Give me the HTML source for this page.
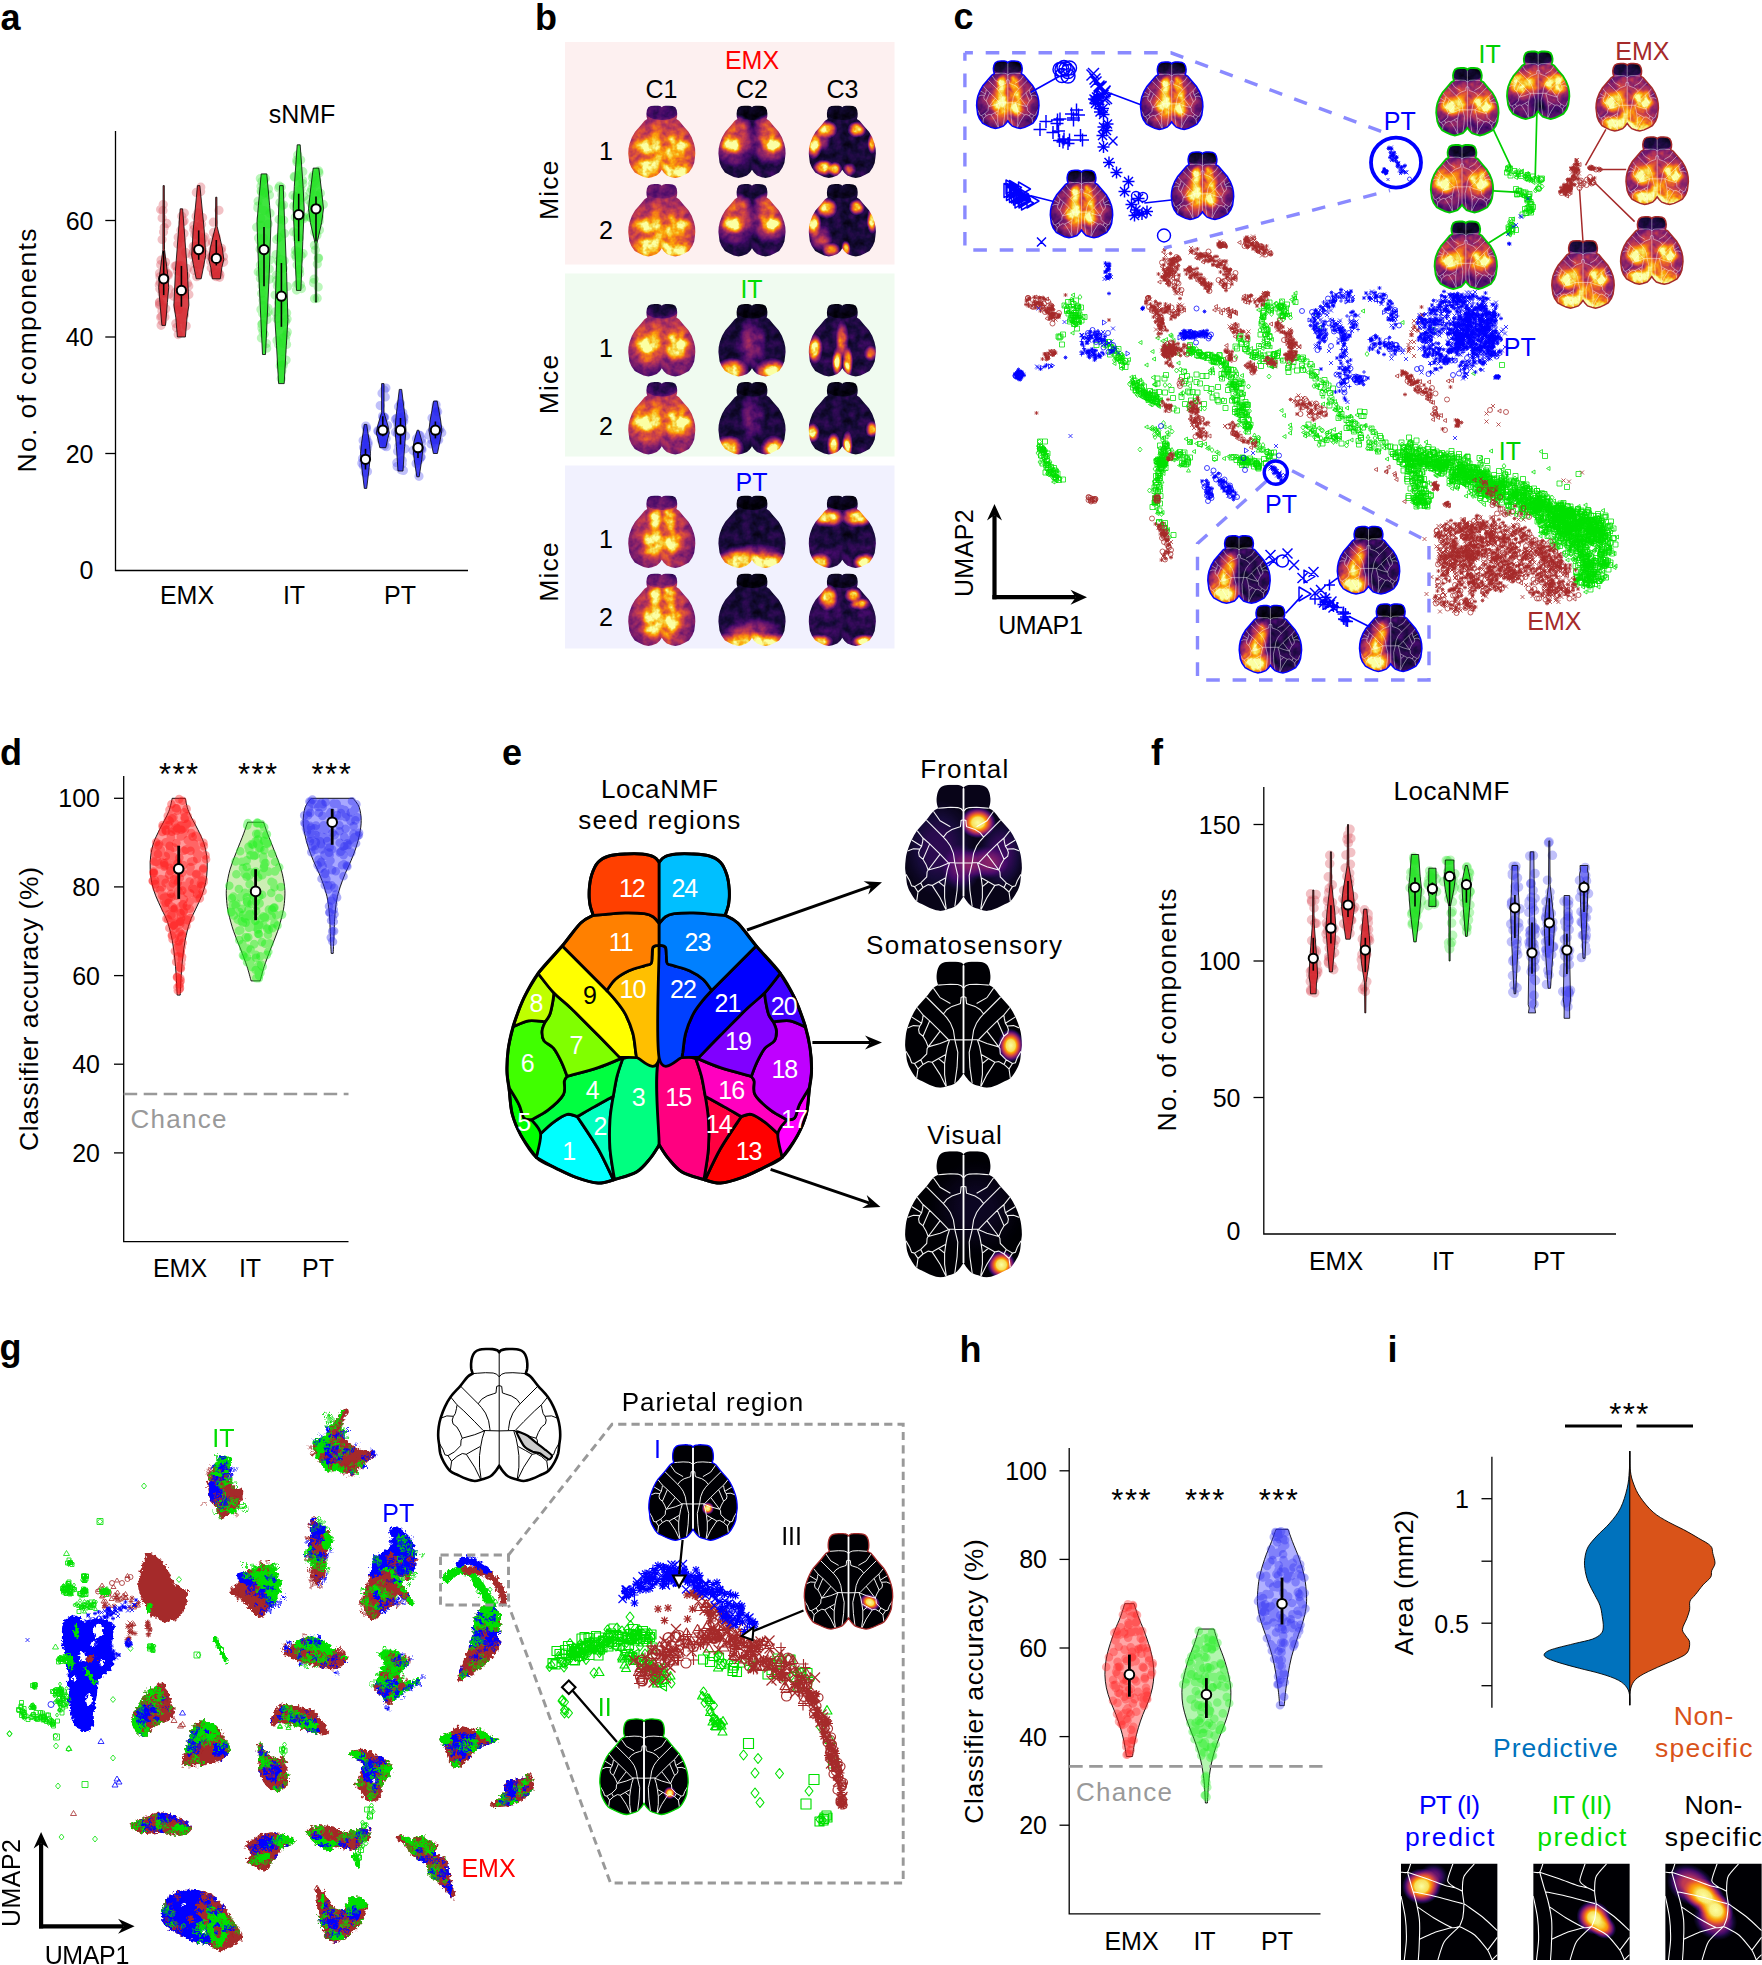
<!DOCTYPE html><html><head><meta charset="utf-8"><title>Figure</title><style>html,body{margin:0;padding:0;background:#fff}svg{display:block}</style></head><body><svg width="1762" height="1965" viewBox="0 0 1762 1965" font-family="'Liberation Sans',Arial,sans-serif" font-size="25"><defs><radialGradient id="hb"><stop offset="0" stop-color="#fff"/><stop offset=".35" stop-color="#fff" stop-opacity=".92"/><stop offset=".65" stop-color="#fff" stop-opacity=".5"/><stop offset=".85" stop-color="#fff" stop-opacity=".17"/><stop offset="1" stop-color="#fff" stop-opacity="0"/></radialGradient><radialGradient id="db"><stop offset="0" stop-color="#000" stop-opacity=".9"/><stop offset=".6" stop-color="#000" stop-opacity=".45"/><stop offset="1" stop-color="#000" stop-opacity="0"/></radialGradient><filter id="inf" color-interpolation-filters="sRGB" x="0" y="0" width="1" height="1"><feComponentTransfer><feFuncR type="table" tableValues="0 .086 .259 .416 .576 .737 .867 .953 .988 .965 .988"/><feFuncG type="table" tableValues="0 .043 .039 .09 .149 .216 .318 .471 .647 .843 1"/><feFuncB type="table" tableValues=".016 .224 .408 .431 .404 .329 .227 .098 .039 .275 .643"/></feComponentTransfer></filter><filter id="infn" color-interpolation-filters="sRGB" x="0" y="0" width="1" height="1"><feTurbulence type="fractalNoise" baseFrequency=".11" numOctaves="3" seed="4"/><feColorMatrix type="matrix" values="1 0 0 0 0 1 0 0 0 0 1 0 0 0 0 0 0 0 0 1" result="n"/><feComposite in="SourceGraphic" in2="n" operator="arithmetic" k1=".7" k2=".65" k3=".14" k4="-.07"/><feComponentTransfer><feFuncR type="table" tableValues="0 .086 .259 .416 .576 .737 .867 .953 .988 .965 .988"/><feFuncG type="table" tableValues="0 .043 .039 .09 .149 .216 .318 .471 .647 .843 1"/><feFuncB type="table" tableValues=".016 .224 .408 .431 .404 .329 .227 .098 .039 .275 .643"/></feComponentTransfer></filter><clipPath id="bc72_6"><path d="M0 1.8L-1.1 0.7L-3.7 0L-7.1 0L-10.9 0.4L-13.5 1.8L-14.9 4.6L-15.4 8L-15.3 11L-14.6 13.5L-17.3 15.2L-21.4 20.3L-26.7 26.3L-29.9 31.8L-32.2 38L-33.3 42.9L-33.6 48L-33.1 52.3L-32.4 57.4L-30.5 62L-27.1 66.9L-22.9 69.3L-18.2 71.4L-13.5 72.6L-9.7 71.7L-5 70.1L-2 67.2L0 64.2L2 67.2L5 70.1L9.7 71.7L13.5 72.6L18.2 71.4L22.9 69.3L27.1 66.9L30.5 62L32.4 57.4L33.1 52.3L33.6 48L33.3 42.9L32.2 38L29.9 31.8L26.7 26.3L21.4 20.3L17.3 15.2L14.6 13.5L15.3 11L15.4 8L14.9 4.6L13.5 1.8L10.9 0.4L7.1 0L3.7 0L1.1 0.7Z"/></clipPath><path id="bo72_6" d="M0 1.8L-1.1 0.7L-3.7 0L-7.1 0L-10.9 0.4L-13.5 1.8L-14.9 4.6L-15.4 8L-15.3 11L-14.6 13.5L-17.3 15.2L-21.4 20.3L-26.7 26.3L-29.9 31.8L-32.2 38L-33.3 42.9L-33.6 48L-33.1 52.3L-32.4 57.4L-30.5 62L-27.1 66.9L-22.9 69.3L-18.2 71.4L-13.5 72.6L-9.7 71.7L-5 70.1L-2 67.2L0 64.2L2 67.2L5 70.1L9.7 71.7L13.5 72.6L18.2 71.4L22.9 69.3L27.1 66.9L30.5 62L32.4 57.4L33.1 52.3L33.6 48L33.3 42.9L32.2 38L29.9 31.8L26.7 26.3L21.4 20.3L17.3 15.2L14.6 13.5L15.3 11L15.4 8L14.9 4.6L13.5 1.8L10.9 0.4L7.1 0L3.7 0L1.1 0.7Z" fill="none"/><path id="ba72_6x" d="M-14.6 13.5L-11.8 13.3L-7.5 13L-3.3 13.2L-1.4 13.9L0 15.3M14.6 13.5L11.8 13.3L7.5 13L3.3 13.2L1.4 13.9L0 15.3M-21.4 20.3L-11.6 30.1M21.4 20.3L11.6 30.1M-11.6 30.1L-9.7 27.7L-6.7 25.8L-3.3 24.7L-1.8 24.2L-1.6 22.5L-1.4 20.6L0 20.1M11.6 30.1L9.7 27.7L6.7 25.8L3.3 24.7L1.8 24.2L1.6 22.5L1.4 20.6L0 20.1M-11.6 30.1L-9.7 32.3L-7.5 35.2L-5.8 39.5L-5.2 43.7L-5 44.9M11.6 30.1L9.7 32.3L7.5 35.2L5.8 39.5L5.2 43.7L5 44.9M-26.7 26.4L-23.3 30.6L-19.4 34L-13.5 40L-8.8 44.8M26.7 26.4L23.3 30.6L19.4 34L13.5 40L8.8 44.8M-8.8 44.8L-5 44.9L0 45M8.8 44.8L5 44.9L0 45M-32.2 38.1L-28.8 36.8L-25.2 37M32.2 38.1L28.8 36.8L25.2 37M-23.3 31L-23.5 32.7L-24.1 35.4L-25.2 37.2L-25.8 39.1L-25.4 41.2L-23.3 42.9L-21.6 45.9L-20.3 49.1M23.3 31L23.5 32.7L24.1 35.4L25.2 37.2L25.8 39.1L25.4 41.2L23.3 42.9L21.6 45.9L20.3 49.1M-20.3 49.1L-13.5 47.2L-8.4 45.1M20.3 49.1L13.5 47.2L8.4 45.1M-20.3 49.1L-20.9 50.1L-21.2 53.1L-24.6 56.5L-28.2 58.6M20.3 49.1L20.9 50.1L21.2 53.1L24.6 56.5L28.2 58.6M-33.1 51.6L-30.9 55.2L-29.9 58.2L-28.2 58.6M33.1 51.6L30.9 55.2L29.9 58.2L28.2 58.6M-28.2 58.6L-26.2 61.7L-26.9 66.9M28.2 58.6L26.2 61.7L26.9 66.9M-26.2 61.7L-23.3 59.2L-20.3 57.5L-18.1 57.9M26.2 61.7L23.3 59.2L20.3 57.5L18.1 57.9M-18.1 57.9L-14.3 55.8L-10.4 53.6M18.1 57.9L14.3 55.8L10.4 53.6M-8 45.1L-9.3 49.1L-10.2 53.6L-10.9 58.6L-10.9 65L-9.9 71.7M8 45.1L9.3 49.1L10.2 53.6L10.9 58.6L10.9 65L9.9 71.7M-18.1 57.9L-13.5 65L-10.1 71.9M18.1 57.9L13.5 65L10.1 71.9M-17.3 15.2L-13.5 20.8L-7.5 24.2M17.3 15.2L13.5 20.8L7.5 24.2M-5 44.9L-3.3 52.3L-3.7 60.8L-5 70.1M5 44.9L3.3 52.3L3.7 60.8L5 70.1M-19.4 34L-23.3 42.9M19.4 34L23.3 42.9M-13.5 40L-20.3 49.1M13.5 40L20.3 49.1M-29.9 31.8L-24.1 35.4M29.9 31.8L24.1 35.4M-24.6 56.5L-23.3 59.2M24.6 56.5L23.3 59.2M-14.3 55.8L-10.9 58.6M14.3 55.8L10.9 58.6M0 1.8L0 64.2" fill="none"/><clipPath id="bc126_2"><path d="M0 3.2C-0.3 2.8 -0.9 1.7 -2 1.2C-3.1 0.7 -4.7 0.3 -6.4 0.1C-8.2 -0.1 -10.3 -0.1 -12.4 0C-14.4 0.1 -17.2 0.2 -19 0.7C-20.9 1.3 -22.3 2 -23.4 3.2C-24.6 4.4 -25.3 6.2 -25.9 8C-26.5 9.8 -26.7 12.1 -26.9 13.9C-27 15.8 -26.9 17.5 -26.6 19.1C-26.4 20.7 -25.5 22.8 -25.3 23.5C-26.1 24 -28.1 24.5 -30.1 26.5C-32.1 28.4 -34.4 32 -37.1 35.2C-39.8 38.4 -43.9 42.4 -46.4 45.7C-48.8 49.1 -50.3 51.9 -51.9 55.3C-53.5 58.7 -55 62.9 -56 66.1C-57 69.3 -57.5 71.7 -57.8 74.6C-58.2 77.5 -58.4 80.7 -58.4 83.4C-58.3 86.2 -57.8 88.1 -57.5 90.8C-57.1 93.6 -57.1 96.9 -56.4 99.7C-55.6 102.6 -54.6 105.1 -53 107.9C-51.5 110.6 -49.3 114.3 -47.1 116.4C-44.9 118.5 -42.3 119.1 -39.7 120.4C-37.1 121.7 -34.3 123.2 -31.6 124.1C-28.9 125.1 -25.9 126.1 -23.4 126.2C-21 126.3 -19.3 125.4 -16.8 124.7C-14.3 124 -10.9 123.2 -8.7 121.9C-6.4 120.6 -4.9 118.5 -3.5 116.7C-2 115 -0.6 112.4 0 111.6C0.6 112.4 2 115 3.5 116.7C4.9 118.5 6.4 120.6 8.7 121.9C10.9 123.2 14.3 124 16.8 124.7C19.3 125.4 21 126.3 23.4 126.2C25.9 126.1 28.9 125.1 31.6 124.1C34.3 123.2 37.1 121.7 39.7 120.4C42.3 119.1 44.9 118.5 47.1 116.4C49.3 114.3 51.5 110.6 53 107.9C54.6 105.1 55.6 102.6 56.4 99.7C57.1 96.9 57.1 93.6 57.5 90.8C57.8 88.1 58.3 86.2 58.4 83.4C58.4 80.7 58.2 77.5 57.8 74.6C57.5 71.7 57 69.3 56 66.1C55 62.9 53.5 58.7 51.9 55.3C50.3 51.9 48.8 49.1 46.4 45.7C43.9 42.4 39.8 38.4 37.1 35.2C34.4 32 32.1 28.4 30.1 26.5C28.1 24.5 26.1 24 25.3 23.5C25.5 22.8 26.4 20.7 26.6 19.1C26.9 17.5 27 15.8 26.9 13.9C26.7 12.1 26.5 9.8 25.9 8C25.3 6.2 24.6 4.4 23.4 3.2C22.3 2 20.9 1.3 19 0.7C17.2 0.2 14.4 0.1 12.4 0C10.3 -0.1 8.2 -0.1 6.4 0.1C4.7 0.3 3.1 0.7 2 1.2C0.9 1.7 0.3 2.8 0 3.2Z"/></clipPath><path id="bo126_2" d="M0 3.2C-0.3 2.8 -0.9 1.7 -2 1.2C-3.1 0.7 -4.7 0.3 -6.4 0.1C-8.2 -0.1 -10.3 -0.1 -12.4 0C-14.4 0.1 -17.2 0.2 -19 0.7C-20.9 1.3 -22.3 2 -23.4 3.2C-24.6 4.4 -25.3 6.2 -25.9 8C-26.5 9.8 -26.7 12.1 -26.9 13.9C-27 15.8 -26.9 17.5 -26.6 19.1C-26.4 20.7 -25.5 22.8 -25.3 23.5C-26.1 24 -28.1 24.5 -30.1 26.5C-32.1 28.4 -34.4 32 -37.1 35.2C-39.8 38.4 -43.9 42.4 -46.4 45.7C-48.8 49.1 -50.3 51.9 -51.9 55.3C-53.5 58.7 -55 62.9 -56 66.1C-57 69.3 -57.5 71.7 -57.8 74.6C-58.2 77.5 -58.4 80.7 -58.4 83.4C-58.3 86.2 -57.8 88.1 -57.5 90.8C-57.1 93.6 -57.1 96.9 -56.4 99.7C-55.6 102.6 -54.6 105.1 -53 107.9C-51.5 110.6 -49.3 114.3 -47.1 116.4C-44.9 118.5 -42.3 119.1 -39.7 120.4C-37.1 121.7 -34.3 123.2 -31.6 124.1C-28.9 125.1 -25.9 126.1 -23.4 126.2C-21 126.3 -19.3 125.4 -16.8 124.7C-14.3 124 -10.9 123.2 -8.7 121.9C-6.4 120.6 -4.9 118.5 -3.5 116.7C-2 115 -0.6 112.4 0 111.6C0.6 112.4 2 115 3.5 116.7C4.9 118.5 6.4 120.6 8.7 121.9C10.9 123.2 14.3 124 16.8 124.7C19.3 125.4 21 126.3 23.4 126.2C25.9 126.1 28.9 125.1 31.6 124.1C34.3 123.2 37.1 121.7 39.7 120.4C42.3 119.1 44.9 118.5 47.1 116.4C49.3 114.3 51.5 110.6 53 107.9C54.6 105.1 55.6 102.6 56.4 99.7C57.1 96.9 57.1 93.6 57.5 90.8C57.8 88.1 58.3 86.2 58.4 83.4C58.4 80.7 58.2 77.5 57.8 74.6C57.5 71.7 57 69.3 56 66.1C55 62.9 53.5 58.7 51.9 55.3C50.3 51.9 48.8 49.1 46.4 45.7C43.9 42.4 39.8 38.4 37.1 35.2C34.4 32 32.1 28.4 30.1 26.5C28.1 24.5 26.1 24 25.3 23.5C25.5 22.8 26.4 20.7 26.6 19.1C26.9 17.5 27 15.8 26.9 13.9C26.7 12.1 26.5 9.8 25.9 8C25.3 6.2 24.6 4.4 23.4 3.2C22.3 2 20.9 1.3 19 0.7C17.2 0.2 14.4 0.1 12.4 0C10.3 -0.1 8.2 -0.1 6.4 0.1C4.7 0.3 3.1 0.7 2 1.2C0.9 1.7 0.3 2.8 0 3.2Z" fill="none"/><path id="ba126_2x" d="M-25.3 23.5L-20.5 23.2L-13.1 22.6L-5.7 22.9L-2.4 24.1L0 26.6M25.3 23.5L20.5 23.2L13.1 22.6L5.7 22.9L2.4 24.1L0 26.6M-37.1 35.4L-20.1 52.4M37.1 35.4L20.1 52.4M-20.1 52.4L-16.8 48.1L-11.6 44.8L-5.7 42.9L-3.1 42L-2.7 39.1L-2.4 35.7L0 35M20.1 52.4L16.8 48.1L11.6 44.8L5.7 42.9L3.1 42L2.7 39.1L2.4 35.7L0 35M-20.1 52.4L-16.8 56.1L-13.1 61.3L-10.1 68.6L-9 76L-8.7 78.1M20.1 52.4L16.8 56.1L13.1 61.3L10.1 68.6L9 76L8.7 78.1M-46.4 45.9L-40.5 53.3L-33.8 59.2L-23.4 69.5L-15.3 77.9M46.4 45.9L40.5 53.3L33.8 59.2L23.4 69.5L15.3 77.9M-15.3 77.9L-8.7 78.1L0 78.3M15.3 77.9L8.7 78.1L0 78.3M-56 66.3L-50.1 64L-43.8 64.4M56 66.3L50.1 64L43.8 64.4M-40.5 53.9L-40.8 56.8L-41.9 61.6L-43.8 64.6L-44.9 67.9L-44.2 71.6L-40.5 74.6L-37.5 79.7L-35.3 85.3M40.5 53.9L40.8 56.8L41.9 61.6L43.8 64.6L44.9 67.9L44.2 71.6L40.5 74.6L37.5 79.7L35.3 85.3M-35.3 85.3L-23.4 82L-14.6 78.4M35.3 85.3L23.4 82L14.6 78.4M-35.3 85.3L-36.4 87.1L-36.8 92.3L-42.7 98.2L-49 101.9M35.3 85.3L36.4 87.1L36.8 92.3L42.7 98.2L49 101.9M-57.5 89.7L-53.8 96L-51.9 101.2L-49 101.9M57.5 89.7L53.8 96L51.9 101.2L49 101.9M-49 101.9L-45.5 107.3L-46.8 116.4M49 101.9L45.5 107.3L46.8 116.4M-45.5 107.3L-40.5 102.8L-35.3 99.9L-31.4 100.7M45.5 107.3L40.5 102.8L35.3 99.9L31.4 100.7M-31.4 100.7L-24.9 97L-18.1 93.2M31.4 100.7L24.9 97L18.1 93.2M-14 78.4L-16.2 85.3L-17.7 93.2L-18.9 101.9L-18.9 113L-17.2 124.7M14 78.4L16.2 85.3L17.7 93.2L18.9 101.9L18.9 113L17.2 124.7M-31.4 100.7L-23.4 113L-17.5 125M31.4 100.7L23.4 113L17.5 125M-30.1 26.5L-23.4 36.1L-13.1 42M30.1 26.5L23.4 36.1L13.1 42M-8.7 78.1L-5.7 90.8L-6.4 105.6L-8.7 121.9M8.7 78.1L5.7 90.8L6.4 105.6L8.7 121.9M-33.8 59.2L-40.5 74.6M33.8 59.2L40.5 74.6M-23.4 69.5L-35.3 85.3M23.4 69.5L35.3 85.3M-51.9 55.3L-41.9 61.6M51.9 55.3L41.9 61.6M-42.7 98.2L-40.5 102.8M42.7 98.2L40.5 102.8M-24.9 97L-18.9 101.9M24.9 97L18.9 101.9M0 3.2L0 111.6" fill="none"/><clipPath id="bc67_5"><path d="M0 1.7L-1.1 0.6L-3.4 0L-6.6 0L-10.2 0.4L-12.5 1.7L-13.8 4.3L-14.4 7.4L-14.2 10.2L-13.5 12.6L-16.1 14.2L-19.9 18.8L-24.8 24.5L-27.8 29.6L-30 35.3L-30.9 39.9L-31.2 44.6L-30.7 48.6L-30.1 53.3L-28.4 57.7L-25.2 62.2L-21.2 64.4L-16.9 66.4L-12.5 67.5L-9 66.7L-4.6 65.2L-1.9 62.4L0 59.7L1.9 62.4L4.6 65.2L9 66.7L12.5 67.5L16.9 66.4L21.2 64.4L25.2 62.2L28.4 57.7L30.1 53.3L30.7 48.6L31.2 44.6L30.9 39.9L30 35.3L27.8 29.6L24.8 24.5L19.9 18.8L16.1 14.2L13.5 12.6L14.2 10.2L14.4 7.4L13.8 4.3L12.5 1.7L10.2 0.4L6.6 0L3.4 0L1.1 0.6Z"/></clipPath><path id="bo67_5" d="M0 1.7L-1.1 0.6L-3.4 0L-6.6 0L-10.2 0.4L-12.5 1.7L-13.8 4.3L-14.4 7.4L-14.2 10.2L-13.5 12.6L-16.1 14.2L-19.9 18.8L-24.8 24.5L-27.8 29.6L-30 35.3L-30.9 39.9L-31.2 44.6L-30.7 48.6L-30.1 53.3L-28.4 57.7L-25.2 62.2L-21.2 64.4L-16.9 66.4L-12.5 67.5L-9 66.7L-4.6 65.2L-1.9 62.4L0 59.7L1.9 62.4L4.6 65.2L9 66.7L12.5 67.5L16.9 66.4L21.2 64.4L25.2 62.2L28.4 57.7L30.1 53.3L30.7 48.6L31.2 44.6L30.9 39.9L30 35.3L27.8 29.6L24.8 24.5L19.9 18.8L16.1 14.2L13.5 12.6L14.2 10.2L14.4 7.4L13.8 4.3L12.5 1.7L10.2 0.4L6.6 0L3.4 0L1.1 0.6Z" fill="none"/><path id="ba67_5x" d="M-13.5 12.6L-11 12.4L-7 12.1L-3 12.3L-1.3 12.9L0 14.2M13.5 12.6L11 12.4L7 12.1L3 12.3L1.3 12.9L0 14.2M-19.9 18.9L-10.8 28M19.9 18.9L10.8 28M-10.8 28L-9 25.7L-6.2 24L-3 22.9L-1.7 22.5L-1.5 20.9L-1.3 19.1L0 18.7M10.8 28L9 25.7L6.2 24L3 22.9L1.7 22.5L1.5 20.9L1.3 19.1L0 18.7M-10.8 28L-9 30L-7 32.8L-5.4 36.7L-4.8 40.7L-4.6 41.8M10.8 28L9 30L7 32.8L5.4 36.7L4.8 40.7L4.6 41.8M-24.8 24.5L-21.6 28.5L-18.1 31.7L-12.5 37.2L-8.2 41.7M24.8 24.5L21.6 28.5L18.1 31.7L12.5 37.2L8.2 41.7M-8.2 41.7L-4.6 41.8L0 41.9M8.2 41.7L4.6 41.8L0 41.9M-30 35.5L-26.8 34.2L-23.4 34.4M30 35.5L26.8 34.2L23.4 34.4M-21.6 28.8L-21.8 30.4L-22.4 33L-23.4 34.5L-24 36.3L-23.6 38.3L-21.6 39.9L-20.1 42.7L-18.9 45.6M21.6 28.8L21.8 30.4L22.4 33L23.4 34.5L24 36.3L23.6 38.3L21.6 39.9L20.1 42.7L18.9 45.6M-18.9 45.6L-12.5 43.8L-7.8 41.9M18.9 45.6L12.5 43.8L7.8 41.9M-18.9 45.6L-19.5 46.6L-19.7 49.4L-22.8 52.5L-26.2 54.5M18.9 45.6L19.5 46.6L19.7 49.4L22.8 52.5L26.2 54.5M-30.7 48L-28.8 51.4L-27.8 54.1L-26.2 54.5M30.7 48L28.8 51.4L27.8 54.1L26.2 54.5M-26.2 54.5L-24.3 57.4L-25 62.2M26.2 54.5L24.3 57.4L25 62.2M-24.3 57.4L-21.6 55L-18.9 53.4L-16.8 53.8M24.3 57.4L21.6 55L18.9 53.4L16.8 53.8M-16.8 53.8L-13.3 51.9L-9.7 49.9M16.8 53.8L13.3 51.9L9.7 49.9M-7.5 41.9L-8.7 45.6L-9.5 49.9L-10.1 54.5L-10.1 60.5L-9.2 66.7M7.5 41.9L8.7 45.6L9.5 49.9L10.1 54.5L10.1 60.5L9.2 66.7M-16.8 53.8L-12.5 60.5L-9.4 66.9M16.8 53.8L12.5 60.5L9.4 66.9M-16.1 14.2L-12.5 19.3L-7 22.5M16.1 14.2L12.5 19.3L7 22.5M-4.6 41.8L-3 48.6L-3.4 56.5L-4.6 65.2M4.6 41.8L3 48.6L3.4 56.5L4.6 65.2M-18.1 31.7L-21.6 39.9M18.1 31.7L21.6 39.9M-12.5 37.2L-18.9 45.6M12.5 37.2L18.9 45.6M-27.8 29.6L-22.4 33M27.8 29.6L22.4 33M-22.8 52.5L-21.6 55M22.8 52.5L21.6 55M-13.3 51.9L-10.1 54.5M13.3 51.9L10.1 54.5M0 1.7L0 59.7" fill="none"/><clipPath id="bc95_5"><path d="M0 2.4C-0.3 2.2 -0.7 1.3 -1.5 0.9C-2.3 0.5 -3.6 0.2 -4.9 0.1C-6.2 -0.1 -7.8 -0.1 -9.3 0C-10.9 0.1 -13 0.2 -14.4 0.6C-15.8 1 -16.9 1.5 -17.7 2.4C-18.6 3.3 -19.2 4.7 -19.6 6C-20 7.4 -20.2 9.1 -20.3 10.5C-20.4 11.9 -20.3 13.2 -20.2 14.4C-20 15.7 -19.3 17.2 -19.1 17.8C-19.8 18.2 -21.3 18.6 -22.8 20C-24.3 21.5 -26 24.2 -28.1 26.6C-30.2 29.1 -33.2 32.1 -35.1 34.6C-37 37.1 -38.1 39.3 -39.3 41.9C-40.5 44.4 -41.6 47.6 -42.4 50C-43.1 52.4 -43.5 54.2 -43.8 56.4C-44.1 58.6 -44.2 61.1 -44.2 63.1C-44.1 65.2 -43.7 66.7 -43.5 68.7C-43.2 70.8 -43.2 73.3 -42.7 75.5C-42.1 77.6 -41.3 79.5 -40.1 81.6C-39 83.7 -37.3 86.5 -35.7 88.1C-34 89.6 -32 90.2 -30.1 91.1C-28.1 92.1 -26 93.2 -23.9 93.9C-21.9 94.7 -19.6 95.4 -17.7 95.5C-15.9 95.6 -14.6 94.9 -12.7 94.4C-10.8 93.8 -8.2 93.3 -6.5 92.3C-4.9 91.2 -3.7 89.6 -2.6 88.3C-1.5 87 -0.4 85.1 0 84.4C0.4 85.1 1.5 87 2.6 88.3C3.7 89.6 4.9 91.2 6.5 92.3C8.2 93.3 10.8 93.8 12.7 94.4C14.6 94.9 15.9 95.6 17.7 95.5C19.6 95.4 21.9 94.7 23.9 93.9C26 93.2 28.1 92.1 30.1 91.1C32 90.2 34 89.6 35.7 88.1C37.3 86.5 39 83.7 40.1 81.6C41.3 79.5 42.1 77.6 42.7 75.5C43.2 73.3 43.2 70.8 43.5 68.7C43.7 66.7 44.1 65.2 44.2 63.1C44.2 61.1 44.1 58.6 43.8 56.4C43.5 54.2 43.1 52.4 42.4 50C41.6 47.6 40.5 44.4 39.3 41.9C38.1 39.3 37 37.1 35.1 34.6C33.2 32.1 30.2 29.1 28.1 26.6C26 24.2 24.3 21.5 22.8 20C21.3 18.6 19.8 18.2 19.1 17.8C19.3 17.2 20 15.7 20.2 14.4C20.3 13.2 20.4 11.9 20.3 10.5C20.2 9.1 20 7.4 19.6 6C19.2 4.7 18.6 3.3 17.7 2.4C16.9 1.5 15.8 1 14.4 0.6C13 0.2 10.9 0.1 9.3 0C7.8 -0.1 6.2 -0.1 4.9 0.1C3.6 0.2 2.3 0.5 1.5 0.9C0.7 1.3 0.3 2.2 0 2.4Z"/></clipPath><path id="bo95_5" d="M0 2.4C-0.3 2.2 -0.7 1.3 -1.5 0.9C-2.3 0.5 -3.6 0.2 -4.9 0.1C-6.2 -0.1 -7.8 -0.1 -9.3 0C-10.9 0.1 -13 0.2 -14.4 0.6C-15.8 1 -16.9 1.5 -17.7 2.4C-18.6 3.3 -19.2 4.7 -19.6 6C-20 7.4 -20.2 9.1 -20.3 10.5C-20.4 11.9 -20.3 13.2 -20.2 14.4C-20 15.7 -19.3 17.2 -19.1 17.8C-19.8 18.2 -21.3 18.6 -22.8 20C-24.3 21.5 -26 24.2 -28.1 26.6C-30.2 29.1 -33.2 32.1 -35.1 34.6C-37 37.1 -38.1 39.3 -39.3 41.9C-40.5 44.4 -41.6 47.6 -42.4 50C-43.1 52.4 -43.5 54.2 -43.8 56.4C-44.1 58.6 -44.2 61.1 -44.2 63.1C-44.1 65.2 -43.7 66.7 -43.5 68.7C-43.2 70.8 -43.2 73.3 -42.7 75.5C-42.1 77.6 -41.3 79.5 -40.1 81.6C-39 83.7 -37.3 86.5 -35.7 88.1C-34 89.6 -32 90.2 -30.1 91.1C-28.1 92.1 -26 93.2 -23.9 93.9C-21.9 94.7 -19.6 95.4 -17.7 95.5C-15.9 95.6 -14.6 94.9 -12.7 94.4C-10.8 93.8 -8.2 93.3 -6.5 92.3C-4.9 91.2 -3.7 89.6 -2.6 88.3C-1.5 87 -0.4 85.1 0 84.4C0.4 85.1 1.5 87 2.6 88.3C3.7 89.6 4.9 91.2 6.5 92.3C8.2 93.3 10.8 93.8 12.7 94.4C14.6 94.9 15.9 95.6 17.7 95.5C19.6 95.4 21.9 94.7 23.9 93.9C26 93.2 28.1 92.1 30.1 91.1C32 90.2 34 89.6 35.7 88.1C37.3 86.5 39 83.7 40.1 81.6C41.3 79.5 42.1 77.6 42.7 75.5C43.2 73.3 43.2 70.8 43.5 68.7C43.7 66.7 44.1 65.2 44.2 63.1C44.2 61.1 44.1 58.6 43.8 56.4C43.5 54.2 43.1 52.4 42.4 50C41.6 47.6 40.5 44.4 39.3 41.9C38.1 39.3 37 37.1 35.1 34.6C33.2 32.1 30.2 29.1 28.1 26.6C26 24.2 24.3 21.5 22.8 20C21.3 18.6 19.8 18.2 19.1 17.8C19.3 17.2 20 15.7 20.2 14.4C20.3 13.2 20.4 11.9 20.3 10.5C20.2 9.1 20 7.4 19.6 6C19.2 4.7 18.6 3.3 17.7 2.4C16.9 1.5 15.8 1 14.4 0.6C13 0.2 10.9 0.1 9.3 0C7.8 -0.1 6.2 -0.1 4.9 0.1C3.6 0.2 2.3 0.5 1.5 0.9C0.7 1.3 0.3 2.2 0 2.4Z" fill="none"/><path id="ba95_5x" d="M-19.1 17.8L-15.5 17.5L-9.9 17.1L-4.3 17.4L-1.8 18.2L0 20.2M19.1 17.8L15.5 17.5L9.9 17.1L4.3 17.4L1.8 18.2L0 20.2M-28.1 26.8L-15.2 39.6M28.1 26.8L15.2 39.6M-15.2 39.6L-12.7 36.4L-8.8 33.9L-4.3 32.5L-2.4 31.8L-2.1 29.6L-1.8 27L0 26.5M15.2 39.6L12.7 36.4L8.8 33.9L4.3 32.5L2.4 31.8L2.1 29.6L1.8 27L0 26.5M-15.2 39.6L-12.7 42.4L-9.9 46.4L-7.7 51.9L-6.8 57.5L-6.5 59.1M15.2 39.6L12.7 42.4L9.9 46.4L7.7 51.9L6.8 57.5L6.5 59.1M-35.1 34.7L-30.6 40.3L-25.6 44.8L-17.7 52.6L-11.6 58.9M35.1 34.7L30.6 40.3L25.6 44.8L17.7 52.6L11.6 58.9M-11.6 58.9L-6.5 59.1L0 59.2M11.6 58.9L6.5 59.1L0 59.2M-42.4 50.2L-37.9 48.4L-33.1 48.7M42.4 50.2L37.9 48.4L33.1 48.7M-30.6 40.8L-30.9 43L-31.7 46.6L-33.1 48.9L-34 51.4L-33.4 54.2L-30.6 56.4L-28.4 60.3L-26.7 64.5M30.6 40.8L30.9 43L31.7 46.6L33.1 48.9L34 51.4L33.4 54.2L30.6 56.4L28.4 60.3L26.7 64.5M-26.7 64.5L-17.7 62L-11 59.3M26.7 64.5L17.7 62L11 59.3M-26.7 64.5L-27.5 65.9L-27.8 69.9L-32.3 74.3L-37.1 77.1M26.7 64.5L27.5 65.9L27.8 69.9L32.3 74.3L37.1 77.1M-43.5 67.9L-40.7 72.7L-39.3 76.6L-37.1 77.1M43.5 67.9L40.7 72.7L39.3 76.6L37.1 77.1M-37.1 77.1L-34.4 81.2L-35.4 88.1M37.1 77.1L34.4 81.2L35.4 88.1M-34.4 81.2L-30.6 77.8L-26.7 75.6L-23.8 76.2M34.4 81.2L30.6 77.8L26.7 75.6L23.8 76.2M-23.8 76.2L-18.9 73.4L-13.7 70.5M23.8 76.2L18.9 73.4L13.7 70.5M-10.6 59.3L-12.3 64.5L-13.4 70.5L-14.3 77.1L-14.3 85.5L-13 94.4M10.6 59.3L12.3 64.5L13.4 70.5L14.3 77.1L14.3 85.5L13 94.4M-23.8 76.2L-17.7 85.5L-13.3 94.6M23.8 76.2L17.7 85.5L13.3 94.6M-22.8 20L-17.7 27.3L-9.9 31.8M22.8 20L17.7 27.3L9.9 31.8M-6.5 59.1L-4.3 68.7L-4.9 79.9L-6.5 92.3M6.5 59.1L4.3 68.7L4.9 79.9L6.5 92.3M-25.6 44.8L-30.6 56.4M25.6 44.8L30.6 56.4M-17.7 52.6L-26.7 64.5M17.7 52.6L26.7 64.5M-39.3 41.9L-31.7 46.6M39.3 41.9L31.7 46.6M-32.3 74.3L-30.6 77.8M32.3 74.3L30.6 77.8M-18.9 73.4L-14.3 77.1M18.9 73.4L14.3 77.1M0 2.4L0 84.4" fill="none"/></defs><text x="0.5" y="29.5" font-size="36" font-weight="bold">a</text><text x="535" y="29.5" font-size="36" font-weight="bold">b</text><text x="953.5" y="28.5" font-size="36" font-weight="bold">c</text><text x="0" y="765" font-size="36" font-weight="bold">d</text><text x="502" y="765" font-size="36" font-weight="bold">e</text><text x="1151" y="765" font-size="36" font-weight="bold">f</text><text x="-0.5" y="1360" font-size="36" font-weight="bold">g</text><text x="959.5" y="1362" font-size="36" font-weight="bold">h</text><text x="1387.5" y="1362" font-size="36" font-weight="bold">i</text><path d="M115.5 131V570.5H468" stroke="#000" stroke-width="1.3" fill="none"/><text x="93.5" y="579" font-size="25" text-anchor="end">0</text><text x="93.5" y="462.5" font-size="25" text-anchor="end">20</text><text x="93.5" y="346" font-size="25" text-anchor="end">40</text><text x="93.5" y="229.5" font-size="25" text-anchor="end">60</text><text x="302" y="123" font-size="25" text-anchor="middle">sNMF</text><text x="35.5" y="350.5" font-size="26.5" textLength="244" text-anchor="middle" transform="rotate(-90 35.5 350.5)">No. of components</text><path d="M105.3 453.5L115.5 453.5" stroke="#000" stroke-width="1.3" fill="none"/><path d="M105.3 337L115.5 337" stroke="#000" stroke-width="1.3" fill="none"/><path d="M105.3 220.5L115.5 220.5" stroke="#000" stroke-width="1.3" fill="none"/><text x="187" y="604" font-size="25" text-anchor="middle">EMX</text><text x="294" y="604" font-size="25" text-anchor="middle">IT</text><text x="400" y="604" font-size="25" text-anchor="middle">PT</text><g stroke="#d8434e" stroke-opacity="0.33" stroke-width="9.2" stroke-linecap="round" fill="none"><path d="M165.3 280.1h0M160.7 264.7h0M160.2 282.2h0M164.3 265.6h0M166.8 223.4h0M164.7 281.5h0M159.5 301.9h0M163.2 204.6h0M164.7 292.7h0M164.9 269.6h0M161.1 325.3h0M159.9 276.8h0M160.6 209.5h0M168.9 294.2h0M169 289.1h0"/><path d="M162.7 315.2h0M164.8 308h0M159.5 273.3h0M165.6 262h0M165.8 308.8h0M163 210.4h0M162.1 218h0M168.3 275.2h0M162.8 288.6h0M161.7 316.6h0M167.4 274.5h0M161 260.2h0M159.5 304.9h0M162.1 293.7h0M161 274.4h0"/><path d="M160.6 317.2h0M159.3 284.9h0M164.9 317h0M164.2 227.6h0M159.5 304.1h0M163.5 231.9h0M164.1 314.1h0M161.3 304.3h0M168.1 273.7h0M159.5 302.7h0M162.1 239.5h0M161.9 311.1h0M159.8 288.8h0M162.3 321.3h0"/></g><path d="M164.3 185.6L164.5 249.6L167.7 274.3L168.7 287.5L167.4 302.6L165.5 325.4L161.9 325.4L159.9 302.6L158.7 287.5L159.7 274.3L162.9 249.6L163.1 185.6Z" fill="#d42027" fill-opacity="0.85" stroke="#000" stroke-width="0.8" stroke-linejoin="round"/><path d="M163.7 295.1L163.7 250.8" stroke="#000" stroke-width="1.6" fill="none"/><circle cx="163.7" cy="278.8" r="4.6" fill="#fff" stroke="#000" stroke-width="2"/><g stroke="#d8434e" stroke-opacity="0.33" stroke-width="9.2" stroke-linecap="round" fill="none"><path d="M183.2 311.8h0M185.5 275.7h0M177.8 244.1h0M186.2 253.7h0M177.4 306.2h0M184.1 221.1h0M184.5 314.9h0M178.5 265.2h0M180.7 271.4h0M180.7 319.4h0M185.6 252.4h0M180.9 230.3h0M175.1 266h0M178.2 237.2h0"/><path d="M185.6 275.6h0M188.9 294.4h0M184 233.6h0M186.2 281.4h0M187.5 283.3h0M181.7 272.7h0M181.6 265.7h0M181.9 238h0M187.3 268.7h0M176.5 327.7h0M184.3 213h0M177.2 270.9h0M181.6 294.5h0M186.1 282.9h0"/><path d="M186.2 326.1h0M188.2 286.3h0M175.6 292.1h0M178.2 310h0M182.7 291.7h0M178.2 334.6h0M176.3 265.8h0M181.5 280.2h0M181.8 216.3h0M182.8 222h0M188.8 286h0M173.7 296.2h0M175.8 323.6h0"/></g><path d="M182.6 208.8L187.4 271.4L188.9 305L187 317.8L185.4 337L177.4 337L175.8 317.8L173.9 305L175.4 271.4L180.2 208.8Z" fill="#d42027" fill-opacity="0.85" stroke="#000" stroke-width="0.8" stroke-linejoin="round"/><path d="M181.4 306.7L181.4 265.9" stroke="#000" stroke-width="1.6" fill="none"/><circle cx="181.4" cy="290.4" r="4.6" fill="#fff" stroke="#000" stroke-width="2"/><g stroke="#d8434e" stroke-opacity="0.33" stroke-width="9.2" stroke-linecap="round" fill="none"><path d="M205.3 254.6h0M199.4 236.5h0M194.9 263.7h0M195 246.4h0M203.3 238.5h0M197.8 212.9h0M196.1 216.3h0M195.7 256h0M195.6 231.7h0M201.6 224.2h0M200.5 264.8h0"/><path d="M193.8 225.6h0M196.3 192.4h0M202.6 249.7h0M198.4 227.4h0M201.4 242.1h0M193.2 246.4h0M193.4 251.4h0M197 245.5h0M194.1 270.4h0M202.6 217.5h0"/><path d="M204.8 239.1h0M193.7 229.6h0M193.7 251.7h0M200.7 191.6h0M200.8 187.2h0M192.2 254.9h0M205 237.2h0M194.7 234.5h0M196.7 276.7h0M205.6 242.4h0"/></g><path d="M199.9 185.6L204.3 231L205.7 255.4L203.9 264.8L201.2 278.8L196.2 278.8L193.4 264.8L191.7 255.4L193.1 231L197.5 185.6Z" fill="#d42027" fill-opacity="0.85" stroke="#000" stroke-width="0.8" stroke-linejoin="round"/><path d="M198.7 259.8L198.7 230.4" stroke="#000" stroke-width="1.6" fill="none"/><circle cx="198.7" cy="249.6" r="4.6" fill="#fff" stroke="#000" stroke-width="2"/><g stroke="#d8434e" stroke-opacity="0.33" stroke-width="9.2" stroke-linecap="round" fill="none"><path d="M216.4 267.4h0M213.5 273.4h0M216.1 238.5h0M219.4 256.8h0M219.6 277.3h0M216.4 267.9h0M212.4 242h0M214.6 255.1h0M212.4 255.5h0M215.8 274.7h0"/><path d="M213.3 222.2h0M218.9 272.7h0M213.5 272.4h0M216 236.6h0M223.5 256.8h0M216.1 259.9h0M221.2 250.7h0M213.1 249.3h0M211.3 257.1h0"/><path d="M211.2 267.9h0M223.7 262h0M213.5 232.4h0M223 262.5h0M210.6 261.6h0M216.2 276.7h0M219 210.3h0M220 274.8h0M221.6 248.3h0"/></g><path d="M216.9 197.2L217.1 226.3L222.3 247.9L223.8 259.5L221.9 267.2L220.3 278.8L212.3 278.8L210.7 267.2L208.8 259.5L210.3 247.9L215.5 226.3L215.7 197.2Z" fill="#d42027" fill-opacity="0.85" stroke="#000" stroke-width="0.8" stroke-linejoin="round"/><path d="M216.3 265.5L216.3 240" stroke="#000" stroke-width="1.6" fill="none"/><circle cx="216.3" cy="258.4" r="4.6" fill="#fff" stroke="#000" stroke-width="2"/><g stroke="#30e830" stroke-opacity="0.33" stroke-width="9.2" stroke-linecap="round" fill="none"><path d="M260.8 218.6h0M263 300.2h0M260.2 273.2h0M263 194.3h0M264 179.7h0M258.1 201.2h0M269.9 260.1h0M270 213.2h0M264.2 334.2h0M263.6 238.1h0M263 264.5h0M260.4 278.5h0M260.4 265h0M260.3 178.6h0M261 186.3h0M266.7 317h0M267.2 319.6h0M261.6 192.2h0M268.5 189h0"/><path d="M262.9 331.5h0M261.8 324.3h0M261.4 338.1h0M262.5 279.7h0M259.9 240.8h0M264.9 192.7h0M268.2 224.1h0M258.5 237.9h0M260.1 249.2h0M268.1 312.1h0M267.9 308h0M264.1 210.5h0M269.3 279.2h0M266.5 343.6h0M262.1 286.1h0M258.1 206h0M257.8 207.9h0M261.9 181.5h0"/><path d="M265.3 178.2h0M261.1 190.9h0M264.6 311.3h0M261.6 293.4h0M263.1 305.5h0M260.9 309.6h0M258.2 271.9h0M265.8 309h0M261.2 245.9h0M256.6 227.2h0M262.6 313.5h0M266.3 312.8h0M261.9 328h0M269.5 194.9h0M262.3 323.9h0M269.3 269h0M266.7 348.2h0M260.5 225.1h0"/></g><path d="M266.8 173.9L269.6 205.3L271 222.2L269.2 275.1L265.5 354.5L262.5 354.5L258.8 275.1L257 222.2L258.4 205.3L261.2 173.9Z" fill="#1fe01f" fill-opacity="0.85" stroke="#000" stroke-width="0.8" stroke-linejoin="round"/><path d="M264 286.3L264 226.9" stroke="#000" stroke-width="1.6" fill="none"/><circle cx="264" cy="249.6" r="4.6" fill="#fff" stroke="#000" stroke-width="2"/><g stroke="#30e830" stroke-opacity="0.33" stroke-width="9.2" stroke-linecap="round" fill="none"><path d="M281.2 378.8h0M279.3 263.3h0M281.9 370.8h0M283.4 364.5h0M279.6 325.4h0M280.2 269.1h0M280 202.5h0M287.3 332.1h0M282.6 343.2h0M285.7 321.8h0M283.2 365.5h0M286.7 312.9h0M283.6 205h0M280.2 366h0M287.5 286.5h0M283.7 220.3h0M279.8 304.4h0M284.5 233.6h0M283.3 268.2h0M281 292.8h0"/><path d="M280.4 307.1h0M275.3 311.9h0M287.1 319.1h0M280.3 295.1h0M279 237.4h0M283.3 337.8h0M286.1 360h0M282.6 362.7h0M276.1 254.5h0M276.5 275.1h0M278.7 302.4h0M279.5 186.2h0M280.9 303.1h0M278.6 283.7h0M286.6 344.5h0M285.6 339.6h0M283.7 359.2h0M281.9 360.3h0M275 295.1h0M280.7 362.4h0"/><path d="M277.3 285.9h0M278.5 344.5h0M278.7 188h0M284.2 260.7h0M286.3 335h0M281.2 187.3h0M280.7 309.9h0M277 340.5h0M276.8 318.8h0M283.4 305.3h0M281.8 194.8h0M276.7 239.4h0M282 351.4h0M276.5 280.4h0M283.1 306.8h0M279.1 219.4h0M281.8 205.9h0M280.5 259.4h0M278.4 261h0M281.5 365.4h0"/></g><path d="M283.2 185.6L286.6 272.6L287.9 319.5L286.3 345.2L284.2 383.6L278.6 383.6L276.5 345.2L274.9 319.5L276.2 272.6L279.6 185.6Z" fill="#1fe01f" fill-opacity="0.85" stroke="#000" stroke-width="0.8" stroke-linejoin="round"/><path d="M281.4 326.8L281.4 263" stroke="#000" stroke-width="1.6" fill="none"/><circle cx="281.4" cy="296.2" r="4.6" fill="#fff" stroke="#000" stroke-width="2"/><g stroke="#30e830" stroke-opacity="0.33" stroke-width="9.2" stroke-linecap="round" fill="none"><path d="M294.6 177.2h0M303.7 218.8h0M295.4 250.4h0M296.5 285h0M299.3 238h0M298.1 237.9h0M296.5 290.1h0M293 195.3h0M298.5 260.7h0M293.4 231.9h0M302.8 183.6h0M301.5 288.6h0M297.1 265h0M296.3 257.5h0M298.1 251.7h0M297 162.2h0"/><path d="M304.2 217h0M297.7 154.9h0M295.2 217.3h0M300.7 160h0M293.8 205.9h0M303.1 253.5h0M298.9 200.7h0M297.2 238.7h0M295.1 254.9h0M297 196.5h0M298.1 284h0M299.5 269.7h0M294.2 176.4h0M300.4 284.7h0M296.6 175.6h0"/><path d="M302.8 171.7h0M302.6 180.3h0M297 252.1h0M299.7 273.6h0M296.2 233h0M296.4 205.1h0M296.8 160h0M299.5 257.7h0M302 197.5h0M303.8 196.4h0M301.2 255.8h0M302.5 216.6h0M298.1 222.6h0M301 189.2h0M295.4 196.9h0"/></g><path d="M300.2 144.8L303.1 186.4L304.2 208.8L302.8 241.5L300.9 290.4L296.5 290.4L294.6 241.5L293.2 208.8L294.3 186.4L297.2 144.8Z" fill="#1fe01f" fill-opacity="0.85" stroke="#000" stroke-width="0.8" stroke-linejoin="round"/><path d="M298.7 241.2L298.7 193.7" stroke="#000" stroke-width="1.6" fill="none"/><circle cx="298.7" cy="214.7" r="4.6" fill="#fff" stroke="#000" stroke-width="2"/><g stroke="#30e830" stroke-opacity="0.33" stroke-width="9.2" stroke-linecap="round" fill="none"><path d="M318.6 258h0M314.9 208.6h0M312.5 177.6h0M310.3 192.2h0M320.4 193.3h0M319 172.9h0M314.1 279.2h0M317.3 264h0M314.5 298.7h0M313.7 201.2h0M315.5 224.5h0M314.5 232.1h0M311.7 216.6h0M310.8 217.3h0"/><path d="M318.4 217.6h0M312.9 205h0M317.2 298.2h0M313.3 175.5h0M310.2 217.4h0M314.8 219.2h0M308.6 199.9h0M317 235.3h0M314.7 181.3h0M318.2 258.3h0M312.6 183.5h0M323.3 204.4h0M315.4 250h0M319.3 221.2h0"/><path d="M318.7 170.9h0M313.5 282.7h0M319.5 217.1h0M318.2 287h0M314.4 245.3h0M319.5 230h0M315.9 195.3h0M318.1 208.6h0M315.6 183.6h0M310.8 213.3h0M311.7 189h0M311.2 203.8h0M316 196.1h0M316.8 180.4h0"/></g><path d="M318.8 168.1L322 194.6L323.5 208.8L321.6 222.8L316.8 243.8L316.6 302.1L315.4 302.1L315.2 243.8L310.4 222.8L308.5 208.8L310 194.6L313.2 168.1Z" fill="#1fe01f" fill-opacity="0.85" stroke="#000" stroke-width="0.8" stroke-linejoin="round"/><path d="M316 241.5L316 196.6" stroke="#000" stroke-width="1.6" fill="none"/><circle cx="316" cy="208.8" r="4.6" fill="#fff" stroke="#000" stroke-width="2"/><g stroke="#4040f0" stroke-opacity="0.33" stroke-width="9.2" stroke-linecap="round" fill="none"><path d="M363.1 440.5h0M363.5 447.3h0M365.1 472.4h0M365.4 438.6h0M365.7 447.5h0M363.3 465.7h0M367.5 471.5h0M362.5 458.4h0"/><path d="M368.1 442.2h0M364.6 448.2h0M367.4 448.6h0M365.8 426h0M362.5 462.2h0M364.7 462.8h0M361.8 463.3h0M366.4 426.7h0"/><path d="M367.3 443.6h0M366.6 438.3h0M366.5 428.8h0M365.6 453.8h0M368.1 444.6h0M364 461.5h0M366.6 438.7h0"/></g><path d="M366.7 424.4L369.5 443.3L370.5 453.5L369.2 467.5L366.7 488.4L364.3 488.4L361.8 467.5L360.5 453.5L361.5 443.3L364.3 424.4Z" fill="#2222ee" fill-opacity="0.85" stroke="#000" stroke-width="0.8" stroke-linejoin="round"/><path d="M365.5 469.5L365.5 448.8" stroke="#000" stroke-width="1.6" fill="none"/><circle cx="365.5" cy="459.3" r="4.6" fill="#fff" stroke="#000" stroke-width="2"/><g stroke="#4040f0" stroke-opacity="0.33" stroke-width="9.2" stroke-linecap="round" fill="none"><path d="M383.1 417.7h0M378.3 431.4h0M384.4 438.7h0M386.1 438.5h0M383.2 435h0M382.8 438.4h0M384.4 445.8h0M384.7 417.3h0"/><path d="M381.2 439.7h0M380.1 429.7h0M386.5 446.7h0M387.6 425.5h0M377.8 430.7h0M384 417.7h0M385.9 388h0M381.7 434.2h0"/><path d="M382 393.2h0M383.7 416.9h0M380.2 405.6h0M385.3 396.9h0M382.6 416.1h0M384.1 442.8h0M384.2 390.2h0"/></g><path d="M384 383.6L384 412.7L388 425.9L389.3 433.1L387.7 438.9L385.8 447.7L379.8 447.7L377.9 438.9L376.3 433.1L377.6 425.9L381.6 412.7L381.6 383.6Z" fill="#2222ee" fill-opacity="0.85" stroke="#000" stroke-width="0.8" stroke-linejoin="round"/><path d="M382.8 436.3L382.8 416.2" stroke="#000" stroke-width="1.6" fill="none"/><circle cx="382.8" cy="430.2" r="4.6" fill="#fff" stroke="#000" stroke-width="2"/><g stroke="#4040f0" stroke-opacity="0.33" stroke-width="9.2" stroke-linecap="round" fill="none"><path d="M398 425.8h0M398.7 417.6h0M398.1 426.5h0M402.7 420.7h0M396.8 462.7h0M398.7 446.3h0M399.9 424.1h0M396.7 418.4h0M397.6 451.2h0M397.5 433.4h0"/><path d="M400.5 403.5h0M401.4 445.1h0M403.4 470.5h0M397.2 422.3h0M404 417.5h0M405.6 435.9h0M401.1 469.8h0M401.8 469.7h0M402.8 412.8h0"/><path d="M405.1 448.8h0M395.4 419.2h0M403.8 421.3h0M403.3 416.6h0M398.5 406.8h0M397.1 466.5h0M395.5 432.2h0M402.3 460.5h0M402.1 464.1h0"/></g><path d="M401.7 389.4L404.9 415.9L406 430.2L404.6 446.5L403 471L398 471L396.4 446.5L395 430.2L396.1 415.9L399.3 389.4Z" fill="#2222ee" fill-opacity="0.85" stroke="#000" stroke-width="0.8" stroke-linejoin="round"/><path d="M400.5 444.5L400.5 418" stroke="#000" stroke-width="1.6" fill="none"/><circle cx="400.5" cy="430.2" r="4.6" fill="#fff" stroke="#000" stroke-width="2"/><g stroke="#4040f0" stroke-opacity="0.33" stroke-width="9.2" stroke-linecap="round" fill="none"><path d="M419 476.3h0M416.6 454.1h0M420.8 457.3h0M417.2 448.8h0M416.1 463.6h0M422 450.1h0"/><path d="M416.5 438.7h0M420 450h0M413.1 450.4h0M419.2 435.4h0M421.1 457.1h0M421.5 439.2h0"/><path d="M421.7 442.8h0M419.2 459.9h0M418.8 438.2h0M421.6 448.8h0M420.1 435.4h0M418.5 460.6h0"/></g><path d="M418.8 430.2L422 441.6L423 447.7L421.8 459.3L419.2 476.8L416.8 476.8L414.2 459.3L413 447.7L414 441.6L417.2 430.2Z" fill="#2222ee" fill-opacity="0.85" stroke="#000" stroke-width="0.8" stroke-linejoin="round"/><path d="M418 457.9L418 442.4" stroke="#000" stroke-width="1.6" fill="none"/><circle cx="418" cy="447.7" r="4.6" fill="#fff" stroke="#000" stroke-width="2"/><g stroke="#4040f0" stroke-opacity="0.33" stroke-width="9.2" stroke-linecap="round" fill="none"><path d="M437.7 411.7h0M438.7 440.1h0M436.6 426.1h0M430.5 432.4h0M429.2 435.4h0M432 440.2h0M441.8 432.7h0"/><path d="M436.1 404.7h0M439.9 429.4h0M432.2 443.6h0M437.2 433.9h0M435.9 408.1h0M431 444h0M437 440h0"/><path d="M432 418h0M436.2 413h0M436.1 416.7h0M436.3 412.2h0M434.6 439.8h0M434.8 424.3h0"/></g><path d="M437.2 401.1L440.6 420L441.9 430.2L440.3 439.5L437.4 453.5L433.4 453.5L430.5 439.5L428.9 430.2L430.2 420L433.6 401.1Z" fill="#2222ee" fill-opacity="0.85" stroke="#000" stroke-width="0.8" stroke-linejoin="round"/><path d="M435.4 438.4L435.4 421.5" stroke="#000" stroke-width="1.6" fill="none"/><circle cx="435.4" cy="430.2" r="4.6" fill="#fff" stroke="#000" stroke-width="2"/><rect x="565" y="42" width="329.5" height="222.5" fill="#fdf0f0"/><rect x="565" y="273.5" width="329.5" height="183" fill="#f0fbf0"/><rect x="565" y="465.5" width="329.5" height="183" fill="#f1f1fe"/><text x="752" y="68.5" font-size="25" text-anchor="middle" fill="#ff0000">EMX</text><text x="751.5" y="298" font-size="25" text-anchor="middle" fill="#00dd00">IT</text><text x="751.5" y="490.5" font-size="25" text-anchor="middle" fill="#0000ff">PT</text><text x="661.5" y="98" font-size="25" text-anchor="middle">C1</text><text x="752" y="98" font-size="25" text-anchor="middle">C2</text><text x="842.5" y="98" font-size="25" text-anchor="middle">C3</text><text x="558" y="190.2" font-size="26.5" textLength="59.5" text-anchor="middle" transform="rotate(-90 558 190.2)">Mice</text><text x="558" y="384.6" font-size="26.5" textLength="59.5" text-anchor="middle" transform="rotate(-90 558 384.6)">Mice</text><text x="558" y="572" font-size="26.5" textLength="59.5" text-anchor="middle" transform="rotate(-90 558 572)">Mice</text><text x="606" y="160" font-size="25" text-anchor="middle">1</text><text x="606" y="238.5" font-size="25" text-anchor="middle">2</text><text x="606" y="356.5" font-size="25" text-anchor="middle">1</text><text x="606" y="434.5" font-size="25" text-anchor="middle">2</text><text x="606" y="548" font-size="25" text-anchor="middle">1</text><text x="606" y="625.5" font-size="25" text-anchor="middle">2</text><g transform="translate(661.8 105.5)"><g clip-path="url(#bc72_6)"><g filter="url(#infn)"><rect x="-34.5" y="0" width="69" height="72.6" fill="rgb(107,107,107)"/><ellipse cx="0" cy="5.1" rx="17.4" ry="9.4" fill="#000" fill-opacity="0.55"/><ellipse cx="0" cy="47.9" rx="46.9" ry="41.4" fill="url(#hb)" opacity=".5"/><ellipse cx="14.5" cy="40.7" rx="15.2" ry="12.4" fill="url(#hb)" opacity=".75"/><ellipse cx="-14.5" cy="40.7" rx="15.2" ry="12.4" fill="url(#hb)" opacity=".75"/><ellipse cx="16" cy="65.3" rx="16.6" ry="12.4" fill="url(#hb)" opacity=".95"/><ellipse cx="-16" cy="65.3" rx="16.6" ry="12.4" fill="url(#hb)" opacity=".95"/><ellipse cx="5.1" cy="52.3" rx="6.9" ry="16.6" fill="url(#hb)" opacity=".5"/><ellipse cx="-5.1" cy="52.3" rx="6.9" ry="16.6" fill="url(#hb)" opacity=".5"/></g></g></g><g transform="translate(752 105.5)"><g clip-path="url(#bc72_6)"><g filter="url(#infn)"><rect x="-34.5" y="0" width="69" height="72.6" fill="rgb(31,31,31)"/><ellipse cx="0" cy="5.1" rx="17.4" ry="9.4" fill="#000" fill-opacity="0.7"/><ellipse cx="18.9" cy="34.8" rx="23.4" ry="27.6" fill="url(#hb)" opacity=".5"/><ellipse cx="-18.9" cy="34.8" rx="23.4" ry="27.6" fill="url(#hb)" opacity=".5"/><ellipse cx="20.3" cy="38.5" rx="12.4" ry="11" fill="url(#hb)"/><ellipse cx="-20.3" cy="38.5" rx="12.4" ry="11" fill="url(#hb)"/><ellipse cx="14.5" cy="19.6" rx="13.8" ry="11" fill="url(#hb)" opacity=".35"/><ellipse cx="-14.5" cy="19.6" rx="13.8" ry="11" fill="url(#hb)" opacity=".35"/></g></g></g><g transform="translate(842.3 105.5)"><g clip-path="url(#bc72_6)"><g filter="url(#infn)"><rect x="-34.5" y="0" width="69" height="72.6" fill="rgb(26,26,26)"/><ellipse cx="0" cy="5.1" rx="17.4" ry="9.4" fill="#000" fill-opacity="0.5"/><ellipse cx="-16" cy="24" rx="11" ry="9.7" fill="url(#hb)"/><ellipse cx="14.5" cy="24" rx="9.7" ry="8.3" fill="url(#hb)" opacity=".95"/><ellipse cx="-28.3" cy="39.9" rx="8.3" ry="13.8" fill="url(#hb)"/><ellipse cx="29.8" cy="37.8" rx="4.8" ry="11" fill="url(#hb)" opacity=".8"/><ellipse cx="-18.9" cy="62.4" rx="11" ry="8.3" fill="url(#hb)" opacity=".95"/><ellipse cx="-7.3" cy="63.9" rx="7.6" ry="7.6" fill="url(#hb)" opacity=".9"/><ellipse cx="7.3" cy="63.9" rx="6.9" ry="6.9" fill="url(#hb)" opacity=".5"/><ellipse cx="-21.8" cy="32.7" rx="11" ry="13.8" fill="url(#hb)" opacity=".4"/></g></g></g><g transform="translate(661.8 184)"><g clip-path="url(#bc72_6)"><g filter="url(#infn)"><rect x="-34.5" y="0" width="69" height="72.6" fill="rgb(92,92,92)"/><ellipse cx="0" cy="5.1" rx="17.4" ry="9.4" fill="#000" fill-opacity="0.25"/><ellipse cx="0" cy="49.4" rx="46.9" ry="41.4" fill="url(#hb)" opacity=".5"/><ellipse cx="14.5" cy="42.1" rx="16.6" ry="11" fill="url(#hb)" opacity=".75"/><ellipse cx="-14.5" cy="42.1" rx="16.6" ry="11" fill="url(#hb)" opacity=".75"/><ellipse cx="14.5" cy="65.3" rx="17.9" ry="12.4" fill="url(#hb)" opacity=".9"/><ellipse cx="-14.5" cy="65.3" rx="17.9" ry="12.4" fill="url(#hb)" opacity=".9"/><ellipse cx="4.4" cy="53.7" rx="6.9" ry="16.6" fill="url(#hb)" opacity=".55"/><ellipse cx="-4.4" cy="53.7" rx="6.9" ry="16.6" fill="url(#hb)" opacity=".55"/></g></g></g><g transform="translate(752 184)"><g clip-path="url(#bc72_6)"><g filter="url(#infn)"><rect x="-34.5" y="0" width="69" height="72.6" fill="rgb(33,33,33)"/><ellipse cx="0" cy="5.1" rx="17.4" ry="9.4" fill="#000" fill-opacity="0.2"/><ellipse cx="18.1" cy="34.8" rx="23.4" ry="27.6" fill="url(#hb)" opacity=".5"/><ellipse cx="-18.1" cy="34.8" rx="23.4" ry="27.6" fill="url(#hb)" opacity=".5"/><ellipse cx="18.9" cy="39.9" rx="12.4" ry="11" fill="url(#hb)"/><ellipse cx="-18.9" cy="39.9" rx="12.4" ry="11" fill="url(#hb)"/><ellipse cx="14.5" cy="19.6" rx="13.8" ry="11" fill="url(#hb)" opacity=".4"/><ellipse cx="-14.5" cy="19.6" rx="13.8" ry="11" fill="url(#hb)" opacity=".4"/></g></g></g><g transform="translate(842.3 184)"><g clip-path="url(#bc72_6)"><g filter="url(#infn)"><rect x="-34.5" y="0" width="69" height="72.6" fill="rgb(26,26,26)"/><ellipse cx="0" cy="5.1" rx="17.4" ry="9.4" fill="#000" fill-opacity="0.4"/><ellipse cx="-16" cy="24" rx="11" ry="11" fill="url(#hb)"/><ellipse cx="14.5" cy="23.2" rx="8.3" ry="8.3" fill="url(#hb)" opacity=".9"/><ellipse cx="-29" cy="39.9" rx="8.3" ry="13.8" fill="url(#hb)"/><ellipse cx="29.8" cy="36.3" rx="5.5" ry="13.8" fill="url(#hb)"/><ellipse cx="-10.9" cy="66.1" rx="9.7" ry="7.6" fill="url(#hb)" opacity=".8"/><ellipse cx="3.6" cy="64.6" rx="4.8" ry="8.3" fill="url(#hb)" opacity=".8"/><ellipse cx="-21.8" cy="54.4" rx="12.4" ry="13.8" fill="url(#hb)" opacity=".45"/></g></g></g><g transform="translate(661.8 304)"><g clip-path="url(#bc72_6)"><g filter="url(#infn)"><rect x="-34.5" y="0" width="69" height="72.6" fill="rgb(69,69,69)"/><ellipse cx="0" cy="5.1" rx="17.4" ry="9.4" fill="#000" fill-opacity="0.7"/><ellipse cx="14.5" cy="36.3" rx="26.2" ry="34.5" fill="url(#hb)" opacity=".45"/><ellipse cx="-14.5" cy="36.3" rx="26.2" ry="34.5" fill="url(#hb)" opacity=".45"/><ellipse cx="14.5" cy="42.1" rx="13.8" ry="16.6" fill="url(#hb)"/><ellipse cx="-14.5" cy="42.1" rx="13.8" ry="16.6" fill="url(#hb)"/></g></g></g><g transform="translate(752 304)"><g clip-path="url(#bc72_6)"><g filter="url(#infn)"><rect x="-34.5" y="0" width="69" height="72.6" fill="rgb(26,26,26)"/><ellipse cx="0" cy="5.1" rx="17.4" ry="9.4" fill="#000" fill-opacity="0.7"/><ellipse cx="20.3" cy="67.5" rx="17.9" ry="13.8" fill="url(#hb)"/><ellipse cx="-20.3" cy="67.5" rx="17.9" ry="13.8" fill="url(#hb)"/><ellipse cx="0" cy="39.9" rx="16.6" ry="27.6" fill="url(#hb)" opacity=".3"/></g></g></g><g transform="translate(842.3 304)"><g clip-path="url(#bc72_6)"><g filter="url(#infn)"><rect x="-34.5" y="0" width="69" height="72.6" fill="rgb(31,31,31)"/><ellipse cx="0" cy="5.1" rx="17.4" ry="9.4" fill="#000" fill-opacity="0.7"/><ellipse cx="-27.6" cy="45" rx="8.3" ry="15.2" fill="url(#hb)"/><ellipse cx="-5.1" cy="58.1" rx="5.5" ry="15.2" fill="url(#hb)"/><ellipse cx="5.4" cy="58.1" rx="5.5" ry="15.2" fill="url(#hb)"/><ellipse cx="0" cy="36.3" rx="6.9" ry="20.7" fill="url(#hb)" opacity=".65"/><ellipse cx="28.3" cy="49.4" rx="6.9" ry="8.3" fill="url(#hb)" opacity=".65"/></g></g></g><g transform="translate(661.8 382)"><g clip-path="url(#bc72_6)"><g filter="url(#infn)"><rect x="-34.5" y="0" width="69" height="72.6" fill="rgb(84,84,84)"/><ellipse cx="0" cy="5.1" rx="17.4" ry="9.4" fill="#000" fill-opacity="0.6"/><ellipse cx="15.2" cy="36.3" rx="27.6" ry="33.1" fill="url(#hb)" opacity=".5"/><ellipse cx="-15.2" cy="36.3" rx="27.6" ry="33.1" fill="url(#hb)" opacity=".5"/><ellipse cx="16" cy="40.7" rx="16.6" ry="13.8" fill="url(#hb)"/><ellipse cx="-16" cy="40.7" rx="16.6" ry="13.8" fill="url(#hb)"/></g></g></g><g transform="translate(752 382)"><g clip-path="url(#bc72_6)"><g filter="url(#infn)"><rect x="-34.5" y="0" width="69" height="72.6" fill="rgb(26,26,26)"/><ellipse cx="0" cy="5.1" rx="17.4" ry="9.4" fill="#000" fill-opacity="0.6"/><ellipse cx="-24" cy="66.8" rx="16.6" ry="13.8" fill="url(#hb)"/><ellipse cx="21.8" cy="66.8" rx="13.8" ry="13.8" fill="url(#hb)"/><ellipse cx="0" cy="36.3" rx="13.8" ry="27.6" fill="url(#hb)" opacity=".2"/></g></g></g><g transform="translate(842.3 382)"><g clip-path="url(#bc72_6)"><g filter="url(#infn)"><rect x="-34.5" y="0" width="69" height="72.6" fill="rgb(28,28,28)"/><ellipse cx="0" cy="5.1" rx="17.4" ry="9.4" fill="#000" fill-opacity="0.7"/><ellipse cx="-29.8" cy="50.8" rx="7.6" ry="9.7" fill="url(#hb)"/><ellipse cx="29.8" cy="47.2" rx="6.9" ry="8.3" fill="url(#hb)" opacity=".85"/><ellipse cx="-8.7" cy="63.9" rx="6.9" ry="13.8" fill="url(#hb)"/><ellipse cx="5.1" cy="62.4" rx="5.5" ry="13.8" fill="url(#hb)"/></g></g></g><g transform="translate(661.8 495.5)"><g clip-path="url(#bc72_6)"><g filter="url(#infn)"><rect x="-34.5" y="0" width="69" height="72.6" fill="rgb(76,76,76)"/><ellipse cx="0" cy="5.1" rx="17.4" ry="9.4" fill="#000" fill-opacity="0.8"/><ellipse cx="0" cy="37.8" rx="35.9" ry="49.7" fill="url(#hb)" opacity=".45"/><ellipse cx="7.3" cy="23.2" rx="8.3" ry="12.4" fill="url(#hb)" opacity=".9"/><ellipse cx="-7.3" cy="23.2" rx="8.3" ry="12.4" fill="url(#hb)" opacity=".9"/><ellipse cx="8.7" cy="47.2" rx="12.4" ry="15.2" fill="url(#hb)"/><ellipse cx="-8.7" cy="47.2" rx="12.4" ry="15.2" fill="url(#hb)"/></g></g></g><g transform="translate(752 495.5)"><g clip-path="url(#bc72_6)"><g filter="url(#infn)"><rect x="-34.5" y="0" width="69" height="72.6" fill="rgb(26,26,26)"/><ellipse cx="0" cy="5.1" rx="17.4" ry="9.4" fill="#000" fill-opacity="0.8"/><ellipse cx="14.5" cy="67.5" rx="26.2" ry="12.4" fill="url(#hb)"/><ellipse cx="-14.5" cy="67.5" rx="26.2" ry="12.4" fill="url(#hb)"/><ellipse cx="0" cy="61.7" rx="38.6" ry="13.8" fill="url(#hb)" opacity=".5"/></g></g></g><g transform="translate(842.3 495.5)"><g clip-path="url(#bc72_6)"><g filter="url(#infn)"><rect x="-34.5" y="0" width="69" height="72.6" fill="rgb(38,38,38)"/><ellipse cx="0" cy="5.1" rx="17.4" ry="9.4" fill="#000" fill-opacity="0.7"/><ellipse cx="14.5" cy="21.8" rx="16.6" ry="10.3" fill="url(#hb)"/><ellipse cx="-14.5" cy="21.8" rx="16.6" ry="10.3" fill="url(#hb)"/><ellipse cx="22.5" cy="66.8" rx="12.4" ry="9.7" fill="url(#hb)"/><ellipse cx="-22.5" cy="66.8" rx="12.4" ry="9.7" fill="url(#hb)"/><ellipse cx="14.5" cy="39.9" rx="27.6" ry="13.8" fill="url(#db)" opacity=".5"/><ellipse cx="-14.5" cy="39.9" rx="27.6" ry="13.8" fill="url(#db)" opacity=".5"/></g></g></g><g transform="translate(661.8 573.5)"><g clip-path="url(#bc72_6)"><g filter="url(#infn)"><rect x="-34.5" y="0" width="69" height="72.6" fill="rgb(76,76,76)"/><ellipse cx="0" cy="5.1" rx="17.4" ry="9.4" fill="#000" fill-opacity="0.7"/><ellipse cx="0" cy="37.8" rx="35.9" ry="49.7" fill="url(#hb)" opacity=".5"/><ellipse cx="7.3" cy="21.8" rx="8.3" ry="11" fill="url(#hb)" opacity=".9"/><ellipse cx="-7.3" cy="21.8" rx="8.3" ry="11" fill="url(#hb)" opacity=".9"/><ellipse cx="8.7" cy="47.9" rx="12.4" ry="19.3" fill="url(#hb)"/><ellipse cx="-8.7" cy="47.9" rx="12.4" ry="19.3" fill="url(#hb)"/></g></g></g><g transform="translate(752 573.5)"><g clip-path="url(#bc72_6)"><g filter="url(#infn)"><rect x="-34.5" y="0" width="69" height="72.6" fill="rgb(26,26,26)"/><ellipse cx="0" cy="5.1" rx="17.4" ry="9.4" fill="#000" fill-opacity="0.8"/><ellipse cx="0" cy="70.4" rx="57.9" ry="12.4" fill="url(#hb)"/><ellipse cx="0" cy="59.5" rx="33.1" ry="16.6" fill="url(#hb)" opacity=".4"/></g></g></g><g transform="translate(842.3 573.5)"><g clip-path="url(#bc72_6)"><g filter="url(#infn)"><rect x="-34.5" y="0" width="69" height="72.6" fill="rgb(36,36,36)"/><ellipse cx="0" cy="5.1" rx="17.4" ry="9.4" fill="#000" fill-opacity="0.6"/><ellipse cx="-14.5" cy="24" rx="10.3" ry="13.8" fill="url(#hb)"/><ellipse cx="10.9" cy="21.8" rx="9" ry="7.6" fill="url(#hb)" opacity=".95"/><ellipse cx="18.1" cy="30.5" rx="11" ry="6.2" fill="url(#hb)" opacity=".8"/><ellipse cx="22.5" cy="68.2" rx="13.8" ry="7.6" fill="url(#hb)"/><ellipse cx="-22.5" cy="68.2" rx="13.8" ry="7.6" fill="url(#hb)"/></g></g></g><path d="M123.7 776V1241.7H348.5" stroke="#000" stroke-width="1.3" fill="none"/><path d="M114 1152.9L123.7 1152.9" stroke="#000" stroke-width="1.3" fill="none"/><text x="100" y="1161.9" font-size="25" text-anchor="end">20</text><path d="M114 1064.2L123.7 1064.2" stroke="#000" stroke-width="1.3" fill="none"/><text x="100" y="1073.2" font-size="25" text-anchor="end">40</text><path d="M114 975.6L123.7 975.6" stroke="#000" stroke-width="1.3" fill="none"/><text x="100" y="984.6" font-size="25" text-anchor="end">60</text><path d="M114 886.9L123.7 886.9" stroke="#000" stroke-width="1.3" fill="none"/><text x="100" y="895.9" font-size="25" text-anchor="end">80</text><path d="M114 798.3L123.7 798.3" stroke="#000" stroke-width="1.3" fill="none"/><text x="100" y="807.3" font-size="25" text-anchor="end">100</text><text x="38" y="1009" font-size="26.5" textLength="284" text-anchor="middle" transform="rotate(-90 38 1009)">Classifier accuracy (%)</text><text x="180" y="1277" font-size="25" text-anchor="middle">EMX</text><text x="250" y="1277" font-size="25" text-anchor="middle">IT</text><text x="318" y="1277" font-size="25" text-anchor="middle">PT</text><text x="179.3" y="785" font-size="31" text-anchor="middle" letter-spacing="1.5">***</text><text x="258.3" y="785" font-size="31" text-anchor="middle" letter-spacing="1.5">***</text><text x="331.9" y="785" font-size="31" text-anchor="middle" letter-spacing="1.5">***</text><path d="M123.7 1094H348.5" stroke="#999" stroke-width="2.6" stroke-dasharray="13.5 6.5" fill="none"/><text x="130.5" y="1128" font-size="26" textLength="96" fill="#999">Chance</text><path d="M185.2 798.3C185.8 800.5 186.6 806.4 188.7 811.6C190.8 816.8 195.2 824.2 197.7 829.3C200.2 834.5 202.2 838.2 203.7 842.6C205.2 847.1 206.1 851.5 206.7 855.9C207.3 860.3 207.4 864.8 207.2 869.2C207 873.6 206.6 878.1 205.7 882.5C204.8 886.9 203.4 891.4 201.7 895.8C200 900.2 197.7 904.7 195.7 909.1C193.7 913.5 191.4 917.2 189.7 922.4C187.9 927.6 186.4 934.2 185.2 940.1C184 946 183.4 951.9 182.7 957.9C182 963.8 181.6 969.4 181.2 975.6C180.8 981.8 180.4 991.8 180.2 995.1L177.2 995.1C177 991.8 176.6 981.8 176.2 975.6C175.8 969.4 175.4 963.8 174.7 957.9C174 951.9 173.4 946 172.2 940.1C171 934.2 169.4 927.6 167.7 922.4C165.9 917.2 163.7 913.5 161.7 909.1C159.7 904.7 157.4 900.2 155.7 895.8C154 891.4 152.6 886.9 151.7 882.5C150.8 878.1 150.4 873.6 150.2 869.2C150 864.8 150.1 860.3 150.7 855.9C151.3 851.5 152.2 847.1 153.7 842.6C155.2 838.2 157.2 834.5 159.7 829.3C162.2 824.2 166.6 816.8 168.7 811.6C170.8 806.4 171.6 800.5 172.2 798.3Z" fill="#ff9a9a" fill-opacity="1" stroke="#000" stroke-width="0.9" stroke-linejoin="round"/><g stroke="#ff1010" stroke-opacity="0.38" stroke-width="8.6" stroke-linecap="round" fill="none"><path d="M169.9 917.7h0M179.7 984.1h0M176.2 961.9h0M176.9 829.3h0M197.8 886.2h0M177.4 863.6h0M169.3 928h0M155.4 855h0M155.2 880.4h0M187.7 816h0M179.8 878h0M180.4 894.1h0M179.5 956.7h0M169.1 898h0M177.2 810.6h0M192.7 836.8h0M162.2 895.8h0M160.2 890h0M190.6 867.1h0M180.6 825.5h0M174.9 908.5h0M196.6 873.8h0M158 855.7h0M193.9 882.5h0M179.5 937.4h0M201.4 880.6h0M203.5 842.9h0M156.2 862h0M184 899.3h0M197.1 894.2h0M164.2 895.7h0M185 829.4h0M168.7 914.2h0M179.8 982.9h0M188.3 919.2h0M183 834.5h0M187.8 822.8h0M172.6 926h0M165.9 856.2h0M176.5 895.7h0M192.3 888.3h0M174.5 923.9h0M164.5 865.4h0M154.2 850.6h0M165.6 882.9h0M162.7 827h0M162.3 832h0M153.7 871.5h0M180.8 836.5h0M182 934h0M186.4 925.9h0M159.2 844.3h0M165.6 902.9h0M180.1 909.6h0M180.4 967.8h0M171.8 831.7h0M190.3 871.5h0M186.3 908.6h0M189.8 908.8h0M177.3 956.6h0M177.7 882.7h0M155.4 861.5h0M170.2 917.1h0M178.2 890.6h0M185.9 825.2h0M190.5 918h0M180.8 921.8h0M157.5 861.2h0M152.8 880.7h0M175.9 808.4h0M169.2 874.9h0M166.4 918.8h0M178.7 941.4h0M171 870.5h0M174.1 915.2h0M181.2 905.9h0M170.5 886.6h0M172.3 818.2h0M168.6 825h0M191.8 822.8h0M182.4 913.6h0M169.2 874.3h0M181.5 911.8h0M176.4 843h0M177 977.4h0M160.8 849.9h0M184.6 817.3h0"/><path d="M176.4 951.5h0M169.7 845.9h0M190.9 861.7h0M164.1 901.1h0M166 829.9h0M174.7 938.8h0M166.3 831.3h0M165.7 897.6h0M190.5 850.9h0M182.7 942.7h0M165.3 907.4h0M174.9 951.1h0M189.6 881.6h0M181.2 825.6h0M174.7 829.8h0M179.3 828.3h0M195.5 835.8h0M171.4 915.1h0M183 904.4h0M199.8 898.4h0M165.3 908.5h0M190.2 893.2h0M187.2 823.7h0M174.9 823.3h0M185.7 919.4h0M167.8 815.9h0M187.4 893.3h0M180.1 921.4h0M179.1 799.1h0M206.1 859.3h0M170.4 871.1h0M186.3 886.2h0M158.3 845.6h0M174 925.5h0M175.4 880.4h0M176.7 808.2h0M177.2 947.2h0M172.6 939.3h0M176.5 830.8h0M164.9 879.5h0M172.8 883.4h0M180.8 950.5h0M183.4 828.5h0M177.5 987.2h0M173.7 909.5h0M181.8 947h0M186.6 808.9h0M179.4 857.7h0M156.5 888h0M164.2 863.2h0M161.9 887.2h0M174.7 938.1h0M180.7 980.9h0M203.3 868.3h0M166.7 829.9h0M179.6 932.1h0M163.7 897.8h0M183.8 911.4h0M173.5 817.2h0M154.1 873.1h0M169.8 867.7h0M183.3 865.1h0M167.8 819.9h0M182.4 886.1h0M203.9 846.1h0M159.6 884.3h0M180.6 953.1h0M197.7 837.1h0M187.6 920.1h0M180 988.1h0M160.7 879.1h0M152.8 881.1h0M202.6 891.2h0M193.5 861h0M168 900.3h0M172.2 935.6h0M179 979.3h0M177.8 990.5h0M184.1 850.7h0M173.8 847.6h0M176.7 877.4h0M177.1 976.7h0M183.9 885.9h0M169.5 809.9h0M201.4 885.8h0M171.7 896.9h0M176.4 951h0"/><path d="M205.6 855.4h0M178.5 944.5h0M182.1 956.7h0M180.7 951.5h0M196.2 898.5h0M184.8 818.7h0M180.3 967.9h0M196 874.6h0M162.6 825h0M175.9 922.8h0M198.8 854.5h0M179.5 989.2h0M158 854h0M195.7 848.2h0M175.6 928.5h0M180.4 870.6h0M180.7 938.5h0M181.4 829.8h0M168.5 902.8h0M181.2 963.9h0M170.1 849.7h0M193.2 845.6h0M203.8 879.8h0M186.8 906.1h0M176.7 827.9h0M200.9 883.9h0M181.1 918.4h0M203.7 882.1h0M171 834.5h0M168.9 820.3h0M187.7 840.1h0M182.3 890.5h0M191.3 833.1h0M176 880.5h0M153.2 873h0M168.3 853.7h0M168 919.2h0M159.3 864.4h0M165.5 830.5h0M199.3 875.4h0M180.3 978.2h0M173.8 864.5h0M181.8 959.3h0M171.8 935.4h0M156.1 842.3h0M188.8 847.6h0M197.2 859h0M184.1 812.4h0M172.6 924.7h0M199.2 893.7h0M176.5 863.9h0M172.4 906.9h0M190 847.4h0M164.3 866.7h0M202.9 869.5h0M179.4 948h0M171.4 804.2h0M171.1 893.8h0M173.4 907.9h0M167.3 862h0M169.6 820.9h0M180.6 913.1h0M165 825.4h0M173.7 879.3h0M196.7 853.1h0M165.7 842.3h0M182.2 872.8h0M161.5 862.2h0M194 889.1h0M177.3 861.4h0M180.3 924h0M179.4 986.2h0M192.4 843.4h0M185.8 849.6h0M180.9 968.4h0M182.1 935.8h0M182.5 800.8h0M173.1 856.5h0M167.4 822.8h0M153.9 861.5h0M155.3 884.1h0M194.5 844.1h0M169 844.9h0M189.8 901.5h0M171.8 923.1h0M170.8 837.6h0"/></g><path d="M178.7 898.9L178.7 845.7" stroke="#000" stroke-width="2.8" fill="none"/><circle cx="178.7" cy="868.8" r="4.8" fill="#fff" stroke="#000" stroke-width="2"/><path d="M263.6 822.2C264.3 824.2 265.8 828.9 267.6 833.8C269.4 838.6 272.4 845.6 274.6 851.5C276.9 857.4 279.4 863.3 281.1 869.2C282.8 875.1 284 881.8 284.6 886.9C285.2 892.1 284.9 895.8 284.6 900.2C284.3 904.7 283.8 908.4 282.6 913.5C281.4 918.7 279.6 925.4 277.6 931.3C275.6 937.2 272.9 943.1 270.6 949C268.4 954.9 265.9 961.4 264.1 966.7C262.4 972 260.8 978.5 260.1 980.9L251.1 980.9C250.4 978.5 248.8 972 247.1 966.7C245.3 961.4 242.8 954.9 240.6 949C238.3 943.1 235.6 937.2 233.6 931.3C231.6 925.4 229.8 918.7 228.6 913.5C227.4 908.4 226.9 904.7 226.6 900.2C226.3 895.8 226 892.1 226.6 886.9C227.2 881.8 228.4 875.1 230.1 869.2C231.8 863.3 234.3 857.4 236.6 851.5C238.8 845.6 241.8 838.6 243.6 833.8C245.4 828.9 246.9 824.2 247.6 822.2Z" fill="#cdeeb4" fill-opacity="1" stroke="#000" stroke-width="0.9" stroke-linejoin="round"/><g stroke="#19f019" stroke-opacity="0.42" stroke-width="8.6" stroke-linecap="round" fill="none"><path d="M239.5 912.1h0M263.4 843h0M253.2 872.6h0M267.1 843.9h0M262.6 966.6h0M255.8 871.5h0M251.5 903.6h0M246.5 937.6h0M258.2 877.3h0M249.6 914.4h0M258.2 833.9h0M258.6 845.5h0M261.3 918.5h0M256.8 905.8h0M240.5 897.2h0M261.1 964.6h0M272 909.6h0M249.8 922.1h0M245.6 937.3h0M250.4 855.2h0M259.3 925h0M267.2 928.6h0M276.2 915.1h0M264.9 917.2h0M240.2 851.2h0M282.1 914.6h0M251 892.7h0M253.5 895.7h0M244.9 892.7h0M268 934.6h0M231.2 912.1h0M244.8 874h0M260.4 956.3h0M264.4 836.2h0M253.5 894.3h0M275.1 861.8h0M264.2 827.4h0M258.1 933.6h0M266.8 954.9h0M255.5 841.4h0M250.9 922.7h0M259.6 903.4h0M245 918.5h0M242.9 868.1h0M253.8 926.6h0M261.9 942.1h0M255.5 855.3h0M277.5 925.5h0M233.4 896.5h0M250 872.2h0M258.9 848.2h0M248.9 927.7h0M272.3 910.8h0M249.6 884.1h0M243 955.2h0M251.7 844.1h0M249 876h0"/><path d="M246.7 860.4h0M249.4 850.3h0M238.9 889h0M247.9 823.1h0M279.2 867.2h0M242.4 944.1h0M247.2 901.4h0M255.7 970h0M274.9 871.4h0M237.7 919.7h0M240.7 921.1h0M257.7 823.1h0M262.4 873.4h0M235.5 905.3h0M273.7 907.9h0M231.8 898.2h0M263.6 860.5h0M256.3 978.1h0M260.4 848.5h0M245.7 922.6h0M266.9 834.2h0M255.4 920.7h0M256.2 911.1h0M271.2 893h0M235.6 861.4h0M256 957.8h0M260.5 972.8h0M248 903.3h0M259.3 896.3h0M280.7 887h0M258.7 844h0M243.3 948.1h0M259 934.3h0M247.2 825.4h0M264.2 865.4h0M256.9 843.8h0M246.6 876.7h0M254 855.9h0M272.5 928.3h0M253.7 895.9h0M247.8 948.6h0M268.5 871.6h0M257.8 839.6h0M229.3 885.8h0M266.4 834.8h0M247 956.9h0M242 861.7h0M236.4 874.2h0M254.2 944.1h0M263.2 856.5h0M258.8 978.3h0M248.5 846.9h0M268.3 951.7h0M256 901.6h0M241.9 908.8h0M262.2 875.2h0M279.1 898h0"/><path d="M256.7 823.1h0M236.4 903.9h0M263.8 840.7h0M258.8 965.4h0M259 975.7h0M238.9 930.7h0M247 902.2h0M248.4 916.1h0M246.7 867h0M257.3 822.5h0M257.8 929.4h0M265.4 863h0M262.1 894.7h0M256.2 833.8h0M250.5 961.4h0M265.6 918.1h0M242.9 922.7h0M258.6 971.7h0M253.1 844.6h0M271.8 916.2h0M263.8 867.9h0M274.5 907.5h0M264.4 850.1h0M247.1 962.2h0M254.7 872.8h0M248.3 937.3h0M239.2 940.1h0M272.1 853.7h0M268.8 929.6h0M231.4 910.3h0M255.5 891.9h0M242.8 915.1h0M240.3 930.3h0M241.8 920.6h0M246.8 897.4h0M251.8 966.9h0M268.9 909.6h0M263.3 924.9h0M232.7 904.7h0M255.8 954.9h0M267.6 842.6h0M244.3 956.5h0M265.2 943.8h0M273.2 882.8h0M233.9 915.5h0M250.6 949.5h0M271.5 881.7h0M274.4 887.2h0M269.5 943.4h0M263.5 916.4h0M253.3 914.5h0M258.9 966.9h0M274.4 923.4h0M261.2 824h0M258.1 925h0M248.1 910.4h0"/></g><path d="M255.6 920.2L255.6 869.2" stroke="#000" stroke-width="2.8" fill="none"/><circle cx="255.6" cy="891.4" r="4.8" fill="#fff" stroke="#000" stroke-width="2"/><path d="M353.2 798.3C354.2 799.8 357.9 803.5 359.2 807.2C360.5 810.9 361.1 816 361.2 820.5C361.3 824.9 360.5 829.3 359.7 833.8C358.9 838.2 357.6 842.6 356.2 847.1C354.8 851.5 353 855.9 351.2 860.3C349.4 864.8 347 869.2 345.2 873.6C343.4 878.1 341.6 882.5 340.2 886.9C338.8 891.4 337.6 895.1 336.7 900.2C335.8 905.4 335.1 912.8 334.7 918C334.3 923.1 334.4 925.4 334.2 931.3C333.9 937.2 333.4 949.7 333.2 953.4L331.2 953.4C331 949.7 330.4 937.2 330.2 931.3C329.9 925.4 330.1 923.1 329.7 918C329.3 912.8 328.6 905.4 327.7 900.2C326.8 895.1 325.6 891.4 324.2 886.9C322.8 882.5 321 878.1 319.2 873.6C317.4 869.2 315 864.8 313.2 860.3C311.4 855.9 309.6 851.5 308.2 847.1C306.8 842.6 305.5 838.2 304.7 833.8C303.9 829.3 303.1 824.9 303.2 820.5C303.3 816 303.9 810.9 305.2 807.2C306.5 803.5 310.2 799.8 311.2 798.3Z" fill="#a8a8ff" fill-opacity="1" stroke="#000" stroke-width="0.9" stroke-linejoin="round"/><g stroke="#2a2af0" stroke-opacity="0.38" stroke-width="8.6" stroke-linecap="round" fill="none"><path d="M343.5 876.2h0M322.9 837.1h0M320.6 837.5h0M321.1 843.3h0M322.7 804.2h0M317.6 803.9h0M321.9 849.4h0M329.6 912.2h0M326.6 838.3h0M315.4 849.6h0M343.9 864.4h0M345.8 814.1h0M316 825.6h0M348.7 844.9h0M342 865.2h0M334.2 887.7h0M349.6 818.8h0M331.4 900.4h0M320.7 844.3h0M310 841.3h0M333.5 898.3h0M330.8 937.6h0M310.1 825.9h0M356.1 843.3h0M307 831.5h0M310.3 812.9h0M339.7 842.7h0M339.6 831.2h0M341.5 809.1h0M357.5 836h0M350.7 821.3h0M329.1 852.6h0M309.4 801.6h0M353.5 839.8h0M357.3 817.2h0M318.9 836.7h0M353.5 833.9h0M333.7 803.6h0M318.9 812.8h0M336.7 803.8h0M332.2 931.4h0M343.2 846.5h0M320.7 862.4h0M325.4 872.3h0M305.4 823.7h0M326.4 879h0M312.9 804.1h0M344.8 810.1h0M321.5 878.7h0M318.6 859.6h0"/><path d="M329.7 847.4h0M337.1 815.1h0M334.6 835.1h0M323.6 825.3h0M322.6 807h0M350.8 812.5h0M335.8 871.3h0M346.6 848.2h0M314.6 828.4h0M331.5 900.9h0M312.9 831.1h0M353.6 826.1h0M333 918.7h0M333.2 903h0M305.9 828h0M327.1 841h0M356.4 804.3h0M333.8 909.6h0M347.4 866.5h0M333.8 921.5h0M312.4 799.6h0M359.1 832.8h0M322.7 866h0M304.4 822.9h0M308.1 815.5h0M321.3 861.7h0M314.9 846.1h0M311 838.4h0M355 809.1h0M347.5 843.3h0M332.4 941.4h0M320 868.7h0M333 941.8h0M305.4 823.6h0M352 801.3h0M328.3 889.4h0M310.3 830.2h0M351.3 852.6h0M316 842.4h0M340.8 851.6h0M321.3 803h0M319.8 828.9h0M334.1 931.1h0M325.6 829.9h0M331.5 885.4h0M324.8 885.1h0M318.3 807h0M333.5 904.1h0M311.3 852.1h0M345.6 828.8h0"/><path d="M344.3 836.9h0M328.5 864h0M339.9 852.8h0M345.7 817.3h0M328.2 885.4h0M324.4 854.6h0M346.7 865.5h0M343.6 855.1h0M333.4 818.2h0M327.8 849.8h0M332.2 849.2h0M321.1 844.3h0M325.6 802.2h0M325.2 855.8h0M332.5 832.7h0M325.2 874h0M330.1 847.5h0M324.3 873.3h0M354.4 837.4h0M320.2 841.4h0M329.7 814h0M330.9 812h0M334.5 914.3h0M336 894.6h0M340.1 816.1h0M329.7 854.7h0M308 812.4h0M310.6 802h0M329.4 912.6h0M304.2 815.4h0M311 827.5h0M350.1 840.2h0M330.5 860.5h0M328.9 847.8h0M358.9 835.2h0M322.5 815.9h0M339.4 825.4h0M312.5 846.4h0M344.4 846.3h0M329 906.3h0M310.4 834.1h0M341 813.1h0M317.6 865.1h0M315.6 834.8h0M313.2 843h0M309.1 808.1h0M331.1 920.5h0M337.1 897.4h0M332.2 870.1h0M355.4 820.4h0"/></g><path d="M332.2 844.8L332.2 808.9" stroke="#000" stroke-width="2.8" fill="none"/><circle cx="332.2" cy="822.2" r="4.8" fill="#fff" stroke="#000" stroke-width="2"/><g stroke="#000" stroke-width="2.8" stroke-linejoin="round"><path d="M540.6 1133.7C542.7 1131.8 549.2 1125.3 553.7 1122.1C558.1 1118.9 563.3 1115.3 567.2 1114.4C571.1 1113.5 575.6 1116.2 577.2 1116.5L577.2 1116.5C580.7 1121.9 592 1138.2 598.1 1148.8C604.1 1159.3 610.9 1174.8 613.5 1180L613.5 1180C610.9 1180.5 604.2 1183.5 598.1 1183.1C592 1182.7 583.9 1180.2 576.8 1177.7C569.8 1175.2 562.4 1171.4 555.6 1168.1C548.9 1164.7 539.5 1159.2 536.3 1157.4L536.3 1157.4L540.6 1133.7Z" fill="#00ffff"/><path d="M777.9 1133.7C775.7 1131.8 769.2 1125.3 764.8 1122.1C760.4 1118.9 755.2 1115.3 751.3 1114.4C747.4 1113.5 742.9 1116.2 741.3 1116.5L741.3 1116.5C737.8 1121.9 726.5 1138.2 720.4 1148.8C714.4 1159.3 707.5 1174.8 705 1180L705 1180C707.5 1180.5 714.3 1183.5 720.4 1183.1C726.5 1182.7 734.6 1180.2 741.6 1177.7C748.7 1175.2 756.1 1171.4 762.9 1168.1C769.6 1164.7 778.9 1159.2 782.2 1157.4L782.2 1157.4L777.9 1133.7Z" fill="#ff0000"/><path d="M612 1097C609 1098.7 600 1103.6 594.2 1106.9C588.4 1110.1 580.1 1114.9 577.2 1116.5L577.2 1116.5C580.7 1121.9 592 1138.2 598.1 1148.8C604.1 1159.3 610.9 1174.8 613.5 1180L613.5 1180L614.5 1179.3L614.5 1179.3C613.7 1174.2 610.8 1158.7 610 1148.8C609.3 1138.9 609.5 1128.4 610 1119.8C610.5 1111.2 612.8 1100.8 613.1 1097C613.4 1093.2 612.2 1097 612 1097Z" fill="#00ffbf"/><path d="M706.5 1097C709.5 1098.7 718.5 1103.6 724.3 1106.9C730.1 1110.1 738.4 1114.9 741.3 1116.5L741.3 1116.5C737.8 1121.9 726.5 1138.2 720.4 1148.8C714.4 1159.3 707.5 1174.8 705 1180L705 1180L704 1179.3L704 1179.3C704.7 1174.2 707.7 1158.7 708.4 1148.8C709.2 1138.9 709 1128.4 708.4 1119.8C707.9 1111.2 705.7 1100.8 705.4 1097C705 1093.2 706.3 1097 706.5 1097Z" fill="#ff0040"/><path d="M622.8 1058.4C628.8 1058.4 653.2 1043.7 659.2 1058.1C665.3 1072.5 659.2 1130.4 659.2 1144.9L659.2 1144.9C657.7 1147.2 653.9 1153.9 650.2 1158.4C646.4 1162.9 642.5 1168.4 636.7 1171.9C630.9 1175.4 619 1178 615.4 1179.3L614.5 1179.3C613.7 1174.2 610.8 1158.7 610 1148.8C609.3 1138.9 609.5 1128.4 610 1119.8C610.5 1111.2 612 1104.3 613.1 1097C614.3 1089.8 615.4 1082.8 617 1076.4C618.6 1070 621.8 1061.4 622.8 1058.4Z" fill="#00ff80"/><path d="M695.7 1058.4C689.6 1058.4 665.3 1043.7 659.2 1058.1C653.2 1072.5 659.2 1130.4 659.2 1144.9L659.2 1144.9C660.8 1147.2 664.5 1153.9 668.3 1158.4C672.1 1162.9 676 1168.4 681.8 1171.9C687.6 1175.4 699.5 1178 703 1179.3L704 1179.3C704.7 1174.2 707.7 1158.7 708.4 1148.8C709.2 1138.9 709 1128.4 708.4 1119.8C707.9 1111.2 706.5 1104.3 705.4 1097C704.2 1089.8 703.1 1082.8 701.5 1076.4C699.9 1070 696.7 1061.4 695.7 1058.4Z" fill="#ff0080"/><path d="M567.2 1076.4C572.3 1074.9 589.1 1070.7 598.1 1067.7C607.1 1064.7 617.4 1060 621.2 1058.4L621.2 1058.4L622.8 1058.4L622.8 1058.4C621.8 1061.4 618.6 1070 617 1076.4C615.4 1082.8 613.8 1093.6 613.1 1097L612 1097C609 1098.7 600 1103.6 594.2 1106.9C588.4 1110.1 580.1 1114.9 577.2 1116.5L577.2 1116.5C575.6 1116.2 571.1 1113.5 567.2 1114.4C563.3 1115.3 558.1 1118.9 553.7 1122.1C549.2 1125.3 542.7 1131.8 540.6 1133.7L540.6 1133.7L531.5 1119.8L531.5 1119.8C534.2 1118.2 542.6 1114.3 547.9 1110.2C553.2 1106 560.6 1099.6 563.3 1094.7C566.1 1089.9 563.7 1084.3 564.3 1081.2C564.9 1078.2 566.7 1077.2 567.2 1076.4Z" fill="#00ff40"/><path d="M751.3 1076.4C746.1 1074.9 729.4 1070.7 720.4 1067.7C711.4 1064.7 701.1 1060 697.3 1058.4L697.3 1058.4L695.7 1058.4L695.7 1058.4C696.7 1061.4 699.9 1070 701.5 1076.4C703.1 1082.8 704.7 1093.6 705.4 1097L706.5 1097C709.5 1098.7 718.5 1103.6 724.3 1106.9C730.1 1110.1 738.4 1114.9 741.3 1116.5L741.3 1116.5C742.9 1116.2 747.4 1113.5 751.3 1114.4C755.2 1115.3 760.4 1118.9 764.8 1122.1C769.2 1125.3 775.7 1131.8 777.9 1133.7L777.9 1133.7L787 1119.8L787 1119.8C784.3 1118.2 775.9 1114.3 770.6 1110.2C765.3 1106 757.9 1099.6 755.1 1094.7C752.4 1089.9 754.8 1084.3 754.2 1081.2C753.5 1078.2 751.8 1077.2 751.3 1076.4Z" fill="#ff00bf"/><path d="M509.3 1088C509.3 1088.5 508.8 1086.5 509.3 1090.9C509.8 1095.2 510.3 1106.6 512.2 1114C514.1 1121.4 516.9 1128 520.9 1135.3C524.9 1142.5 533.7 1153.7 536.3 1157.4L536.3 1157.4C537 1153.5 541.4 1140 540.6 1133.7C539.8 1127.4 533 1122.1 531.5 1119.8L531.5 1119.8C530.2 1119.5 525.9 1120.5 523.8 1117.9C521.7 1115.3 521.4 1109.4 518.9 1104.4C516.5 1099.4 510.9 1090.7 509.3 1088Z" fill="#00ff00"/><path d="M809.2 1088C809.2 1088.5 809.7 1086.5 809.2 1090.9C808.7 1095.2 808.2 1106.6 806.3 1114C804.4 1121.4 801.6 1128 797.6 1135.3C793.6 1142.5 784.7 1153.7 782.2 1157.4L782.2 1157.4C781.5 1153.5 777.1 1140 777.9 1133.7C778.7 1127.4 785.5 1122.1 787 1119.8L787 1119.8C788.3 1119.5 792.6 1120.5 794.7 1117.9C796.8 1115.3 797.1 1109.4 799.5 1104.4C801.9 1099.4 807.6 1090.7 809.2 1088Z" fill="#ff00ff"/><path d="M513.2 1026.8C512.4 1030.4 509.4 1041 508.3 1048.4C507.3 1055.9 506.8 1065 507 1071.6C507.1 1078.2 508.9 1085.2 509.3 1088L509.3 1088C510.9 1090.7 516.5 1099.4 518.9 1104.4C521.4 1109.4 521.7 1115.3 523.8 1117.9C525.9 1120.5 530.2 1119.5 531.5 1119.8L531.5 1119.8C534.2 1118.2 542.6 1114.3 547.9 1110.2C553.2 1106 560.6 1099.6 563.3 1094.7C566.1 1089.9 563.7 1084.3 564.3 1081.2C564.9 1078.2 566.7 1077.2 567.2 1076.4L567.2 1076.4C566.2 1074 563.7 1066.6 561.4 1061.9C559.1 1057.3 556.6 1052 553.7 1048.4C550.8 1044.9 546 1043.6 544 1040.7C542.1 1037.8 541.9 1034.1 542.1 1031C542.3 1028 544.5 1023.8 545 1022.4L545 1021.8C542.3 1021.6 533.9 1020 528.6 1020.8C523.3 1021.7 515.7 1025.8 513.2 1026.8Z" fill="#40ff00"/><path d="M805.3 1026.8C806.1 1030.4 809.1 1041 810.1 1048.4C811.2 1055.9 811.7 1065 811.5 1071.6C811.3 1078.2 809.6 1085.2 809.2 1088L809.2 1088C807.6 1090.7 801.9 1099.4 799.5 1104.4C797.1 1109.4 796.8 1115.3 794.7 1117.9C792.6 1120.5 788.3 1119.5 787 1119.8L787 1119.8C784.3 1118.2 775.9 1114.3 770.6 1110.2C765.3 1106 757.9 1099.6 755.1 1094.7C752.4 1089.9 754.8 1084.3 754.2 1081.2C753.5 1078.2 751.8 1077.2 751.3 1076.4L751.3 1076.4C752.3 1074 754.8 1066.6 757.1 1061.9C759.3 1057.3 761.9 1052 764.8 1048.4C767.7 1044.9 772.5 1043.6 774.4 1040.7C776.4 1037.8 776.5 1034.1 776.4 1031C776.2 1028 774 1023.8 773.5 1022.4L773.5 1021.8C776.2 1021.6 784.6 1020 789.9 1020.8C795.2 1021.7 802.7 1025.8 805.3 1026.8Z" fill="#bf00ff"/><path d="M553.7 994.4C553.5 995.7 553.4 998.7 552.7 1002.1C552.1 1005.5 551.1 1011.3 549.8 1014.6C548.5 1018 546.3 1019.6 545 1022.4C543.7 1025.1 542.3 1028 542.1 1031C541.9 1034.1 542.1 1037.8 544 1040.7C546 1043.6 550.8 1044.9 553.7 1048.4C556.6 1052 559.1 1057.3 561.4 1061.9C563.7 1066.6 566.2 1074 567.2 1076.4L567.2 1076.4C572.3 1074.9 589.1 1070.7 598.1 1067.7C607.1 1064.7 617.4 1060 621.2 1058.4L621.2 1058.4L619.3 1057.1L619.3 1057.1C615.8 1053.5 606.1 1043.4 598.1 1035.3C590 1027.2 578.4 1015.4 571 1008.3C563.7 1001.2 556.6 995.3 553.7 992.8C550.8 990.4 553.7 993.3 553.7 993.4Z" fill="#80ff00"/><path d="M764.8 994.4C765 995.7 765.1 998.7 765.8 1002.1C766.4 1005.5 767.4 1011.3 768.7 1014.6C769.9 1018 772.2 1019.6 773.5 1022.4C774.8 1025.1 776.2 1028 776.4 1031C776.5 1034.1 776.4 1037.8 774.4 1040.7C772.5 1043.6 767.7 1044.9 764.8 1048.4C761.9 1052 759.3 1057.3 757.1 1061.9C754.8 1066.6 752.3 1074 751.3 1076.4L751.3 1076.4C746.1 1074.9 729.4 1070.7 720.4 1067.7C711.4 1064.7 701.1 1060 697.3 1058.4L697.3 1058.4L699.2 1057.1L699.2 1057.1C702.7 1053.5 712.4 1043.4 720.4 1035.3C728.5 1027.2 740 1015.4 747.4 1008.3C754.8 1001.2 761.9 995.3 764.8 992.8C767.7 990.4 764.8 993.3 764.8 993.4Z" fill="#8000ff"/><path d="M538.2 973.5C535.8 977.7 528 989.5 523.8 998.2C519.6 1007 514.9 1021.6 513.2 1026.2L513.2 1026.8C515.7 1025.8 523.3 1021.7 528.6 1020.8C533.9 1020 542.3 1021.6 545 1021.8L545 1021.8C545.8 1020.6 548.5 1017.9 549.8 1014.6C551.1 1011.4 552.1 1005.5 552.7 1002.1C553.4 998.7 553.5 995.7 553.7 994.4L553.7 992.8L538.2 973.5Z" fill="#bfff00"/><path d="M780.2 973.5C782.6 977.7 790.5 989.5 794.7 998.2C798.9 1007 803.6 1021.6 805.3 1026.2L805.3 1026.8C802.7 1025.8 795.2 1021.7 789.9 1020.8C784.6 1020 776.2 1021.6 773.5 1021.8L773.5 1021.8C772.7 1020.6 769.9 1017.9 768.7 1014.6C767.4 1011.4 766.4 1005.5 765.8 1002.1C765.1 998.7 765 995.7 764.8 994.4L764.8 992.8L780.2 973.5Z" fill="#4000ff"/><path d="M562.4 945.8L538.2 973.2L538.2 973.5C540.8 976.8 548.2 987 553.7 992.8C559.1 998.6 563.7 1001.2 571 1008.3C578.4 1015.4 590 1027.2 598.1 1035.3C606.1 1043.4 615.8 1053.5 619.3 1057.1L619.3 1057.1L636.7 1057.7L636.7 1057.7C636.5 1056.8 636.3 1056.4 635.7 1052.3C635.1 1048.2 634.6 1039.4 632.8 1033C631 1026.5 628 1019.1 625.1 1013.7C622.2 1008.2 618.5 1004 615.4 1000.2C612.4 996.3 608.2 992.1 606.8 990.5L606.8 990.5L562.4 946.1Z" fill="#ffff00"/><path d="M756.1 945.8L780.2 973.2L780.2 973.5C777.7 976.8 770.3 987 764.8 992.8C759.3 998.6 754.8 1001.2 747.4 1008.3C740 1015.4 728.5 1027.2 720.4 1035.3C712.4 1043.4 702.7 1053.5 699.2 1057.1L699.2 1057.1L681.8 1057.7L681.8 1057.7C682 1056.8 682.1 1056.4 682.8 1052.3C683.4 1048.2 683.9 1039.4 685.7 1033C687.4 1026.5 690.5 1019.1 693.4 1013.7C696.3 1008.2 700 1004 703 1000.2C706.1 996.3 710.3 992.1 711.7 990.5L711.7 990.5L756.1 946.1Z" fill="#0000ff"/><path d="M606.8 990.5C608.2 988.7 611.7 982.6 615.4 979.3C619.1 976 624.1 973.1 628.9 970.8C633.8 968.6 640.7 967 644.4 965.8C648.1 964.6 649.8 965.2 651.1 963.5C652.4 961.8 651.8 958.5 652.1 955.8C652.4 953.1 651.9 948.9 653.1 947.1C654.3 945.3 658.2 945.5 659.2 945.2L659.2 945.2C659.2 964 663 1039.3 659.2 1058.1C655.5 1076.8 640.4 1057.7 636.7 1057.7L636.7 1057.7C636.5 1056.8 636.3 1056.4 635.7 1052.3C635.1 1048.2 634.6 1039.4 632.8 1033C631 1026.5 628 1019.1 625.1 1013.7C622.2 1008.2 618.5 1004 615.4 1000.2C612.4 996.3 608.2 992.1 606.8 990.5Z" fill="#ffbf00"/><path d="M711.7 990.5C710.3 988.7 706.7 982.6 703 979.3C699.3 976 694.4 973.1 689.5 970.8C684.7 968.6 677.8 967 674.1 965.8C670.4 964.6 668.6 965.2 667.3 963.5C666.1 961.8 666.7 958.5 666.4 955.8C666.1 953.1 666.6 948.9 665.4 947.1C664.2 945.3 660.3 945.5 659.2 945.2L659.2 945.2C659.2 964 655.5 1039.3 659.2 1058.1C663 1076.8 678.1 1057.7 681.8 1057.7L681.8 1057.7C682 1056.8 682.1 1056.4 682.8 1052.3C683.4 1048.2 683.9 1039.4 685.7 1033C687.4 1026.5 690.5 1019.1 693.4 1013.7C696.3 1008.2 700 1004 703 1000.2C706.1 996.3 710.3 992.1 711.7 990.5Z" fill="#0040ff"/><path d="M659.2 923.4C658.2 922.3 655.5 918.4 653.1 916.8C650.6 915.2 649 914.4 644.4 913.7C639.7 913.1 631.5 912.8 625.1 912.9C618.7 913 611.1 913.9 605.8 914.3C600.5 914.7 595.3 915.1 593.2 915.3L593.2 915.3C591.2 916.5 585.8 917.9 580.7 923C575.6 928.1 565.4 942 562.4 945.8L562.4 946.1L606.8 990.5L606.8 990.5C608.2 988.7 611.7 982.6 615.4 979.3C619.1 976 624.1 973.1 628.9 970.8C633.8 968.6 640.7 967 644.4 965.8C648.1 964.6 649.8 965.2 651.1 963.5C652.4 961.8 651.8 958.5 652.1 955.8C652.4 953.1 651.9 948.9 653.1 947.1C654.3 945.3 658.2 945.5 659.2 945.2L659.2 945.2L659.2 923.4Z" fill="#ff8000"/><path d="M659.2 923.4C660.3 922.3 662.9 918.4 665.4 916.8C667.9 915.2 669.4 914.4 674.1 913.7C678.8 913.1 687 912.8 693.4 912.9C699.8 913 707.4 913.9 712.7 914.3C718 914.7 723.1 915.1 725.2 915.3L725.2 915.3C727.3 916.5 732.6 917.9 737.8 923C742.9 928.1 753.1 942 756.1 945.8L756.1 946.1L711.7 990.5L711.7 990.5C710.3 988.7 706.7 982.6 703 979.3C699.3 976 694.4 973.1 689.5 970.8C684.7 968.6 677.8 967 674.1 965.8C670.4 964.6 668.6 965.2 667.3 963.5C666.1 961.8 666.7 958.5 666.4 955.8C666.1 953.1 666.6 948.9 665.4 947.1C664.2 945.3 660.3 945.5 659.2 945.2L659.2 945.2L659.2 923.4Z" fill="#0080ff"/><path d="M659.2 862.2C658.4 861.3 656.8 858.3 654 857C651.2 855.6 647 854.6 642.5 854.1C637.9 853.6 632.5 853.6 627 853.9C621.5 854.2 614.5 854.4 609.6 855.8C604.8 857.2 601.1 859 598.1 862.2C595.1 865.3 593.2 870.1 591.7 874.7C590.2 879.4 589.5 885.3 589.2 890.2C588.9 895 589.1 899.5 589.8 903.7C590.4 907.9 592.7 913.3 593.2 915.3L593.2 915.3C595.3 915.1 600.5 914.7 605.8 914.3C611.1 913.9 618.7 913 625.1 912.9C631.5 912.8 639.7 913.1 644.4 913.7C649 914.4 650.6 915.2 653.1 916.8C655.5 918.4 658.2 922.3 659.2 923.4L659.2 923.4L659.2 862.2Z" fill="#ff4000"/><path d="M659.2 862.2C660.1 861.3 661.7 858.3 664.5 857C667.2 855.6 671.5 854.6 676 854.1C680.5 853.6 686 853.6 691.5 853.9C696.9 854.2 704 854.4 708.8 855.8C713.7 857.2 717.4 859 720.4 862.2C723.4 865.3 725.3 870.1 726.8 874.7C728.3 879.4 729 885.3 729.3 890.2C729.6 895 729.4 899.5 728.7 903.7C728 907.9 725.8 913.3 725.2 915.3L725.2 915.3C723.1 915.1 718 914.7 712.7 914.3C707.4 913.9 699.8 913 693.4 912.9C687 912.8 678.8 913.1 674.1 913.7C669.4 914.4 667.9 915.2 665.4 916.8C662.9 918.4 660.3 922.3 659.2 923.4L659.2 923.4L659.2 862.2Z" fill="#00bfff"/></g><path d="M659.2 862.2C658.4 861.3 656.8 858.3 654 857C651.2 855.6 647 854.6 642.5 854.1C637.9 853.6 632.5 853.6 627 853.9C621.5 854.2 614.5 854.4 609.6 855.8C604.8 857.2 601.1 859 598.1 862.2C595.1 865.3 593.2 870.1 591.7 874.7C590.2 879.4 589.5 885.3 589.2 890.2C588.9 895 589.1 899.5 589.8 903.7C590.4 907.9 592.7 913.3 593.2 915.3C591.2 916.5 585.8 917.9 580.7 923C575.6 928.1 569.4 937.4 562.4 945.8C555.3 954.1 544.7 964.4 538.2 973.2C531.8 981.9 528 989.4 523.8 998.2C519.6 1007.1 515.7 1017.9 513.2 1026.2C510.6 1034.6 509.4 1040.9 508.3 1048.4C507.3 1056 506.8 1064.5 507 1071.6C507.1 1078.6 508.4 1083.8 509.3 1090.9C510.2 1097.9 510.3 1106.6 512.2 1114C514.1 1121.4 516.9 1128 520.9 1135.3C524.9 1142.5 530.5 1152 536.3 1157.4C542.1 1162.9 548.9 1164.7 555.6 1168.1C562.4 1171.4 569.8 1175.2 576.8 1177.7C583.9 1180.2 591.6 1182.9 598.1 1183.1C604.5 1183.4 609 1181.1 615.4 1179.3C621.9 1177.4 630.9 1175.4 636.7 1171.9C642.5 1168.4 646.4 1162.9 650.2 1158.4C653.9 1153.9 657.7 1147.2 659.2 1144.9C660.8 1147.2 664.5 1153.9 668.3 1158.4C672.1 1162.9 676 1168.4 681.8 1171.9C687.6 1175.4 696.6 1177.4 703 1179.3C709.5 1181.1 714 1183.4 720.4 1183.1C726.8 1182.9 734.6 1180.2 741.6 1177.7C748.7 1175.2 756.1 1171.4 762.9 1168.1C769.6 1164.7 776.4 1162.9 782.2 1157.4C788 1152 793.6 1142.5 797.6 1135.3C801.6 1128 804.4 1121.4 806.3 1114C808.2 1106.6 808.3 1097.9 809.2 1090.9C810.1 1083.8 811.3 1078.6 811.5 1071.6C811.7 1064.5 811.2 1056 810.1 1048.4C809.1 1040.9 807.9 1034.6 805.3 1026.2C802.7 1017.9 798.9 1007.1 794.7 998.2C790.5 989.4 786.7 981.9 780.2 973.2C773.8 964.4 763.2 954.1 756.1 945.8C749 937.4 742.9 928.1 737.8 923C732.6 917.9 727.3 916.5 725.2 915.3C725.8 913.3 728 907.9 728.7 903.7C729.4 899.5 729.6 895 729.3 890.2C729 885.3 728.3 879.4 726.8 874.7C725.3 870.1 723.4 865.3 720.4 862.2C717.4 859 713.7 857.2 708.8 855.8C704 854.4 696.9 854.2 691.5 853.9C686 853.6 680.5 853.6 676 854.1C671.5 854.6 667.2 855.6 664.5 857C661.7 858.3 660.1 861.3 659.2 862.2Z" fill="none" stroke="#000" stroke-width="3" stroke-linejoin="round"/><g font-size="25" fill="#fff" text-anchor="middle" letter-spacing="-1"><text x="631.8" y="896.9">12</text><text x="684.3" y="896.9">24</text><text x="620.8" y="951">11</text><text x="697.4" y="951">23</text><text x="632.4" y="998.2">10</text><text x="683" y="998.2">22</text><text x="589.4" y="1004" fill="#000">9</text><text x="727.4" y="1011.7">21</text><text x="783.7" y="1014.6">20</text><text x="535.9" y="1011.7">8</text><text x="575.9" y="1054.2">7</text><text x="738" y="1050.3">19</text><text x="527.2" y="1071.6">6</text><text x="784.3" y="1078.3">18</text><text x="592.3" y="1098.6">4</text><text x="731.2" y="1098.6">16</text><text x="638.2" y="1106.3">3</text><text x="678.2" y="1106.3">15</text><text x="523.8" y="1131.4">5</text><text x="793.9" y="1127.5">17</text><text x="600" y="1135.3">2</text><text x="718.7" y="1133.3">14</text><text x="568.7" y="1160.3">1</text><text x="748.6" y="1160.3">13</text></g><text x="659.4" y="798" font-size="26" textLength="117" text-anchor="middle">LocaNMF</text><text x="659.3" y="829" font-size="26" textLength="162" text-anchor="middle">seed regions</text><text x="964.2" y="778" font-size="26" textLength="88" text-anchor="middle">Frontal</text><text x="964" y="954.3" font-size="26" textLength="195.8" text-anchor="middle">Somatosensory</text><text x="964.5" y="1144.3" font-size="26" textLength="74.5" text-anchor="middle">Visual</text><path d="M747 930L871.1 886.1" stroke="#000" stroke-width="3" fill="none"/><path d="M882 882.2L868.3 894.5L871.1 886.1L863.6 881.3Z" fill="#000"/><path d="M812.4 1042.6L870.4 1042.6" stroke="#000" stroke-width="3" fill="none"/><path d="M882 1042.6L865 1049.6L870.4 1042.6L865 1035.6Z" fill="#000"/><path d="M770.6 1169.3L869.6 1203.2" stroke="#000" stroke-width="3" fill="none"/><path d="M880.5 1207L862.1 1208.1L869.6 1203.2L866.7 1194.9Z" fill="#000"/><g transform="translate(963.5 784.7)"><g clip-path="url(#bc126_2)"><g filter="url(#inf)"><rect x="-59.9" y="0" width="119.9" height="126.2" fill="rgb(10,10,10)"/><ellipse cx="14.5" cy="37.9" rx="18" ry="15.6" fill="url(#hb)"/><ellipse cx="18.9" cy="78.2" rx="26.4" ry="16.8" fill="url(#hb)" opacity=".3"/><ellipse cx="-2.5" cy="83.3" rx="19.2" ry="24" fill="url(#hb)" opacity=".22"/><ellipse cx="-25.2" cy="63.1" rx="36" ry="48" fill="url(#hb)" opacity=".12"/><ellipse cx="37.9" cy="69.4" rx="24" ry="36" fill="url(#hb)" opacity=".15"/></g><use href="#ba126_2x" stroke="#fff" stroke-opacity="0.95" stroke-width="1.1"/><path d="M0 3.8V111.7" stroke="#fff" stroke-width="1.8"/></g></g><g transform="translate(963.5 961.6)"><g clip-path="url(#bc126_2)"><g filter="url(#inf)"><rect x="-59.9" y="0" width="119.9" height="126.2" fill="rgb(0,0,0)"/><ellipse cx="47.3" cy="83.9" rx="13.2" ry="16.8" fill="url(#hb)"/></g><use href="#ba126_2x" stroke="#fff" stroke-opacity="0.95" stroke-width="1.1"/><path d="M0 3.8V111.7" stroke="#fff" stroke-width="1.8"/></g></g><g transform="translate(963.5 1151.2)"><g clip-path="url(#bc126_2)"><g filter="url(#inf)"><rect x="-59.9" y="0" width="119.9" height="126.2" fill="rgb(0,0,0)"/><ellipse cx="37.9" cy="113.6" rx="14.4" ry="14.4" fill="url(#hb)"/><ellipse cx="12.6" cy="56.8" rx="48" ry="48" fill="url(#hb)" opacity=".06"/></g><use href="#ba126_2x" stroke="#fff" stroke-opacity="0.95" stroke-width="1.1"/><path d="M0 3.8V111.7" stroke="#fff" stroke-width="1.8"/></g></g><path d="M1263.8 787V1234H1616" stroke="#000" stroke-width="1.3" fill="none"/><text x="1240.5" y="1240" font-size="25" text-anchor="end">0</text><path d="M1253.5 1097.5L1263.8 1097.5" stroke="#000" stroke-width="1.3" fill="none"/><text x="1240.5" y="1106.5" font-size="25" text-anchor="end">50</text><path d="M1253.5 961L1263.8 961" stroke="#000" stroke-width="1.3" fill="none"/><text x="1240.5" y="970" font-size="25" text-anchor="end">100</text><path d="M1253.5 824.5L1263.8 824.5" stroke="#000" stroke-width="1.3" fill="none"/><text x="1240.5" y="833.5" font-size="25" text-anchor="end">150</text><text x="1451.4" y="800" font-size="26" textLength="116" text-anchor="middle">LocaNMF</text><text x="1176" y="1010" font-size="26.5" textLength="243" text-anchor="middle" transform="rotate(-90 1176 1010)">No. of components</text><text x="1336" y="1270" font-size="25" text-anchor="middle">EMX</text><text x="1443" y="1270" font-size="25" text-anchor="middle">IT</text><text x="1549" y="1270" font-size="25" text-anchor="middle">PT</text><g stroke="#d8434e" stroke-opacity="0.33" stroke-width="9.6" stroke-linecap="round" fill="none"><path d="M1314.3 974.9h0M1314.1 973.9h0M1310.4 971.3h0M1310.8 991.4h0M1311.6 919.9h0M1311.6 901.8h0M1316.4 951.5h0M1315.9 950.2h0M1310.8 974.9h0M1314.6 992.8h0M1317.8 972.3h0"/><path d="M1311.5 900.2h0M1316.2 923.3h0M1311.6 970.3h0M1314 907.9h0M1310.3 981.3h0M1312.8 976.4h0M1311.6 983h0M1311.7 940.6h0M1313.5 969.2h0M1316.2 975.1h0M1314.8 900.4h0"/><path d="M1310.6 990h0M1313.4 969.6h0M1314.6 951.5h0M1313.9 967h0M1314 979.5h0M1316.1 894.5h0M1316.7 963.8h0M1310.6 893.9h0M1314.8 923.5h0M1317.7 969.6h0"/></g><path d="M1313.8 890L1314.1 922.8L1316.7 957.4L1317.6 976L1316.5 983.1L1316.1 993.8L1310.5 993.8L1310.1 983.1L1309 976L1309.9 957.4L1312.5 922.8L1312.8 890Z" fill="#d42027" fill-opacity="0.85" stroke="#000" stroke-width="0.8" stroke-linejoin="round"/><path d="M1313.3 970.7L1313.3 937.8" stroke="#000" stroke-width="1.6" fill="none"/><circle cx="1313.3" cy="958.3" r="4.6" fill="#fff" stroke="#000" stroke-width="2"/><g stroke="#d8434e" stroke-opacity="0.33" stroke-width="9.6" stroke-linecap="round" fill="none"><path d="M1334 928.7h0M1326.3 923.1h0M1334.6 952.6h0M1327.5 901.2h0M1329.2 888.3h0M1329.8 855.4h0M1328.3 961.8h0M1332.1 965.8h0M1328.3 876.9h0M1331.2 940.9h0M1329.7 863.6h0M1326.1 934h0"/><path d="M1328.8 956.6h0M1332.4 902.6h0M1329.2 948.3h0M1329 907.7h0M1335.7 940.1h0M1330.2 909.2h0M1333.2 940.3h0M1327.9 925.6h0M1331.5 955.3h0M1332.3 884.9h0M1328.7 892.3h0M1328 898.7h0"/><path d="M1327.3 940h0M1330.7 919.4h0M1331.9 941.2h0M1328.8 963.5h0M1333.7 969.6h0M1326.5 914.4h0M1327.4 930.9h0M1328.9 960.6h0M1329.1 959h0M1332.2 945.4h0M1333.9 944.7h0M1334.8 910.2h0"/></g><path d="M1331.4 851.8L1331.7 884.6L1334.9 913L1335.9 928.2L1334.7 945.7L1332.4 971.9L1329.4 971.9L1327.2 945.7L1325.9 928.2L1326.9 913L1330.1 884.6L1330.4 851.8Z" fill="#d42027" fill-opacity="0.85" stroke="#000" stroke-width="0.8" stroke-linejoin="round"/><path d="M1330.9 943.5L1330.9 905.3" stroke="#000" stroke-width="1.6" fill="none"/><circle cx="1330.9" cy="928.2" r="4.6" fill="#fff" stroke="#000" stroke-width="2"/><g stroke="#d8434e" stroke-opacity="0.33" stroke-width="9.6" stroke-linecap="round" fill="none"><path d="M1348.1 916.5h0M1349.6 883.7h0M1349.3 927.1h0M1345.2 868.1h0M1343.6 923.7h0M1343.7 890.3h0M1351.1 906.1h0M1344.7 900.3h0M1349.7 873.2h0M1346.8 913.1h0M1345.9 900.6h0M1346.9 876.4h0"/><path d="M1349.7 879.4h0M1347.7 913.7h0M1354.9 907.2h0M1346.8 889h0M1351.7 920.4h0M1342.9 911.3h0M1346 855h0M1351.4 902.3h0M1346.2 908.7h0M1350.7 852.5h0M1350.8 838.4h0M1347 839.4h0"/><path d="M1346.9 927h0M1353.5 896.5h0M1347.8 834.9h0M1350 933.3h0M1351 919.8h0M1353.4 909.4h0M1350 829.3h0M1346.9 900h0M1342.9 898.7h0M1348.3 842.9h0M1350.4 864.3h0"/></g><path d="M1348.5 824.5L1348.8 865.5L1353.2 892.1L1354.5 906.4L1352.9 919.5L1350.2 939.2L1345.8 939.2L1343.1 919.5L1341.5 906.4L1342.8 892.1L1347.2 865.5L1347.5 824.5Z" fill="#d42027" fill-opacity="0.85" stroke="#000" stroke-width="0.8" stroke-linejoin="round"/><path d="M1348 917L1348 880.9" stroke="#000" stroke-width="1.6" fill="none"/><circle cx="1348" cy="905" r="4.6" fill="#fff" stroke="#000" stroke-width="2"/><g stroke="#d8434e" stroke-opacity="0.33" stroke-width="9.6" stroke-linecap="round" fill="none"><path d="M1364.2 987h0M1366.1 913.9h0M1366.3 953.4h0M1369.6 940.7h0M1368.5 929.7h0M1366.8 981.6h0M1367 918.4h0M1368.1 913.8h0M1364.8 986h0M1365.9 919.1h0M1368.1 916.9h0"/><path d="M1362.5 989.3h0M1368 920.1h0M1365.2 926.8h0M1364.8 968h0M1364.5 909.9h0M1361.9 961h0M1368.3 922.8h0M1366.7 954.8h0M1361.3 959.6h0M1367.4 938.1h0M1361.9 967h0"/><path d="M1364.9 936h0M1368.9 936.8h0M1363.8 943.8h0M1364.1 927.8h0M1362.3 939.2h0M1361.9 954.7h0M1365.3 991.4h0M1366.2 929.5h0M1362.7 938.5h0M1368.7 939.2h0"/></g><path d="M1366.8 909.1L1369.3 935.7L1370.3 950.1L1369 963.2L1366.1 982.8L1365.8 1012.9L1364.8 1012.9L1364.5 982.8L1361.5 963.2L1360.3 950.1L1361.3 935.7L1363.8 909.1Z" fill="#d42027" fill-opacity="0.85" stroke="#000" stroke-width="0.8" stroke-linejoin="round"/><path d="M1365.3 972.1L1365.3 937.8" stroke="#000" stroke-width="1.6" fill="none"/><circle cx="1365.3" cy="950.1" r="4.6" fill="#fff" stroke="#000" stroke-width="2"/><g stroke="#30e830" stroke-opacity="0.33" stroke-width="9.6" stroke-linecap="round" fill="none"><path d="M1410.9 872.3h0M1414.3 924.5h0M1411.7 914.3h0M1412.2 924.6h0M1417.3 904.7h0M1416.6 878.3h0M1410.7 877.7h0M1414.1 859.3h0M1413.2 900h0M1416.2 912.8h0"/><path d="M1421.3 901.7h0M1410.1 887.9h0M1421.1 900h0M1416.5 927.1h0M1419.3 907.7h0M1414.3 861.5h0M1418.3 909.9h0M1418 926h0M1415.3 863.7h0"/><path d="M1412.3 912.5h0M1412.4 922.8h0M1414.6 899.4h0M1413.7 857.4h0M1419.9 891.9h0M1416.6 915.8h0M1412.7 890.3h0M1413 872h0M1414.8 860.7h0"/></g><path d="M1418.6 854.5L1420.2 876.7L1421.5 888.7L1419.9 909.9L1416.2 941.9L1413.8 941.9L1410.1 909.9L1408.5 888.7L1409.8 876.7L1411.4 854.5Z" fill="#1fe01f" fill-opacity="0.85" stroke="#000" stroke-width="0.8" stroke-linejoin="round"/><path d="M1415 906.4L1415 877.5" stroke="#000" stroke-width="1.6" fill="none"/><circle cx="1415" cy="887.3" r="4.6" fill="#fff" stroke="#000" stroke-width="2"/><g stroke="#30e830" stroke-opacity="0.33" stroke-width="9.6" stroke-linecap="round" fill="none"><path d="M1431.2 876.4h0M1434.1 875h0M1434.4 904.2h0M1429.7 871h0M1428.1 883.6h0"/><path d="M1436.6 891.6h0M1428.5 905.6h0M1436.4 878.9h0M1431.4 877.8h0M1428.2 904.3h0"/><path d="M1430.8 885.8h0M1430 875.6h0M1428.4 885.3h0M1434.6 902.8h0M1428.9 879.3h0"/></g><path d="M1436 868.2L1436.1 882.4L1437 890L1435.9 896.6L1436 906.4L1428.8 906.4L1429 896.6L1427.8 890L1428.7 882.4L1428.8 868.2Z" fill="#1fe01f" fill-opacity="0.85" stroke="#000" stroke-width="0.8" stroke-linejoin="round"/><path d="M1432.4 894.9L1432.4 882.5" stroke="#000" stroke-width="1.6" fill="none"/><circle cx="1432.4" cy="888.7" r="4.6" fill="#fff" stroke="#000" stroke-width="2"/><g stroke="#30e830" stroke-opacity="0.33" stroke-width="9.6" stroke-linecap="round" fill="none"><path d="M1450.3 944.6h0M1448.6 942.8h0M1449 881.1h0M1448.9 946.6h0M1451.7 880.4h0M1447.7 860.9h0M1452.6 884.5h0M1451.2 888.1h0M1454.9 873.8h0M1449.2 870.8h0M1449.6 948.9h0"/><path d="M1452.6 935.4h0M1449.9 886.5h0M1447.8 872h0M1452.5 891.2h0M1448.8 898.9h0M1450.9 884.5h0M1452.4 901.8h0M1450.3 860.2h0M1451.2 913.2h0M1454.3 887.3h0"/><path d="M1446.3 860.5h0M1449.1 892.2h0M1450.3 874.2h0M1443.6 881.6h0M1453.6 881h0M1452.3 911.6h0M1449.6 895.5h0M1449 879.3h0M1451.6 923h0M1451.6 942.3h0"/></g><path d="M1453.9 860L1454.2 871.5L1455.4 877.7L1453.9 889.2L1450.4 906.4L1450.1 961L1449.1 961L1448.8 906.4L1445.2 889.2L1443.8 877.7L1445 871.5L1445.3 860Z" fill="#1fe01f" fill-opacity="0.85" stroke="#000" stroke-width="0.8" stroke-linejoin="round"/><path d="M1449.6 906L1449.6 871.5" stroke="#000" stroke-width="1.6" fill="none"/><circle cx="1449.6" cy="876.4" r="4.6" fill="#fff" stroke="#000" stroke-width="2"/><g stroke="#30e830" stroke-opacity="0.33" stroke-width="9.6" stroke-linecap="round" fill="none"><path d="M1469.5 912.6h0M1469 892.9h0M1468.6 879.2h0M1466.4 926.7h0M1469.6 873.5h0M1464.4 914.2h0M1470 891.4h0M1464 921.8h0"/><path d="M1464.2 902.8h0M1469.9 891.7h0M1468.5 920h0M1466.7 917.4h0M1466.9 866.8h0M1467.2 927.6h0M1467.5 888.9h0M1468 877h0"/><path d="M1469 871.7h0M1469.9 904.9h0M1463.3 897.1h0M1463 882.4h0M1466.7 867.8h0M1468.1 896.5h0M1466.7 931.9h0M1461.3 888.3h0"/></g><path d="M1467.4 865.5L1470 877.9L1470.9 884.6L1469.8 905.3L1467.2 936.4L1465.6 936.4L1463 905.3L1461.9 884.6L1462.8 877.9L1465.4 865.5Z" fill="#1fe01f" fill-opacity="0.85" stroke="#000" stroke-width="0.8" stroke-linejoin="round"/><path d="M1466.4 902.7L1466.4 878.8" stroke="#000" stroke-width="1.6" fill="none"/><circle cx="1466.4" cy="884.6" r="4.6" fill="#fff" stroke="#000" stroke-width="2"/><g stroke="#4040f0" stroke-opacity="0.33" stroke-width="9.6" stroke-linecap="round" fill="none"><path d="M1515.4 869.4h0M1518.5 887h0M1514 959.1h0M1518.6 923h0M1514.1 920.1h0M1514.8 962.8h0M1512.4 875.2h0M1512.3 873.6h0M1517.1 987.9h0M1511.6 901.8h0M1516.1 968.3h0M1511.4 905.4h0M1514.7 873.9h0"/><path d="M1517.5 878h0M1519.1 927.6h0M1520 908.8h0M1512.7 961h0M1510.8 924h0M1517 944h0M1513.8 984.8h0M1517.7 954.6h0M1516.2 910.6h0M1516.6 907.8h0M1513.2 866.2h0M1516.4 931.1h0M1512.5 975.6h0"/><path d="M1512.8 992.1h0M1511.4 941.8h0M1516 866.3h0M1514.9 891h0M1517 939.5h0M1514.9 886.7h0M1515 939.4h0M1511.6 903.1h0M1516.7 950.7h0M1514.2 993.3h0M1513.9 907.7h0M1513 930.2h0"/></g><path d="M1517.7 865.5L1518.4 892.1L1519.3 906.4L1518.2 941.3L1515.7 993.8L1514.1 993.8L1511.6 941.3L1510.5 906.4L1511.4 892.1L1512.1 865.5Z" fill="#2222ee" fill-opacity="0.45" stroke="#000" stroke-width="0.8" stroke-linejoin="round"/><path d="M1514.9 937.9L1514.9 895.1" stroke="#000" stroke-width="1.6" fill="none"/><circle cx="1514.9" cy="907.8" r="4.6" fill="#fff" stroke="#000" stroke-width="2"/><g stroke="#4040f0" stroke-opacity="0.33" stroke-width="9.6" stroke-linecap="round" fill="none"><path d="M1532.5 902.4h0M1534 1004.2h0M1529 942.3h0M1529 904.7h0M1535 873.5h0M1530 930.6h0M1533.9 927.2h0M1534.4 948.1h0M1533.8 955h0M1529.2 901.2h0M1531 883.3h0M1534.9 934.4h0M1534.9 967.6h0M1535.1 952.5h0M1531 951.8h0M1530.7 904.3h0"/><path d="M1533.4 855.6h0M1531 956.8h0M1534.5 910.3h0M1535.9 955.9h0M1532.1 921.7h0M1532 968.2h0M1535 929.5h0M1529.9 935.1h0M1534.4 979.5h0M1535.6 954.8h0M1534.1 995.4h0M1530.6 942.1h0M1535.1 959.5h0M1532.7 942.1h0M1533.1 890.3h0M1535.5 980.6h0"/><path d="M1530.9 883.9h0M1535.1 898.2h0M1531.2 897.4h0M1534.3 961.6h0M1531.1 935.1h0M1529.6 945.4h0M1530.5 930.6h0M1530.6 940.1h0M1532.9 907.4h0M1535.3 928.3h0M1530.3 934.3h0M1529.8 856h0M1534 944.1h0M1531.1 971.8h0M1528.8 912.3h0"/></g><path d="M1533.8 851.8L1535 951.2L1535.8 1004.7L1534.8 1008L1535.6 1012.9L1528.4 1012.9L1529.2 1008L1528.2 1004.7L1529 951.2L1530.2 851.8Z" fill="#2222ee" fill-opacity="0.45" stroke="#000" stroke-width="0.8" stroke-linejoin="round"/><path d="M1532 973.8L1532 922.5" stroke="#000" stroke-width="1.6" fill="none"/><circle cx="1532" cy="952.8" r="4.6" fill="#fff" stroke="#000" stroke-width="2"/><g stroke="#4040f0" stroke-opacity="0.33" stroke-width="9.6" stroke-linecap="round" fill="none"><path d="M1550 953.9h0M1547.9 942.4h0M1546 901.7h0M1551.7 954.7h0M1549.1 841.9h0M1551.3 913.4h0M1550 938.8h0M1547.8 909.9h0M1552.7 928.5h0M1545.9 918.7h0M1545.6 942h0M1548.9 904.1h0M1546.2 948.9h0M1546.5 984.5h0M1546.9 923.4h0"/><path d="M1547.5 940.8h0M1552.4 855.3h0M1549.1 948.6h0M1544.8 931.2h0M1545.9 957h0M1549.3 963.4h0M1553.7 946.4h0M1547.7 926.8h0M1548 920.9h0M1545.9 950.2h0M1545.6 917h0M1552.8 922.2h0M1551.4 923.4h0M1547.9 970.5h0"/><path d="M1546.5 913.1h0M1547 952.9h0M1548.5 842.8h0M1548.7 950h0M1548.9 974.9h0M1546.1 933.5h0M1551 933.8h0M1551.2 929h0M1547.5 880.2h0M1549.4 897.9h0M1549.8 942.8h0M1550 892.1h0M1546.7 909.8h0M1553.2 947.2h0"/></g><path d="M1549.8 840.9L1550.1 884.6L1553.3 913L1554.3 928.2L1553 952.3L1550.5 988.3L1548.1 988.3L1545.5 952.3L1544.3 928.2L1545.3 913L1548.5 884.6L1548.8 840.9Z" fill="#2222ee" fill-opacity="0.45" stroke="#000" stroke-width="0.8" stroke-linejoin="round"/><path d="M1549.3 945.7L1549.3 898.2" stroke="#000" stroke-width="1.6" fill="none"/><circle cx="1549.3" cy="922.8" r="4.6" fill="#fff" stroke="#000" stroke-width="2"/><g stroke="#4040f0" stroke-opacity="0.33" stroke-width="9.6" stroke-linecap="round" fill="none"><path d="M1568.6 904.5h0M1566.6 1000.7h0M1568.3 916.2h0M1568.8 956.7h0M1567.1 937.5h0M1569.2 929.6h0M1562.7 991.6h0M1565.3 1002.9h0M1564 901.3h0M1567.6 1000h0M1569.2 993.9h0M1568.2 990.3h0M1564 950.7h0"/><path d="M1570.5 990.4h0M1564.7 921.8h0M1564.7 969.7h0M1565.9 926.8h0M1566.7 999.4h0M1567.9 1006.7h0M1569.3 920.2h0M1568.2 912.3h0M1564.3 967.7h0M1567.2 995h0M1564.8 948.3h0M1563.5 972.7h0"/><path d="M1569.6 950.5h0M1568.7 900.8h0M1567 901.1h0M1568.9 992.6h0M1564.7 956.1h0M1567.5 959.1h0M1567.8 950.5h0M1568.2 918.2h0M1566 991.2h0M1569.4 964.3h0M1568.5 922.4h0M1564.4 939.3h0"/></g><path d="M1569.7 895.5L1569.8 962.9L1570.5 999.2L1569.6 1006.9L1569.7 1018.3L1564.1 1018.3L1564.2 1006.9L1563.3 999.2L1564 962.9L1564.1 895.5Z" fill="#2222ee" fill-opacity="0.45" stroke="#000" stroke-width="0.8" stroke-linejoin="round"/><path d="M1566.9 974L1566.9 933.7" stroke="#000" stroke-width="1.6" fill="none"/><circle cx="1566.9" cy="950.1" r="4.6" fill="#fff" stroke="#000" stroke-width="2"/><g stroke="#4040f0" stroke-opacity="0.33" stroke-width="9.6" stroke-linecap="round" fill="none"><path d="M1579.5 880.4h0M1581.4 891.2h0M1585.6 938.9h0M1586.4 917.7h0M1584.6 906.3h0M1585.2 867.5h0M1585.3 890.7h0M1585.1 927h0M1581 911.7h0M1585.3 868.3h0"/><path d="M1582.4 935.2h0M1581.5 957.5h0M1581.1 921.8h0M1583.3 914.1h0M1586.3 935.5h0M1583.7 899.6h0M1579.8 897.3h0M1586 929.9h0M1587.7 909.7h0M1586.5 881h0"/><path d="M1583.8 935h0M1588.5 893.6h0M1583.5 870.3h0M1585.7 875.5h0M1586.4 950.9h0M1585.4 946.1h0M1584.7 917.3h0M1583.3 924h0M1582.1 922.7h0"/></g><path d="M1588 865.5L1587.5 870.8L1588.4 873.6L1587.3 907.5L1585 958.3L1583 958.3L1580.7 907.5L1579.6 873.6L1580.5 870.8L1580 865.5Z" fill="#2222ee" fill-opacity="0.45" stroke="#000" stroke-width="0.8" stroke-linejoin="round"/><path d="M1584 912.1L1584 880.7" stroke="#000" stroke-width="1.6" fill="none"/><circle cx="1584" cy="887.3" r="4.6" fill="#fff" stroke="#000" stroke-width="2"/><path d="M1069.2 1448V1913.9H1320.5" stroke="#000" stroke-width="1.3" fill="none"/><path d="M1059.5 1825.2L1069.2 1825.2" stroke="#000" stroke-width="1.3" fill="none"/><text x="1047" y="1834.2" font-size="25" text-anchor="end">20</text><path d="M1059.5 1736.6L1069.2 1736.6" stroke="#000" stroke-width="1.3" fill="none"/><text x="1047" y="1745.6" font-size="25" text-anchor="end">40</text><path d="M1059.5 1648L1069.2 1648" stroke="#000" stroke-width="1.3" fill="none"/><text x="1047" y="1657" font-size="25" text-anchor="end">60</text><path d="M1059.5 1559.4L1069.2 1559.4" stroke="#000" stroke-width="1.3" fill="none"/><text x="1047" y="1568.4" font-size="25" text-anchor="end">80</text><path d="M1059.5 1470.8L1069.2 1470.8" stroke="#000" stroke-width="1.3" fill="none"/><text x="1047" y="1479.8" font-size="25" text-anchor="end">100</text><text x="983" y="1681.5" font-size="26.5" textLength="284.5" text-anchor="middle" transform="rotate(-90 983 1681.5)">Classifier accuracy (%)</text><text x="1131.5" y="1949.5" font-size="25" text-anchor="middle">EMX</text><text x="1204.5" y="1949.5" font-size="25" text-anchor="middle">IT</text><text x="1277" y="1949.5" font-size="25" text-anchor="middle">PT</text><text x="1131.7" y="1510.5" font-size="31" text-anchor="middle" letter-spacing="1.5">***</text><text x="1205.4" y="1510.5" font-size="31" text-anchor="middle" letter-spacing="1.5">***</text><text x="1279" y="1510.5" font-size="31" text-anchor="middle" letter-spacing="1.5">***</text><path d="M1134.1 1603.7C1134.8 1605.9 1136.8 1612.6 1138.4 1617C1140 1621.4 1142 1625.1 1143.9 1630.3C1145.8 1635.4 1148.4 1642.8 1149.9 1648C1151.4 1653.2 1152.2 1656.9 1152.9 1661.3C1153.6 1665.7 1154 1670.1 1153.9 1674.6C1153.8 1679 1153.3 1683.4 1152.4 1687.9C1151.5 1692.3 1150 1696.7 1148.4 1701.2C1146.8 1705.6 1144.6 1710 1142.9 1714.5C1141.2 1718.9 1139.7 1723.3 1138.4 1727.7C1137.1 1732.2 1135.9 1736.2 1134.9 1741C1133.9 1745.8 1132.8 1754 1132.4 1756.5L1126.4 1756.5C1126 1754 1124.9 1745.8 1123.9 1741C1122.9 1736.2 1121.7 1732.2 1120.4 1727.7C1119.1 1723.3 1117.6 1718.9 1115.9 1714.5C1114.2 1710 1112 1705.6 1110.4 1701.2C1108.8 1696.7 1107.3 1692.3 1106.4 1687.9C1105.5 1683.4 1105 1679 1104.9 1674.6C1104.8 1670.1 1105.2 1665.7 1105.9 1661.3C1106.6 1656.9 1107.4 1653.2 1108.9 1648C1110.4 1642.8 1113 1635.4 1114.9 1630.3C1116.8 1625.1 1118.8 1621.4 1120.4 1617C1122 1612.6 1124 1605.9 1124.7 1603.7Z" fill="#ffa6a6" fill-opacity="1" stroke="#000" stroke-width="0.9" stroke-linejoin="round"/><g stroke="#ff2020" stroke-opacity="0.36" stroke-width="8.6" stroke-linecap="round" fill="none"><path d="M1117 1713.9h0M1146.7 1691.5h0M1146.7 1648h0M1126.4 1744.1h0M1135.9 1628.2h0M1118.8 1666.7h0M1118.4 1714.5h0M1119.8 1693.5h0M1131.3 1729.7h0M1124.3 1696.8h0M1136 1628.3h0M1123.3 1683.9h0M1126.2 1710.3h0M1119 1721.6h0M1130.9 1632.8h0M1140.8 1648.3h0M1122.9 1614.7h0M1128.1 1637.6h0M1113.6 1652h0M1128.5 1687.4h0M1136.3 1681.4h0M1126.6 1754.7h0M1134.2 1697.9h0M1152.4 1665h0M1126.5 1718.7h0M1152.1 1672.1h0M1135.9 1622.6h0M1142.7 1666.9h0M1129.4 1753.7h0M1126.3 1746.7h0M1144.7 1679h0M1140.8 1638.4h0M1132.2 1651.9h0M1141.4 1653.6h0M1133.6 1740.3h0M1128.3 1623h0M1136.3 1711.8h0M1146.7 1698.5h0M1113.1 1679.8h0M1134.7 1699.1h0M1137 1615h0M1139.1 1631.3h0M1128 1607.1h0M1126.9 1677.2h0M1127.7 1708.3h0M1130.9 1689h0M1116.7 1631.2h0M1122.3 1720.9h0M1132.2 1656.6h0M1127.9 1627.7h0"/><path d="M1115.8 1687.9h0M1127.5 1720.2h0M1131.8 1739.8h0M1144.8 1677.4h0M1144.6 1694.1h0M1126.4 1680.6h0M1120.9 1634.1h0M1152.8 1663h0M1133.3 1726.9h0M1135.7 1650.1h0M1142.8 1647.3h0M1120.7 1627.4h0M1143.6 1698.5h0M1117.3 1667.6h0M1130.6 1632.3h0M1149 1660.5h0M1144.1 1705.6h0M1115.5 1640.4h0M1118.9 1635.3h0M1125.7 1693.6h0M1134.5 1679.3h0M1138 1691.9h0M1125.7 1699.1h0M1142.9 1640.6h0M1131.4 1662.3h0M1135.7 1661.3h0M1125.7 1634.2h0M1129.6 1611.1h0M1134.6 1613.4h0M1132.1 1736.1h0M1142.3 1631.1h0M1132.9 1606h0M1130.5 1714.4h0M1115.4 1639.4h0M1133.3 1731.8h0M1130.7 1647.4h0M1125 1723.8h0M1146 1687.8h0M1128.6 1690.4h0M1130.1 1655.7h0M1125.5 1658.7h0M1115.3 1684.9h0M1146 1693.2h0M1117.5 1702.9h0M1122.7 1724.9h0M1130.7 1750h0M1116.1 1672h0M1135.8 1631.9h0M1135.4 1653.8h0M1118.7 1646.7h0"/><path d="M1119.4 1689.2h0M1130.9 1616.6h0M1127.6 1754.1h0M1118.3 1692.8h0M1131.5 1741.2h0M1123.9 1713.5h0M1123.4 1679.5h0M1132 1657.5h0M1108.9 1657.3h0M1130 1695h0M1135.7 1622.1h0M1121.4 1724.1h0M1147.3 1699.2h0M1136.7 1621h0M1121.5 1715.9h0M1124.2 1632.4h0M1149.1 1657.9h0M1117.6 1661.8h0M1124.4 1608h0M1120.1 1666.9h0M1127.8 1604.2h0M1106.2 1667h0M1117.4 1634.2h0M1147.8 1654.9h0M1129 1604.9h0M1151.1 1675h0M1120.9 1675.7h0M1141.5 1697.6h0M1146.9 1695.8h0M1143.8 1667.8h0M1114.3 1632.7h0M1132.5 1615.8h0M1133.5 1620.6h0M1113.6 1685.2h0M1131 1743.8h0M1124.6 1649.6h0M1128.9 1624.5h0M1119.6 1717.3h0M1144.9 1698.1h0M1128.5 1712.6h0M1132.9 1605.1h0M1116.5 1634.3h0M1113 1700.7h0M1117.3 1673.6h0M1143.3 1703.7h0M1147.1 1651.2h0M1126.9 1660.9h0M1132.8 1703.4h0M1126.5 1741.2h0M1138.6 1648.9h0"/></g><path d="M1129.4 1696.7L1129.4 1654.6" stroke="#000" stroke-width="2.8" fill="none"/><circle cx="1129.4" cy="1674.6" r="4.8" fill="#fff" stroke="#000" stroke-width="2"/><path d="M1213.9 1629C1214.7 1631.4 1216.6 1638.2 1218.4 1643.6C1220.2 1649 1223.1 1655.4 1224.9 1661.3C1226.7 1667.2 1228.4 1673.8 1229.4 1679C1230.4 1684.2 1230.8 1687.9 1230.9 1692.3C1231 1696.7 1230.7 1701.2 1229.9 1705.6C1229.2 1710 1227.8 1714.4 1226.4 1718.9C1225 1723.3 1223.1 1727.7 1221.4 1732.2C1219.7 1736.6 1217.9 1741 1216.4 1745.5C1214.9 1749.9 1213.5 1754.3 1212.4 1758.8C1211.3 1763.2 1210.6 1767.6 1209.9 1772C1209.2 1776.5 1208.8 1780.2 1208.4 1785.3C1208 1790.5 1207.6 1800.1 1207.4 1803L1205.4 1803C1205.2 1800.1 1204.8 1790.5 1204.4 1785.3C1204 1780.2 1203.6 1776.5 1202.9 1772C1202.2 1767.6 1201.5 1763.2 1200.4 1758.8C1199.3 1754.3 1197.9 1749.9 1196.4 1745.5C1194.9 1741 1193.1 1736.6 1191.4 1732.2C1189.7 1727.7 1187.8 1723.3 1186.4 1718.9C1185 1714.4 1183.7 1710 1182.9 1705.6C1182.2 1701.2 1181.8 1696.7 1181.9 1692.3C1182 1687.9 1182.4 1684.2 1183.4 1679C1184.4 1673.8 1186.1 1667.2 1187.9 1661.3C1189.7 1655.4 1192.6 1649 1194.4 1643.6C1196.2 1638.2 1198.2 1631.4 1198.9 1629Z" fill="#b4f5b0" fill-opacity="1" stroke="#000" stroke-width="0.9" stroke-linejoin="round"/><g stroke="#22ee22" stroke-opacity="0.36" stroke-width="8.6" stroke-linecap="round" fill="none"><path d="M1229.2 1703.3h0M1212.9 1687.2h0M1199.3 1749h0M1222.8 1713.4h0M1205.1 1747.2h0M1201.2 1755.6h0M1200.1 1668.3h0M1211.9 1648.6h0M1206.5 1782.6h0M1215.8 1744.2h0M1210.5 1668.3h0M1213 1640.5h0M1228.7 1685.1h0M1189.2 1661.2h0M1208.6 1646.8h0M1206 1682h0M1209 1723h0M1199.1 1745.9h0M1197.6 1676h0M1204.7 1782.5h0M1206.1 1688.8h0M1201.3 1705.4h0M1209 1734.2h0M1198.1 1657.4h0M1190.3 1723.1h0M1219.9 1729.8h0M1195.6 1726.5h0M1198.8 1694.5h0M1206 1775.9h0M1203.4 1732.7h0M1201.2 1711.6h0M1183.1 1684.4h0M1194.9 1707.3h0M1195.7 1649h0M1222.1 1728.2h0M1201.5 1751.3h0M1205 1742.1h0M1205.4 1783.8h0M1198.3 1666.9h0M1200.2 1747.5h0M1199.9 1663.7h0M1221 1664.5h0M1200.5 1722.9h0M1200.7 1670.7h0M1194.1 1731.6h0M1185.6 1682.5h0M1200.1 1733.8h0M1205 1649.6h0M1222.3 1678.7h0M1195.2 1703.8h0"/><path d="M1211.5 1748.2h0M1212.2 1725.9h0M1217.3 1702.5h0M1211.7 1639.7h0M1215.1 1646.7h0M1198.6 1739.1h0M1198.4 1705.2h0M1206.3 1657.8h0M1197.7 1653.2h0M1207.6 1647.9h0M1214.7 1677.1h0M1198.8 1720.9h0M1184.9 1676.4h0M1195.9 1642.3h0M1204.7 1638.3h0M1220.6 1663.4h0M1206.7 1648.1h0M1219.5 1730.2h0M1208.8 1676.1h0M1213 1677.1h0M1190.9 1671.3h0M1221.6 1728.7h0M1194.6 1739.2h0M1205 1681.5h0M1220 1675.6h0M1194.4 1675.9h0M1226.4 1677.7h0M1206.6 1797.1h0M1198.8 1644.9h0M1203.4 1668.3h0M1211.6 1755.8h0M1186.7 1679.3h0M1204 1752.4h0M1205.4 1795.3h0M1187.3 1671.9h0M1195.8 1691.1h0M1199 1641h0M1208.7 1713.6h0M1193.9 1654.9h0M1203.1 1733h0M1209.6 1709.8h0M1211.2 1747.8h0M1211 1747.1h0M1190.7 1663.6h0M1198 1642.9h0M1207.6 1667.4h0M1217.3 1684.6h0M1207.8 1705.1h0M1200.6 1678.8h0M1220.7 1725.1h0"/><path d="M1205.9 1707.2h0M1192 1699h0M1205 1777.3h0M1195 1681.9h0M1213.4 1749.3h0M1207.3 1725.4h0M1226.8 1697.1h0M1212.4 1687.2h0M1224.1 1669.9h0M1213.7 1639.2h0M1192.6 1731.6h0M1205.9 1708.1h0M1208.6 1642.2h0M1191.1 1674.3h0M1191.2 1656.6h0M1198.2 1729.9h0M1198.7 1630.9h0M1214.3 1718.7h0M1190.6 1699.4h0M1208.9 1667.3h0M1204.2 1728.9h0M1207.3 1787.3h0M1213.8 1746.7h0M1214.5 1735.6h0M1225 1687.2h0M1202.7 1743.4h0M1208.5 1637.3h0M1207.1 1695.4h0M1205.6 1780.1h0M1217.5 1642.7h0M1195.6 1722.8h0M1210.4 1757.8h0M1214.1 1665.4h0M1210.2 1711.1h0M1212.2 1632.1h0M1213 1755.6h0M1206.9 1693.5h0M1205 1676.5h0M1202.1 1683.5h0M1202 1707h0M1207.1 1747h0M1199.1 1682.4h0M1211.8 1649.4h0M1208.1 1711h0M1220.9 1686h0M1207.5 1668.9h0M1201 1718.3h0M1213.9 1635.9h0M1204.7 1795.2h0M1204.5 1657.1h0"/></g><path d="M1206.4 1718L1206.4 1678.1" stroke="#000" stroke-width="2.8" fill="none"/><circle cx="1206.4" cy="1694.5" r="4.8" fill="#fff" stroke="#000" stroke-width="2"/><path d="M1069.2 1766.4H1322.5" stroke="#999" stroke-width="2.6" stroke-dasharray="13.5 6.5" fill="none"/><text x="1076" y="1801" font-size="26" textLength="96" fill="#999">Chance</text><path d="M1288 1529.3C1288.8 1531.3 1290.6 1536.7 1292.5 1541.7C1294.4 1546.7 1297.5 1553.5 1299.5 1559.4C1301.5 1565.3 1303.3 1571.2 1304.5 1577.1C1305.7 1583 1306.2 1589.7 1306.5 1594.8C1306.8 1600 1306.6 1603.7 1306 1608.1C1305.4 1612.6 1304.5 1616.3 1303 1621.4C1301.5 1626.6 1298.9 1633.2 1297 1639.1C1295.1 1645 1293 1651 1291.5 1656.9C1290 1662.8 1289 1668.7 1288 1674.6C1287 1680.5 1286.1 1687.1 1285.5 1692.3C1284.9 1697.5 1284.5 1703.4 1284.3 1705.6L1279.7 1705.6C1279.5 1703.4 1279.1 1697.5 1278.5 1692.3C1277.9 1687.1 1277 1680.5 1276 1674.6C1275 1668.7 1274 1662.8 1272.5 1656.9C1271 1651 1268.9 1645 1267 1639.1C1265.1 1633.2 1262.5 1626.6 1261 1621.4C1259.5 1616.3 1258.6 1612.6 1258 1608.1C1257.4 1603.7 1257.2 1600 1257.5 1594.8C1257.8 1589.7 1258.3 1583 1259.5 1577.1C1260.7 1571.2 1262.5 1565.3 1264.5 1559.4C1266.5 1553.5 1269.6 1546.7 1271.5 1541.7C1273.4 1536.7 1275.2 1531.3 1276 1529.3Z" fill="#b0b0ff" fill-opacity="1" stroke="#000" stroke-width="0.9" stroke-linejoin="round"/><g stroke="#3030f0" stroke-opacity="0.36" stroke-width="8.6" stroke-linecap="round" fill="none"><path d="M1278.6 1651.2h0M1272.4 1606.7h0M1299.5 1596.9h0M1284.6 1643.3h0M1301.3 1576.3h0M1294.1 1642h0M1302.1 1590.5h0M1277.2 1542.3h0M1267.6 1607h0M1278.7 1628.1h0M1285 1674.8h0M1276 1532.7h0M1295.6 1582.1h0M1276.4 1574h0M1305.5 1608.6h0M1277 1583.9h0M1279.3 1532.1h0M1282.9 1629.5h0M1273.2 1617.3h0M1299.2 1631.3h0M1274.7 1611.8h0M1278.4 1684.3h0M1285.8 1532.3h0M1279.6 1665.7h0M1278.5 1570.3h0M1262.7 1605.6h0M1272.5 1560h0M1274.1 1659h0M1275.6 1602.4h0M1266.9 1638.2h0M1260.3 1575.4h0M1273.4 1606.6h0M1278.6 1675.3h0M1279.3 1673.1h0M1270.1 1611.3h0M1263.4 1612.2h0M1302.5 1612.2h0M1304.7 1593.1h0M1290.8 1619.3h0M1279.7 1618.2h0M1268.1 1620.3h0M1279.7 1534.5h0M1297.1 1635.2h0M1293.5 1646.6h0M1293.4 1640.6h0M1278.7 1565.3h0M1281.9 1660.1h0M1265.6 1620.9h0M1278 1676.6h0M1297.5 1610.8h0"/><path d="M1263 1577.5h0M1291.4 1576h0M1270.3 1561.7h0M1274.1 1647.5h0M1273.8 1536.9h0M1279.5 1539.1h0M1270.8 1644.2h0M1292.4 1614.2h0M1283.1 1554.2h0M1258 1601.3h0M1258.7 1600h0M1269.2 1583.1h0M1283.6 1673.1h0M1280.9 1571.9h0M1268.8 1607.4h0M1285 1540.1h0M1287.4 1621.6h0M1299.3 1594.1h0M1263.1 1598.1h0M1266.2 1575.9h0M1294.7 1644.1h0M1298 1614.6h0M1300.2 1564.3h0M1281.1 1531.3h0M1298.7 1574.3h0M1271.8 1650.7h0M1270.9 1606h0M1281.6 1652.3h0M1267.1 1565.9h0M1278.9 1659.8h0M1294.6 1625h0M1288.2 1596.6h0M1296.9 1558.8h0M1283.2 1592.7h0M1280.5 1679.7h0M1261.9 1605.8h0M1283.3 1635.8h0M1284.8 1571.6h0M1304.4 1577.8h0M1281.2 1642.6h0M1282 1627.3h0M1260.7 1618.6h0M1299.2 1628.1h0M1262 1611.4h0M1281.8 1666.3h0M1293.5 1567.5h0M1284.2 1696.8h0M1286.9 1578h0M1280.2 1615.3h0M1280.5 1531.9h0"/><path d="M1277.3 1536.6h0M1273.2 1622.5h0M1275.3 1532h0M1283.5 1560h0M1283.1 1538.8h0M1292 1603h0M1300.5 1624.7h0M1277.7 1587.5h0M1302.3 1604.2h0M1284.9 1682.3h0M1285.2 1629.5h0M1281.4 1648.4h0M1266.7 1625.7h0M1278.4 1584.7h0M1269.7 1594.4h0M1277.4 1552.8h0M1280 1705.3h0M1283.2 1642.5h0M1283 1568.2h0M1273.2 1586.9h0M1292.7 1562.9h0M1277.5 1684.4h0M1300.6 1569h0M1282.9 1618.1h0M1278 1575.6h0M1287.2 1579.2h0M1266.1 1594.1h0M1285.2 1545.2h0M1281.9 1682.5h0M1276 1632.5h0M1282 1548.4h0M1261 1596.2h0M1276.5 1586.9h0M1272.9 1555.1h0M1271 1549.3h0M1285.6 1569.3h0M1290.8 1569.9h0M1292.5 1628.1h0M1288.4 1564.5h0M1263.8 1611.7h0M1265.2 1612.1h0M1280.7 1682.2h0M1297.8 1592.4h0M1288.2 1574.2h0M1277.9 1532.7h0M1281.1 1622.4h0M1265.2 1604.4h0M1299.9 1600.8h0M1290.9 1622.7h0M1291.4 1626.3h0"/></g><path d="M1282 1624.5L1282 1577.6" stroke="#000" stroke-width="2.8" fill="none"/><circle cx="1282" cy="1603.7" r="4.8" fill="#fff" stroke="#000" stroke-width="2"/><path d="M1629.8 1451.1C1629.7 1454.4 1629.8 1464.8 1629.3 1471.1C1628.9 1477.3 1628.6 1482.3 1627.1 1488.4C1625.7 1494.5 1623.5 1502.1 1620.6 1507.9C1617.8 1513.7 1613.8 1518.4 1609.8 1523.1C1605.8 1527.8 1600.4 1532.1 1596.8 1536.1C1593.2 1540.1 1590.1 1543.3 1588.1 1546.9C1586.1 1550.5 1585.4 1554.2 1584.9 1557.8C1584.3 1561.4 1584.3 1564.6 1584.9 1568.6C1585.4 1572.6 1586.5 1577.3 1588.1 1581.6C1589.8 1586 1592.6 1590.7 1594.6 1594.6C1596.6 1598.6 1598.8 1601.9 1600 1605.5C1601.3 1609.1 1601.7 1612.7 1602.2 1616.3C1602.8 1619.9 1603.5 1624.3 1603.3 1627.1C1603.1 1630 1602.9 1631.7 1601.1 1633.7C1599.3 1635.6 1596.8 1637.4 1592.5 1639.1C1588.1 1640.7 1580.9 1642 1575.1 1643.4C1569.3 1644.9 1562.3 1646.5 1557.8 1647.7C1553.3 1649 1550.3 1649.8 1548 1651C1545.7 1652.2 1544.1 1653.6 1544.1 1654.9C1544.1 1656.2 1545.4 1657.2 1548 1658.6C1550.7 1659.9 1554.7 1661.3 1559.9 1662.9C1565.2 1664.5 1572.6 1666.5 1579.5 1668.3C1586.3 1670.1 1594.6 1671.8 1601.1 1673.8C1607.6 1675.7 1614.1 1677.9 1618.5 1680.3C1622.8 1682.6 1625.3 1685.1 1627.1 1687.9C1629 1690.6 1629.3 1693.6 1629.8 1696.5C1630.2 1699.4 1629.8 1703.8 1629.8 1705.2Z" fill="#0072bd" stroke="#000" stroke-width=".9"/><path d="M1629.8 1451.1C1629.9 1454.4 1629.8 1465.6 1630.4 1471.1C1631.1 1476.5 1632 1479.7 1633.7 1484.1C1635.3 1488.4 1636.9 1492.4 1640.2 1497.1C1643.4 1501.8 1648.5 1508.1 1653.2 1512.2C1657.9 1516.4 1663.3 1519.1 1668.3 1522C1673.4 1524.9 1678.5 1526.9 1683.5 1529.6C1688.6 1532.3 1694.2 1535.6 1698.7 1538.3C1703.2 1541 1708.3 1543.3 1710.6 1545.9C1713 1548.4 1712.1 1550.5 1712.8 1553.4C1713.5 1556.3 1715.1 1560.3 1715 1563.2C1714.8 1566.1 1712.4 1568.4 1711.7 1570.8C1711 1573.1 1712.1 1574.9 1710.6 1577.3C1709.2 1579.6 1705.6 1582 1703 1584.9C1700.5 1587.8 1697.6 1591.9 1695.4 1594.6C1693.3 1597.3 1691 1598.6 1690 1601.1C1689 1603.7 1690.1 1606.9 1689.6 1609.8C1689 1612.7 1688 1615.2 1686.8 1618.5C1685.6 1621.7 1682.6 1626.4 1682.4 1629.3C1682.3 1632.2 1684.5 1633.7 1685.7 1635.8C1686.9 1638 1689.4 1639.4 1689.6 1642.3C1689.8 1645.2 1689.6 1650.1 1686.8 1653.2C1684 1656.2 1677.6 1658.4 1672.7 1660.8C1667.8 1663.1 1662.9 1664.7 1657.5 1667.3C1652.1 1669.8 1644.3 1673.2 1640.2 1675.9C1636 1678.6 1634.3 1680.4 1632.6 1683.5C1630.8 1686.6 1630.2 1690.7 1629.8 1694.4C1629.3 1698 1629.8 1703.4 1629.8 1705.2Z" fill="#d95319" stroke="#000" stroke-width=".9"/><path d="M1491.9 1456.7V1707.7" stroke="#000" stroke-width="1.3" fill="none"/><path d="M1481.5 1498.7L1491.9 1498.7" stroke="#000" stroke-width="1.3" fill="none"/><path d="M1481.5 1561.2L1491.9 1561.2" stroke="#000" stroke-width="1.3" fill="none"/><path d="M1481.5 1623.2L1491.9 1623.2" stroke="#000" stroke-width="1.3" fill="none"/><path d="M1481.5 1685.7L1491.9 1685.7" stroke="#000" stroke-width="1.3" fill="none"/><text x="1469" y="1507.5" font-size="25" text-anchor="end">1</text><text x="1469" y="1632.5" font-size="25" text-anchor="end">0.5</text><text x="1413" y="1582.7" font-size="26.5" textLength="145" text-anchor="middle" transform="rotate(-90 1413 1582.7)">Area (mm2)</text><path d="M1565 1426H1622M1636.5 1426H1693" stroke="#000" stroke-width="3.2" fill="none"/><text x="1629.5" y="1425" font-size="31" text-anchor="middle" letter-spacing="1.5">***</text><text x="1555.4" y="1757" font-size="26.5" textLength="124.7" text-anchor="middle" fill="#0072bd">Predictive</text><text x="1703.5" y="1725" font-size="26.5" textLength="59.6" text-anchor="middle" fill="#d95319">Non-</text><text x="1703.7" y="1757" font-size="26.5" textLength="97.6" text-anchor="middle" fill="#d95319">specific</text><text x="1449.6" y="1814" font-size="26.5" textLength="61" text-anchor="middle" fill="#0000ff">PT (I)</text><text x="1449.6" y="1845.5" font-size="26.5" textLength="89.3" text-anchor="middle" fill="#0000ff">predict</text><text x="1581.8" y="1814" font-size="26.5" textLength="60" text-anchor="middle" fill="#00dd00">IT (II)</text><text x="1581.8" y="1845.5" font-size="26.5" textLength="89.3" text-anchor="middle" fill="#00dd00">predict</text><text x="1713.4" y="1814" font-size="26.5" textLength="57.9" text-anchor="middle">Non-</text><text x="1713.2" y="1845.5" font-size="26.5" textLength="97" text-anchor="middle">specific</text><defs><path id="g0" d="M-8-13l4 5l-4 5l-4-5zm18 4l4 5l-4 5l-4-5zm-3 5l4 5l-4 5l-4-5zm-21-13h10v10h-10zm5 18l7-4v8z"/><path id="g1" d="M-6-5h10v10h-10zm-1 20l7-4v8zm9-10h10v10h-10zm-10-12h10v10h-10zm6-1h10v10h-10z"/><path id="g2" d="M9-7h10v10h-10zm-5 5l7-4v8zm-3 18l7-4v8zm8-24h10v10h-10zm-17 6h10v10h-10z"/><path id="g3" d="M1 2l7-4v8zm4-7h10v10h-10zm-14 17l7-4v8zm2-5l7-4v8zm19-6h10v10h-10z"/><path id="g4" d="M-5-18h10v10h-10zm3 12l7-4v8zm-1 1h10v10h-10zm3 4l7-4v8zm10-11h10v10h-10z"/><path id="g5" d="M-9 7l7-4v8zm18-5l4 5l-4 5l-4-5zm-8-8l4 5l-4 5l-4-5zm0 9l7-4v8zm4-11l4 5l-4 5l-4-5z"/><path id="g6" d="M-11-7h10v10h-10zm7 4h10v10h-10zm-10-23h10v10h-10zm29 32l7-4v8zm-23-3l7-4v8z"/><path id="g7" d="M-2-12h10v10h-10zm11 12h10v10h-10zm-27-4h10v10h-10zm12-13l7-4v8zm2 9h10v10h-10z"/><path id="b0" d="M3 11a5 5 0 1 0 10 0a5 5 0 1 0-10 0m-32-7l8 8m0-8l-8 8m32-13h8m-4-4v8m-3-7l6 6m0-6l-6 6m-10-10a5 5 0 1 0 10 0a5 5 0 1 0-10 0m-1 10h8m-4-4v8m-3-7l6 6m0-6l-6 6"/><path id="b1" d="M13-1h8m-4-4v8m-3-7l6 6m0-6l-6 6m-25-2a5 5 0 1 0 10 0a5 5 0 1 0-10 0m5 8l8 8m0-8l-8 8m-6-11l8 8m0-8l-8 8m5-26l8 8m0-8l-8 8"/><path id="b2" d="M-12 8a5 5 0 1 0 10 0a5 5 0 1 0-10 0m-4-11l8 8m0-8l-8 8m8 11h8m-4-4v8m-3-7l6 6m0-6l-6 6m2-20h8m-4-4v8m-3-7l6 6m0-6l-6 6m0 8h8m-4-4v8m-3-7l6 6m0-6l-6 6"/><path id="b3" d="M0-13l8 8m0-8l-8 8m-10 9l8 8m0-8l-8 8m9-22l8 8m0-8l-8 8m4-6l7-4v8zm1 6h8m-4-4v8m-3-7l6 6m0-6l-6 6"/><path id="b4" d="M3 11l7-4v8zm-17-14l8 8m0-8l-8 8m9-13l8 8m0-8l-8 8m-8-5h8m-4-4v8m-3-7l6 6m0-6l-6 6m0-6h8m-4-4v8m-3-7l6 6m0-6l-6 6"/><path id="b5" d="M-5-2a5 5 0 1 0 10 0a5 5 0 1 0-10 0m-9 6a5 5 0 1 0 10 0a5 5 0 1 0-10 0m5-13a5 5 0 1 0 10 0a5 5 0 1 0-10 0m-1 10a5 5 0 1 0 10 0a5 5 0 1 0-10 0m9 3a5 5 0 1 0 10 0a5 5 0 1 0-10 0"/><path id="b6" d="M-3 2h8m-4-4v8m-3-7l6 6m0-6l-6 6m-9 1h8m-4-4v8m-3-7l6 6m0-6l-6 6m6 6a5 5 0 1 0 10 0a5 5 0 1 0-10 0m-5-12h8m-4-4v8m-3-7l6 6m0-6l-6 6m14 2h8m-4-4v8m-3-7l6 6m0-6l-6 6"/><path id="b7" d="M4 2a5 5 0 1 0 10 0a5 5 0 1 0-10 0m-14-4h8m-4-4v8m-3-7l6 6m0-6l-6 6m17-4h8m-4-4v8m-3-7l6 6m0-6l-6 6m-9-9h8m-4-4v8m-3-7l6 6m0-6l-6 6m1 13h8m-4-4v8m-3-7l6 6m0-6l-6 6"/><path id="p0" d="M13-9l8 8m0-8l-8 8m-26 13h8m-4-4v8m-3-7l6 6m0-6l-6 6m15-13l8 8m0-8l-8 8m-2-3a5 5 0 1 0 10 0a5 5 0 1 0-10 0m-10-2h8m-4-4v8m-3-7l6 6m0-6l-6 6"/><path id="p1" d="M-9 18h8m-4-4v8m-3-7l6 6m0-6l-6 6m19-29l8 8m0-8l-8 8m-16 15l8 8m0-8l-8 8m-4-20h8m-4-4v8m-5-11l8 8m0-8l-8 8"/><path id="p2" d="M3 3l8 8m0-8l-8 8m-11 0a5 5 0 1 0 10 0a5 5 0 1 0-10 0m12-10h8m-4-4v8m-3-7l6 6m0-6l-6 6m2-9h8m-4-4v8m-3-7l6 6m0-6l-6 6m-12 6h8m-4-4v8"/><path id="p3" d="M-6 5l8 8m0-8l-8 8m-4-24l8 8m0-8l-8 8m14 11h8m-4-4v8m-3-7l6 6m0-6l-6 6m-15-12h8m-4-4v8m-3-7l6 6m0-6l-6 6m-2-3h8m-4-4v8m-3-7l6 6m0-6l-6 6"/><path id="p4" d="M-4-9h8m-4-4v8m-3-7l6 6m0-6l-6 6m-1 13h8m-4-4v8m3-17h8m-4-4v8m-3-7l6 6m0-6l-6 6m-7-8l8 8m0-8l-8 8m-3-10l8 8m0-8l-8 8"/><path id="p5" d="M2-4h8m-4-4v8m-3-7l6 6m0-6l-6 6m-4-3h8m-4-4v8m-3-7l6 6m0-6l-6 6m-4-1a5 5 0 1 0 10 0a5 5 0 1 0-10 0m-2-5h8m-4-4v8m-3-7l6 6m0-6l-6 6m4-11h8m-4-4v8m-3-7l6 6m0-6l-6 6"/><path id="p6" d="M-13-3l8 8m0-8l-8 8m7-6l8 8m0-8l-8 8m3-9h8m-4-4v8m-3-7l6 6m0-6l-6 6m3-16l8 8m0-8l-8 8m6 9h8m-4-4v8"/><path id="p7" d="M7 0h8m-4-4v8m-3-7l6 6m0-6l-6 6m-9-11l8 8m0-8l-8 8m7-3h8m-4-4v8m-3-7l6 6m0-6l-6 6m-15 15h8m-4-4v8m-3-7l6 6m0-6l-6 6m-2-23h8m-4-4v8m-3-7l6 6m0-6l-6 6"/></defs><g transform="scale(.5)" fill="none" stroke-width="1.5" stroke-linejoin="round"><g stroke="#00e000"><path d="M2154 633l7-4v8zm-9-8h10v10h-10zm-4 41l7-4v8zm8-55l4 5l-4 5l-4-5zm-8 14h10v10h-10zm4 21l7-4v8zm-1-32l7-4v8zm-13-15h10v10h-10zm11 4h10v10h-10zm12 21h10v10h-10zm-12 3h10v10h-10zm-2 8h10v10h-10zm14 9l7-4v8zm-2-11l7-4v8zm0 11l4 5l-4 5l-4-5zm-23-37l4 7h-8zm12 33l7-4v8zm-5-6h10v10h-10zm7-1l7-4v8zm-11-10l7-4v8zm17 8l4 5l-4 5l-4-5zm15-2h10v10h-10zm-20 22l7-4v8zm-6-25h10v10h-10zm18 8l4 5l-4 5l-4-5zm-26-21l7-4v8zm17 8h10v10h-10zm8 9l4 7h-8zm-11-9h10v10h-10zm-6-9l4 5l-4 5l-4-5zm5-18l4 5l-4 5l-4-5zm-1 51l7-4v8zm-10-21l7-4v8zm27 14l4 5l-4 5l-4-5zm-11 11l7-4v8zm4-14h10v10h-10zm-23-18h10v10h-10zm7-6l7-4v8zm-7 3h10v10h-10zm20-6h10v10h-10zm0 44h10v10h-10zm2-44h10v10h-10zm-11-8l7-4v8zm18 42l4 7h-8zm-8-31h10v10h-10zm-3 18h10v10h-10zm16 5l7-4v8zm-7 11l7-4v8zm-9-49h10v10h-10zm-9 3h10v10h-10zm3 45l7-4v8zm14-10l7-4v8zm-17-3h10v10h-10zm15-17l7-4v8zm-8 7l4 5l-4 5l-4-5zm-10 17h10v10h-10zm-11-32h10v10h-10zm20 31l4 7h-8zm15-28l4 5l-4 5l-4-5zm-27 13h10v10h-10zm10-32l7-4v8zm4 50l7-4v8zm-4-25h10v10h-10zm16 21h10v10h-10zm-25-11l7-4v8zm10 18h10v10h-10zm6-9l7-4v8zm11-45l4 5l-4 5l-4-5zm-2 34l4 5l-4 5l-4-5zm-6-6h10v10h-10zm5-7h10v10h-10zm76 107l7-4v8zm-8 10l7-4v8zm25-7l4 5l-4 5l-4-5zm-47-28l7-4v8zm43 37h10v10h-10zm-31-25h10v10h-10zm-7-21l7-4v8zm22 27h10v10h-10zm-13-3l7-4v8zm-5-20l4 5l-4 5l-4-5zm29 25l7-4v8zm-3 25l7-4v8zm-50-52h10v10h-10zm59 34l4 5l-4 5l-4-5zm-24-24l4 7h-8zm0-3h10v10h-10zm28 34l7-4v8zm3-7l7-4v8zm-36-27l7-4v8zm28 18l4 5l-4 5l-4-5zm-33-31h10v10h-10zm31 41l4 5l-4 5l-4-5zm-48-36l7-4v8zm45 31l7-4v8zm1 19l7-4v8zm-3-9h10v10h-10zm-25-38l4 7h-8zm17 8l4 7h-8zm13 9l4 5l-4 5l-4-5zm-11 6h10v10h-10zm5 0l7-4v8zm-4 12l7-4v8zm-26-39l7-4v8zm29 35l7-4v8zm0-1h10v10h-10zm-10-12h10v10h-10zm2 10l4 5l-4 5l-4-5zm-17-26l7-4v8zm34 26l4 5l-4 5l-4-5zm-20-12l7-4v8zm4 9h10v10h-10zm-2-15h10v10h-10zm-12-6h10v10h-10zm9 6l7-4v8zm20 20h10v10h-10zm-13-24h10v10h-10zm8 17l4 5l-4 5l-4-5zm-8 0l7-4v8zm-3 8l7-4v8zm-12-29h10v10h-10zm50 87l7-4v8zm28 9h10v10h-10zm-9-1l7-4v8zm-25-11l7-4v8zm25 16l7-4v8zm28 24l7-4v8zm-21-22h10v10h-10zm2 10l7-4v8zm6-15h10v10h-10zm-42-23l4 5l-4 5l-4-5zm36 14h10v10h-10zm-11 8l7-4v8zm-11-3l4 5l-4 5l-4-5zm34 10h10v10h-10zm-37-16l7-4v8zm4-3l4 5l-4 5l-4-5zm16 21l7-4v8zm-33-29l7-4v8zm40 32l7-4v8zm1 5l7-4v8zm-3-16l4 5l-4 5l-4-5zm-1 0l7-4v8zm16 8l7-4v8zm-29-11l7-4v8zm5 5l7-4v8zm-13-11h10v10h-10zm-9-7l7-4v8zm39 14l7-4v8zm-20-16h10v10h-10zm9 18l7-4v8zm17 15l7-4v8zm-7 5l7-4v8zm-31-24l7-4v8zm-1-14l7-4v8zm9 16l7-4v8zm26 20l4 5l-4 5l-4-5zm-20-7l7-4v8zm-24-27h10v10h-10zm11 2l7-4v8zm18 13h10v10h-10zm15 13l7-4v8zm-41-42h10v10h-10zm4 4l4 5l-4 5l-4-5zm30 31h10v10h-10zm11 18l7-4v8zm-33-39h10v10h-10zm26 21l7-4v8zm-36-13l7-4v8zm16 5l7-4v8zm5 3l7-4v8zm-8 8l7-4v8zm9-5h10v10h-10zm10-7l7-4v8zm-13 1l7-4v8zm21 14h10v10h-10zm6 12l7-4v8zm-28-42l4 5l-4 5l-4-5zm-2 12l7-4v8zm14 10l7-4v8zm-14 2l7-4v8zm-6-31h10v10h-10zm3 14l4 5l-4 5l-4-5zm-12 1h10v10h-10zm-2-9h10v10h-10zm39 38l7-4v8zm-44-44l7-4v8zm51 33l7-4v8zm-32 0l7-4v8zm34-5l4 5l-4 5l-4-5zm-51-21l7-4v8zm11 12l7-4v8zm15 9h10v10h-10zm2 2h10v10h-10zm3 2l4 5l-4 5l-4-5zm-8-21l4 5l-4 5l-4-5zm-13-8l7-4v8zm45 37l7-4v8zm-46-20l7-4v8zm4 5l4 5l-4 5l-4-5zm6-4l4 5l-4 5l-4-5zm-17-27l7-4v8zm19 28h10v10h-10zm-7 5l7-4v8zm5-19l7-4v8zm-15 8h10v10h-10zm1-12l7-4v8zm-8-10l7-4v8zm32 45l7-4v8zm-16-33l4 5l-4 5l-4-5zm32 26l4 5l-4 5l-4-5zm-31-1l7-4v8zm35 10l7-4v8zm-19-6h10v10h-10zm5 14l7-4v8zm20-6l7-4v8zm-41-43l7-4v8zm17 33h10v10h-10zm14 5h10v10h-10zm-9 5l7-4v8zm-7-14h10v10h-10zm-7-9h10v10h-10zm28 31l7-4v8zm6-12l7-4v8zm-52-41l4 5l-4 5l-4-5zm-4 7l7-4v8zm10-2l7-4v8zm121-70l4 5l-4 5l-4-5zm18 18h10v10h-10zm23-5h10v10h-10zm11 20h10v10h-10zm-15-13l7-4v8zm-29-12l4 5l-4 5l-4-5zm49 29l4 5l-4 5l-4-5zm4 12l7-4v8zm-8-9h10v10h-10zm-12-28h10v10h-10zm-2 8h10v10h-10zm-3-3h10v10h-10zm-47-13l7-4v8zm17 7l4 5l-4 5l-4-5zm-24-19h10v10h-10zm11 15l4 5l-4 5l-4-5zm4 3l7-4v8zm9-4l4 5l-4 5l-4-5zm63 36h10v10h-10zm-75-37l4 5l-4 5l-4-5zm24 6h10v10h-10zm3 1h10v10h-10zm-35-6h10v10h-10zm-2-6h10v10h-10zm45 12l4 5l-4 5l-4-5zm-43-11l4 5l-4 5l-4-5zm19 11h10v10h-10zm-20-5l4 5l-4 5l-4-5zm40 16h10v10h-10zm-20-10l4 5l-4 5l-4-5zm59 28h10v10h-10zm-19-22l4 5l-4 5l-4-5zm-64-18h10v10h-10zm64 23h10v10h-10zm-58-19l4 5l-4 5l-4-5zm39 10l7-4v8zm-17-1h10v10h-10zm7-2h10v10h-10zm38 17l4 5l-4 5l-4-5zm-11 2l7-4v8zm-44-17h10v10h-10zm30 10h10v10h-10zm-11-8l4 5l-4 5l-4-5zm-36-21h10v10h-10zm67 32l4 5l-4 5l-4-5zm7 26l7-4v8zm2-12h10v10h-10zm-2 0h10v10h-10zm-2-12h10v10h-10zm-22-13h10v10h-10zm12 8h10v10h-10zm-43-16h10v10h-10zm-5 4h10v10h-10zm37 14h10v10h-10zm15 9l4 5l-4 5l-4-5zm-48-29h10v10h-10zm49 28l7-4v8zm-19-10h10v10h-10zm3-5h10v10h-10zm21 15l7-4v8zm-43-19h10v10h-10zm21 3h10v10h-10zm-41-16l4 5l-4 5l-4-5zm11 16l7-4v8zm31 0h10v10h-10zm27 10l4 5l-4 5l-4-5zm-40-8l7-4v8zm12 2l4 5l-4 5l-4-5zm-21-13l4 5l-4 5l-4-5zm-23 0l7-4v8zm0-8h10v10h-10zm52 26l7-4v8zm-11-1h10v10h-10zm25 7h10v10h-10zm-2-10l4 5l-4 5l-4-5zm-42-13l4 5l-4 5l-4-5zm-30-2h10v10h-10zm50 13h10v10h-10zm18 1h10v10h-10zm-30-11l4 5l-4 5l-4-5zm-35-7h10v10h-10zm53 23h10v10h-10zm-28-12h10v10h-10zm-18-5l4 5l-4 5l-4-5zm27 9l4 5l-4 5l-4-5zm10-4h10v10h-10zm67 109l4 5l-4 5l-4-5zm-5-11h10v10h-10zm-18-41l4 5l-4 5l-4-5zm21 91l7-4v8zm10-2l7-4v8zm-24-107l4 5l-4 5l-4-5zm-5 21h10v10h-10zm-7 28h10v10h-10zm32 37h10v10h-10zm-13-62h10v10h-10zm0 54h10v10h-10zm-1-8l7-4v8zm3-1l7-4v8zm1-5h10v10h-10zm-16-15h10v10h-10zm-3-14h10v10h-10zm-19-38h10v10h-10zm50 115l7-4v8zm-21-122l4 5l-4 5l-4-5zm19 68h10v10h-10zm-26 8h10v10h-10zm21-14h10v10h-10zm-4-15l4 5l-4 5l-4-5zm9 49l7-4v8zm-29-64h10v10h-10zm20 63l7-4v8zm-9-12h10v10h-10zm-22-50l7-4v8zm36 76l7-4v8zm-12-66h10v10h-10zm-9-20h10v10h-10zm20 44h10v10h-10zm-2-16l7-4v8zm-19 31h10v10h-10zm3 11l7-4v8zm19 14l7-4v8zm-9-61h10v10h-10zm0 35h10v10h-10zm-27-43h10v10h-10zm36 72h10v10h-10zm14 1l4 5l-4 5l-4-5zm-33-57l4 5l-4 5l-4-5zm21 13h10v10h-10zm-24-13l4 5l-4 5l-4-5zm-4-37l7-4v8zm7 41h10v10h-10zm2-19l7-4v8zm6-18h10v10h-10zm-11 33l4 5l-4 5l-4-5zm6 59l7-4v8zm-33-107h10v10h-10zm38 19h10v10h-10zm-11 10l7-4v8zm28 63h10v10h-10zm-26-56l7-4v8zm-15-45h10v10h-10zm39 111h10v10h-10zm10 2l4 7h-8zm-34-78h10v10h-10zm-3-2l7-4v8zm24 52h10v10h-10zm-7-8l7-4v8zm-31-72h10v10h-10zm28 69h10v10h-10zm1-2h10v10h-10zm13 23l7-4v8zm-20-40l7-4v8zm1 16l7-4v8zm-11-54l7-4v8zm1 13h10v10h-10zm5 42l7-4v8zm27-1l4 7h-8zm-43-59h10v10h-10zm24 23l7-4v8zm7 75l4 5l-4 5l-4-5zm-17-57l7-4v8zm26 35l4 5l-4 5l-4-5zm-13-32h10v10h-10zm-6-27h10v10h-10zm-6 13l7-4v8zm-3-13l4 7h-8zm6-15l7-4v8zm4 84l7-4v8zm-1-11l7-4v8zm5 13h10v10h-10zm18 12l4 7h-8zm-16-30l7-4v8zm-6-7h10v10h-10zm-5-26l7-4v8zm11 51h10v10h-10zm-6 7l7-4v8zm-4-21h10v10h-10zm-10-57h10v10h-10zm18 62h10v10h-10zm9 6l7-4v8zm-3 8h10v10h-10zm-4-77h10v10h-10zm-25-5l7-4v8zm44 91l7-4v8zm-17-45l4 5l-4 5l-4-5zm3 23l7-4v8zm-21-67h10v10h-10zm-4 6l7-4v8zm10 52h10v10h-10zm2 5l7-4v8zm13-1h10v10h-10zm-33-71l7-4v8zm38 96h10v10h-10zm-4-21l7-4v8zm-27-53h10v10h-10zm14 22l7-4v8zm-5 2h10v10h-10zm17 17l4 7h-8zm-46-61h10v10h-10zm60 65l4 5l-4 5l-4-5zm-42-67h10v10h-10zm23 1l7-4v8zm-17 19l7-4v8zm18-8l7-4v8zm-13 40h10v10h-10zm-5-37h10v10h-10zm14-12l4 5l-4 5l-4-5zm-19 9l4 7h-8zm-345 193l4 5l-4 5l-4-5zm-34-59l7-4v8zm11 2l4 5l-4 5l-4-5zm3 42h10v10h-10zm7-21l4 5l-4 5l-4-5zm-12-7l7-4v8zm-1-20l4 5l-4 5l-4-5zm0 33h10v10h-10zm0-35l4 5l-4 5l-4-5zm13 47l4 5l-4 5l-4-5zm5-1h10v10h-10zm-21-15l7-4v8zm25 25l7-4v8zm1 8l7-4v8zm-12-20h10v10h-10zm-15-37l4 5l-4 5l-4-5zm20 34h10v10h-10zm-26-25h10v10h-10zm-2-17h10v10h-10zm2-2l4 5l-4 5l-4-5zm36 60l4 5l-4 5l-4-5zm-26-46l4 5l-4 5l-4-5zm23 41l7-4v8zm-24-2h10v10h-10zm2-18l4 5l-4 5l-4-5zm20 24l4 5l-4 5l-4-5zm-4 3h10v10h-10zm-19-71h10v10h-10zm-6 15l4 5l-4 5l-4-5zm28 42l4 5l-4 5l-4-5zm-19-18h10v10h-10zm-8-23h10v10h-10zm-2-2l4 5l-4 5l-4-5zm12 10h10v10h-10zm-10 17l4 5l-4 5l-4-5zm9-5h10v10h-10zm-3-19l4 5l-4 5l-4-5zm10 43h10v10h-10zm-21-60h10v10h-10zm16 53h10v10h-10zm1-7h10v10h-10zm-16-10l7-4v8zm12-7h10v10h-10zm-12-6l4 5l-4 5l-4-5zm34 49l4 5l-4 5l-4-5zm-30-49l7-4v8zm16 22l4 5l-4 5l-4-5zm-6 2h10v10h-10zm7 4h10v10h-10zm-22-35h10v10h-10zm46 60h10v10h-10zm-30-59l4 5l-4 5l-4-5zm24 53l4 5l-4 5l-4-5zm-15-6l4 5l-4 5l-4-5zm1 1h10v10h-10zm7 11l7-4v8zm5 1h10v10h-10zm-15-11l4 5l-4 5l-4-5zm-20-56l4 5l-4 5l-4-5zm8 7l4 5l-4 5l-4-5zm-3 5h10v10h-10zm12 42l4 5l-4 5l-4-5zm19 14l4 5l-4 5l-4-5zm-11 8l7-4v8zm-5-41l4 5l-4 5l-4-5zm-5 1l4 5l-4 5l-4-5zm-6 14l7-4v8zm20 12h10v10h-10zm-16-53l4 5l-4 5l-4-5zm14 38l4 5l-4 5l-4-5zm-16-25l7-4v8zm-10-32l4 5l-4 5l-4-5zm16 44l4 5l-4 5l-4-5zm25 30l4 5l-4 5l-4-5zm-35-43h10v10h-10zm-4-14h10v10h-10zm-1 27h10v10h-10zm3-26l4 5l-4 5l-4-5zm-2 12l7-4v8zm16 29l4 5l-4 5l-4-5zm9 15h10v10h-10zm2-17l4 5l-4 5l-4-5zm-6 6h10v10h-10zm-18-41l7-4v8zm-2-13l4 5l-4 5l-4-5zm1 30l7-4v8zm27 25h10v10h-10zm-24-20l7-4v8zm0-31l4 5l-4 5l-4-5zm17 56l4 5l-4 5l-4-5zm3-3l4 5l-4 5l-4-5zm-2 7l7-4v8zm209-21l7-4v8zm-1 80l7-4v8zm-13-34l4 5l-4 5l-4-5zm21-70l7-4v8zm10-14l4 7h-8zm-6 10l4 5l-4 5l-4-5zm-4 20l7-4v8zm-7 47h10v10h-10zm1-16l4 5l-4 5l-4-5zm6-49l4 5l-4 5l-4-5zm-9 73h10v10h-10zm10-76l4 5l-4 5l-4-5zm2 24h10v10h-10zm-1-24h10v10h-10zm1 46l7-4v8zm8-34l4 5l-4 5l-4-5zm-12 12l7-4v8zm-9 63l4 7h-8zm24-85l4 7h-8zm-16 29h10v10h-10zm8-22l7-4v8zm5-25l4 5l-4 5l-4-5zm-19 73l7-4v8zm8-82l7-4v8zm-15 119h10v10h-10zm9-69l7-4v8zm-4 7l4 5l-4 5l-4-5zm15-49h10v10h-10zm1 27l4 5l-4 5l-4-5zm-18 54h10v10h-10zm16-68h10v10h-10zm-18 95h10v10h-10zm14-94h10v10h-10zm-16 79h10v10h-10zm18-54h10v10h-10zm-7 28h10v10h-10zm-12 58l7-4v8zm20-115h10v10h-10zm-13 102h10v10h-10zm21-108l7-4v8zm-14 36h10v10h-10zm11-38h10v10h-10zm-21 74h10v10h-10zm1 37h10v10h-10zm5-58l7-4v8zm-1 2h10v10h-10zm12 18l4 7h-8zm-10-16h10v10h-10zm-3-29h10v10h-10zm18-5l7-4v8zm-17 46h10v10h-10zm-5-8h10v10h-10zm22-56l7-4v8zm-15 56h10v10h-10zm8-22l4 5l-4 5l-4-5zm-16 35h10v10h-10zm9 42h10v10h-10zm9-117l7-4v8zm0 10l7-4v8zm-2 70l4 7h-8zm-22 44h10v10h-10zm24-102l7-4v8zm0 5l4 5l-4 5l-4-5zm-9 62h10v10h-10zm6-48l4 5l-4 5l-4-5zm-13 65h10v10h-10zm9-92h10v10h-10zm-6 47h10v10h-10zm-1 34h10v10h-10zm-2-55l7-4v8zm-4 81l7-4v8zm8-68h10v10h-10zm4 49h10v10h-10zm8-84l7-4v8zm-18 96h10v10h-10zm1-25h10v10h-10zm19-92h10v10h-10zm-14 80l7-4v8zm24-55l4 7h-8zm-32 85l7-4v8zm24-105h10v10h-10zm-9 57l7-4v8zm-8 46l4 5l-4 5l-4-5zm4-94l7-4v8zm0-10h10v10h-10zm-11 84h10v10h-10zm0 30h10v10h-10zm5-42l4 5l-4 5l-4-5zm6-9l7-4v8zm-2 91h10v10h-10zm15 18h10v10h-10zm-5-35l4 5l-4 5l-4-5zm4 31l7-4v8zm15 11h10v10h-10zm-29-26h10v10h-10zm-4-21l7-4v8zm15 26l4 7h-8zm-8-25l4 7h-8zm9 32h10v10h-10zm-1-3l7-4v8zm-10-32h10v10h-10zm-3 11l7-4v8zm28 42l4 5l-4 5l-4-5zm-7-10l7-4v8zm-15-17l7-4v8zm4-17l7-4v8zm4 16h10v10h-10zm-3-118h10v10h-10zm-12 0h10v10h-10zm-1-5l7-4v8zm6 4l7-4v8zm0-6h10v10h-10zm11 15h10v10h-10zm-1-19l4 5l-4 5l-4-5zm7 12l4 7h-8zm-15-3l4 5l-4 5l-4-5zm3-1h10v10h-10zm-1-8h10v10h-10zm-6 8h10v10h-10zm7-2l4 7h-8zm9 10l7-4v8zm-6-4h10v10h-10zm-16-4l7-4v8zm14 10l7-4v8zm-3-1h10v10h-10zm7-11h10v10h-10zm4 17l4 5l-4 5l-4-5zm4-20l4 5l-4 5l-4-5zm-23 13l7-4v8zm4-14h10v10h-10zm6 3h10v10h-10zm-3-3h10v10h-10zm-7 4h10v10h-10zm14 1h10v10h-10zm-3 4h10v10h-10zm-4-7l4 7h-8zm0 0h10v10h-10zm2 12l4 7h-8zm-1-5h10v10h-10zm6-9l4 5l-4 5l-4-5zm-6 9h10v10h-10zm9-4l4 5l-4 5l-4-5zm-12 12l7-4v8zm7-10l4 5l-4 5l-4-5zm-6 10h10v10h-10zm5 3l7-4v8zm-5-12h10v10h-10zm2 10h10v10h-10zm-10-15h10v10h-10zm18-3h10v10h-10zm-1 9l4 5l-4 5l-4-5zm-6 0l4 7h-8zm6-5l7-4v8zm-8-1h10v10h-10zm0 4h10v10h-10zm12-4l4 7h-8zm-13 22l7-4v8zm0-9l4 5l-4 5l-4-5zm9-15l4 5l-4 5l-4-5zm-6-4h10v10h-10zm-1 17l4 7h-8zm45-3l7-4v8zm1-18l7-4v8zm-20-12l4 7h-8zm26 27h10v10h-10zm5-12h10v10h-10zm-18-5l7-4v8zm-22-2l7-4v8zm8 17l7-4v8zm8-8l7-4v8zm8 9h10v10h-10zm4 2h10v10h-10zm-8-18h10v10h-10zm-6-1l7-4v8zm-12 14l7-4v8zm27-18h10v10h-10zm7 19h10v10h-10zm-11-8l4 7h-8zm-29-14h10v10h-10zm14 11h10v10h-10zm16 4l7-4v8zm-6 0l4 5l-4 5l-4-5zm12 12h10v10h-10zm-15-20h10v10h-10zm3 27l7-4v8zm22 6l4 7h-8zm-19-7l7-4v8zm6-12h10v10h-10zm-3-16l4 5l-4 5l-4-5zm8 10h10v10h-10zm-15-11l4 5l-4 5l-4-5zm17 15h10v10h-10zm3-7l4 5l-4 5l-4-5zm-30 1h10v10h-10zm0-1l7-4v8zm-7-16l4 7h-8zm8 15h10v10h-10zm10-9h10v10h-10zm15-161l4 5l-4 5l-4-5zm-1 9h10v10h-10zm-30 19l4 5l-4 5l-4-5zm32 12h10v10h-10zm-61-26h10v10h-10zm31 39h10v10h-10zm-32 8h10v10h-10zm122-30h10v10h-10zm-72-20h10v10h-10zm-35 3h10v10h-10zm106 43h10v10h-10zm-35-33h10v10h-10zm-85 31h10v10h-10zm51-59l4 5l-4 5l-4-5zm48 78l4 5l-4 5l-4-5zm37-1h10v10h-10zm0-16l4 5l-4 5l-4-5zm-38-48h10v10h-10zm-28 32h10v10h-10zm15 38l8-5v10zm-19 1l8-5v10zm39-33l8-5v10zm-52-47h10v10h-10zm-61 17l8-5v10zm130 43h10v10h-10zm-75-10l8-5v10zm15 23l8-5v10zm-62-49h10v10h-10zm17-17h10v10h-10zm60 45h10v10h-10zm33 0h10v10h-10zm24-50h10v10h-10zm-138 29l8-5v10zm69-15h10v10h-10zm-17 35h10v10h-10zm25 25l4 5l-4 5l-4-5zm35-41h10v10h-10zm-114-4l8-5v10zm1 11h10v10h-10zm123 6h10v10h-10zm-62-5l4 5l-4 5l-4-5zm22-22h10v10h-10zm-50 16h10v10h-10zm39 21h10v10h-10zm-47-31l4 5l-4 5l-4-5zm23-29l4 5l-4 5l-4-5zm10 26h10v10h-10zm45 9h10v10h-10zm-33 1l8-5v10zm11 25h10v10h-10zm17 6h10v10h-10zm-13-23h10v10h-10zm47-25l8-5v10zm-126 50l8-5v10zm31 7h10v10h-10zm46-68h10v10h-10zm-63 36h10v10h-10zm75-33h10v10h-10zm-26 33h10v10h-10zm-9 23h10v10h-10zm1-46h10v10h-10zm-17 59h10v10h-10zm26-4h10v10h-10zm12-9l8-5v10zm-83-18h10v10h-10zm139 12h10v10h-10zm-130-18h10v10h-10zm187 137h10v10h-10zm13 2h10v10h-10zm-19 0h10v10h-10zm-7 7h10v10h-10zm2-8h10v10h-10zm23 15h10v10h-10zm-14-13h10v10h-10zm-16 0h10v10h-10zm27 3h10v10h-10zm-20-3h10v10h-10zm22 11h10v10h-10zm-30-19h10v10h-10zm26 12h10v10h-10zm-3-6h10v10h-10zm-20 7h10v10h-10zm28 3h10v10h-10zm-21-7h10v10h-10zm12 8h10v10h-10zm23-6h10v10h-10zm1-1h10v10h-10zm-19 0h10v10h-10zm-28-11h10v10h-10zm-18-1h10v10h-10zm22 8h10v10h-10zm-6 0h10v10h-10zm-2-2h10v10h-10zm24 7h10v10h-10zm-5-10h10v10h-10zm13 12h10v10h-10zm4 5h10v10h-10zm-22-10h10v10h-10zm33-6h10v10h-10zm-42 5h10v10h-10zm6 2h10v10h-10zm1-5h10v10h-10zm-20 0h10v10h-10zm17 0h10v10h-10zm28 11h10v10h-10zm-30-14h10v10h-10zm27 14h10v10h-10zm-1-2h10v10h-10zm-30 1h10v10h-10zm8-11h10v10h-10zm-7 5h10v10h-10zm-5 1h10v10h-10zm1-11l4 5l-4 5l-4-5zm-51 2h10v10h-10zm-30-28h10v10h-10zm29 12l4 5l-4 5l-4-5zm9 12l7-4v8zm-22-10l7-4v8zm50 16l7-4v8zm-48-18l7-4v8zm40 18l7-4v8zm-76-30l7-4v8zm-1 2l7-4v8zm53 29l4 5l-4 5l-4-5zm29-4h10v10h-10zm-83-31h10v10h-10zm14 8l7-4v8zm-5 16l7-4v8zm87 14l7-4v8zm-27 0l7-4v8zm-47-26l7-4v8zm76 17l4 5l-4 5l-4-5zm-44-4l7-4v8zm-61-26l7-4v8zm38 10l7-4v8zm130 19l7-4v8zm-7 0l7-4v8zm-30-26l7-4v8zm31 20l7-4v8zm-13-31l4 5l-4 5l-4-5zm-5 15l7-4v8zm5-3l4 5l-4 5l-4-5zm9 13l4 5l-4 5l-4-5zm-39-41l7-4v8zm43 45h10v10h-10zm4 18l7-4v8zm-28-37l4 5l-4 5l-4-5zm37 28h10v10h-10zm-58-53l7-4v8zm50 52h10v10h-10zm-24-34l4 7h-8zm5 22l7-4v8zm4-1h10v10h-10zm-11 1l7-4v8zm4-18l7-4v8zm-1 5l7-4v8zm-19-33h10v10h-10zm33 36l4 5l-4 5l-4-5zm-3 10l4 5l-4 5l-4-5zm-32-37h10v10h-10zm41 50h10v10h-10zm4 1l4 5l-4 5l-4-5zm-47-49l7-4v8zm27 37l4 7h-8zm-7-31l4 7h-8zm34 34h10v10h-10zm-52-41l4 5l-4 5l-4-5zm10-10l4 7h-8zm36 52h10v10h-10zm-31-21l7-4v8zm75-250l4 5l-4 5l-4-5zm-58-23h10v10h-10zm42 5l7-4v8zm-4 15h10v10h-10zm-4-8l7-4v8zm-26 3l7-4v8zm23-13h10v10h-10zm-26-1h10v10h-10zm29 0h10v10h-10zm1 18h10v10h-10zm-25-5l4 5l-4 5l-4-5zm16-16l4 5l-4 5l-4-5zm-15-5h10v10h-10zm-9 31l4 7h-8zm40-3l4 5l-4 5l-4-5zm-44-2h10v10h-10zm38-5l7-4v8zm-8-7l7-4v8zm-23 17l4 5l-4 5l-4-5zm1-17l7-4v8zm-6 4h10v10h-10zm9-12l4 5l-4 5l-4-5zm-2 0h10v10h-10zm33 12h10v10h-10zm-31-5l7-4v8zm26 20l4 5l-4 5l-4-5zm5-23l4 5l-4 5l-4-5zm-9 10h10v10h-10zm18 10l7-4v8zm-7-15l7-4v8zm-32-5l4 5l-4 5l-4-5zm26-12h10v10h-10zm-25 25l7-4v8zm36 1l7-4v8zm-42-24h10v10h-10zm-3 11l7-4v8zm14 8l7-4v8zm1 0l7-4v8zm30-4l7-4v8zm-1 5l4 5l-4 5l-4-5zm-2 4l4 5l-4 5l-4-5zm4-8l4 5l-4 5l-4-5zm-28 7l4 5l-4 5l-4-5zm23 11l4 5l-4 5l-4-5zm-13-18l7-4v8zm5-4l7-4v8zm-30 15l4 5l-4 5l-4-5zm36 8l7-4v8zm-4-9h10v10h-10zm-8-23l4 5l-4 5l-4-5zm-2 9h10v10h-10zm18 18l7-4v8zm-28-7l7-4v8zm13-21l4 5l-4 5l-4-5zm10 6l4 7h-8zm2 5l4 5l-4 5l-4-5zm-2-14l4 5l-4 5l-4-5zm-3 28l7-4v8zm-47-7l7-4v8zm63 9l7-4v8zm-20-21h10v10h-10zm13-4h10v10h-10zm-48 17h10v10h-10zm46 8l7-4v8zm-10-23h10v10h-10zm-13 3l4 7h-8zm-21 74l7-4v8zm-1-54h10v10h-10zm6 44l4 7h-8zm1-22l4 5l-4 5l-4-5zm-6 4h10v10h-10zm10 6l7-4v8zm1 6h10v10h-10zm-8-3h10v10h-10zm11 30l7-4v8zm-21-30h10v10h-10zm2-29l7-4v8zm6-5l4 5l-4 5l-4-5zm-6 12h10v10h-10zm7 7l7-4v8zm4 24h10v10h-10zm5 15l7-4v8zm-5-40l4 5l-4 5l-4-5zm8 35l4 5l-4 5l-4-5zm-4-37l4 5l-4 5l-4-5zm-9 5l4 5l-4 5l-4-5zm13 11l4 5l-4 5l-4-5zm-7-7l7-4v8zm10 24l7-4v8zm-20 7l4 7h-8zm10-32h10v10h-10zm-2 1h10v10h-10zm3 9l7-4v8zm-7 6l7-4v8zm7-1l7-4v8zm-1 18h10v10h-10zm-6 0l7-4v8zm-4-32l4 5l-4 5l-4-5zm5 38l7-4v8zm9-24h10v10h-10zm-15-31h10v10h-10zm0 8l7-4v8zm2 51l7-4v8zm51 42h10v10h-10zm11-37h10v10h-10zm-39 23h10v10h-10zm56 9l7-4v8zm-110-37l4 5l-4 5l-4-5zm61 4h10v10h-10zm-9 7h10v10h-10zm-29-21h10v10h-10zm4 40h10v10h-10zm-25-28l7-4v8zm6 16l7-4v8zm-2-14l4 7h-8zm-19-21h10v10h-10zm27 33l7-4v8zm40 1l4 5l-4 5l-4-5zm5-8h10v10h-10zm-80-14h10v10h-10zm80 15h10v10h-10zm-63-14h10v10h-10zm-10-26h10v10h-10zm67 36h10v10h-10zm44 8h10v10h-10zm-67 3l7-4v8zm-14-9h10v10h-10zm34 11l4 5l-4 5l-4-5zm-61-33h10v10h-10zm98 41l7-4v8zm-79-27l7-4v8zm26 9h10v10h-10zm56 22h10v10h-10zm-26-27l7-4v8zm-44 8l7-4v8zm78 8l7-4v8zm-74-12l7-4v8zm-24-32h10v10h-10zm53 32h10v10h-10zm-53-10l7-4v8zm83 31h10v10h-10zm-67-17h10v10h-10zm29 15h10v10h-10zm-44-35l7-4v8zm12 28l7-4v8zm86 19h10v10h-10zm-66-19h10v10h-10zm6-28l7-4v8zm-50-8l7-4v8zm45 23l4 7h-8zm47 27h10v10h-10zm-12-11l7-4v8zm-93-32h10v10h-10zm35 18h10v10h-10zm11 8l7-4v8zm25 7l7-4v8zm-52-28h10v10h-10zm90 18h10v10h-10zm-43-7h10v10h-10zm-59-32h10v10h-10zm26 34l7-4v8zm5-5h10v10h-10zm36 33l7-4v8zm5-31h10v10h-10zm4 13l4 7h-8zm-61-32h10v10h-10zm94 35h10v10h-10zm-43 14l7-4v8zm-7-11l7-4v8zm-14-2l4 7h-8zm17-9h10v10h-10zm-63-2l4 5l-4 5l-4-5zm3-39h10v10h-10zm69 47h10v10h-10zm-49-9l7-4v8zm26 5h10v10h-10zm-14-14h10v10h-10zm54 17h10v10h-10zm-235-14l7-4v8zm26 6l7-4v8zm-41-32l7-4v8zm22 14l7-4v8zm20 36l7-4v8zm-10-45l7-4v8zm-22 1l7-4v8zm12 11l7-4v8zm6-20l7-4v8zm-50 57l7-4v8zm34-34l7-4v8zm-46-11l7-4v8zm24 18l7-4v8zm27-24l7-4v8zm9-9l7-4v8zm11 28l7-4v8zm-15 17l7-4v8zm-29 3l7-4v8zm20 157l7-4v8zm5-1l7-4v8zm-20-10l4 5l-4 5l-4-5zm3-9l4 5l-4 5l-4-5zm2 16l7-4v8zm16-6l7-4v8zm-41-11l7-4v8zm29 2l4 5l-4 5l-4-5zm26 2l4 5l-4 5l-4-5zm-44 1l7-4v8zm17 1l4 5l-4 5l-4-5zm-20-3l7-4v8zm8-7l4 5l-4 5l-4-5zm8 19l7-4v8zm12 6l4 5l-4 5l-4-5zm-15-6l4 5l-4 5l-4-5zm4-10l4 5l-4 5l-4-5zm19 10l7-4v8zm-20-14l4 5l-4 5l-4-5zm14-14l4 5l-4 5l-4-5zm-2 13l7-4v8zm10 1l7-4v8zm-29 2l7-4v8zm114-120l7-4v8zm2 9l7-4v8zm-6 0l7-4v8zm5-6l7-4v8zm-5 1l7-4v8zm160 125l7-4v8zm1-9l7-4v8zm-13-26l7-4v8zm12 19l7-4v8zm-17-29l7-4v8zm6 52l7-4v8zm22-287l7-4v8zm-4 18l7-4v8zm3-9l7-4v8zm0 1l7-4v8zm-7 3l7-4v8zm-299 295l4 5l-4 5l-4-5zm258-146l4 5l-4 5l-4-5zm-41 20l4 5l-4 5l-4-5zm-385-100h10v10h-10zm2 2h10v10h-10zm5 14h10v10h-10zm-3-16h10v10h-10zm5-4h10v10h-10zm583 188l4 7h-8zm-29-21l7-4v8zm59 49h10v10h-10zm-99-120l7-4v8zm59 91h10v10h-10zm91 39h10v10h-10zm-134-111l7-4v8zm51 49l4 7h-8zm85 81h10v10h-10zm8 1l7-4v8zm-103-54l7-4v8zm-82-142l4 5l-4 5l-4-5zm37 59l4 5l-4 5l-4-5zm139 129h10v10h-10zm-77-64l4 5l-4 5l-4-5zm-91-111l4 5l-4 5l-4-5zm142 153h10v10h-10zm-57-22l7-4v8zm-47-60h10v10h-10zm94 73l4 5l-4 5l-4-5zm-37 13h10v10h-10zm18-37l4 7h-8zm-115-124h10v10h-10zm105 133l4 5l-4 5l-4-5zm16 23l4 5l-4 5l-4-5zm49 30h10v10h-10zm-69-39h10v10h-10zm-73-115h10v10h-10zm92 114l4 7h-8zm-102-120l4 7h-8zm156 170l7-4v8zm-138-153h10v10h-10zm89 129l7-4v8zm30-7h10v10h-10zm-143-149h10v10h-10zm50 84h10v10h-10zm-11-7l7-4v8zm-8-29l7-4v8zm17 22l4 5l-4 5l-4-5zm0 19h10v10h-10zm62 24h10v10h-10zm-77-80h10v10h-10zm14 42h10v10h-10zm89 82l7-4v8zm-145-147l7-4v8zm173 157h10v10h-10zm-93-55l7-4v8zm17 14h10v10h-10zm-62-59h10v10h-10zm81 86l4 5l-4 5l-4-5zm-99-123h10v10h-10zm54 47l7-4v8zm-68-85l7-4v8zm82 107l4 7h-8zm-8-6h10v10h-10zm-16-16l4 5l-4 5l-4-5zm22 27h10v10h-10zm-83-97h10v10h-10zm47 74l7-4v8zm91 51h10v10h-10zm-71-36l7-4v8zm-40-76l4 7h-8zm-1 19l4 5l-4 5l-4-5zm75 83l4 5l-4 5l-4-5zm-78-53l7-4v8zm24-5l7-4v8zm-20-14l4 7h-8zm81 62l7-4v8zm-138-142h10v10h-10zm167 188l4 5l-4 5l-4-5zm32 10l7-4v8zm4-7h10v10h-10zm-162-125l7-4v8zm75 67h10v10h-10zm47 50h10v10h-10zm-91-95l7-4v8zm-14-35h10v10h-10zm94 126l4 7h-8zm-119-142h10v10h-10zm11 4l4 5l-4 5l-4-5zm78 105h10v10h-10zm31 39l4 7h-8zm-116-142h10v10h-10zm155 151h10v10h-10zm-183-190h10v10h-10zm25 21l4 5l-4 5l-4-5zm5 33l4 5l-4 5l-4-5zm30 26l4 5l-4 5l-4-5zm84 92l7-4v8zm-61-69l4 5l-4 5l-4-5zm-69-71l7-4v8zm166 154h10v10h-10zm-117-96l7-4v8zm-29-38l4 7h-8zm-24-47h10v10h-10zm95 140h10v10h-10zm-102-123h10v10h-10zm0-25h10v10h-10zm87 141h10v10h-10zm81 42l7-4v8zm-21-26l7-4v8zm-76-36h10v10h-10zm94 49h10v10h-10zm-74-39h10v10h-10zm109 62l7-4v8zm-169-133l7-4v8zm138 148l7-4v8zm-82-83h10v10h-10zm34 14l4 5l-4 5l-4-5zm-91-104l4 5l-4 5l-4-5zm103 144h10v10h-10zm46 22l7-4v8zm-125-130h10v10h-10zm-49-66l4 5l-4 5l-4-5zm193 200h10v10h-10zm-53-30l7-4v8zm-100-103l7-4v8zm19 38l7-4v8zm-16-58l4 7h-8zm156 136l4 5l-4 5l-4-5zm-38-19l4 5l-4 5l-4-5zm-99-70l7-4v8zm9 15l4 5l-4 5l-4-5zm5 4l4 5l-4 5l-4-5zm71 53l4 5l-4 5l-4-5zm2-14h10v10h-10zm21 21h10v10h-10zm-84-41l7-4v8zm-83-112l4 5l-4 5l-4-5zm182 168l4 5l-4 5l-4-5zm-139-96l7-4v8zm-12-26h10v10h-10zm71 68l7-4v8zm10 1h10v10h-10zm30 48h10v10h-10zm-128-161l4 5l-4 5l-4-5zm-24-11h10v10h-10zm95 107l7-4v8zm16-3l7-4v8zm-2 29l7-4v8zm33 22l4 7h-8zm-24-10h10v10h-10zm-94-130l4 5l-4 5l-4-5zm78 121l7-4v8zm109 85h10v10h-10zm10 10h10v10h-10zm1 1l7-4v8zm5-41h10v10h-10zm-10 22l7-4v8zm8 27h10v10h-10zm-2-22h10v10h-10zm8 7h10v10h-10zm-23-19l7-4v8zm21 43l7-4v8zm22 33h10v10h-10zm-9-81l7-4v8zm0 60l4 5l-4 5l-4-5zm9-3l7-4v8zm1 12l4 5l-4 5l-4-5zm-38-49l7-4v8zm1-19l7-4v8zm-1-10l4 5l-4 5l-4-5zm15 47l7-4v8zm9 8h10v10h-10zm1-19h10v10h-10zm-14 17h10v10h-10zm4-12h10v10h-10zm-12-36h10v10h-10zm-6 17l7-4v8zm12-7h10v10h-10zm-12-23l7-4v8zm26 80h10v10h-10zm-41-82l7-4v8zm43 66h10v10h-10zm-27-31l7-4v8zm13 49l7-4v8zm0-41h10v10h-10zm-1-7l7-4v8zm-13-9l7-4v8zm-1-45l7-4v8zm2 0h10v10h-10zm12 25l7-4v8zm1 26l7-4v8zm1 35l4 5l-4 5l-4-5zm-13 11h10v10h-10zm30 11h10v10h-10zm0-33h10v10h-10zm-7 1h10v10h-10zm-10-1l7-4v8zm3-19h10v10h-10zm-2 49h10v10h-10zm-14-62h10v10h-10zm4 39h10v10h-10zm-14-36h10v10h-10zm41 36h10v10h-10zm-17-23l7-4v8zm4-18l7-4v8zm-3-12h10v10h-10zm-7 26l7-4v8zm10 4l7-4v8zm-25-40h10v10h-10zm16 19l7-4v8zm-3 7h10v10h-10zm6-8h10v10h-10zm-9-16h10v10h-10zm27 52h10v10h-10zm20 0l4 5l-4 5l-4-5zm-5 22h10v10h-10zm-40-72l4 7h-8zm3 56l7-4v8zm-8-70h10v10h-10zm13 81l7-4v8zm7-39l4 5l-4 5l-4-5zm6 20l7-4v8zm2 1l7-4v8zm-5-11h10v10h-10zm10 14h10v10h-10zm-10 1l4 7h-8zm-11-47l4 5l-4 5l-4-5zm13 33h10v10h-10zm2 38h10v10h-10zm-11-61l4 5l-4 5l-4-5zm-26-31l7-4v8zm24 94l7-4v8zm7-51l7-4v8zm-6 12l7-4v8zm-15-23l7-4v8zm11 5h10v10h-10zm9 39l7-4v8zm-4-1l7-4v8zm5-78l7-4v8zm-8 82h10v10h-10zm15 4h10v10h-10zm-30-43h10v10h-10zm12 61l7-4v8zm-9-70h10v10h-10zm-3 3l7-4v8zm36 45h10v10h-10zm-15-17h10v10h-10zm-7-16l4 5l-4 5l-4-5zm20 49l7-4v8zm-35-40h10v10h-10zm6-66l4 5l-4 5l-4-5zm37 78l7-4v8zm-42-7h10v10h-10zm2 33h10v10h-10zm0-77l4 5l-4 5l-4-5zm6 46l7-4v8zm-2-29l7-4v8zm4 27l7-4v8zm0-34h10v10h-10zm15 31h10v10h-10zm9 52h10v10h-10zm-9-1h10v10h-10zm1-23l7-4v8zm3-3h10v10h-10zm6 15l4 7h-8zm-17-4l4 5l-4 5l-4-5zm1 16l7-4v8zm-6-16h10v10h-10zm14 11l7-4v8zm-1-12h10v10h-10zm-7 23l7-4v8zm12-31l4 5l-4 5l-4-5zm6 5h10v10h-10zm-3 1h10v10h-10zm-2 6l4 5l-4 5l-4-5zm6 7l4 5l-4 5l-4-5zm-13 3l7-4v8zm-2-1l4 5l-4 5l-4-5zm12 3h10v10h-10zm6-9h10v10h-10zm-19-5h10v10h-10zm-3 6h10v10h-10zm9-9l7-4v8zm10 17l7-4v8zm4-23h10v10h-10zm-3 18l4 7h-8zm-21 7h10v10h-10zm10-7l4 5l-4 5l-4-5zm6 0l4 7h-8zm-20-4l7-4v8zm-3 4l7-4v8zm9-3l4 7h-8zm20 0h10v10h-10zm-13-15l4 5l-4 5l-4-5zm-11 15h10v10h-10zm8 4l7-4v8zm0 4l7-4v8zm0-15l4 5l-4 5l-4-5zm18 15l7-4v8zm-6-3l7-4v8zm-10-16h10v10h-10zm9 19l7-4v8zm11-5l7-4v8zm-24-22l4 5l-4 5l-4-5zm11 22h10v10h-10zm-6-15h10v10h-10zm19 1h10v10h-10zm-7 18h10v10h-10zm-16-21l4 5l-4 5l-4-5zm9 4h10v10h-10zm-16 19l7-4v8zm18 2l7-4v8zm-10-14l7-4v8zm3 9l4 5l-4 5l-4-5zm-5-8h10v10h-10zm-11 9l7-4v8zm24-1h10v10h-10zm-230-140l4 5l-4 5l-4-5zm25 18h10v10h-10zm27 1l7-4v8zm-15-16h10v10h-10zm-10 14l7-4v8zm5-2l7-4v8zm-35-35h10v10h-10zm56 26l4 5l-4 5l-4-5zm9 2l4 5l-4 5l-4-5zm-47 0l7-4v8zm-11-12l7-4v8zm31 5l7-4v8zm-25-8l4 5l-4 5l-4-5zm4 14h10v10h-10zm0-2l4 5l-4 5l-4-5zm47-3l7-4v8zm-13 9l4 5l-4 5l-4-5zm-25 10l4 5l-4 5l-4-5zm26-26l7-4v8zm-51-2l7-4v8zm65 25h10v10h-10zm-75-17l7-4v8zm65 10l7-4v8zm-23-19l4 5l-4 5l-4-5zm-38 11l7-4v8zm83 17l7-4v8zm-18-17h10v10h-10zm-48-3l7-4v8zm29 8l4 5l-4 5l-4-5zm-30-18l7-4v8zm12 30l7-4v8zm32-5l4 5l-4 5l-4-5zm-44-23h10v10h-10zm25 19h10v10h-10zm8-1l7-4v8zm-32-24l7-4v8zm30 12l4 5l-4 5l-4-5zm2 0l7-4v8zm-13-7l4 5l-4 5l-4-5zm33 21l7-4v8zm-10-7l4 5l-4 5l-4-5zm2 2l7-4v8zm-38 0l7-4v8zm-21-17l7-4v8zm-3 18l7-4v8zm0-22l4 5l-4 5l-4-5zm27 6l7-4v8zm-12 4l4 5l-4 5l-4-5zm42 8h10v10h-10zm30 18l4 5l-4 5l-4-5zm-75-24h10v10h-10zm11 8l7-4v8zm39 1l4 5l-4 5l-4-5zm0 9l7-4v8zm-61-28l7-4v8zm35 19l4 5l-4 5l-4-5zm57 9l7-4v8zm13-3h10v10h-10zm-48-5l7-4v8zm414 31l7-4v8zm15 34l7-4v8zm-30 7l7-4v8zm89-1h10v10h-10zm-38 19h10v10h-10zm15 7h10v10h-10zm-44-62h10v10h-10zm-86-182h10v10h-10zm-56 22l7-4v8zm35 155l7-4v8zm-20 14l7-4v8zm50 11l4 5l-4 5l-4-5zm-425-335l7-4v8zm3 7h10v10h-10zm136 23l7-4v8zm12 81l4 5l-4 5l-4-5zm67-58l7-4v8zm59 10h10v10h-10zm-232-25l7-4v8zm8 24l7-4v8zm79 164h10v10h-10zm27 47l7-4v8zm-5-8l7-4v8zm-15-30h10v10h-10zm26 74l7-4v8zm-24-82h10v10h-10zm-6 8h10v10h-10zm24 32h10v10h-10zm286-504l7-4v8zm24-6l7-4v8zm-37-17h10v10h-10zm36 16l4 5l-4 5l-4-5zm24 17l7-4v8zm-66-25h10v10h-10zm67 15l4 5l-4 5l-4-5zm-22-3l4 5l-4 5l-4-5zm-43-20h10v10h-10zm65 22h10v10h-10zm-33-2l7-4v8zm-32-12l7-4v8zm39 5h10v10h-10zm26 15l4 5l-4 5l-4-5zm-60-14h10v10h-10zm22-2l7-4v8zm-4 6l7-4v8zm28 8l7-4v8zm-35-15l7-4v8zm24 8h10v10h-10zm2 10l7-4v8zm24-7h10v10h-10zm-46-10l4 5l-4 5l-4-5zm0 7l7-4v8zm30-3h10v10h-10zm1 8l7-4v8zm1 9l7-4v8zm-1-4l7-4v8zm-30-16l7-4v8zm5 2h10v10h-10zm-6 3l7-4v8zm-16-14l7-4v8zm25 6l7-4v8zm31 15l7-4v8zm-13 4l7-4v8zm-9-6l7-4v8zm-25-18h10v10h-10zm-9 11l7-4v8zm66 9l4 5l-4 5l-4-5zm-20-3l4 5l-4 5l-4-5zm-12-4l7-4v8zm22 4l7-4v8zm-21-7l7-4v8zm-38-15l7-4v8zm67 20h10v10h-10zm-19-1l4 5l-4 5l-4-5zm-21-14l4 5l-4 5l-4-5zm-27-3h10v10h-10zm15 11l7-4v8zm20 14l7-4v8zm11 45h10v10h-10zm-31-21l7-4v8zm26 35h10v10h-10zm8-9h10v10h-10zm-13-15l7-4v8zm-18-11h10v10h-10zm16 38h10v10h-10zm-10-43h10v10h-10zm9 8l7-4v8zm-12-10h10v10h-10zm1 6h10v10h-10zm20 1h10v10h-10zm-8-3h10v10h-10zm-4 11l7-4v8zm6 30h10v10h-10zm1-25l7-4v8zm-20-12h10v10h-10zm27 16l7-4v8zm0 3h10v10h-10zm-14-23h10v10h-10zm-2 44h10v10h-10zm8-4l7-4v8zm-5-27l7-4v8zm18 27l7-4v8zm-6 3l7-4v8zm-2-34h10v10h-10zm-26-16h10v10h-10zm25 27l7-4v8zm-2 11h10v10h-10zm6-5h10v10h-10zm-6-13h10v10h-10zm3 16h10v10h-10zm-21-32h10v10h-10zm6 14l7-4v8zm11 11l7-4v8zm8 18h10v10h-10zm-3-24l7-4v8zm1 20h10v10h-10zm-5-20h10v10h-10zm8 25l7-4v8zm-13-8h10v10h-10zm13 1h10v10h-10zm-2-15h10v10h-10zm-4-13h10v10h-10zm-10 6l7-4v8zm-22 66l4 5l-4 5l-4-5zm-5 12l7-4v8zm5-17h10v10h-10zm-7 0h10v10h-10zm11-5l4 5l-4 5l-4-5zm-6-5l7-4v8zm0-8h10v10h-10zm-1 31l7-4v8zm9-20l4 5l-4 5l-4-5zm-11 12l7-4v8zm-1-4l7-4v8zm2 6l4 5l-4 5l-4-5zm2-14h10v10h-10zm5 5l7-4v8zm-2 0l4 5l-4 5l-4-5zm6 4h10v10h-10zm-5-17l7-4v8zm-10 12h10v10h-10zm1 14l7-4v8zm9 1l7-4v8zm-5-7l4 5l-4 5l-4-5zm-2-10l7-4v8zm4-9l4 5l-4 5l-4-5zm-3 28l7-4v8zm4-12l4 5l-4 5l-4-5zm-1-1h10v10h-10zm54-77a5 5 0 1 0 10 0a5 5 0 1 0-10 0m-2-1a5 5 0 1 0 10 0a5 5 0 1 0-10 0m0 0l4 5l-4 5l-4-5zm13-8l4 5l-4 5l-4-5zm-11 10a5 5 0 1 0 10 0a5 5 0 1 0-10 0m0-5l4 5l-4 5l-4-5z"/><use href="#g2" x="2961" y="950"/><use href="#g1" x="2907" y="962"/><use href="#g4" x="2831" y="907"/><use href="#g6" x="2882" y="945"/><use href="#g5" x="2846" y="925"/><use href="#g4" x="3028" y="976"/><use href="#g2" x="2994" y="970"/><use href="#g5" x="2937" y="954"/><use href="#g4" x="2859" y="932"/><use href="#g1" x="2995" y="970"/><use href="#g3" x="2874" y="926"/><use href="#g4" x="2957" y="948"/><use href="#g2" x="2845" y="922"/><use href="#g6" x="3007" y="963"/><use href="#g3" x="2904" y="915"/><use href="#g2" x="2963" y="993"/><use href="#g4" x="2903" y="915"/><use href="#g3" x="2963" y="963"/><use href="#g6" x="2932" y="966"/><use href="#g1" x="2951" y="939"/><use href="#g3" x="2848" y="914"/><use href="#g4" x="2818" y="912"/><use href="#g6" x="2838" y="920"/><use href="#g6" x="2984" y="957"/><use href="#g0" x="2831" y="898"/><use href="#g5" x="2889" y="909"/><use href="#g0" x="2842" y="918"/><use href="#g4" x="2808" y="908"/><use href="#g0" x="2878" y="937"/><use href="#g3" x="2880" y="911"/><use href="#g1" x="2929" y="953"/><use href="#g6" x="2822" y="923"/><use href="#g4" x="2912" y="957"/><use href="#g1" x="2890" y="917"/><use href="#g3" x="2842" y="906"/><use href="#g3" x="2929" y="951"/><use href="#g3" x="2872" y="930"/><use href="#g5" x="2960" y="976"/><use href="#g2" x="3016" y="991"/><use href="#g4" x="2953" y="958"/><use href="#g1" x="2964" y="988"/><use href="#g7" x="2919" y="943"/><use href="#g4" x="2973" y="957"/><use href="#g7" x="2813" y="918"/><use href="#g1" x="2939" y="950"/><use href="#g7" x="2955" y="973"/><use href="#g0" x="2990" y="969"/><use href="#g0" x="2812" y="897"/><use href="#g4" x="2889" y="930"/><use href="#g0" x="2962" y="950"/><use href="#g5" x="2956" y="976"/><use href="#g2" x="2973" y="986"/><use href="#g0" x="2883" y="936"/><use href="#g2" x="2833" y="924"/><use href="#g1" x="2876" y="937"/><use href="#g0" x="2833" y="928"/><use href="#g5" x="2908" y="932"/><use href="#g4" x="2986" y="981"/><use href="#g2" x="2907" y="942"/><use href="#g1" x="2964" y="954"/><use href="#g1" x="2952" y="977"/><use href="#g1" x="2841" y="948"/><use href="#g0" x="3020" y="961"/><use href="#g3" x="3021" y="987"/><use href="#g6" x="2909" y="947"/><use href="#g1" x="2962" y="949"/><use href="#g7" x="2827" y="919"/><use href="#g0" x="2944" y="947"/><use href="#g0" x="2882" y="930"/><use href="#g1" x="2870" y="906"/><use href="#g5" x="2956" y="977"/><use href="#g7" x="2859" y="932"/><use href="#g2" x="2912" y="947"/><use href="#g4" x="2958" y="967"/><use href="#g4" x="2814" y="924"/><use href="#g7" x="2924" y="953"/><use href="#g4" x="2903" y="921"/><use href="#g1" x="2881" y="909"/><use href="#g7" x="2975" y="991"/><use href="#g5" x="2994" y="994"/><use href="#g3" x="2868" y="927"/><use href="#g5" x="2918" y="927"/><use href="#g1" x="2881" y="933"/><use href="#g5" x="2844" y="904"/><use href="#g4" x="2922" y="946"/><use href="#g5" x="2994" y="976"/><use href="#g6" x="2999" y="992"/><use href="#g2" x="2909" y="936"/><use href="#g4" x="2897" y="962"/><use href="#g7" x="3007" y="956"/><use href="#g1" x="2997" y="995"/><use href="#g4" x="2973" y="964"/><use href="#g6" x="3012" y="982"/><use href="#g1" x="2813" y="918"/><use href="#g2" x="2812" y="916"/><use href="#g6" x="2977" y="991"/><use href="#g1" x="2838" y="917"/><use href="#g4" x="2937" y="961"/><use href="#g3" x="2994" y="964"/><use href="#g2" x="2866" y="934"/><use href="#g4" x="2980" y="971"/><use href="#g4" x="2983" y="978"/><use href="#g3" x="2922" y="954"/><use href="#g2" x="2972" y="974"/><use href="#g1" x="2952" y="961"/><use href="#g1" x="2939" y="947"/><use href="#g7" x="2897" y="937"/><use href="#g4" x="2866" y="917"/><use href="#g5" x="2980" y="965"/><use href="#g6" x="2963" y="962"/><use href="#g6" x="2965" y="971"/><use href="#g3" x="2913" y="942"/><use href="#g7" x="2976" y="986"/><use href="#g5" x="2875" y="922"/><use href="#g7" x="2925" y="936"/><use href="#g3" x="2981" y="972"/><use href="#g6" x="2921" y="946"/><use href="#g2" x="2842" y="930"/><use href="#g4" x="2928" y="960"/><use href="#g5" x="2902" y="963"/><use href="#g7" x="2924" y="949"/><use href="#g5" x="2937" y="985"/><use href="#g4" x="2959" y="929"/><use href="#g4" x="2887" y="938"/><use href="#g3" x="2919" y="965"/><use href="#g5" x="2938" y="963"/><use href="#g2" x="2833" y="912"/><use href="#g7" x="2847" y="931"/><use href="#g7" x="2854" y="901"/><use href="#g4" x="2939" y="947"/><use href="#g6" x="2875" y="920"/><use href="#g4" x="2818" y="888"/><use href="#g7" x="3012" y="976"/><use href="#g5" x="2972" y="971"/><use href="#g6" x="2998" y="980"/><use href="#g5" x="2890" y="928"/><use href="#g4" x="2855" y="931"/><use href="#g2" x="2955" y="950"/><use href="#g2" x="2990" y="986"/><use href="#g3" x="2958" y="976"/><use href="#g6" x="2815" y="916"/><use href="#g2" x="2921" y="916"/><use href="#g2" x="2846" y="912"/><use href="#g3" x="2906" y="955"/><use href="#g7" x="2933" y="929"/><use href="#g2" x="2878" y="927"/><use href="#g4" x="2930" y="942"/><use href="#g6" x="2948" y="948"/><use href="#g0" x="2952" y="947"/><use href="#g6" x="2805" y="926"/><use href="#g7" x="3089" y="1034"/><use href="#g2" x="3123" y="1025"/><use href="#g7" x="3122" y="1035"/><use href="#g2" x="3045" y="981"/><use href="#g5" x="3063" y="1015"/><use href="#g4" x="3046" y="995"/><use href="#g7" x="3110" y="1035"/><use href="#g2" x="3169" y="1042"/><use href="#g3" x="3040" y="999"/><use href="#g5" x="3028" y="998"/><use href="#g0" x="3083" y="994"/><use href="#g1" x="3019" y="1012"/><use href="#g4" x="3171" y="1064"/><use href="#g6" x="3063" y="997"/><use href="#g4" x="3028" y="993"/><use href="#g0" x="3136" y="1031"/><use href="#g1" x="3110" y="1030"/><use href="#g5" x="3038" y="1001"/><use href="#g7" x="3133" y="1061"/><use href="#g0" x="3105" y="1016"/><use href="#g6" x="3025" y="965"/><use href="#g2" x="3191" y="1079"/><use href="#g0" x="3075" y="1013"/><use href="#g1" x="3049" y="993"/><use href="#g6" x="3077" y="998"/><use href="#g0" x="3140" y="1051"/><use href="#g6" x="3206" y="1053"/><use href="#g7" x="3110" y="1019"/><use href="#g7" x="3146" y="1072"/><use href="#g0" x="3122" y="1048"/><use href="#g2" x="3128" y="1033"/><use href="#g4" x="3085" y="1018"/><use href="#g0" x="3107" y="1029"/><use href="#g5" x="3140" y="1020"/><use href="#g5" x="3020" y="992"/><use href="#g3" x="3045" y="1006"/><use href="#g0" x="3083" y="1021"/><use href="#g3" x="3117" y="1030"/><use href="#g3" x="3031" y="980"/><use href="#g7" x="3208" y="1038"/><use href="#g6" x="3188" y="1081"/><use href="#g3" x="3165" y="1025"/><use href="#g2" x="3070" y="1010"/><use href="#g0" x="3144" y="1079"/><use href="#g1" x="3053" y="1014"/><use href="#g4" x="3102" y="1042"/><use href="#g7" x="3090" y="1017"/><use href="#g4" x="3185" y="1058"/><use href="#g3" x="3179" y="1065"/><use href="#g7" x="3058" y="1007"/><use href="#g0" x="3134" y="1055"/><use href="#g1" x="3016" y="1004"/><use href="#g2" x="3181" y="1062"/><use href="#g7" x="3035" y="994"/><use href="#g3" x="3037" y="1018"/><use href="#g4" x="3036" y="1009"/><use href="#g7" x="3060" y="1016"/><use href="#g2" x="3184" y="1049"/><use href="#g1" x="3071" y="1014"/><use href="#g6" x="3215" y="1068"/><use href="#g1" x="3047" y="1021"/><use href="#g2" x="3124" y="1023"/><use href="#g4" x="3157" y="1046"/><use href="#g3" x="3204" y="1079"/><use href="#g4" x="3093" y="1016"/><use href="#g4" x="3200" y="1073"/><use href="#g4" x="3072" y="1015"/><use href="#g4" x="3121" y="1020"/><use href="#g3" x="3025" y="983"/><use href="#g3" x="3158" y="1043"/><use href="#g5" x="3058" y="996"/><use href="#g0" x="3054" y="985"/><use href="#g2" x="3140" y="1027"/><use href="#g4" x="3194" y="1080"/><use href="#g4" x="3079" y="1010"/><use href="#g5" x="3051" y="976"/><use href="#g5" x="3167" y="1030"/><use href="#g6" x="3011" y="989"/><use href="#g2" x="3110" y="1020"/><use href="#g0" x="3145" y="1059"/><use href="#g1" x="3174" y="1058"/><use href="#g4" x="3031" y="1002"/><use href="#g7" x="3177" y="1062"/><use href="#g4" x="3003" y="974"/><use href="#g3" x="3063" y="1001"/><use href="#g5" x="3136" y="1058"/><use href="#g3" x="3003" y="969"/><use href="#g1" x="3136" y="1053"/><use href="#g6" x="3012" y="977"/><use href="#g6" x="3130" y="1038"/><use href="#g4" x="3074" y="995"/><use href="#g3" x="3129" y="1026"/><use href="#g7" x="3169" y="1055"/><use href="#g2" x="3016" y="986"/><use href="#g5" x="3152" y="1080"/><use href="#g2" x="3065" y="1017"/><use href="#g6" x="3075" y="1013"/><use href="#g1" x="3081" y="1003"/><use href="#g0" x="3094" y="999"/><use href="#g7" x="3144" y="1050"/><use href="#g5" x="3046" y="992"/><use href="#g2" x="3191" y="1066"/><use href="#g2" x="3103" y="1015"/><use href="#g0" x="3055" y="1005"/><use href="#g1" x="3143" y="1041"/><use href="#g1" x="3080" y="990"/><use href="#g2" x="3213" y="1079"/><use href="#g3" x="3012" y="984"/><use href="#g4" x="3031" y="965"/><use href="#g3" x="3154" y="1046"/><use href="#g2" x="3161" y="1082"/><use href="#g3" x="3185" y="1044"/><use href="#g6" x="3188" y="1085"/><use href="#g2" x="3127" y="1024"/><use href="#g2" x="3060" y="1008"/><use href="#g4" x="3079" y="1011"/><use href="#g6" x="3184" y="1063"/><use href="#g7" x="3096" y="1018"/><use href="#g6" x="3143" y="1033"/><use href="#g1" x="3050" y="972"/><use href="#g6" x="3168" y="1077"/><use href="#g2" x="3165" y="1064"/><use href="#g4" x="3064" y="1022"/><use href="#g7" x="3172" y="1125"/><use href="#g5" x="3119" y="1048"/><use href="#g7" x="3126" y="1025"/><use href="#g2" x="3196" y="1075"/><use href="#g3" x="3157" y="1151"/><use href="#g1" x="3174" y="1169"/><use href="#g1" x="3210" y="1129"/><use href="#g5" x="3086" y="1065"/><use href="#g5" x="3123" y="1050"/><use href="#g4" x="3066" y="1023"/><use href="#g4" x="3202" y="1059"/><use href="#g6" x="3111" y="1049"/><use href="#g3" x="3087" y="1024"/><use href="#g1" x="3179" y="1044"/><use href="#g3" x="3146" y="1018"/><use href="#g0" x="3178" y="1086"/><use href="#g2" x="3159" y="1127"/><use href="#g1" x="3181" y="1134"/><use href="#g4" x="3160" y="1110"/><use href="#g3" x="3210" y="1051"/><use href="#g6" x="3199" y="1061"/><use href="#g6" x="3186" y="1042"/><use href="#g6" x="3104" y="1016"/><use href="#g3" x="3204" y="1095"/><use href="#g4" x="3121" y="1072"/><use href="#g2" x="3101" y="1018"/><use href="#g3" x="3203" y="1124"/><use href="#g4" x="3115" y="1067"/><use href="#g6" x="3192" y="1146"/><use href="#g2" x="3167" y="1141"/><use href="#g1" x="3123" y="1012"/><use href="#g6" x="3103" y="1018"/><use href="#g0" x="3200" y="1157"/><use href="#g5" x="3170" y="1041"/><use href="#g6" x="3210" y="1101"/><use href="#g0" x="3194" y="1160"/><use href="#g1" x="3156" y="1156"/><use href="#g5" x="3142" y="1075"/><use href="#g5" x="3149" y="1084"/><use href="#g5" x="3195" y="1061"/><use href="#g0" x="3196" y="1160"/><use href="#g0" x="3207" y="1068"/><use href="#g4" x="3178" y="1059"/><use href="#g4" x="3216" y="1096"/><use href="#g3" x="3185" y="1075"/><use href="#g3" x="3152" y="1045"/><use href="#g6" x="3161" y="1048"/><use href="#g1" x="3108" y="1083"/><use href="#g3" x="3155" y="1108"/><use href="#g5" x="3154" y="1062"/><use href="#g2" x="3144" y="1054"/><use href="#g3" x="3157" y="1153"/><use href="#g0" x="3125" y="1039"/><use href="#g5" x="3154" y="1065"/><use href="#g1" x="3122" y="1038"/><use href="#g0" x="3181" y="1148"/><use href="#g7" x="3186" y="1129"/><use href="#g0" x="3164" y="1056"/><use href="#g5" x="3173" y="1155"/><use href="#g0" x="3207" y="1081"/><use href="#g5" x="3157" y="1079"/><use href="#g3" x="3144" y="1089"/><use href="#g4" x="3196" y="1041"/><use href="#g3" x="3185" y="1097"/><use href="#g3" x="3165" y="1071"/><use href="#g5" x="3068" y="1022"/><use href="#g0" x="3105" y="1062"/><use href="#g5" x="3193" y="1094"/><use href="#g4" x="3063" y="1023"/><use href="#g6" x="3122" y="1075"/><use href="#g3" x="3154" y="1153"/><use href="#g0" x="3129" y="1075"/><use href="#g4" x="3073" y="1043"/><use href="#g5" x="3108" y="1052"/><use href="#g6" x="3179" y="1125"/><use href="#g5" x="3184" y="1041"/><use href="#g0" x="3140" y="1119"/><use href="#g2" x="3158" y="1044"/><use href="#g5" x="3168" y="1142"/><use href="#g3" x="3118" y="1085"/><use href="#g0" x="3207" y="1091"/><use href="#g5" x="3171" y="1167"/><use href="#g6" x="3143" y="1097"/><use href="#g4" x="3141" y="1026"/><use href="#g4" x="3150" y="1102"/><use href="#g2" x="3178" y="1125"/><use href="#g0" x="3192" y="1067"/><use href="#g2" x="3163" y="1074"/><use href="#g3" x="3143" y="1085"/><use href="#g5" x="3111" y="1040"/><use href="#g4" x="3163" y="1034"/><use href="#g5" x="3179" y="1061"/><use href="#g7" x="3152" y="1055"/><use href="#g7" x="3112" y="1056"/><use href="#g1" x="3154" y="1078"/><use href="#g3" x="3137" y="1048"/><use href="#g3" x="3158" y="1084"/><use href="#g0" x="3095" y="1049"/><use href="#g5" x="3108" y="1082"/><use href="#g1" x="3133" y="1032"/><use href="#g0" x="3130" y="1023"/><use href="#g1" x="3166" y="1033"/><use href="#g0" x="3190" y="1146"/><use href="#g3" x="3139" y="1046"/><use href="#g4" x="3192" y="1065"/><use href="#g1" x="3111" y="1026"/><use href="#g0" x="3168" y="1115"/><use href="#g2" x="3147" y="1102"/><use href="#g1" x="3113" y="1039"/><use href="#g4" x="3155" y="1047"/><use href="#g3" x="3183" y="1116"/><use href="#g0" x="3136" y="1091"/><use href="#g1" x="3166" y="1117"/><use href="#g2" x="3123" y="1089"/><use href="#g7" x="3169" y="1102"/><use href="#g0" x="3174" y="1125"/><use href="#g5" x="3173" y="1079"/><use href="#g5" x="3122" y="1022"/><use href="#g4" x="3134" y="1064"/><use href="#g0" x="3135" y="1081"/><use href="#g4" x="3197" y="1162"/><use href="#g0" x="3147" y="1085"/><use href="#g4" x="3125" y="1067"/><use href="#g4" x="3092" y="1047"/><use href="#g5" x="3170" y="1116"/><use href="#g5" x="3142" y="1029"/><use href="#g5" x="3137" y="1020"/><use href="#g1" x="3134" y="1062"/><use href="#g6" x="3212" y="1126"/><use href="#g4" x="3182" y="1169"/><use href="#g7" x="3108" y="1071"/><use href="#g4" x="3181" y="1161"/><use href="#g3" x="3187" y="1135"/><use href="#g2" x="3123" y="1031"/><use href="#g6" x="3203" y="1058"/><use href="#g4" x="3167" y="1138"/><use href="#g5" x="3171" y="1129"/><use href="#g4" x="3095" y="1058"/><use href="#g4" x="3206" y="1132"/><use href="#g6" x="3160" y="1153"/><use href="#g7" x="3165" y="1143"/><use href="#g6" x="3178" y="1168"/><use href="#g7" x="3176" y="1163"/><use href="#g0" x="3089" y="1038"/><use href="#g0" x="3087" y="1053"/><use href="#g7" x="3201" y="1049"/><use href="#g2" x="3136" y="1060"/><use href="#g3" x="3171" y="1154"/><use href="#g4" x="3136" y="1070"/><use href="#g6" x="3090" y="1062"/><use href="#g5" x="3168" y="1107"/><use href="#g7" x="3159" y="1030"/><use href="#g3" x="3207" y="1101"/><use href="#g3" x="3096" y="1051"/><use href="#g2" x="3189" y="1066"/><use href="#g1" x="3084" y="1050"/><use href="#g6" x="3210" y="1129"/><use href="#g7" x="3156" y="1081"/><use href="#g2" x="3170" y="1080"/><use href="#g1" x="3205" y="1110"/><use href="#g3" x="3131" y="1027"/><use href="#g6" x="3136" y="1027"/><use href="#g4" x="3135" y="1052"/><use href="#g2" x="3203" y="1107"/><use href="#g4" x="3119" y="1065"/><use href="#g0" x="3150" y="1117"/><use href="#g0" x="3169" y="1110"/><use href="#g4" x="3101" y="1046"/><use href="#g7" x="3173" y="1027"/><use href="#g3" x="3199" y="1116"/><use href="#g0" x="3090" y="1016"/><use href="#g2" x="3168" y="1132"/></g><g stroke="#a52a2a"><path d="M2090 598l7-4v8zm1 5a5 5 0 1 0 10 0a5 5 0 1 0-10 0m-24-9l7-4v8zm34 34h8m-4-4v8m-3-7l6 6m0-6l-6 6m-52-31h8m-4-4v8m-3-7l6 6m0-6l-6 6m-3 6h8m-4-4v8m-3-7l6 6m0-6l-6 6m5-16h8m-4-4v8m-3-7l6 6m0-6l-6 6m10 5h8m-4-4v8m-3-7l6 6m0-6l-6 6m29 0l7-4v8zm-12 0a5 5 0 1 0 10 0a5 5 0 1 0-10 0m13 10l7-4v8zm4 30a5 5 0 1 0 10 0a5 5 0 1 0-10 0m0-21h8m-4-4v8m-3-7l6 6m0-6l-6 6m-34-14h8m-4-4v8m-3-7l6 6m0-6l-6 6m5-9a5 5 0 1 0 10 0a5 5 0 1 0-10 0m13 12h8m-4-4v8m-3-7l6 6m0-6l-6 6m-11-28h8m-4-4v8m-3-7l6 6m0-6l-6 6m21 34l7-4v8zm-38-21h8m-4-4v8m-3-7l6 6m0-6l-6 6m4-21h8m-4-4v8m-3-7l6 6m0-6l-6 6m-5 3a5 5 0 1 0 10 0a5 5 0 1 0-10 0m29 22h8m-4-4v8m-3-7l6 6m0-6l-6 6m16 6a5 5 0 1 0 10 0a5 5 0 1 0-10 0m-32-36h8m-4-4v8m-3-7l6 6m0-6l-6 6m14 39l7-4v8zm-18-31h8m-4-4v8m-3-7l6 6m0-6l-6 6m3-1l7-4v8zm34 27h8m-4-4v8m-3-7l6 6m0-6l-6 6m-8-8h8m-4-4v8m-3-7l6 6m0-6l-6 6m-53-37a5 5 0 1 0 10 0a5 5 0 1 0-10 0m8 17a5 5 0 1 0 10 0a5 5 0 1 0-10 0m-10-11h8m-4-4v8m-3-7l6 6m0-6l-6 6m53 25a5 5 0 1 0 10 0a5 5 0 1 0-10 0m-6-11h8m-4-4v8m-3-7l6 6m0-6l-6 6m-16-8l7-4v8zm-17-8a5 5 0 1 0 10 0a5 5 0 1 0-10 0m26 14h8m-4-4v8m-3-7l6 6m0-6l-6 6m-39-15h8m-4-4v8m-3-7l6 6m0-6l-6 6m41 9h8m-4-4v8m-3-7l6 6m0-6l-6 6m2-11a5 5 0 1 0 10 0a5 5 0 1 0-10 0m-26-4l7-4v8zm6-3h8m-4-4v8m-3-7l6 6m0-6l-6 6m16 7a5 5 0 1 0 10 0a5 5 0 1 0-10 0m19 16h8m-4-4v8m-3-7l6 6m0-6l-6 6m-20 4h8m-4-4v8m-3-7l6 6m0-6l-6 6m-4-16h8m-4-4v8m-3-7l6 6m0-6l-6 6m-8-4a5 5 0 1 0 10 0a5 5 0 1 0-10 0m17 15l7-4v8zm-30-34h8m-4-4v8m-3-7l6 6m0-6l-6 6m8 1h8m-4-4v8m-3-7l6 6m0-6l-6 6m14 20h8m-4-4v8m-3-7l6 6m0-6l-6 6m-11-36h8m-4-4v8m-3-7l6 6m0-6l-6 6m-20 7h8m-4-4v8m-3-7l6 6m0-6l-6 6m37 15h8m-4-4v8m-3-7l6 6m0-6l-6 6m7 3h8m-4-4v8m-3-7l6 6m0-6l-6 6m-15-2h8m-4-4v8m-3-7l6 6m0-6l-6 6m-10-17a5 5 0 1 0 10 0a5 5 0 1 0-10 0m-17-9l8 8m0-8l-8 8m20 7h8m-4-4v8m-3-7l6 6m0-6l-6 6m-27-29a5 5 0 1 0 10 0a5 5 0 1 0-10 0m8-8l8 8m0-8l-8 8m23 15h8m-4-4v8m-3-7l6 6m0-6l-6 6m15 16h8m-4-4v8m-3-7l6 6m0-6l-6 6m-61-39h8m-4-4v8m-3-7l6 6m0-6l-6 6m45 16h8m-4-4v8m-3-7l6 6m0-6l-6 6m1 9h8m-4-4v8m-3-7l6 6m0-6l-6 6m-26-10h8m-4-4v8m-3-7l6 6m0-6l-6 6m-9-19h8m-4-4v8m-3-7l6 6m0-6l-6 6m30 7h8m-4-4v8m-3-7l6 6m0-6l-6 6m-22-2h8m-4-4v8m-3-7l6 6m0-6l-6 6m14 5l8 8m0-8l-8 8m-28-25h8m-4-4v8m-3-7l6 6m0-6l-6 6m7-6l7-4v8zm23 24h8m-4-4v8m-3-7l6 6m0-6l-6 6m6-1h8m-4-4v8m-3-7l6 6m0-6l-6 6m-22-37h8m-4-4v8m-3-7l6 6m0-6l-6 6m-2-5h8m-4-4v8m-3-7l6 6m0-6l-6 6m15 30h8m-4-4v8m-3-7l6 6m0-6l-6 6m2-12h8m-4-4v8m-3-7l6 6m0-6l-6 6m-49-10h8m-4-4v8m-3-7l6 6m0-6l-6 6m59 11a5 5 0 1 0 10 0a5 5 0 1 0-10 0m-51-12a5 5 0 1 0 10 0a5 5 0 1 0-10 0m13-4h8m-4-4v8m-3-7l6 6m0-6l-6 6m9-3l8 8m0-8l-8 8m-34-22a5 5 0 1 0 10 0a5 5 0 1 0-10 0m51 39h8m-4-4v8m-3-7l6 6m0-6l-6 6m-6-12l7-4v8zm-21-21a5 5 0 1 0 10 0a5 5 0 1 0-10 0m31 30l8 8m0-8l-8 8m-6-32h8m-4-4v8m-3-7l6 6m0-6l-6 6m-10 2h8m-4-4v8m-3-7l6 6m0-6l-6 6m5 18h8m-4-4v8m-3-7l6 6m0-6l-6 6m-9-15h8m-4-4v8m-3-7l6 6m0-6l-6 6m-6-19l8 8m0-8l-8 8m29 12h8m-4-4v8m-3-7l6 6m0-6l-6 6m-12-13h8m-4-4v8m-3-7l6 6m0-6l-6 6m-2 88h8m-4-4v8m-3-7l6 6m0-6l-6 6m-13 2l7-4v8zm-3-7h8m-4-4v8m-3-7l6 6m0-6l-6 6m17-4h8m-4-4v8m-3-7l6 6m0-6l-6 6m-18-5l8 8m0-8l-8 8m4 2h8m-4-4v8m-3-7l6 6m0-6l-6 6m3-16h8m-4-4v8m-3-7l6 6m0-6l-6 6m1 1l8 8m0-8l-8 8m7-10h8m-4-4v8m-3-7l6 6m0-6l-6 6m-21 1h8m-4-4v8m-3-7l6 6m0-6l-6 6m14-6h8m-4-4v8m-3-7l6 6m0-6l-6 6m2 1h8m-4-4v8m-3-7l6 6m0-6l-6 6m-23 6h8m-4-4v8m-3-7l6 6m0-6l-6 6m8-6h8m-4-4v8m-3-7l6 6m0-6l-6 6m-1-8a5 5 0 1 0 10 0a5 5 0 1 0-10 0m-1 9h8m-4-4v8m-3-7l6 6m0-6l-6 6m-2-10h8m-4-4v8m-3-7l6 6m0-6l-6 6m4-7h8m-4-4v8m-3-7l6 6m0-6l-6 6m0-8l8 8m0-8l-8 8m8-13l8 8m0-8l-8 8m-9 11h8m-4-4v8m-3-7l6 6m0-6l-6 6m8-16a5 5 0 1 0 10 0a5 5 0 1 0-10 0m5 2h8m-4-4v8m-3-7l6 6m0-6l-6 6m76 291a5 5 0 1 0 10 0a5 5 0 1 0-10 0m2-2a5 5 0 1 0 10 0a5 5 0 1 0-10 0m-6 1a5 5 0 1 0 10 0a5 5 0 1 0-10 0m-8 1a5 5 0 1 0 10 0a5 5 0 1 0-10 0m4-4a5 5 0 1 0 10 0a5 5 0 1 0-10 0m-4-2a5 5 0 1 0 10 0a5 5 0 1 0-10 0m6 7a5 5 0 1 0 10 0a5 5 0 1 0-10 0m-2-1a5 5 0 1 0 10 0a5 5 0 1 0-10 0m-3-5a5 5 0 1 0 10 0a5 5 0 1 0-10 0m4 8a5 5 0 1 0 10 0a5 5 0 1 0-10 0m7-1a5 5 0 1 0 10 0a5 5 0 1 0-10 0m-1-4a5 5 0 1 0 10 0a5 5 0 1 0-10 0m-3 1a5 5 0 1 0 10 0a5 5 0 1 0-10 0m5-1a5 5 0 1 0 10 0a5 5 0 1 0-10 0m147-446l7-4v8zm8-5a5 5 0 1 0 10 0a5 5 0 1 0-10 0m3-30h8m-4-4v8m-3-7l6 6m0-6l-6 6m-7 46h8m-4-4v8m-3-7l6 6m0-6l-6 6m1-41h8m-4-4v8m-3-7l6 6m0-6l-6 6m-8-14l8 8m0-8l-8 8m-7 28h8m-4-4v8m-3-7l6 6m0-6l-6 6m12-33l7-4v8zm13 15h8m-4-4v8m-3-7l6 6m0-6l-6 6m-20 2a5 5 0 1 0 10 0a5 5 0 1 0-10 0m19-27a5 5 0 1 0 10 0a5 5 0 1 0-10 0m-9 35l7-4v8zm5-32h8m-4-4v8m-3-7l6 6m0-6l-6 6m-22 24h8m-4-4v8m-3-7l6 6m0-6l-6 6m9-20h8m-4-4v8m-3-7l6 6m0-6l-6 6m-11 22a5 5 0 1 0 10 0a5 5 0 1 0-10 0m7 6h8m-4-4v8m-3-7l6 6m0-6l-6 6m-6-18h8m-4-4v8m-3-7l6 6m0-6l-6 6m5 23h8m-4-4v8m-3-7l6 6m0-6l-6 6m-20-10l7-4v8zm20-25l8 8m0-8l-8 8m16-29a5 5 0 1 0 10 0a5 5 0 1 0-10 0m-20 4a5 5 0 1 0 10 0a5 5 0 1 0-10 0m12 19h8m-4-4v8m-3-7l6 6m0-6l-6 6m-31 4h8m-4-4v8m-3-7l6 6m0-6l-6 6m8 2h8m-4-4v8m-3-7l6 6m0-6l-6 6m13-32a5 5 0 1 0 10 0a5 5 0 1 0-10 0m0 17h8m-4-4v8m-3-7l6 6m0-6l-6 6m-1-1h8m-4-4v8m-3-7l6 6m0-6l-6 6m-13-28h8m-4-4v8m-3-7l6 6m0-6l-6 6m5 32l8 8m0-8l-8 8m4 1h8m-4-4v8m-3-7l6 6m0-6l-6 6m-11-19l8 8m0-8l-8 8m6-18l8 8m0-8l-8 8m1 6h8m-4-4v8m-3-7l6 6m0-6l-6 6m18-30h8m-4-4v8m-3-7l6 6m0-6l-6 6m-28 13h8m-4-4v8m-3-7l6 6m0-6l-6 6m3-35l8 8m0-8l-8 8m16 27a5 5 0 1 0 10 0a5 5 0 1 0-10 0m-23-9l7-4v8zm11 34h8m-4-4v8m-3-7l6 6m0-6l-6 6m22-20h8m-4-4v8m-3-7l6 6m0-6l-6 6m-31-23h8m-4-4v8m-3-7l6 6m0-6l-6 6m10 18h8m-4-4v8m-3-7l6 6m0-6l-6 6m-6 6l8 8m0-8l-8 8m7-49h8m-4-4v8m-3-7l6 6m0-6l-6 6m2 21h8m-4-4v8m-3-7l6 6m0-6l-6 6m-5 5a5 5 0 1 0 10 0a5 5 0 1 0-10 0m10-23a5 5 0 1 0 10 0a5 5 0 1 0-10 0m-23-24l7-4v8zm10 32h8m-4-4v8m-3-7l6 6m0-6l-6 6m-10 21h8m-4-4v8m-3-7l6 6m0-6l-6 6m8-24h8m-4-4v8m-3-7l6 6m0-6l-6 6m-15 12h8m-4-4v8m-3-7l6 6m0-6l-6 6m20-25a5 5 0 1 0 10 0a5 5 0 1 0-10 0m-11 20h8m-4-4v8m-3-7l6 6m0-6l-6 6m13-25l7-4v8zm-6-23h8m-4-4v8m-3-7l6 6m0-6l-6 6m-19 15a5 5 0 1 0 10 0a5 5 0 1 0-10 0m17 15a5 5 0 1 0 10 0a5 5 0 1 0-10 0m-12 16l7-4v8zm1-57h8m-4-4v8m-3-7l6 6m0-6l-6 6m18 19a5 5 0 1 0 10 0a5 5 0 1 0-10 0m-18 21h8m-4-4v8m-3-7l6 6m0-6l-6 6m15-27l7-4v8zm-15 35h8m-4-4v8m-3-7l6 6m0-6l-6 6m23-41h8m-4-4v8m-3-7l6 6m0-6l-6 6m4 1h8m-4-4v8m-3-7l6 6m0-6l-6 6m-23 26l7-4v8zm-6 12h8m-4-4v8m-3-7l6 6m0-6l-6 6m20-28h8m-4-4v8m-3-7l6 6m0-6l-6 6m-2-24a5 5 0 1 0 10 0a5 5 0 1 0-10 0m-7 8h8m-4-4v8m-3-7l6 6m0-6l-6 6m2 1h8m-4-4v8m-3-7l6 6m0-6l-6 6m-19 24h8m-4-4v8m-3-7l6 6m0-6l-6 6m11-25l7-4v8zm0 6h8m-4-4v8m-3-7l6 6m0-6l-6 6m-7-2a5 5 0 1 0 10 0a5 5 0 1 0-10 0m21-7h8m-4-4v8m-3-7l6 6m0-6l-6 6m-19 14h8m-4-4v8m-3-7l6 6m0-6l-6 6m-3-5h8m-4-4v8m-3-7l6 6m0-6l-6 6m-10-14l8 8m0-8l-8 8m25 12a5 5 0 1 0 10 0a5 5 0 1 0-10 0m-2-11h8m-4-4v8m-3-7l6 6m0-6l-6 6m-7-24h8m-4-4v8m-3-7l6 6m0-6l-6 6m-17 32h8m-4-4v8m-3-7l6 6m0-6l-6 6m8-32l7-4v8zm7 19h8m-4-4v8m-3-7l6 6m0-6l-6 6m9-34l7-4v8zm-11 5h8m-4-4v8m-3-7l6 6m0-6l-6 6m1-7h8m-4-4v8m-3-7l6 6m0-6l-6 6m-4 7h8m-4-4v8m-3-7l6 6m0-6l-6 6m7-11l8 8m0-8l-8 8m-9 0l8 8m0-8l-8 8m2-6h8m-4-4v8m-3-7l6 6m0-6l-6 6m-12 11l7-4v8zm-1 4h8m-4-4v8m-3-7l6 6m0-6l-6 6m2-14h8m-4-4v8m-3-7l6 6m0-6l-6 6m-1 22l8 8m0-8l-8 8m11-48l8 8m0-8l-8 8m-7 14h8m-4-4v8m-3-7l6 6m0-6l-6 6m60-40h8m-4-4v8m-3-7l6 6m0-6l-6 6m1 3h8m-4-4v8m-3-7l6 6m0-6l-6 6m44 20h8m-4-4v8m-3-7l6 6m0-6l-6 6m-44-31h8m-4-4v8m-3-7l6 6m0-6l-6 6m-23-8h8m-4-4v8m-3-7l6 6m0-6l-6 6m33-3a5 5 0 1 0 10 0a5 5 0 1 0-10 0m-14 10h8m-4-4v8m-3-7l6 6m0-6l-6 6m50 38h8m-4-4v8m-3-7l6 6m0-6l-6 6m-30-37h8m-4-4v8m-3-7l6 6m0-6l-6 6m-6-8l7-4v8zm0 4h8m-4-4v8m-3-7l6 6m0-6l-6 6m0-8l8 8m0-8l-8 8m13 9h8m-4-4v8m-3-7l6 6m0-6l-6 6m12-7a5 5 0 1 0 10 0a5 5 0 1 0-10 0m-7-1a5 5 0 1 0 10 0a5 5 0 1 0-10 0m8 1l7-4v8zm-8 1l7-4v8zm-19-6h8m-4-4v8m-3-7l6 6m0-6l-6 6m50 34l7-4v8zm-18-16a5 5 0 1 0 10 0a5 5 0 1 0-10 0m11 25h8m-4-4v8m-3-7l6 6m0-6l-6 6m-7-28h8m-4-4v8m-3-7l6 6m0-6l-6 6m-25-33h8m-4-4v8m-3-7l6 6m0-6l-6 6m-24-4h8m-4-4v8m-3-7l6 6m0-6l-6 6m42 28h8m-4-4v8m-3-7l6 6m0-6l-6 6m4 1h8m-4-4v8m-3-7l6 6m0-6l-6 6m-44-27h8m-4-4v8m-3-7l6 6m0-6l-6 6m-17-14h8m-4-4v8m-3-7l6 6m0-6l-6 6m60 24h8m-4-4v8m-3-7l6 6m0-6l-6 6m-27-9h8m-4-4v8m-3-7l6 6m0-6l-6 6m-34-27h8m-4-4v8m-3-7l6 6m0-6l-6 6m49 19l8 8m0-8l-8 8m-3-2h8m-4-4v8m-3-7l6 6m0-6l-6 6m-57-24l7-4v8zm38 9a5 5 0 1 0 10 0a5 5 0 1 0-10 0m18 7h8m-4-4v8m-3-7l6 6m0-6l-6 6m-20-22h8m-4-4v8m-3-7l6 6m0-6l-6 6m40 39l7-4v8zm-63-43h8m-4-4v8m-3-7l6 6m0-6l-6 6m58 38a5 5 0 1 0 10 0a5 5 0 1 0-10 0m-15-32l8 8m0-8l-8 8m-34-12a5 5 0 1 0 10 0a5 5 0 1 0-10 0m8 4h8m-4-4v8m-3-7l6 6m0-6l-6 6m12-1l8 8m0-8l-8 8m20 22l7-4v8zm-53-29l7-4v8zm-19-18l7-4v8zm65 16h8m-4-4v8m-3-7l6 6m0-6l-6 6m9 31l8 8m0-8l-8 8m-36-48h8m-4-4v8m-3-7l6 6m0-6l-6 6m-31-7l8 8m0-8l-8 8m45 8h8m-4-4v8m-3-7l6 6m0-6l-6 6m10 6h8m-4-4v8m-3-7l6 6m0-6l-6 6m-57-34l8 8m0-8l-8 8m-3-7h8m-4-4v8m-3-7l6 6m0-6l-6 6m42 22l7-4v8zm-21-21h8m-4-4v8m-3-7l6 6m0-6l-6 6m23 19l7-4v8zm2-5h8m-4-4v8m-3-7l6 6m0-6l-6 6m-33-21a5 5 0 1 0 10 0a5 5 0 1 0-10 0m21 13h8m-4-4v8m-3-7l6 6m0-6l-6 6m29 35l7-4v8zm-6-7h8m-4-4v8m-3-7l6 6m0-6l-6 6m-2-19h8m-4-4v8m-3-7l6 6m0-6l-6 6m-42-21h8m-4-4v8m-3-7l6 6m0-6l-6 6m41 26h8m-4-4v8m-3-7l6 6m0-6l-6 6m-60-46l8 8m0-8l-8 8m74 40h8m-4-4v8m-3-7l6 6m0-6l-6 6m-24-35h8m-4-4v8m-3-7l6 6m0-6l-6 6m-10-4l7-4v8zm-11 8h8m-4-4v8m-3-7l6 6m0-6l-6 6m-37-37l8 8m0-8l-8 8m11 10a5 5 0 1 0 10 0a5 5 0 1 0-10 0m-6-15h8m-4-4v8m-3-7l6 6m0-6l-6 6m-14-9l8 8m0-8l-8 8m38 13h8m-4-4v8m-3-7l6 6m0-6l-6 6m-11-7l7-4v8zm43 28l8 8m0-8l-8 8m-34-30l7-4v8zm47 43h8m-4-4v8m-3-7l6 6m0-6l-6 6m-59-40l7-4v8zm-24-20h8m-4-4v8m-3-7l6 6m0-6l-6 6m82 52l7-4v8zm-86-55l8 8m0-8l-8 8m60 35h8m-4-4v8m-3-7l6 6m0-6l-6 6m18-8h8m-4-4v8m-3-7l6 6m0-6l-6 6m-11-3a5 5 0 1 0 10 0a5 5 0 1 0-10 0m10 1h8m-4-4v8m-3-7l6 6m0-6l-6 6m-64-26l7-4v8zm73 29a5 5 0 1 0 10 0a5 5 0 1 0-10 0m-63-39l8 8m0-8l-8 8m48 42l7-4v8zm-29-27h8m-4-4v8m-3-7l6 6m0-6l-6 6m-8-29l8 8m0-8l-8 8m29 37h8m-4-4v8m-3-7l6 6m0-6l-6 6m-7-60h8m-4-4v8m-3-7l6 6m0-6l-6 6m-4-8h8m-4-4v8m-3-7l6 6m0-6l-6 6m10-2l8 8m0-8l-8 8m-3-6a5 5 0 1 0 10 0a5 5 0 1 0-10 0m-8 2a5 5 0 1 0 10 0a5 5 0 1 0-10 0m1 0h8m-4-4v8m-3-7l6 6m0-6l-6 6m-2-10h8m-4-4v8m-3-7l6 6m0-6l-6 6m3 5h8m-4-4v8m-3-7l6 6m0-6l-6 6m-4-17l8 8m0-8l-8 8m0 1h8m-4-4v8m-3-7l6 6m0-6l-6 6m10 2l7-4v8zm1 0h8m-4-4v8m-3-7l6 6m0-6l-6 6m-8-9h8m-4-4v8m-3-7l6 6m0-6l-6 6m4-1h8m-4-4v8m-3-7l6 6m0-6l-6 6m-14-2h8m-4-4v8m-3-7l6 6m0-6l-6 6m3-3a5 5 0 1 0 10 0a5 5 0 1 0-10 0m-1 2h8m-4-4v8m-3-7l6 6m0-6l-6 6m4-6h8m-4-4v8m-3-7l6 6m0-6l-6 6m-6-1a5 5 0 1 0 10 0a5 5 0 1 0-10 0m-4-3h8m-4-4v8m-3-7l6 6m0-6l-6 6m2-2h8m-4-4v8m-3-7l6 6m0-6l-6 6m6-4a5 5 0 1 0 10 0a5 5 0 1 0-10 0m69 15h8m-4-4v8m-3-7l6 6m0-6l-6 6m-28-14a5 5 0 1 0 10 0a5 5 0 1 0-10 0m19-3l7-4v8zm12 15h8m-4-4v8m-3-7l6 6m0-6l-6 6m-28-25h8m-4-4v8m-3-7l6 6m0-6l-6 6m40 7h8m-4-4v8m-3-7l6 6m0-6l-6 6m-13-3a5 5 0 1 0 10 0a5 5 0 1 0-10 0m-19-4h8m-4-4v8m-3-7l6 6m0-6l-6 6m26 16h8m-4-4v8m-3-7l6 6m0-6l-6 6m-9-14l7-4v8zm-17-9l7-4v8zm9-2h8m-4-4v8m-3-7l6 6m0-6l-6 6m-17 5h8m-4-4v8m-3-7l6 6m0-6l-6 6m-3-1h8m-4-4v8m-3-7l6 6m0-6l-6 6m3-21l7-4v8zm-20 8l7-4v8zm26 3h8m-4-4v8m-3-7l6 6m0-6l-6 6m-11-14h8m-4-4v8m-3-7l6 6m0-6l-6 6m8 8h8m-4-4v8m-3-7l6 6m0-6l-6 6m1-22l8 8m0-8l-8 8m18 19h8m-4-4v8m-3-7l6 6m0-6l-6 6m-31-25h8m-4-4v8m-3-7l6 6m0-6l-6 6m28 17a5 5 0 1 0 10 0a5 5 0 1 0-10 0m-4 6h8m-4-4v8m-3-7l6 6m0-6l-6 6m1-11l7-4v8zm-15 6h8m-4-4v8m-3-7l6 6m0-6l-6 6m17-4l7-4v8zm-15-20l8 8m0-8l-8 8m5 9l8 8m0-8l-8 8m-22-12h8m-4-4v8m-3-7l6 6m0-6l-6 6m20 9h8m-4-4v8m-3-7l6 6m0-6l-6 6m17-6h8m-4-4v8m-3-7l6 6m0-6l-6 6m-30-14h8m-4-4v8m-3-7l6 6m0-6l-6 6m5 0h8m-4-4v8m-3-7l6 6m0-6l-6 6m28 13l7-4v8zm-13-14h8m-4-4v8m-3-7l6 6m0-6l-6 6m11 1l8 8m0-8l-8 8m-12 2l8 8m0-8l-8 8m-27-32h8m-4-4v8m-3-7l6 6m0-6l-6 6m-7-2h8m-4-4v8m-3-7l6 6m0-6l-6 6m24 2h8m-4-4v8m-3-7l6 6m0-6l-6 6m-8 2h8m-4-4v8m-3-7l6 6m0-6l-6 6m18 4h8m-4-4v8m-3-7l6 6m0-6l-6 6m-21-28l7-4v8zm-12 8h8m-4-4v8m-3-7l6 6m0-6l-6 6m11 2l8 8m0-8l-8 8m-2-23l8 8m0-8l-8 8m-14-2h8m-4-4v8m-3-7l6 6m0-6l-6 6m18 10h8m-4-4v8m-3-7l6 6m0-6l-6 6m18 2l8 8m0-8l-8 8m12 3h8m-4-4v8m-3-7l6 6m0-6l-6 6m-29-23l7-4v8zm-2 7h8m-4-4v8m-3-7l6 6m0-6l-6 6m-22-13a5 5 0 1 0 10 0a5 5 0 1 0-10 0m-1-7h8m-4-4v8m-3-7l6 6m0-6l-6 6m49 23l7-4v8zm-49-23h8m-4-4v8m-3-7l6 6m0-6l-6 6m24 8h8m-4-4v8m-3-7l6 6m0-6l-6 6m-26-20h8m-4-4v8m-3-7l6 6m0-6l-6 6m8 3a5 5 0 1 0 10 0a5 5 0 1 0-10 0m-8 9h8m-4-4v8m-3-7l6 6m0-6l-6 6m23 10l7-4v8zm14 5a5 5 0 1 0 10 0a5 5 0 1 0-10 0m-1-10a5 5 0 1 0 10 0a5 5 0 1 0-10 0m-30-17h8m-4-4v8m-3-7l6 6m0-6l-6 6m4 6h8m-4-4v8m-3-7l6 6m0-6l-6 6m8-1l8 8m0-8l-8 8m-19-20h8m-4-4v8m-3-7l6 6m0-6l-6 6m45 23a5 5 0 1 0 10 0a5 5 0 1 0-10 0m-43-15h8m-4-4v8m-3-7l6 6m0-6l-6 6m26 7l8 8m0-8l-8 8m-137 33l8 8m0-8l-8 8m-6-15l8 8m0-8l-8 8m23 21h8m-4-4v8m-3-7l6 6m0-6l-6 6m11 15h8m-4-4v8m-3-7l6 6m0-6l-6 6m-7-18h8m-4-4v8m-3-7l6 6m0-6l-6 6m3 1h8m-4-4v8m-3-7l6 6m0-6l-6 6m-21-38h8m-4-4v8m-3-7l6 6m0-6l-6 6m22 26h8m-4-4v8m-3-7l6 6m0-6l-6 6m-4 9l7-4v8zm4 4a5 5 0 1 0 10 0a5 5 0 1 0-10 0m-25-33h8m-4-4v8m-3-7l6 6m0-6l-6 6m-12 4h8m-4-4v8m-3-7l6 6m0-6l-6 6m9-12a5 5 0 1 0 10 0a5 5 0 1 0-10 0m13 5l8 8m0-8l-8 8m-25-5h8m-4-4v8m-3-7l6 6m0-6l-6 6m-4-18l7-4v8zm13 9h8m-4-4v8m-3-7l6 6m0-6l-6 6m27 22h8m-4-4v8m-3-7l6 6m0-6l-6 6m-23-28l8 8m0-8l-8 8m13 13h8m-4-4v8m-3-7l6 6m0-6l-6 6m-9-10a5 5 0 1 0 10 0a5 5 0 1 0-10 0m-3-5h8m-4-4v8m-3-7l6 6m0-6l-6 6m-10-7h8m-4-4v8m-3-7l6 6m0-6l-6 6m-10-13h8m-4-4v8m-3-7l6 6m0-6l-6 6m1 1a5 5 0 1 0 10 0a5 5 0 1 0-10 0m-3-8a5 5 0 1 0 10 0a5 5 0 1 0-10 0m20 19h8m-4-4v8m-3-7l6 6m0-6l-6 6m-22-24a5 5 0 1 0 10 0a5 5 0 1 0-10 0m45 30h8m-4-4v8m-3-7l6 6m0-6l-6 6m-39-22h8m-4-4v8m-3-7l6 6m0-6l-6 6m2-13h8m-4-4v8m-3-7l6 6m0-6l-6 6m13 7h8m-4-4v8m-3-7l6 6m0-6l-6 6m15 14l8 8m0-8l-8 8m-22-21l8 8m0-8l-8 8m22 9h8m-4-4v8m-3-7l6 6m0-6l-6 6m-43-33a5 5 0 1 0 10 0a5 5 0 1 0-10 0m28 28h8m-4-4v8m-3-7l6 6m0-6l-6 6m-10-23h8m-4-4v8m-3-7l6 6m0-6l-6 6m6 5h8m-4-4v8m-3-7l6 6m0-6l-6 6m12 16a5 5 0 1 0 10 0a5 5 0 1 0-10 0m5-4l7-4v8zm-47-23h8m-4-4v8m-3-7l6 6m0-6l-6 6m4-11h8m-4-4v8m-3-7l6 6m0-6l-6 6m40 35h8m-4-4v8m-3-7l6 6m0-6l-6 6m-10-12h8m-4-4v8m-3-7l6 6m0-6l-6 6m-3-12h8m-4-4v8m-3-7l6 6m0-6l-6 6m0 1h8m-4-4v8m-3-7l6 6m0-6l-6 6m4 6h8m-4-4v8m-3-7l6 6m0-6l-6 6m-7-18h8m-4-4v8m-3-7l6 6m0-6l-6 6m-2 3h8m-4-4v8m-3-7l6 6m0-6l-6 6m-12-12l8 8m0-8l-8 8m15 4h8m-4-4v8m-3-7l6 6m0-6l-6 6m-34-31a5 5 0 1 0 10 0a5 5 0 1 0-10 0m17 20a5 5 0 1 0 10 0a5 5 0 1 0-10 0m15 17h8m-4-4v8m-3-7l6 6m0-6l-6 6m-1-22l8 8m0-8l-8 8m-18-17h8m-4-4v8m-3-7l6 6m0-6l-6 6m-11 0h8m-4-4v8m-3-7l6 6m0-6l-6 6m19 10h8m-4-4v8m-3-7l6 6m0-6l-6 6m2 0a5 5 0 1 0 10 0a5 5 0 1 0-10 0m-35-27h8m-4-4v8m-3-7l6 6m0-6l-6 6m20 7h8m-4-4v8m-3-7l6 6m0-6l-6 6m-12-19h8m-4-4v8m-3-7l6 6m0-6l-6 6m-58 82h8m-4-4v8m-3-7l6 6m0-6l-6 6m11-7h8m-4-4v8m-3-7l6 6m0-6l-6 6m-16-11h8m-4-4v8m-3-7l6 6m0-6l-6 6m16 3h8m-4-4v8m-3-7l6 6m0-6l-6 6m15 14h8m-4-4v8m-3-7l6 6m0-6l-6 6m-46-12h8m-4-4v8m-3-7l6 6m0-6l-6 6m24-2h8m-4-4v8m-3-7l6 6m0-6l-6 6m-15-14l8 8m0-8l-8 8m11 5h8m-4-4v8m-3-7l6 6m0-6l-6 6m-29-9a5 5 0 1 0 10 0a5 5 0 1 0-10 0m40 20h8m-4-4v8m-3-7l6 6m0-6l-6 6m14-12h8m-4-4v8m-3-7l6 6m0-6l-6 6m-46-23a5 5 0 1 0 10 0a5 5 0 1 0-10 0m35 23l7-4v8zm-43-17h8m-4-4v8m-3-7l6 6m0-6l-6 6m27-8l8 8m0-8l-8 8m23 6l7-4v8zm-54-16h8m-4-4v8m-3-7l6 6m0-6l-6 6m44 14h8m-4-4v8m-3-7l6 6m0-6l-6 6m-55-25h8m-4-4v8m-3-7l6 6m0-6l-6 6m58 11l8 8m0-8l-8 8m-18-4h8m-4-4v8m-3-7l6 6m0-6l-6 6m-23-21h8m-4-4v8m-3-7l6 6m0-6l-6 6m-2 8h8m-4-4v8m-3-7l6 6m0-6l-6 6m27 9l7-4v8zm-44-31l7-4v8zm55 31l7-4v8zm-18-12h8m-4-4v8m-3-7l6 6m0-6l-6 6m-21-3a5 5 0 1 0 10 0a5 5 0 1 0-10 0m31 1a5 5 0 1 0 10 0a5 5 0 1 0-10 0m-19 4l7-4v8zm15-3h8m-4-4v8m-3-7l6 6m0-6l-6 6m-41-25h8m-4-4v8m-3-7l6 6m0-6l-6 6m12 26h8m-4-4v8m-3-7l6 6m0-6l-6 6m19-18h8m-4-4v8m-3-7l6 6m0-6l-6 6m10 8l8 8m0-8l-8 8m-14-2h8m-4-4v8m-3-7l6 6m0-6l-6 6m3-8a5 5 0 1 0 10 0a5 5 0 1 0-10 0m-18 0h8m-4-4v8m-3-7l6 6m0-6l-6 6m-15-28l8 8m0-8l-8 8m11 13h8m-4-4v8m-3-7l6 6m0-6l-6 6m-15-5a5 5 0 1 0 10 0a5 5 0 1 0-10 0m60 8h8m-4-4v8m-3-7l6 6m0-6l-6 6m-29-8l7-4v8zm9 1h8m-4-4v8m-3-7l6 6m0-6l-6 6m-20 5a5 5 0 1 0 10 0a5 5 0 1 0-10 0m-27-19h8m-4-4v8m-3-7l6 6m0-6l-6 6m51 23h8m-4-4v8m-3-7l6 6m0-6l-6 6m-8-19h8m-4-4v8m-3-7l6 6m0-6l-6 6m-27 6h8m-4-4v8m-3-7l6 6m0-6l-6 6m-5-13h8m-4-4v8m-3-7l6 6m0-6l-6 6m30-8l7-4v8zm12 24h8m-4-4v8m-3-7l6 6m0-6l-6 6m7-17h8m-4-4v8m-3-7l6 6m0-6l-6 6m-66-22h8m-4-4v8m-3-7l6 6m0-6l-6 6m52 26h8m-4-4v8m-3-7l6 6m0-6l-6 6m-52-38a5 5 0 1 0 10 0a5 5 0 1 0-10 0m23 27h8m-4-4v8m-3-7l6 6m0-6l-6 6m-23-30a5 5 0 1 0 10 0a5 5 0 1 0-10 0m8 20a5 5 0 1 0 10 0a5 5 0 1 0-10 0m11-8h8m-4-4v8m-3-7l6 6m0-6l-6 6m-12 1h8m-4-4v8m-3-7l6 6m0-6l-6 6m7 40l8 8m0-8l-8 8m14-6a5 5 0 1 0 10 0a5 5 0 1 0-10 0m-5-16l7-4v8zm1 7l8 8m0-8l-8 8m3-11h8m-4-4v8m-3-7l6 6m0-6l-6 6m-2-4h8m-4-4v8m-3-7l6 6m0-6l-6 6m-5 3h8m-4-4v8m-3-7l6 6m0-6l-6 6m-1-25l8 8m0-8l-8 8m-3 15h8m-4-4v8m-3-7l6 6m0-6l-6 6m-4-21a5 5 0 1 0 10 0a5 5 0 1 0-10 0m1-6h8m-4-4v8m-3-7l6 6m0-6l-6 6m3 16l8 8m0-8l-8 8m4-9h8m-4-4v8m-3-7l6 6m0-6l-6 6m-2 4h8m-4-4v8m-3-7l6 6m0-6l-6 6m-4 3h8m-4-4v8m-3-7l6 6m0-6l-6 6m-7-15l7-4v8zm2-8h8m-4-4v8m-3-7l6 6m0-6l-6 6m6-1a5 5 0 1 0 10 0a5 5 0 1 0-10 0m-2 16l8 8m0-8l-8 8m14-3h8m-4-4v8m-3-7l6 6m0-6l-6 6m-16-15a5 5 0 1 0 10 0a5 5 0 1 0-10 0m-2-25a5 5 0 1 0 10 0a5 5 0 1 0-10 0m2 17l7-4v8zm7 6h8m-4-4v8m-3-7l6 6m0-6l-6 6m-4-7l7-4v8zm-12 0h8m-4-4v8m-3-7l6 6m0-6l-6 6m5-15h8m-4-4v8m-3-7l6 6m0-6l-6 6m-8-8l8 8m0-8l-8 8m9 22h8m-4-4v8m-3-7l6 6m0-6l-6 6m-3 9l8 8m0-8l-8 8m-15-53l7-4v8zm18 11a5 5 0 1 0 10 0a5 5 0 1 0-10 0m-3 33h8m-4-4v8m-3-7l6 6m0-6l-6 6m7-32h8m-4-4v8m-3-7l6 6m0-6l-6 6m2 15l7-4v8zm-4-3a5 5 0 1 0 10 0a5 5 0 1 0-10 0m-3-7a5 5 0 1 0 10 0a5 5 0 1 0-10 0m2-12l7-4v8zm-1 22h8m-4-4v8m-3-7l6 6m0-6l-6 6m-16-25h8m-4-4v8m-3-7l6 6m0-6l-6 6m9 6l7-4v8zm1-3a5 5 0 1 0 10 0a5 5 0 1 0-10 0m4 27h8m-4-4v8m-3-7l6 6m0-6l-6 6m-2-28a5 5 0 1 0 10 0a5 5 0 1 0-10 0m5 15a5 5 0 1 0 10 0a5 5 0 1 0-10 0m8 29l7-4v8zm3 16a5 5 0 1 0 10 0a5 5 0 1 0-10 0m0-9l7-4v8zm-9-1h8m-4-4v8m-3-7l6 6m0-6l-6 6m3 2h8m-4-4v8m-3-7l6 6m0-6l-6 6m8 6h8m-4-4v8m-3-7l6 6m0-6l-6 6m-5-4l8 8m0-8l-8 8m-9-11h8m-4-4v8m-3-7l6 6m0-6l-6 6m0-15h8m-4-4v8m-3-7l6 6m0-6l-6 6m11-8a5 5 0 1 0 10 0a5 5 0 1 0-10 0m-12 21a5 5 0 1 0 10 0a5 5 0 1 0-10 0m1-12l7-4v8zm9-2h8m-4-4v8m-3-7l6 6m0-6l-6 6m-1 6a5 5 0 1 0 10 0a5 5 0 1 0-10 0m5-1l7-4v8zm-4-10h8m-4-4v8m-3-7l6 6m0-6l-6 6m15 5l8 8m0-8l-8 8m-5-15l8 8m0-8l-8 8m-10 9a5 5 0 1 0 10 0a5 5 0 1 0-10 0m-5 6h8m-4-4v8m-3-7l6 6m0-6l-6 6m6-12l7-4v8zm-14-10l7-4v8zm16 2l7-4v8zm3 0a5 5 0 1 0 10 0a5 5 0 1 0-10 0m-5 13h8m-4-4v8m-3-7l6 6m0-6l-6 6m-15-30l8 8m0-8l-8 8m1 4h8m-4-4v8m-3-7l6 6m0-6l-6 6m-1 2h8m-4-4v8m-3-7l6 6m0-6l-6 6m11-2h8m-4-4v8m-3-7l6 6m0-6l-6 6m-16-12l8 8m0-8l-8 8m6 14h8m-4-4v8m-3-7l6 6m0-6l-6 6m-5-4h8m-4-4v8m-3-7l6 6m0-6l-6 6m7-21h8m-4-4v8m-3-7l6 6m0-6l-6 6m-8 13h8m-4-4v8m-3-7l6 6m0-6l-6 6m17-25h8m-4-4v8m-3-7l6 6m0-6l-6 6m-2-8h8m-4-4v8m-3-7l6 6m0-6l-6 6m-4 3l8 8m0-8l-8 8m-6 0h8m-4-4v8m-3-7l6 6m0-6l-6 6m-6 5h8m-4-4v8m-3-7l6 6m0-6l-6 6m2-11l7-4v8zm1-3h8m-4-4v8m-3-7l6 6m0-6l-6 6m-8 8h8m-4-4v8m-3-7l6 6m0-6l-6 6m10-21a5 5 0 1 0 10 0a5 5 0 1 0-10 0m3 19h8m-4-4v8m-3-7l6 6m0-6l-6 6m-12-4a5 5 0 1 0 10 0a5 5 0 1 0-10 0m-6-9l7-4v8zm11 3l7-4v8zm-13 1h8m-4-4v8m-3-7l6 6m0-6l-6 6m13-6h8m-4-4v8m-3-7l6 6m0-6l-6 6m8 0l7-4v8zm-12 1a5 5 0 1 0 10 0a5 5 0 1 0-10 0m9-1h8m-4-4v8m-3-7l6 6m0-6l-6 6m-6-11h8m-4-4v8m-3-7l6 6m0-6l-6 6m8 11l7-4v8zm-6-10l7-4v8zm0-6l7-4v8zm-12 4h8m-4-4v8m-3-7l6 6m0-6l-6 6m21 0l8 8m0-8l-8 8m-28 3h8m-4-4v8m-3-7l6 6m0-6l-6 6m8-15h8m-4-4v8m-3-7l6 6m0-6l-6 6m-9-9l8 8m0-8l-8 8m3-6h8m-4-4v8m-3-7l6 6m0-6l-6 6m15 15h8m-4-4v8m-3-7l6 6m0-6l-6 6m-22-17l8 8m0-8l-8 8m19-3h8m-4-4v8m-3-7l6 6m0-6l-6 6m-12-3h8m-4-4v8m-3-7l6 6m0-6l-6 6m6-16h8m-4-4v8m-3-7l6 6m0-6l-6 6m-6 15h8m-4-4v8m-3-7l6 6m0-6l-6 6m5-16l8 8m0-8l-8 8m8-9a5 5 0 1 0 10 0a5 5 0 1 0-10 0m0 4h8m-4-4v8m-3-7l6 6m0-6l-6 6m-9-2h8m-4-4v8m-3-7l6 6m0-6l-6 6m-14 3h8m-4-4v8m-3-7l6 6m0-6l-6 6m1-2l7-4v8zm0 3h8m-4-4v8m-3-7l6 6m0-6l-6 6m10-1a5 5 0 1 0 10 0a5 5 0 1 0-10 0m-8-6h8m-4-4v8m-3-7l6 6m0-6l-6 6m-2 0h8m-4-4v8m-3-7l6 6m0-6l-6 6m4-14l7-4v8zm-5 5a5 5 0 1 0 10 0a5 5 0 1 0-10 0m34-1l7-4v8zm-9-7l8 8m0-8l-8 8m-2-4h8m-4-4v8m-3-7l6 6m0-6l-6 6m16-6l7-4v8zm-3-1h8m-4-4v8m-3-7l6 6m0-6l-6 6m-15 7a5 5 0 1 0 10 0a5 5 0 1 0-10 0m-17-5h8m-4-4v8m-3-7l6 6m0-6l-6 6m7-3h8m-4-4v8m-3-7l6 6m0-6l-6 6m16-7l8 8m0-8l-8 8m-12-5l7-4v8zm-1-9l8 8m0-8l-8 8m-6-2h8m-4-4v8m-3-7l6 6m0-6l-6 6m18 5h8m-4-4v8m-3-7l6 6m0-6l-6 6m-18-11h8m-4-4v8m-3-7l6 6m0-6l-6 6m15 2h8m-4-4v8m-3-7l6 6m0-6l-6 6m-1-3l7-4v8zm-9-7a5 5 0 1 0 10 0a5 5 0 1 0-10 0m4-5h8m-4-4v8m-3-7l6 6m0-6l-6 6m11-1h8m-4-4v8m-3-7l6 6m0-6l-6 6m-27 9h8m-4-4v8m-3-7l6 6m0-6l-6 6m6 3h8m-4-4v8m-3-7l6 6m0-6l-6 6m1-2h8m-4-4v8m-3-7l6 6m0-6l-6 6m1-12l7-4v8zm-11 8h8m-4-4v8m-3-7l6 6m0-6l-6 6m30-1a5 5 0 1 0 10 0a5 5 0 1 0-10 0m-12 2h8m-4-4v8m-3-7l6 6m0-6l-6 6m-14-11h8m-4-4v8m-3-7l6 6m0-6l-6 6m-3-14l7-4v8zm23 15h8m-4-4v8m-3-7l6 6m0-6l-6 6m6-17a5 5 0 1 0 10 0a5 5 0 1 0-10 0m-44 7h8m-4-4v8m-3-7l6 6m0-6l-6 6m3 14l7-4v8zm-8-9h8m-4-4v8m-3-7l6 6m0-6l-6 6m9 15a5 5 0 1 0 10 0a5 5 0 1 0-10 0m7-28h8m-4-4v8m-3-7l6 6m0-6l-6 6m-17 6l7-4v8zm5-3h8m-4-4v8m-3-7l6 6m0-6l-6 6m1 6h8m-4-4v8m-3-7l6 6m0-6l-6 6m-9-5h8m-4-4v8m-3-7l6 6m0-6l-6 6m12 14h8m-4-4v8m-3-7l6 6m0-6l-6 6m-3-28h8m-4-4v8m-3-7l6 6m0-6l-6 6m3-6l8 8m0-8l-8 8m-3-3h8m-4-4v8m-3-7l6 6m0-6l-6 6m4 25h8m-4-4v8m-3-7l6 6m0-6l-6 6m-8-27h8m-4-4v8m-3-7l6 6m0-6l-6 6m0 19h8m-4-4v8m-3-7l6 6m0-6l-6 6m-5-10h8m-4-4v8m-3-7l6 6m0-6l-6 6m-4-1h8m-4-4v8m-3-7l6 6m0-6l-6 6m7-11h8m-4-4v8m-3-7l6 6m0-6l-6 6m55 97h8m-4-4v8m-3-7l6 6m0-6l-6 6m-15 19h8m-4-4v8m-3-7l6 6m0-6l-6 6m12-48h8m-4-4v8m-3-7l6 6m0-6l-6 6m14 49l7-4v8zm-4 14l8 8m0-8l-8 8m-9-21h8m-4-4v8m-3-7l6 6m0-6l-6 6m6-12l7-4v8zm-20-35h8m-4-4v8m-3-7l6 6m0-6l-6 6m16 56h8m-4-4v8m-3-7l6 6m0-6l-6 6m-6-24l7-4v8zm-14-10h8m-4-4v8m-3-7l6 6m0-6l-6 6m-3-12h8m-4-4v8m-3-7l6 6m0-6l-6 6m29 22h8m-4-4v8m-3-7l6 6m0-6l-6 6m-19-16l7-4v8zm-4-19h8m-4-4v8m-3-7l6 6m0-6l-6 6m11-13h8m-4-4v8m-3-7l6 6m0-6l-6 6m0 37h8m-4-4v8m-3-7l6 6m0-6l-6 6m-10-4l7-4v8zm-1-30l7-4v8zm-5 7h8m-4-4v8m-3-7l6 6m0-6l-6 6m3 48a5 5 0 1 0 10 0a5 5 0 1 0-10 0m-7-51a5 5 0 1 0 10 0a5 5 0 1 0-10 0m-3-16h8m-4-4v8m-3-7l6 6m0-6l-6 6m5 3h8m-4-4v8m-3-7l6 6m0-6l-6 6m9 53h8m-4-4v8m-3-7l6 6m0-6l-6 6m-12-26h8m-4-4v8m-3-7l6 6m0-6l-6 6m30-3h8m-4-4v8m-3-7l6 6m0-6l-6 6m-15 9l8 8m0-8l-8 8m-8 3h8m-4-4v8m-3-7l6 6m0-6l-6 6m-3-48l8 8m0-8l-8 8m0 14h8m-4-4v8m-3-7l6 6m0-6l-6 6m8 22h8m-4-4v8m-3-7l6 6m0-6l-6 6m-1-2l7-4v8zm-7-19h8m-4-4v8m-3-7l6 6m0-6l-6 6m-6-18l8 8m0-8l-8 8m-12-31l8 8m0-8l-8 8m24 48a5 5 0 1 0 10 0a5 5 0 1 0-10 0m-2-12h8m-4-4v8m-3-7l6 6m0-6l-6 6m7 15a5 5 0 1 0 10 0a5 5 0 1 0-10 0m-5-2h8m-4-4v8m-3-7l6 6m0-6l-6 6m-15-37h8m-4-4v8m-3-7l6 6m0-6l-6 6m1-2h8m-4-4v8m-3-7l6 6m0-6l-6 6m6 24a5 5 0 1 0 10 0a5 5 0 1 0-10 0m15 4h8m-4-4v8m-3-7l6 6m0-6l-6 6m-33-37l7-4v8zm11-1h8m-4-4v8m-3-7l6 6m0-6l-6 6m-11-34h8m-4-4v8m-3-7l6 6m0-6l-6 6m8 5l7-4v8zm7 21l7-4v8zm0-1h8m-4-4v8m-3-7l6 6m0-6l-6 6m-11-20h8m-4-4v8m-3-7l6 6m0-6l-6 6m31 52l7-4v8zm-3-27l8 8m0-8l-8 8m-21-29l8 8m0-8l-8 8m0-10h8m-4-4v8m-3-7l6 6m0-6l-6 6m17 41h8m-4-4v8m-3-7l6 6m0-6l-6 6m-25-26h8m-4-4v8m-3-7l6 6m0-6l-6 6m2-35l7-4v8zm-7 29a5 5 0 1 0 10 0a5 5 0 1 0-10 0m-1-20h8m-4-4v8m-3-7l6 6m0-6l-6 6m8-1l8 8m0-8l-8 8m-3-32l8 8m0-8l-8 8m18 54l8 8m0-8l-8 8m-20-19l7-4v8zm6-30h8m-4-4v8m-3-7l6 6m0-6l-6 6m-15-9l7-4v8zm19 60h8m-4-4v8m-3-7l6 6m0-6l-6 6m-9-34h8m-4-4v8m-3-7l6 6m0-6l-6 6m-7-21h8m-4-4v8m-3-7l6 6m0-6l-6 6m-5-8l7-4v8zm16-19h8m-4-4v8m-3-7l6 6m0-6l-6 6m0 55h8m-4-4v8m-3-7l6 6m0-6l-6 6m7-4h8m-4-4v8m-3-7l6 6m0-6l-6 6m-12-37h8m-4-4v8m-3-7l6 6m0-6l-6 6m-12 20l8 8m0-8l-8 8m19-16a5 5 0 1 0 10 0a5 5 0 1 0-10 0m-8 15h8m-4-4v8m-3-7l6 6m0-6l-6 6m-5-38h8m-4-4v8m-3-7l6 6m0-6l-6 6m7 18l8 8m0-8l-8 8m-8-21h8m-4-4v8m-3-7l6 6m0-6l-6 6m-4 23l8 8m0-8l-8 8m0-51h8m-4-4v8m-3-7l6 6m0-6l-6 6m86 65l7-4v8zm-5-9a5 5 0 1 0 10 0a5 5 0 1 0-10 0m41 17l8 8m0-8l-8 8m-61-45l8 8m0-8l-8 8m31 16l7-4v8zm-4-2h8m-4-4v8m-3-7l6 6m0-6l-6 6m-12-10h8m-4-4v8m-3-7l6 6m0-6l-6 6m5 3h8m-4-4v8m-3-7l6 6m0-6l-6 6m-1-4l7-4v8zm11 13l7-4v8zm27 11h8m-4-4v8m-3-7l6 6m0-6l-6 6m0-10h8m-4-4v8m-3-7l6 6m0-6l-6 6m-25-7h8m-4-4v8m-3-7l6 6m0-6l-6 6m13-7h8m-4-4v8m-3-7l6 6m0-6l-6 6m-47-27a5 5 0 1 0 10 0a5 5 0 1 0-10 0m41 29h8m-4-4v8m-3-7l6 6m0-6l-6 6m-20-23l8 8m0-8l-8 8m-2 4h8m-4-4v8m-3-7l6 6m0-6l-6 6m-4-30l8 8m0-8l-8 8m-12-6h8m-4-4v8m-3-7l6 6m0-6l-6 6m11 12h8m-4-4v8m-3-7l6 6m0-6l-6 6m-2 4h8m-4-4v8m-3-7l6 6m0-6l-6 6m30 21l7-4v8zm-17-16a5 5 0 1 0 10 0a5 5 0 1 0-10 0m-20-13a5 5 0 1 0 10 0a5 5 0 1 0-10 0m0-21h8m-4-4v8m-3-7l6 6m0-6l-6 6m39 39h8m-4-4v8m-3-7l6 6m0-6l-6 6m-37-40h8m-4-4v8m-3-7l6 6m0-6l-6 6m1 13l8 8m0-8l-8 8m-6-6h8m-4-4v8m-3-7l6 6m0-6l-6 6m42 13a5 5 0 1 0 10 0a5 5 0 1 0-10 0m-46-29l7-4v8zm34 29h8m-4-4v8m-3-7l6 6m0-6l-6 6m-2-2l7-4v8zm-27-31h8m-4-4v8m-3-7l6 6m0-6l-6 6m19 27h8m-4-4v8m-3-7l6 6m0-6l-6 6m-23-29h8m-4-4v8m-3-7l6 6m0-6l-6 6m7 11l7-4v8zm-21-168h8m-4-4v8m-3-7l6 6m0-6l-6 6m6 4h8m-4-4v8m-3-7l6 6m0-6l-6 6m3-11h8m-4-4v8m-3-7l6 6m0-6l-6 6m-13-4l7-4v8zm10 9h8m-4-4v8m-3-7l6 6m0-6l-6 6m-7-9l7-4v8zm3 9h8m-4-4v8m-3-7l6 6m0-6l-6 6m2 0h8m-4-4v8m-3-7l6 6m0-6l-6 6m-8-16h8m-4-4v8m-3-7l6 6m0-6l-6 6m5 8h8m-4-4v8m-3-7l6 6m0-6l-6 6m-10-17a5 5 0 1 0 10 0a5 5 0 1 0-10 0m9 20l7-4v8zm-6-5a5 5 0 1 0 10 0a5 5 0 1 0-10 0m-2-25l7-4v8zm8 17l8 8m0-8l-8 8m-2 3h8m-4-4v8m-3-7l6 6m0-6l-6 6m-1-6a5 5 0 1 0 10 0a5 5 0 1 0-10 0m1 2h8m-4-4v8m-3-7l6 6m0-6l-6 6m-10-19h8m-4-4v8m-3-7l6 6m0-6l-6 6m11 3h8m-4-4v8m-3-7l6 6m0-6l-6 6m-4-2h8m-4-4v8m-3-7l6 6m0-6l-6 6m-1 5h8m-4-4v8m-3-7l6 6m0-6l-6 6m7-2a5 5 0 1 0 10 0a5 5 0 1 0-10 0m51-121l7-4v8zm-29 7l7-4v8zm24 8h8m-4-4v8m-3-7l6 6m0-6l-6 6m8-16h8m-4-4v8m-3-7l6 6m0-6l-6 6m-1-8h8m-4-4v8m-3-7l6 6m0-6l-6 6m7-8a5 5 0 1 0 10 0a5 5 0 1 0-10 0m-5 18l7-4v8zm-36-8h8m-4-4v8m-3-7l6 6m0-6l-6 6m28 0h8m-4-4v8m-3-7l6 6m0-6l-6 6m-1-9l8 8m0-8l-8 8m10-15a5 5 0 1 0 10 0a5 5 0 1 0-10 0m-41 3l7-4v8zm32 10h8m-4-4v8m-3-7l6 6m0-6l-6 6m3 5h8m-4-4v8m-3-7l6 6m0-6l-6 6m-2-13h8m-4-4v8m-3-7l6 6m0-6l-6 6m12-15l7-4v8zm-40 17l7-4v8zm12-10l8 8m0-8l-8 8m23-12h8m-4-4v8m-3-7l6 6m0-6l-6 6m-14 5l7-4v8zm-32-1h8m-4-4v8m-3-7l6 6m0-6l-6 6m5-8l7-4v8zm34 7h8m-4-4v8m-3-7l6 6m0-6l-6 6m-24-12h8m-4-4v8m-3-7l6 6m0-6l-6 6m32-9l8 8m0-8l-8 8m-43 6l7-4v8zm4-6h8m-4-4v8m-3-7l6 6m0-6l-6 6m30-14l8 8m0-8l-8 8m5-1h8m-4-4v8m-3-7l6 6m0-6l-6 6m-2-1l8 8m0-8l-8 8m3-14h8m-4-4v8m-3-7l6 6m0-6l-6 6m-20 12l7-4v8zm-3 5a5 5 0 1 0 10 0a5 5 0 1 0-10 0m17-8a5 5 0 1 0 10 0a5 5 0 1 0-10 0m-20 7h8m-4-4v8m-3-7l6 6m0-6l-6 6m14-8a5 5 0 1 0 10 0a5 5 0 1 0-10 0m-2-2a5 5 0 1 0 10 0a5 5 0 1 0-10 0m4-10l7-4v8zm-29 11l7-4v8zm3-7h8m-4-4v8m-3-7l6 6m0-6l-6 6m-2 9h8m-4-4v8m-3-7l6 6m0-6l-6 6m54 48l7-4v8zm14 10h8m-4-4v8m-3-7l6 6m0-6l-6 6m10-4a5 5 0 1 0 10 0a5 5 0 1 0-10 0m-26-12h8m-4-4v8m-3-7l6 6m0-6l-6 6m7-1l8 8m0-8l-8 8m30 28h8m-4-4v8m-3-7l6 6m0-6l-6 6m-8-5a5 5 0 1 0 10 0a5 5 0 1 0-10 0m-11-9a5 5 0 1 0 10 0a5 5 0 1 0-10 0m18 30h8m-4-4v8m-3-7l6 6m0-6l-6 6m-14-40h8m-4-4v8m-3-7l6 6m0-6l-6 6m-1-19l8 8m0-8l-8 8m-27-9l7-4v8zm7-13a5 5 0 1 0 10 0a5 5 0 1 0-10 0m7 13h8m-4-4v8m-3-7l6 6m0-6l-6 6m32 36l7-4v8zm-16-3l7-4v8zm-31-42h8m-4-4v8m-3-7l6 6m0-6l-6 6m34 28h8m-4-4v8m-3-7l6 6m0-6l-6 6m-15-10h8m-4-4v8m-3-7l6 6m0-6l-6 6m0-8h8m-4-4v8m-3-7l6 6m0-6l-6 6m-1 3l8 8m0-8l-8 8m5-3l7-4v8zm-14-14h8m-4-4v8m-3-7l6 6m0-6l-6 6m16-5h8m-4-4v8m-3-7l6 6m0-6l-6 6m-2 26a5 5 0 1 0 10 0a5 5 0 1 0-10 0m-23-31h8m-4-4v8m-3-7l6 6m0-6l-6 6m-3-16h8m-4-4v8m-3-7l6 6m0-6l-6 6m13 17h8m-4-4v8m-3-7l6 6m0-6l-6 6m19 20l8 8m0-8l-8 8m-9-10h8m-4-4v8m-3-7l6 6m0-6l-6 6m-28-34l8 8m0-8l-8 8m24 30h8m-4-4v8m-3-7l6 6m0-6l-6 6m-37-50l7-4v8zm37 37l8 8m0-8l-8 8m-12-13a5 5 0 1 0 10 0a5 5 0 1 0-10 0m8 10l7-4v8zm-2-5l7-4v8zm-16-34a5 5 0 1 0 10 0a5 5 0 1 0-10 0m20 34h8m-4-4v8m-3-7l6 6m0-6l-6 6m-24-43l7-4v8zm8 19h8m-4-4v8m-3-7l6 6m0-6l-6 6m19 0h8m-4-4v8m-3-7l6 6m0-6l-6 6m-22-18h8m-4-4v8m-3-7l6 6m0-6l-6 6m-7-9h8m-4-4v8m-3-7l6 6m0-6l-6 6m4 4a5 5 0 1 0 10 0a5 5 0 1 0-10 0m23 21h8m-4-4v8m-3-7l6 6m0-6l-6 6m14 13l8 8m0-8l-8 8m-24-17l7-4v8zm-81-17l8 8m0-8l-8 8m-23 1l7-4v8zm1-25h8m-4-4v8m-3-7l6 6m0-6l-6 6m-3 8l7-4v8zm0-10l7-4v8zm-7 8h8m-4-4v8m-3-7l6 6m0-6l-6 6m17 2l7-4v8zm-8 2l7-4v8zm-1-1l7-4v8zm-1-6h8m-4-4v8m-3-7l6 6m0-6l-6 6m23 14h8m-4-4v8m-3-7l6 6m0-6l-6 6m-28-12h8m-4-4v8m-3-7l6 6m0-6l-6 6m28 7l7-4v8zm-24-22l7-4v8zm12 10h8m-4-4v8m-3-7l6 6m0-6l-6 6m-26-17l8 8m0-8l-8 8m19 4l7-4v8zm-3-10l7-4v8zm22 8l8 8m0-8l-8 8m-33-6l7-4v8zm31 12l7-4v8zm-30-17h8m-4-4v8m-3-7l6 6m0-6l-6 6m16 14h8m-4-4v8m-3-7l6 6m0-6l-6 6m11 3l7-4v8zm-7-16h8m-4-4v8m-3-7l6 6m0-6l-6 6m-22-19l8 8m0-8l-8 8m7 8l7-4v8zm112 58h8m-4-4v8m-3-7l6 6m0-6l-6 6m-8-21h8m-4-4v8m-3-7l6 6m0-6l-6 6m3 10h8m-4-4v8m-3-7l6 6m0-6l-6 6m-6-4h8m-4-4v8m-3-7l6 6m0-6l-6 6m-4-9l8 8m0-8l-8 8m7-7h8m-4-4v8m-3-7l6 6m0-6l-6 6m-11-3l7-4v8zm16 0l7-4v8zm-9 14a5 5 0 1 0 10 0a5 5 0 1 0-10 0m-3-10a5 5 0 1 0 10 0a5 5 0 1 0-10 0m5-2a5 5 0 1 0 10 0a5 5 0 1 0-10 0m2 8l7-4v8zm-7-10l7-4v8zm3 0h8m-4-4v8m-3-7l6 6m0-6l-6 6m9 3a5 5 0 1 0 10 0a5 5 0 1 0-10 0m-5-11h8m-4-4v8m-3-7l6 6m0-6l-6 6m-4-3h8m-4-4v8m-3-7l6 6m0-6l-6 6m-3 3h8m-4-4v8m-3-7l6 6m0-6l-6 6m-9-5h8m-4-4v8m-3-7l6 6m0-6l-6 6m10-9l7-4v8zm3 5l7-4v8zm-11 11h8m-4-4v8m-3-7l6 6m0-6l-6 6m3-12l7-4v8zm9-1a5 5 0 1 0 10 0a5 5 0 1 0-10 0m-7 6h8m-4-4v8m-3-7l6 6m0-6l-6 6m8-3h8m-4-4v8m-3-7l6 6m0-6l-6 6m-14-6h8m-4-4v8m-3-7l6 6m0-6l-6 6m8 2h8m-4-4v8m-3-7l6 6m0-6l-6 6m-11-12h8m-4-4v8m-3-7l6 6m0-6l-6 6m8 0h8m-4-4v8m-3-7l6 6m0-6l-6 6m4-7l7-4v8zm-11 7h8m-4-4v8m-3-7l6 6m0-6l-6 6m8-10a5 5 0 1 0 10 0a5 5 0 1 0-10 0m-8 5h8m-4-4v8m-3-7l6 6m0-6l-6 6m-6 1l7-4v8zm-223-142l7-4v8zm-2 4h8m-4-4v8m-3-7l6 6m0-6l-6 6m7-14a5 5 0 1 0 10 0a5 5 0 1 0-10 0m-8 5a5 5 0 1 0 10 0a5 5 0 1 0-10 0m3 10l8 8m0-8l-8 8m3-7l8 8m0-8l-8 8m2 21h8m-4-4v8m-3-7l6 6m0-6l-6 6m10-3l8 8m0-8l-8 8m-20-45l7-4v8zm13 22h8m-4-4v8m-3-7l6 6m0-6l-6 6m-2-22h8m-4-4v8m-3-7l6 6m0-6l-6 6m-12-16a5 5 0 1 0 10 0a5 5 0 1 0-10 0m14 56a5 5 0 1 0 10 0a5 5 0 1 0-10 0m-4-6l8 8m0-8l-8 8m4-36l7-4v8zm-7-28l7-4v8zm-4 23h8m-4-4v8m-3-7l6 6m0-6l-6 6m1-20a5 5 0 1 0 10 0a5 5 0 1 0-10 0m6 40l8 8m0-8l-8 8m9 7l7-4v8zm-7-4a5 5 0 1 0 10 0a5 5 0 1 0-10 0m3-9l8 8m0-8l-8 8m-18-58l7-4v8zm10 23l8 8m0-8l-8 8m6-8a5 5 0 1 0 10 0a5 5 0 1 0-10 0m-6 38h8m-4-4v8m-3-7l6 6m0-6l-6 6m103 8l7-4v8zm-6-10l7-4v8zm-8 1l7-4v8zm22 4l7-4v8zm-11 3l7-4v8zm-25-14l7-4v8zm27 20l7-4v8zm-22-14l7-4v8zm-8 1l7-4v8zm34 1l7-4v8zm-7-3l7-4v8zm1 5l7-4v8zm-15 3l7-4v8zm29-1l7-4v8zm-11 7l7-4v8zm8-8l7-4v8zm4 3l7-4v8zm-10-4l7-4v8zm-125 296h8m-4-4v8m-3-7l6 6m0-6l-6 6m2-6a5 5 0 1 0 10 0a5 5 0 1 0-10 0m0-5a5 5 0 1 0 10 0a5 5 0 1 0-10 0m3-2a5 5 0 1 0 10 0a5 5 0 1 0-10 0m-8 7h8m-4-4v8m-3-7l6 6m0-6l-6 6m6-3l7-4v8zm-5 2h8m-4-4v8m-3-7l6 6m0-6l-6 6m-1-2h8m-4-4v8m-3-7l6 6m0-6l-6 6m4-9a5 5 0 1 0 10 0a5 5 0 1 0-10 0m1-4h8m-4-4v8m-3-7l6 6m0-6l-6 6m-31 80h10v10h-10zm-3 0h10v10h-10zm3 9a5 5 0 1 0 10 0a5 5 0 1 0-10 0m2-4a5 5 0 1 0 10 0a5 5 0 1 0-10 0m-2-5h10v10h-10zm1 1a5 5 0 1 0 10 0a5 5 0 1 0-10 0m0 3h10v10h-10zm1-1a5 5 0 1 0 10 0a5 5 0 1 0-10 0m221-268h8m-4-4v8m-3-7l6 6m0-6l-6 6m11-2l7-4v8zm-5-1h8m-4-4v8m-3-7l6 6m0-6l-6 6m-3-14l8 8m0-8l-8 8m-6-9h8m-4-4v8m-3-7l6 6m0-6l-6 6m4 9h8m-4-4v8m-3-7l6 6m0-6l-6 6m5-16l8 8m0-8l-8 8m0 1l8 8m0-8l-8 8m5-7l7-4v8zm-12-7l8 8m0-8l-8 8m-1-3a5 5 0 1 0 10 0a5 5 0 1 0-10 0m-4-6h8m-4-4v8m-3-7l6 6m0-6l-6 6m7 3h8m-4-4v8m-3-7l6 6m0-6l-6 6m7 4l8 8m0-8l-8 8m0-11l8 8m0-8l-8 8m-14-12l8 8m0-8l-8 8m13-2h8m-4-4v8m-3-7l6 6m0-6l-6 6m-20-10h8m-4-4v8m-3-7l6 6m0-6l-6 6m15-1h8m-4-4v8m-3-7l6 6m0-6l-6 6m-5 0a5 5 0 1 0 10 0a5 5 0 1 0-10 0m-7-7a5 5 0 1 0 10 0a5 5 0 1 0-10 0m10 6h8m-4-4v8m-3-7l6 6m0-6l-6 6m-45-4h8m-4-4v8m-3-7l6 6m0-6l-6 6m2 6h8m-4-4v8m-3-7l6 6m0-6l-6 6m-2 2l8 8m0-8l-8 8m2-11a5 5 0 1 0 10 0a5 5 0 1 0-10 0m3 6l8 8m0-8l-8 8m3-15l8 8m0-8l-8 8m-8-15l8 8m0-8l-8 8m3-6l7-4v8zm-2 7h8m-4-4v8m-3-7l6 6m0-6l-6 6m1-3h8m-4-4v8m-3-7l6 6m0-6l-6 6m-3 6a5 5 0 1 0 10 0a5 5 0 1 0-10 0m-8-18h8m-4-4v8m-3-7l6 6m0-6l-6 6m12 13h8m-4-4v8m-3-7l6 6m0-6l-6 6m-19-15h8m-4-4v8m-3-7l6 6m0-6l-6 6m14-3l7-4v8zm-2 12l7-4v8zm6-7l7-4v8zm-12-3h8m-4-4v8m-3-7l6 6m0-6l-6 6m3 2a5 5 0 1 0 10 0a5 5 0 1 0-10 0m-2-8h8m-4-4v8m-3-7l6 6m0-6l-6 6m8 8h8m-4-4v8m-3-7l6 6m0-6l-6 6m-15-9h8m-4-4v8m-3-7l6 6m0-6l-6 6m-54-177l8 8m0-8l-8 8m10-1h8m-4-4v8m-3-7l6 6m0-6l-6 6m-11-5a5 5 0 1 0 10 0a5 5 0 1 0-10 0m5 6h8m-4-4v8m-3-7l6 6m0-6l-6 6m-12-15a5 5 0 1 0 10 0a5 5 0 1 0-10 0m13 2a5 5 0 1 0 10 0a5 5 0 1 0-10 0m3 19h8m-4-4v8m-3-7l6 6m0-6l-6 6m-3-9l7-4v8zm-6-12a5 5 0 1 0 10 0a5 5 0 1 0-10 0m4 9a5 5 0 1 0 10 0a5 5 0 1 0-10 0m0-3h8m-4-4v8m-3-7l6 6m0-6l-6 6m-1 0a5 5 0 1 0 10 0a5 5 0 1 0-10 0m8 0a5 5 0 1 0 10 0a5 5 0 1 0-10 0m-13-15l8 8m0-8l-8 8m-84 207a5 5 0 1 0 10 0a5 5 0 1 0-10 0m1-12a5 5 0 1 0 10 0a5 5 0 1 0-10 0m-2 7a5 5 0 1 0 10 0a5 5 0 1 0-10 0m5-2a5 5 0 1 0 10 0a5 5 0 1 0-10 0m-290 61h8m-4-4v8m-3-7l6 6m0-6l-6 6m57-239h8m-4-4v8m-3-7l6 6m0-6l-6 6m86 47h8m-4-4v8m-3-7l6 6m0-6l-6 6m112 179h8m-4-4v8m-3-7l6 6m0-6l-6 6m1-11h8m-4-4v8m-3-7l6 6m0-6l-6 6m-3-6l7-4v8zm8 7h8m-4-4v8m-3-7l6 6m0-6l-6 6m-7-7a5 5 0 1 0 10 0a5 5 0 1 0-10 0m-1-1h8m-4-4v8m-3-7l6 6m0-6l-6 6m9-5h8m-4-4v8m-3-7l6 6m0-6l-6 6m-6 6a5 5 0 1 0 10 0a5 5 0 1 0-10 0m0-7a5 5 0 1 0 10 0a5 5 0 1 0-10 0m-1-14h8m-4-4v8m-3-7l6 6m0-6l-6 6m-4 10h8m-4-4v8m-3-7l6 6m0-6l-6 6m-1-1h8m-4-4v8m-3-7l6 6m0-6l-6 6m6-5l7-4v8zm-17-2l7-4v8zm15 1h8m-4-4v8m-3-7l6 6m0-6l-6 6m-10-6h8m-4-4v8m-3-7l6 6m0-6l-6 6m11 2h8m-4-4v8m-3-7l6 6m0-6l-6 6m-17-13h8m-4-4v8m-3-7l6 6m0-6l-6 6m502-159l8 8m0-8l-8 8m9 3l8 8m0-8l-8 8m-14 4h8m-4-4v8m-3-7l6 6m0-6l-6 6m5-19h8m-4-4v8m-3-7l6 6m0-6l-6 6m-13 42l8 8m0-8l-8 8m18-51l8 8m0-8l-8 8m9-38l8 8m0-8l-8 8m-16 46l8 8m0-8l-8 8m0 20l8 8m0-8l-8 8m-7-37l8 8m0-8l-8 8m7-49l8 8m0-8l-8 8m16-21l8 8m0-8l-8 8m-26 63l8 8m0-8l-8 8m24-73l8 8m0-8l-8 8m-8 17l8 8m0-8l-8 8m6-35l8 8m0-8l-8 8m-23 49l8 8m0-8l-8 8m26-80h8m-4-4v8m-3-7l6 6m0-6l-6 6m-18 75l8 8m0-8l-8 8m-8-4h8m-4-4v8m-3-7l6 6m0-6l-6 6m4-33l8 8m0-8l-8 8m3-20l8 8m0-8l-8 8m-3-1l8 8m0-8l-8 8m15-29l8 8m0-8l-8 8m-2 137h8m-4-4v8m-3-7l6 6m0-6l-6 6m-18-26h8m-4-4v8m-3-7l6 6m0-6l-6 6m7 1h8m-4-4v8m-3-7l6 6m0-6l-6 6m-14-7a5 5 0 1 0 10 0a5 5 0 1 0-10 0m20 2h8m-4-4v8m-3-7l6 6m0-6l-6 6m-14-11a5 5 0 1 0 10 0a5 5 0 1 0-10 0m1-5h8m-4-4v8m-3-7l6 6m0-6l-6 6m25 31h8m-4-4v8m-3-7l6 6m0-6l-6 6m-35-41h8m-4-4v8m-3-7l6 6m0-6l-6 6m20 24h8m-4-4v8m-3-7l6 6m0-6l-6 6m-29-33h8m-4-4v8m-3-7l6 6m0-6l-6 6m50 44a5 5 0 1 0 10 0a5 5 0 1 0-10 0m-5-6h8m-4-4v8m-3-7l6 6m0-6l-6 6m-22-23h8m-4-4v8m-3-7l6 6m0-6l-6 6m19 9h8m-4-4v8m-3-7l6 6m0-6l-6 6m-42-35h8m-4-4v8m-3-7l6 6m0-6l-6 6m14 13l7-4v8zm-3-9h8m-4-4v8m-3-7l6 6m0-6l-6 6m7 10h8m-4-4v8m-3-7l6 6m0-6l-6 6m8-5l7-4v8zm-6 13a5 5 0 1 0 10 0a5 5 0 1 0-10 0m-15-17l7-4v8zm-15-17h8m-4-4v8m-3-7l6 6m0-6l-6 6m9 11h8m-4-4v8m-3-7l6 6m0-6l-6 6m-12-9h8m-4-4v8m-3-7l6 6m0-6l-6 6m14 10h8m-4-4v8m-3-7l6 6m0-6l-6 6m12 15h8m-4-4v8m-3-7l6 6m0-6l-6 6m-9-15h8m-4-4v8m-3-7l6 6m0-6l-6 6m35 10l7-4v8zm-39-22h8m-4-4v8m-3-7l6 6m0-6l-6 6m9 15h8m-4-4v8m-3-7l6 6m0-6l-6 6m-25-34h8m-4-4v8m-3-7l6 6m0-6l-6 6m20 18h8m-4-4v8m-3-7l6 6m0-6l-6 6m-12-17l7-4v8zm46 34h8m-4-4v8m-3-7l6 6m0-6l-6 6m-27-30h8m-4-4v8m-3-7l6 6m0-6l-6 6m2 8l8 8m0-8l-8 8m-16-17h8m-4-4v8m-3-7l6 6m0-6l-6 6m-9-11l7-4v8zm33 15h8m-4-4v8m-3-7l6 6m0-6l-6 6m-31-5l7-4v8zm-3-13h8m-4-4v8m-3-7l6 6m0-6l-6 6m44 21h8m-4-4v8m-3-7l6 6m0-6l-6 6m-9 3h8m-4-4v8m-3-7l6 6m0-6l-6 6m-14-22l8 8m0-8l-8 8m-30-27h8m-4-4v8m-3-7l6 6m0-6l-6 6m30 30l7-4v8zm9 2l7-4v8zm-36-31h8m-4-4v8m-3-7l6 6m0-6l-6 6m6 2l7-4v8zm26 29h8m-4-4v8m-3-7l6 6m0-6l-6 6m-9-8h8m-4-4v8m-3-7l6 6m0-6l-6 6m6-6l8 8m0-8l-8 8m-40-39h8m-4-4v8m-3-7l6 6m0-6l-6 6m28 16h8m-4-4v8m-3-7l6 6m0-6l-6 6m9 18a5 5 0 1 0 10 0a5 5 0 1 0-10 0m-19-21a5 5 0 1 0 10 0a5 5 0 1 0-10 0m31 30a5 5 0 1 0 10 0a5 5 0 1 0-10 0m6 9l7-4v8zm2 24l7-4v8zm12 7l7-4v8zm-18-37l7-4v8zm13 29l7-4v8zm-2-10a5 5 0 1 0 10 0a5 5 0 1 0-10 0m4 13l7-4v8zm-12-37l7-4v8zm-3-1l7-4v8zm-4 0l7-4v8zm16-5a5 5 0 1 0 10 0a5 5 0 1 0-10 0m-3 44l7-4v8zm15 0l7-4v8zm-13-8l7-4v8zm1-6l7-4v8zm2 10l7-4v8zm-6-22l7-4v8zm-12-7l7-4v8zm39 1a5 5 0 1 0 10 0a5 5 0 1 0-10 0m-35-35l7-4v8zm115 59l8 8m0-8l-8 8m-72-57h8m-4-4v8m-3-7l6 6m0-6l-6 6m21 68h8m-4-4v8m-3-7l6 6m0-6l-6 6m-61-72a5 5 0 1 0 10 0a5 5 0 1 0-10 0m110 63l8 8m0-8l-8 8m38-23a5 5 0 1 0 10 0a5 5 0 1 0-10 0m-217-72l7-4v8zm185 68a5 5 0 1 0 10 0a5 5 0 1 0-10 0m18 25l8 8m0-8l-8 8m-187-64h8m-4-4v8m-3-7l6 6m0-6l-6 6m79 49l7-4v8zm14-80l7-4v8zm-8 1l7-4v8zm-11 96h8m-4-4v8m-3-7l6 6m0-6l-6 6m3-1a5 5 0 1 0 10 0a5 5 0 1 0-10 0m-12-34l8 8m0-8l-8 8m-11 5l7-4v8zm133-17l7-4v8zm-13-14l8 8m0-8l-8 8m-69 36h8m-4-4v8m-3-7l6 6m0-6l-6 6m-3-10h8m-4-4v8m-3-7l6 6m0-6l-6 6m0 0h8m-4-4v8m-3-7l6 6m0-6l-6 6m-2-9h8m-4-4v8m-3-7l6 6m0-6l-6 6m-2 6h8m-4-4v8m-3-7l6 6m0-6l-6 6m-3-2h8m-4-4v8m-3-7l6 6m0-6l-6 6m4-8h8m-4-4v8m-3-7l6 6m0-6l-6 6m-7-10h8m-4-4v8m-3-7l6 6m0-6l-6 6m5 0h8m-4-4v8m-3-7l6 6m0-6l-6 6m-3-5h8m-4-4v8m-3-7l6 6m0-6l-6 6m-1 6h8m-4-4v8m-3-7l6 6m0-6l-6 6m1-10h8m-4-4v8m-3-7l6 6m0-6l-6 6m-2-5h8m-4-4v8m-3-7l6 6m0-6l-6 6m-2 4h8m-4-4v8m-3-7l6 6m0-6l-6 6m-297-44h8m-4-4v8m-3-7l6 6m0-6l-6 6m17 11l8 8m0-8l-8 8m-20-6l8 8m0-8l-8 8m2 0a5 5 0 1 0 10 0a5 5 0 1 0-10 0m-9-20a5 5 0 1 0 10 0a5 5 0 1 0-10 0m18 21a5 5 0 1 0 10 0a5 5 0 1 0-10 0m-36-33l8 8m0-8l-8 8m4-6l8 8m0-8l-8 8m24-2h8m-4-4v8m-3-7l6 6m0-6l-6 6m-20-4a5 5 0 1 0 10 0a5 5 0 1 0-10 0m25 16l8 8m0-8l-8 8m-20-38l8 8m0-8l-8 8m37 14h8m-4-4v8m-3-7l6 6m0-6l-6 6m-13-3h8m-4-4v8m-3-7l6 6m0-6l-6 6m7 13l8 8m0-8l-8 8m13-8h8m-4-4v8m-3-7l6 6m0-6l-6 6m-59-26l8 8m0-8l-8 8m26 11h8m-4-4v8m-3-7l6 6m0-6l-6 6m-21-25a5 5 0 1 0 10 0a5 5 0 1 0-10 0m5 10a5 5 0 1 0 10 0a5 5 0 1 0-10 0m18 3l8 8m0-8l-8 8m-3-8l8 8m0-8l-8 8m-22-17h8m-4-4v8m-3-7l6 6m0-6l-6 6m50 16a5 5 0 1 0 10 0a5 5 0 1 0-10 0m-26-6h8m-4-4v8m-3-7l6 6m0-6l-6 6m7-6h8m-4-4v8m-3-7l6 6m0-6l-6 6m16 8a5 5 0 1 0 10 0a5 5 0 1 0-10 0m-51-42l8 8m0-8l-8 8m42 29a5 5 0 1 0 10 0a5 5 0 1 0-10 0m-24-9h8m-4-4v8m-3-7l6 6m0-6l-6 6m14 16a5 5 0 1 0 10 0a5 5 0 1 0-10 0m-36-37a5 5 0 1 0 10 0a5 5 0 1 0-10 0m-6 1l8 8m0-8l-8 8m47 1l8 8m0-8l-8 8m-12 6l8 8m0-8l-8 8m8-22a5 5 0 1 0 10 0a5 5 0 1 0-10 0m-22-9a5 5 0 1 0 10 0a5 5 0 1 0-10 0m1 12h8m-4-4v8m-3-7l6 6m0-6l-6 6m37 6a5 5 0 1 0 10 0a5 5 0 1 0-10 0m-43-12h8m-4-4v8m-3-7l6 6m0-6l-6 6m21 30h8m-4-4v8m-3-7l6 6m0-6l-6 6m-2-10l8 8m0-8l-8 8m-25-30l7-4v8zm-1 17a5 5 0 1 0 10 0a5 5 0 1 0-10 0m33-15a5 5 0 1 0 10 0a5 5 0 1 0-10 0m9 11h8m-4-4v8m-3-7l6 6m0-6l-6 6m-23-26l8 8m0-8l-8 8m-8-7a5 5 0 1 0 10 0a5 5 0 1 0-10 0m17 1l8 8m0-8l-8 8m-28 7h8m-4-4v8m-3-7l6 6m0-6l-6 6m11-13l8 8m0-8l-8 8m-19 12h8m-4-4v8m-3-7l6 6m0-6l-6 6m-2-21h8m-4-4v8m-3-7l6 6m0-6l-6 6m47 13h8m-4-4v8m-3-7l6 6m0-6l-6 6m-36-22l8 8m0-8l-8 8m30 12h8m-4-4v8m-3-7l6 6m0-6l-6 6m-56-31h8m-4-4v8m-3-7l6 6m0-6l-6 6m40 9h8m-4-4v8m-3-7l6 6m0-6l-6 6m-5 8a5 5 0 1 0 10 0a5 5 0 1 0-10 0m-26-119h8m-4-4v8m-3-7l6 6m0-6l-6 6m-10-8h8m-4-4v8m-3-7l6 6m0-6l-6 6m-4-21h8m-4-4v8m-3-7l6 6m0-6l-6 6m4 11h8m-4-4v8m-3-7l6 6m0-6l-6 6m1-10h8m-4-4v8m-3-7l6 6m0-6l-6 6m-1-1l7-4v8zm-5 8h8m-4-4v8m-3-7l6 6m0-6l-6 6m0-13l7-4v8zm3 19a5 5 0 1 0 10 0a5 5 0 1 0-10 0m-4-13l7-4v8zm2-12h8m-4-4v8m-3-7l6 6m0-6l-6 6m-5-16h8m-4-4v8m-3-7l6 6m0-6l-6 6m11 14h8m-4-4v8m-3-7l6 6m0-6l-6 6m-9-2h8m-4-4v8m-3-7l6 6m0-6l-6 6m-5 4l7-4v8zm-7-25h8m-4-4v8m-3-7l6 6m0-6l-6 6m2-5l7-4v8zm7 38h8m-4-4v8m-3-7l6 6m0-6l-6 6m-2-17l7-4v8zm-2-2l8 8m0-8l-8 8m-1-12h8m-4-4v8m-3-7l6 6m0-6l-6 6m-4-16a5 5 0 1 0 10 0a5 5 0 1 0-10 0m292 298h8m-4-4v8m-3-7l6 6m0-6l-6 6m4 0h8m-4-4v8m-3-7l6 6m0-6l-6 6m-2 0h8m-4-4v8m-3-7l6 6m0-6l-6 6m-5-9h8m-4-4v8m-3-7l6 6m0-6l-6 6m1-6l7-4v8zm-1 1h8m-4-4v8m-3-7l6 6m0-6l-6 6m5 9h8m-4-4v8m-3-7l6 6m0-6l-6 6m-5-20l8 8m0-8l-8 8m3 4h8m-4-4v8m-3-7l6 6m0-6l-6 6m-5-5h8m-4-4v8m-3-7l6 6m0-6l-6 6m0-1a5 5 0 1 0 10 0a5 5 0 1 0-10 0m-3-5h8m-4-4v8m-3-7l6 6m0-6l-6 6m5 5h8m-4-4v8m-3-7l6 6m0-6l-6 6m-9-12h8m-4-4v8m-3-7l6 6m0-6l-6 6m5 4h8m-4-4v8m-3-7l6 6m0-6l-6 6m-6 1h8m-4-4v8m-3-7l6 6m0-6l-6 6m4-9h8m-4-4v8m-3-7l6 6m0-6l-6 6m3-5h8m-4-4v8m-3-7l6 6m0-6l-6 6m143 50h8m-4-4v8m-3-7l6 6m0-6l-6 6m-35-31l8 8m0-8l-8 8m-12-17h8m-4-4v8m-3-7l6 6m0-6l-6 6m8-2a5 5 0 1 0 10 0a5 5 0 1 0-10 0m-6-8h8m-4-4v8m-3-7l6 6m0-6l-6 6m6 27a5 5 0 1 0 10 0a5 5 0 1 0-10 0m-12-50l8 8m0-8l-8 8m70 60h8m-4-4v8m-3-7l6 6m0-6l-6 6m-80-67l7-4v8zm22 16a5 5 0 1 0 10 0a5 5 0 1 0-10 0m8 47a5 5 0 1 0 10 0a5 5 0 1 0-10 0m7-9a5 5 0 1 0 10 0a5 5 0 1 0-10 0m11 10h8m-4-4v8m-3-7l6 6m0-6l-6 6m42-8l8 8m0-8l-8 8m-61-61l8 8m0-8l-8 8m11 40a5 5 0 1 0 10 0a5 5 0 1 0-10 0m-19-13a5 5 0 1 0 10 0a5 5 0 1 0-10 0m72 29a5 5 0 1 0 10 0a5 5 0 1 0-10 0m-10 1l8 8m0-8l-8 8m-17-31h8m-4-4v8m-3-7l6 6m0-6l-6 6m-63-54l8 8m0-8l-8 8m0-8l8 8m0-8l-8 8m20 38h8m-4-4v8m-3-7l6 6m0-6l-6 6m40 27h8m-4-4v8m-3-7l6 6m0-6l-6 6m-81-80l7-4v8zm13-6l8 8m0-8l-8 8m84 54a5 5 0 1 0 10 0a5 5 0 1 0-10 0m-77-50a5 5 0 1 0 10 0a5 5 0 1 0-10 0m-3 7l8 8m0-8l-8 8m46 38l8 8m0-8l-8 8m-27-32a5 5 0 1 0 10 0a5 5 0 1 0-10 0m-27-16a5 5 0 1 0 10 0a5 5 0 1 0-10 0m45 45l8 8m0-8l-8 8m36-4a5 5 0 1 0 10 0a5 5 0 1 0-10 0m-40-34a5 5 0 1 0 10 0a5 5 0 1 0-10 0m24 30a5 5 0 1 0 10 0a5 5 0 1 0-10 0m-25-11h8m-4-4v8m-3-7l6 6m0-6l-6 6m-7-35h8m-4-4v8m-3-7l6 6m0-6l-6 6m-5-3l8 8m0-8l-8 8m-10-3a5 5 0 1 0 10 0a5 5 0 1 0-10 0m4-1l8 8m0-8l-8 8m-12-22a5 5 0 1 0 10 0a5 5 0 1 0-10 0m20 36a5 5 0 1 0 10 0a5 5 0 1 0-10 0m28 18l8 8m0-8l-8 8m19 2l8 8m0-8l-8 8m-28-14a5 5 0 1 0 10 0a5 5 0 1 0-10 0m-16-28l8 8m0-8l-8 8m-14-30a5 5 0 1 0 10 0a5 5 0 1 0-10 0m-87 27l7-4v8zm1 1l7-4v8zm-1 1l7-4v8zm6 2l7-4v8zm-1 2l7-4v8zm-2-1l7-4v8zm0-5l7-4v8zm-1 1l7-4v8zm-5 1l7-4v8zm1 3l7-4v8zm-138-72l7-4v8zm57 64l7-4v8zm-37-59l7-4v8zm21 15l7-4v8zm-3-8l7-4v8zm-1-4l7-4v8zm-16-5l7-4v8zm4-8l7-4v8zm387 7l8 8m0-8l-8 8m-37 8l8 8m0-8l-8 8m11-6l8 8m0-8l-8 8m-805 121a5 5 0 1 0 10 0a5 5 0 1 0-10 0m-9 15a5 5 0 1 0 10 0a5 5 0 1 0-10 0m2-36h8m-4-4v8m-3-7l6 6m0-6l-6 6m-3-22l7-4v8zm11 46l8 8m0-8l-8 8m-9-29l7-4v8zm2 38h8m-4-4v8m-3-7l6 6m0-6l-6 6m6-37l8 8m0-8l-8 8m2 10a5 5 0 1 0 10 0a5 5 0 1 0-10 0m-4-35l8 8m0-8l-8 8m1 13h8m-4-4v8m-3-7l6 6m0-6l-6 6m-15-30l7-4v8zm4-5a5 5 0 1 0 10 0a5 5 0 1 0-10 0m8 21h8m-4-4v8m-3-7l6 6m0-6l-6 6m2 3l7-4v8zm6 24a5 5 0 1 0 10 0a5 5 0 1 0-10 0m-16-38l7-4v8zm-8-9h8m-4-4v8m-3-7l6 6m0-6l-6 6m19 34h8m-4-4v8m-3-7l6 6m0-6l-6 6m0-4h8m-4-4v8m-3-7l6 6m0-6l-6 6m-36-55a5 5 0 1 0 10 0a5 5 0 1 0-10 0m25 35h8m-4-4v8m-3-7l6 6m0-6l-6 6m1-19l7-4v8zm-7 64h8m-4-4v8m-3-7l6 6m0-6l-6 6m-6-73h8m-4-4v8m-3-7l6 6m0-6l-6 6m2 15h8m-4-4v8m-3-7l6 6m0-6l-6 6m10 3a5 5 0 1 0 10 0a5 5 0 1 0-10 0m-11-12l7-4v8zm-4-10l8 8m0-8l-8 8m16 7h8m-4-4v8m-3-7l6 6m0-6l-6 6m-4 37h8m-4-4v8m-3-7l6 6m0-6l-6 6m5-18a5 5 0 1 0 10 0a5 5 0 1 0-10 0m-13-16a5 5 0 1 0 10 0a5 5 0 1 0-10 0m-3-17h8m-4-4v8m-3-7l6 6m0-6l-6 6m6 22a5 5 0 1 0 10 0a5 5 0 1 0-10 0m13 24a5 5 0 1 0 10 0a5 5 0 1 0-10 0m-14-35a5 5 0 1 0 10 0a5 5 0 1 0-10 0m-2-8h8m-4-4v8m-3-7l6 6m0-6l-6 6m-14-20h8m-4-4v8m-3-7l6 6m0-6l-6 6m30 64h8m-4-4v8m-3-7l6 6m0-6l-6 6m-12-1h8m-4-4v8m-3-7l6 6m0-6l-6 6m10-40l8 8m0-8l-8 8m-10 15h8m-4-4v8m-3-7l6 6m0-6l-6 6m3-2h8m-4-4v8m-3-7l6 6m0-6l-6 6m-7-37h8m-4-4v8m-3-7l6 6m0-6l-6 6m6 33h8m-4-4v8m-3-7l6 6m0-6l-6 6m-7-39h8m-4-4v8m-3-7l6 6m0-6l-6 6m-5-12h8m-4-4v8m-3-7l6 6m0-6l-6 6m1 55a5 5 0 1 0 10 0a5 5 0 1 0-10 0m-11-62l7-4v8zm13 23h8m-4-4v8m-3-7l6 6m0-6l-6 6m2-25l8 8m0-8l-8 8m-9 3h8m-4-4v8m-3-7l6 6m0-6l-6 6m2-3h8m-4-4v8m-3-7l6 6m0-6l-6 6m6 7h8m-4-4v8m-3-7l6 6m0-6l-6 6m-10 26l8 8m0-8l-8 8m-3-64l8 8m0-8l-8 8m6 5h8m-4-4v8m-3-7l6 6m0-6l-6 6m798-699h8m-4-4v8m-3-7l6 6m0-6l-6 6m27-14h8m-4-4v8m-3-7l6 6m0-6l-6 6m-15 7h8m-4-4v8m-3-7l6 6m0-6l-6 6m13-28l7-4v8zm-21 16h8m-4-4v8m-3-7l6 6m0-6l-6 6m4 11h8m-4-4v8m-3-7l6 6m0-6l-6 6m-2 2l7-4v8zm10-49h8m-4-4v8m-3-7l6 6m0-6l-6 6m-13 29a5 5 0 1 0 10 0a5 5 0 1 0-10 0m14-23a5 5 0 1 0 10 0a5 5 0 1 0-10 0m-20 50h8m-4-4v8m-3-7l6 6m0-6l-6 6m10-55h8m-4-4v8m-3-7l6 6m0-6l-6 6m9-3h8m-4-4v8m-3-7l6 6m0-6l-6 6m-14 31l7-4v8zm14-46h8m-4-4v8m-3-7l6 6m0-6l-6 6m-4 12h8m-4-4v8m-3-7l6 6m0-6l-6 6m-11 17h8m-4-4v8m-3-7l6 6m0-6l-6 6m5-25h8m-4-4v8m-3-7l6 6m0-6l-6 6m0 12h8m-4-4v8m-3-7l6 6m0-6l-6 6m-19 24a5 5 0 1 0 10 0a5 5 0 1 0-10 0m20-38a5 5 0 1 0 10 0a5 5 0 1 0-10 0m-5 0l8 8m0-8l-8 8m6 18l8 8m0-8l-8 8m6-45h8m-4-4v8m-3-7l6 6m0-6l-6 6m-6 18l7-4v8zm6-11h8m-4-4v8m-3-7l6 6m0-6l-6 6m0 0l8 8m0-8l-8 8m-5-7h8m-4-4v8m-3-7l6 6m0-6l-6 6m-2-27h8m-4-4v8m-3-7l6 6m0-6l-6 6m-2 34h8m-4-4v8m-3-7l6 6m0-6l-6 6m-5-5a5 5 0 1 0 10 0a5 5 0 1 0-10 0m-6 18h8m-4-4v8m-3-7l6 6m0-6l-6 6m6-38h8m-4-4v8m-3-7l6 6m0-6l-6 6m0 3h8m-4-4v8m-3-7l6 6m0-6l-6 6m-11 10l8 8m0-8l-8 8m15-27h8m-4-4v8m-3-7l6 6m0-6l-6 6m-11-3h8m-4-4v8m-3-7l6 6m0-6l-6 6m-13 29l7-4v8zm14-18l7-4v8zm-1 4h8m-4-4v8m-3-7l6 6m0-6l-6 6m0-3a5 5 0 1 0 10 0a5 5 0 1 0-10 0m3 13h8m-4-4v8m-3-7l6 6m0-6l-6 6m-8-7h8m-4-4v8m-3-7l6 6m0-6l-6 6m11-39h8m-4-4v8m-3-7l6 6m0-6l-6 6m-8 28h8m-4-4v8m-3-7l6 6m0-6l-6 6m-12 17l8 8m0-8l-8 8m6-13l7-4v8zm17-46l7-4v8zm-13 9a5 5 0 1 0 10 0a5 5 0 1 0-10 0m5 0l8 8m0-8l-8 8m-6 23h8m-4-4v8m-3-7l6 6m0-6l-6 6m-4-38l8 8m0-8l-8 8m-3 18h8m-4-4v8m-3-7l6 6m0-6l-6 6m15-25l7-4v8zm-11 21l8 8m0-8l-8 8m9-38h8m-4-4v8m-3-7l6 6m0-6l-6 6m-22 42h8m-4-4v8m-3-7l6 6m0-6l-6 6m5-16h8m-4-4v8m-3-7l6 6m0-6l-6 6m15-37h8m-4-4v8m-3-7l6 6m0-6l-6 6m-17 36a5 5 0 1 0 10 0a5 5 0 1 0-10 0m0 6h8m-4-4v8m-3-7l6 6m0-6l-6 6m15-59l8 8m0-8l-8 8m-20 47a5 5 0 1 0 10 0a5 5 0 1 0-10 0m13-37h8m-4-4v8m-3-7l6 6m0-6l-6 6m4 15a5 5 0 1 0 10 0a5 5 0 1 0-10 0m-3-1a5 5 0 1 0 10 0a5 5 0 1 0-10 0m49-15l8 8m0-8l-8 8m-18-7h8m-4-4v8m-3-7l6 6m0-6l-6 6m21-1h8m-4-4v8m-3-7l6 6m0-6l-6 6m-24-5h8m-4-4v8m-3-7l6 6m0-6l-6 6m3-4a5 5 0 1 0 10 0a5 5 0 1 0-10 0m14 3a5 5 0 1 0 10 0a5 5 0 1 0-10 0m-14-3h8m-4-4v8m-3-7l6 6m0-6l-6 6m-6-4h8m-4-4v8m-3-7l6 6m0-6l-6 6m12 1a5 5 0 1 0 10 0a5 5 0 1 0-10 0m-9-3h8m-4-4v8m-3-7l6 6m0-6l-6 6m0-4h8m-4-4v8m-3-7l6 6m0-6l-6 6m-2-1h8m-4-4v8m-3-7l6 6m0-6l-6 6m15-2h8m-4-4v8m-3-7l6 6m0-6l-6 6m-18-6a5 5 0 1 0 10 0a5 5 0 1 0-10 0m2 0h8m-4-4v8m-3-7l6 6m0-6l-6 6m3 0h8m-4-4v8m-3-7l6 6m0-6l-6 6m1-4h8m-4-4v8m-3-7l6 6m0-6l-6 6m-24 27a5 5 0 1 0 10 0a5 5 0 1 0-10 0m17-6h8m-4-4v8m-3-7l6 6m0-6l-6 6m-3 3h8m-4-4v8m-3-7l6 6m0-6l-6 6m3-5a5 5 0 1 0 10 0a5 5 0 1 0-10 0m-12-6a5 5 0 1 0 10 0a5 5 0 1 0-10 0m-12 7a5 5 0 1 0 10 0a5 5 0 1 0-10 0m19-2h8m-4-4v8m-3-7l6 6m0-6l-6 6m-20-6a5 5 0 1 0 10 0a5 5 0 1 0-10 0m28-5h8m-4-4v8m-3-7l6 6m0-6l-6 6m-8 8a5 5 0 1 0 10 0a5 5 0 1 0-10 0m-5-8h8m-4-4v8m-3-7l6 6m0-6l-6 6m-20 1a5 5 0 1 0 10 0a5 5 0 1 0-10 0m28-5h8m-4-4v8m-3-7l6 6m0-6l-6 6m-29 15a5 5 0 1 0 10 0a5 5 0 1 0-10 0m14-6a5 5 0 1 0 10 0a5 5 0 1 0-10 0m14-5a5 5 0 1 0 10 0a5 5 0 1 0-10 0m-7-11a5 5 0 1 0 10 0a5 5 0 1 0-10 0m-18 17a5 5 0 1 0 10 0a5 5 0 1 0-10 0m-28 1h8m-4-4v8m-3-7l6 6m0-6l-6 6m8 2h8m-4-4v8m-3-7l6 6m0-6l-6 6m-11-3h8m-4-4v8m-3-7l6 6m0-6l-6 6m2-10l8 8m0-8l-8 8m-4-1l8 8m0-8l-8 8m-4-2h8m-4-4v8m-3-7l6 6m0-6l-6 6m-3-2l7-4v8zm16 1l7-4v8zm-3-6h8m-4-4v8m-3-7l6 6m0-6l-6 6m-1-2a5 5 0 1 0 10 0a5 5 0 1 0-10 0m-17 4h8m-4-4v8m-3-7l6 6m0-6l-6 6m5-7h8m-4-4v8m-3-7l6 6m0-6l-6 6m-6 0h8m-4-4v8m-3-7l6 6m0-6l-6 6m8-13l7-4v8zm-11 10h8m-4-4v8m-3-7l6 6m0-6l-6 6m8-10h8m-4-4v8m-3-7l6 6m0-6l-6 6m9 1h8m-4-4v8m-3-7l6 6m0-6l-6 6m-3-8h8m-4-4v8m-3-7l6 6m0-6l-6 6m-6-4l7-4v8zm-2 15h8m-4-4v8m-3-7l6 6m0-6l-6 6m2-7h8m-4-4v8m-3-7l6 6m0-6l-6 6m7-8h8m-4-4v8m-3-7l6 6m0-6l-6 6m-14-10h8m-4-4v8m-3-7l6 6m0-6l-6 6m2-1h8m-4-4v8m-3-7l6 6m0-6l-6 6m-2-6h8m-4-4v8m-3-7l6 6m0-6l-6 6m6 3h8m-4-4v8m-3-7l6 6m0-6l-6 6m-10-2h8m-4-4v8m-3-7l6 6m0-6l-6 6m4 0h8m-4-4v8m-3-7l6 6m0-6l-6 6m5-9h8m-4-4v8m-3-7l6 6m0-6l-6 6m-10-1l7-4v8zm4 14l7-4v8zm-12-17h8m-4-4v8m-3-7l6 6m0-6l-6 6m10 1l8 8m0-8l-8 8m-4-17l8 8m0-8l-8 8m-5 1h8m-4-4v8m-3-7l6 6m0-6l-6 6m-3 4a5 5 0 1 0 10 0a5 5 0 1 0-10 0m14 1a5 5 0 1 0 10 0a5 5 0 1 0-10 0m-1-8h8m-4-4v8m-3-7l6 6m0-6l-6 6"/><use href="#b7" x="2923" y="1050"/><use href="#b3" x="2925" y="1210"/><use href="#b4" x="2990" y="1085"/><use href="#b1" x="2918" y="1118"/><use href="#b0" x="2936" y="1076"/><use href="#b6" x="3000" y="1114"/><use href="#b6" x="3080" y="1134"/><use href="#b4" x="2952" y="1070"/><use href="#b1" x="3134" y="1141"/><use href="#b6" x="3088" y="1093"/><use href="#b0" x="3001" y="1076"/><use href="#b6" x="3029" y="1093"/><use href="#b2" x="2979" y="1169"/><use href="#b0" x="2990" y="1131"/><use href="#b1" x="2893" y="1199"/><use href="#b4" x="2972" y="1056"/><use href="#b1" x="3067" y="1116"/><use href="#b0" x="2975" y="1074"/><use href="#b7" x="2996" y="1086"/><use href="#b3" x="2937" y="1094"/><use href="#b5" x="2934" y="1107"/><use href="#b5" x="2931" y="1106"/><use href="#b0" x="3091" y="1111"/><use href="#b1" x="2948" y="1171"/><use href="#b0" x="2959" y="1093"/><use href="#b7" x="2934" y="1107"/><use href="#b7" x="2927" y="1125"/><use href="#b5" x="2945" y="1133"/><use href="#b3" x="2893" y="1066"/><use href="#b3" x="2927" y="1213"/><use href="#b7" x="3110" y="1124"/><use href="#b0" x="2874" y="1070"/><use href="#b4" x="3106" y="1187"/><use href="#b5" x="2984" y="1146"/><use href="#b4" x="3099" y="1176"/><use href="#b1" x="3033" y="1099"/><use href="#b2" x="2913" y="1113"/><use href="#b1" x="3129" y="1170"/><use href="#b0" x="3059" y="1148"/><use href="#b5" x="3033" y="1157"/><use href="#b2" x="3012" y="1113"/><use href="#b4" x="2951" y="1061"/><use href="#b5" x="2932" y="1126"/><use href="#b4" x="3035" y="1155"/><use href="#b6" x="3138" y="1182"/><use href="#b1" x="2948" y="1202"/><use href="#b4" x="2968" y="1061"/><use href="#b0" x="2933" y="1214"/><use href="#b7" x="2906" y="1211"/><use href="#b4" x="2943" y="1081"/><use href="#b6" x="2973" y="1042"/><use href="#b3" x="3044" y="1113"/><use href="#b1" x="3119" y="1192"/><use href="#b7" x="3018" y="1148"/><use href="#b6" x="2885" y="1069"/><use href="#b2" x="3098" y="1191"/><use href="#b0" x="2908" y="1107"/><use href="#b0" x="3043" y="1143"/><use href="#b7" x="2986" y="1143"/><use href="#b4" x="2948" y="1096"/><use href="#b1" x="3105" y="1126"/><use href="#b7" x="2995" y="1175"/><use href="#b3" x="3104" y="1147"/><use href="#b4" x="2956" y="1122"/><use href="#b5" x="3080" y="1161"/><use href="#b3" x="3096" y="1175"/><use href="#b7" x="2936" y="1157"/><use href="#b1" x="2900" y="1053"/><use href="#b1" x="2895" y="1113"/><use href="#b3" x="3045" y="1119"/><use href="#b3" x="2881" y="1060"/><use href="#b4" x="2949" y="1137"/><use href="#b7" x="3004" y="1078"/><use href="#b5" x="3103" y="1126"/><use href="#b3" x="2884" y="1100"/><use href="#b0" x="2968" y="1091"/><use href="#b3" x="2921" y="1047"/><use href="#b1" x="2974" y="1181"/><use href="#b7" x="3105" y="1177"/><use href="#b0" x="2959" y="1043"/><use href="#b7" x="2953" y="1167"/><use href="#b7" x="3046" y="1064"/><use href="#b4" x="3142" y="1187"/><use href="#b0" x="3006" y="1062"/><use href="#b4" x="2962" y="1039"/><use href="#b3" x="2957" y="1085"/><use href="#b5" x="3035" y="1111"/><use href="#b3" x="3095" y="1169"/><use href="#b0" x="2998" y="1094"/><use href="#b3" x="2882" y="1113"/><use href="#b5" x="3075" y="1089"/><use href="#b3" x="3018" y="1165"/><use href="#b3" x="3054" y="1142"/><use href="#b4" x="2879" y="1200"/><use href="#b7" x="3019" y="1108"/><use href="#b2" x="2912" y="1067"/><use href="#b3" x="2981" y="1124"/><use href="#b3" x="2928" y="1106"/><use href="#b7" x="2883" y="1144"/><use href="#b4" x="3054" y="1078"/><use href="#b4" x="3139" y="1145"/><use href="#b1" x="2880" y="1061"/><use href="#b6" x="3057" y="1129"/><use href="#b7" x="2880" y="1160"/><use href="#b7" x="2940" y="1058"/><use href="#b2" x="3005" y="1124"/><use href="#b2" x="2954" y="1165"/><use href="#b3" x="2980" y="1080"/><use href="#b2" x="3021" y="1105"/><use href="#b4" x="3080" y="1109"/><use href="#b0" x="2911" y="1178"/><use href="#b2" x="2946" y="1110"/><use href="#b3" x="3100" y="1105"/><use href="#b7" x="2906" y="1114"/><use href="#b3" x="2898" y="1137"/><use href="#b4" x="3110" y="1144"/><use href="#b0" x="2898" y="1085"/><use href="#b3" x="2979" y="1043"/><use href="#b2" x="2962" y="1047"/><use href="#b6" x="2898" y="1111"/><use href="#b6" x="3044" y="1126"/><use href="#b0" x="2917" y="1062"/><use href="#b4" x="2931" y="1102"/><use href="#b1" x="2949" y="1078"/><use href="#b2" x="2922" y="1147"/><use href="#b7" x="2972" y="1152"/><use href="#b4" x="2917" y="1099"/><use href="#b6" x="2922" y="1189"/><use href="#b1" x="2945" y="1092"/><use href="#b3" x="2900" y="1140"/><use href="#b6" x="2945" y="1162"/><use href="#b5" x="2982" y="1147"/><use href="#b3" x="2937" y="1193"/><use href="#b3" x="2919" y="1138"/><use href="#b3" x="2956" y="1112"/><use href="#b6" x="2909" y="1175"/><use href="#b3" x="2896" y="1114"/><use href="#b6" x="2920" y="1167"/><use href="#b6" x="3073" y="1182"/><use href="#b5" x="3022" y="1148"/><use href="#b4" x="2890" y="1119"/><use href="#b6" x="3081" y="1145"/><use href="#b3" x="3114" y="1117"/><use href="#b4" x="2962" y="1083"/><use href="#b4" x="3093" y="1089"/><use href="#b1" x="3106" y="1178"/><use href="#b3" x="2915" y="1063"/><use href="#b4" x="3127" y="1140"/><use href="#b3" x="2949" y="1111"/><use href="#b0" x="3094" y="1117"/><use href="#b0" x="3090" y="1184"/><use href="#b5" x="2946" y="1072"/><use href="#b1" x="3083" y="1100"/><use href="#b1" x="2932" y="1059"/><use href="#b0" x="2878" y="1180"/><use href="#b2" x="2943" y="1102"/><use href="#b4" x="3009" y="1143"/><use href="#b7" x="2896" y="1063"/><use href="#b1" x="2982" y="1151"/><use href="#b7" x="3036" y="1069"/><use href="#b5" x="2992" y="1057"/><use href="#b1" x="3123" y="1131"/><use href="#b3" x="3010" y="1106"/><use href="#b5" x="2908" y="1109"/><use href="#b1" x="2888" y="1093"/><use href="#b5" x="2940" y="1212"/><use href="#b0" x="3104" y="1150"/><use href="#b2" x="3028" y="1131"/><use href="#b3" x="2883" y="1090"/><use href="#b7" x="3020" y="1080"/><use href="#b0" x="2905" y="1215"/><use href="#b4" x="2993" y="1167"/><use href="#b2" x="2983" y="1053"/><use href="#b0" x="2985" y="1161"/><use href="#b7" x="2990" y="1169"/><use href="#b1" x="2915" y="1102"/><use href="#b1" x="3102" y="1192"/><use href="#b0" x="2949" y="1050"/><use href="#b4" x="2964" y="1114"/><use href="#b1" x="3011" y="1100"/><use href="#b0" x="2987" y="1075"/><use href="#b1" x="2926" y="1120"/><use href="#b4" x="2957" y="1175"/><use href="#b3" x="2927" y="1056"/><use href="#b1" x="2899" y="1105"/><use href="#b3" x="2939" y="1081"/><use href="#b4" x="2982" y="1072"/><use href="#b5" x="3089" y="1125"/><use href="#b6" x="3050" y="1116"/><use href="#b7" x="2928" y="1062"/><use href="#b3" x="2911" y="1108"/><use href="#b1" x="2990" y="1079"/><use href="#b7" x="2994" y="1048"/><use href="#b0" x="3036" y="1145"/><use href="#b4" x="2988" y="1140"/><use href="#b2" x="2973" y="1174"/><use href="#b1" x="2882" y="1163"/><use href="#b4" x="2915" y="1089"/><use href="#b0" x="3107" y="1179"/><use href="#b5" x="2988" y="1173"/><use href="#b3" x="2916" y="1148"/><use href="#b0" x="3124" y="1133"/><use href="#b5" x="2935" y="1069"/><use href="#b2" x="2945" y="1140"/><use href="#b3" x="3000" y="1159"/><use href="#b5" x="3063" y="1077"/><use href="#b5" x="2951" y="1110"/><use href="#b1" x="2917" y="1210"/><use href="#b0" x="3102" y="1091"/><use href="#b6" x="2894" y="1202"/><use href="#b3" x="2920" y="1081"/><use href="#b5" x="2885" y="1125"/><use href="#b4" x="3017" y="1079"/><use href="#b2" x="2910" y="1085"/><use href="#b7" x="2922" y="1114"/><use href="#b2" x="2994" y="1101"/><use href="#b0" x="3036" y="1059"/><use href="#b5" x="3014" y="1135"/><use href="#b4" x="3014" y="1084"/><use href="#b6" x="2978" y="1097"/><use href="#b2" x="2997" y="1101"/><use href="#b6" x="2882" y="1062"/><use href="#b2" x="2937" y="1139"/><use href="#b5" x="3055" y="1108"/><use href="#b2" x="3020" y="1080"/><use href="#b5" x="2904" y="1126"/><use href="#b1" x="3068" y="1107"/><use href="#b2" x="3064" y="1169"/><use href="#b3" x="3105" y="1135"/><use href="#b0" x="2959" y="1086"/><use href="#b5" x="2943" y="1056"/><use href="#b6" x="3051" y="1077"/><use href="#b3" x="2987" y="1115"/><use href="#b1" x="3030" y="1116"/><use href="#b5" x="3003" y="1120"/><use href="#b2" x="3020" y="1142"/><use href="#b5" x="3106" y="1179"/><use href="#b7" x="2968" y="1076"/><use href="#b1" x="3091" y="1134"/><use href="#b4" x="2940" y="1082"/><use href="#b4" x="2905" y="1144"/><use href="#b2" x="3028" y="1054"/><use href="#b1" x="3029" y="1059"/><use href="#b3" x="2934" y="1157"/><use href="#b1" x="2992" y="1062"/><use href="#b7" x="2898" y="1050"/><use href="#b6" x="2905" y="1176"/><use href="#b3" x="3069" y="1111"/><use href="#b0" x="3149" y="1179"/><use href="#b1" x="3020" y="1145"/><use href="#b1" x="2974" y="1117"/><use href="#b0" x="3080" y="1094"/><use href="#b1" x="2989" y="1077"/><use href="#b2" x="3107" y="1152"/><use href="#b6" x="3093" y="1112"/><use href="#b5" x="2947" y="1107"/><use href="#b0" x="2959" y="1100"/><use href="#b7" x="2965" y="1139"/><use href="#b6" x="2953" y="1157"/><use href="#b6" x="3089" y="1102"/><use href="#b4" x="3074" y="1092"/><use href="#b1" x="2894" y="1137"/><use href="#b7" x="2931" y="1158"/><use href="#b3" x="3129" y="1186"/><use href="#b7" x="3027" y="1088"/><use href="#b0" x="3112" y="1112"/><use href="#b4" x="2959" y="1099"/><use href="#b6" x="3125" y="1161"/><use href="#b1" x="3096" y="1154"/><use href="#b2" x="2951" y="1204"/><use href="#b1" x="2898" y="1115"/><use href="#b7" x="3127" y="1139"/><use href="#b0" x="3087" y="1094"/><use href="#b2" x="2986" y="1108"/><use href="#b7" x="3091" y="1163"/><use href="#b1" x="3064" y="1099"/><use href="#b0" x="2904" y="1090"/><use href="#b2" x="3150" y="1160"/><use href="#b2" x="3040" y="1141"/><use href="#b6" x="3023" y="1124"/><use href="#b5" x="3112" y="1124"/><use href="#b2" x="2922" y="1048"/><use href="#b5" x="3037" y="1063"/><use href="#b3" x="2985" y="1159"/><use href="#b5" x="3124" y="1175"/><use href="#b5" x="3021" y="1140"/><use href="#b4" x="2975" y="1057"/><use href="#b1" x="3089" y="1124"/><use href="#b7" x="3076" y="1145"/><use href="#b0" x="3070" y="1186"/><use href="#b6" x="2942" y="1108"/><use href="#b5" x="2881" y="1203"/><use href="#b5" x="2958" y="1152"/><use href="#b0" x="2888" y="1146"/><use href="#b2" x="2890" y="1116"/><use href="#b1" x="2912" y="1131"/><use href="#b1" x="2994" y="1053"/><use href="#b3" x="2976" y="1145"/><use href="#b4" x="2940" y="1099"/><use href="#b3" x="2916" y="1172"/></g><g stroke="#0000ff"><path d="M2214 533h8m-4-4v8m-3-7l6 6m0-6l-6 6m0-6h8m-4-4v8m-3-7l6 6m0-6l-6 6m-1 22h8m-4-4v8m-3-7l6 6m0-6l-6 6m-2-19h8m-4-4v8m-3-7l6 6m0-6l-6 6m-2-6l8 8m0-8l-8 8m-3-9l8 8m0-8l-8 8m-1 10h8m-4-4v8m-3-7l6 6m0-6l-6 6m3-26l8 8m0-8l-8 8m-2 18h8m-4-4v8m-3-7l6 6m0-6l-6 6m2-32h8m-4-4v8m-3-7l6 6m0-6l-6 6m-9 14h8m-4-4v8m-3-7l6 6m0-6l-6 6m0-21h8m-4-4v8m-3-7l6 6m0-6l-6 6m4 8h8m-4-4v8m-3-7l6 6m0-6l-6 6m-3 1h8m-4-4v8m-3-7l6 6m0-6l-6 6m2 12h8m-4-4v8m-3-7l6 6m0-6l-6 6m-6-33l8 8m0-8l-8 8m3 21h8m-4-4v8m-3-7l6 6m0-6l-6 6m-3-28h8m-4-4v8m-3-7l6 6m0-6l-6 6m-1 20h8m-4-4v8m-3-7l6 6m0-6l-6 6m0-15h8m-4-4v8m-3-7l6 6m0-6l-6 6m0 9l8 8m0-8l-8 8m4-12h8m-4-4v8m-3-7l6 6m0-6l-6 6m0-2h8m-4-4v8m-3-7l6 6m0-6l-6 6m-12 1l8 8m0-8l-8 8m13-12l8 8m0-8l-8 8m-10-14h8m-4-4v8m-3-7l6 6m0-6l-6 6m4-14h8m-4-4v8m-3-7l6 6m0-6l-6 6m0 51h8m-4-4v8m-3-7l6 6m0-6l-6 6m190 33h8m-4-4v8m-3-7l6 6m0-6l-6 6m-279 89h8m-4-4v8m-3-7l6 6m0-6l-6 6m57-36h8m-4-4v8m-3-7l6 6m0-6l-6 6m-15-5l8 8m0-8l-8 8m1-19l8 8m0-8l-8 8m33 9l-7-4v8zm6-20a5 5 0 1 0 10 0a5 5 0 1 0-10 0m-19-3h8m-4-4v8m-12 6a5 5 0 1 0 10 0a5 5 0 1 0-10 0m-21 19h8m-4-4v8m20-22h8m-4-4v8m-3-7l6 6m0-6l-6 6m-5-9h8m-4-4v8m13 1a5 5 0 1 0 10 0a5 5 0 1 0-10 0m-7-2a5 5 0 1 0 10 0a5 5 0 1 0-10 0m-15 0h8m-4-4v8m-3-7l6 6m0-6l-6 6m19 3h8m-4-4v8m-3-7l6 6m0-6l-6 6m-5-10a5 5 0 1 0 10 0a5 5 0 1 0-10 0m-33 16h8m-4-4v8m-3-7l6 6m0-6l-6 6m37-7h8m-4-4v8m-18-10l8 8m0-8l-8 8m-15-1h8m-4-4v8m-4-1h8m-4-4v8m-3-7l6 6m0-6l-6 6m25-18l-7-4v8zm-37 12h8m-4-4v8m39-6l8 8m0-8l-8 8m-40-17l8 8m0-8l-8 8m11-2h8m-4-4v8m-3-7l6 6m0-6l-6 6m23-16l8 8m0-8l-8 8m-27 13h8m-4-4v8m-3-7l6 6m0-6l-6 6m6-26h8m-4-4v8m-3-7l6 6m0-6l-6 6m-7 0a5 5 0 1 0 10 0a5 5 0 1 0-10 0m-9 10h8m-4-4v8m-3-7l6 6m0-6l-6 6m34-3l8 8m0-8l-8 8m-10 0a5 5 0 1 0 10 0a5 5 0 1 0-10 0m5-22h8m-4-4v8m-22 6l8 8m0-8l-8 8m15-12h8m-4-4v8m-3-7l6 6m0-6l-6 6m-17 3l8 8m0-8l-8 8m1-16h8m-4-4v8m-3 1h8m-4-4v8m-5 2l8 8m0-8l-8 8m31-6h8m-4-4v8m-3-7l6 6m0-6l-6 6m-4-22l8 8m0-8l-8 8m-42-2l8 8m0-8l-8 8m44 7h8m-4-4v8m-3-7l6 6m0-6l-6 6m-26-9h8m-4-4v8m-3-7l6 6m0-6l-6 6m12 1h8m-4-4v8m-3-14h8m-4-4v8m-3-7l6 6m0-6l-6 6m-3 7h8m-4-4v8m-3-7l6 6m0-6l-6 6m14-9h8m-4-4v8m-3-7l6 6m0-6l-6 6m-21-12h8m-4-4v8m-3-7l6 6m0-6l-6 6m-27 0l8 8m0-8l-8 8m28-4h8m-4-4v8m-22-4a5 5 0 1 0 10 0a5 5 0 1 0-10 0m10-11a5 5 0 1 0 10 0a5 5 0 1 0-10 0m-21 6l8 8m0-8l-8 8m1 15h8m-4-4v8m-3-7l6 6m0-6l-6 6m35-15h8m-4-4v8m-3-7l6 6m0-6l-6 6m-5-1a5 5 0 1 0 10 0a5 5 0 1 0-10 0m-18-2l8 8m0-8l-8 8m16-13l8 8m0-8l-8 8m-22-4h8m-4-4v8m-3-7l6 6m0-6l-6 6m8-9l8 8m0-8l-8 8m23 3h8m-4-4v8m-3-7l6 6m0-6l-6 6m-13 17h8m-4-4v8m-3-7l6 6m0-6l-6 6m-17 0h8m-4-4v8m-3-7l6 6m0-6l-6 6m30 1h8m-4-4v8m-3-7l6 6m0-6l-6 6m-29-3h8m-4-4v8m6 8h8m-4-4v8m-3-7l6 6m0-6l-6 6m-10-22h8m-4-4v8m-3-7l6 6m0-6l-6 6m5 7h8m-4-4v8m-3-7l6 6m0-6l-6 6m-21-8h8m-4-4v8m-3-7l6 6m0-6l-6 6m17-5h8m-4-4v8m-3-7l6 6m0-6l-6 6m14 4h8m-4-4v8m-34-15h8m-4-4v8m-3-7l6 6m0-6l-6 6m27 5h8m-4-4v8m-11-3h8m-4-4v8m-3-7l6 6m0-6l-6 6m-6-13h8m-4-4v8m-13 3h8m-4-4v8m-3-7l6 6m0-6l-6 6m2 6h8m-4-4v8m-3-7l6 6m0-6l-6 6m20-4h8m-4-4v8m-3-7l6 6m0-6l-6 6m-10-5h8m-4-4v8m-3-7l6 6m0-6l-6 6m4-2h8m-4-4v8m-10-2h8m-4-4v8m-3-7l6 6m0-6l-6 6m-28-9h8m-4-4v8m-5-9h8m-4-4v8m33 3h8m-4-4v8m-3-7l6 6m0-6l-6 6m-3-3h8m-4-4v8m-24-3h8m-4-4v8m-3-7l6 6m0-6l-6 6m11-11h8m-4-4v8m11-3h8m-4-4v8m-3-7l6 6m0-6l-6 6m-29-7h8m-4-4v8m-3-7l6 6m0-6l-6 6m3-1l8 8m0-8l-8 8m8-3h8m-4-4v8m-3-7l6 6m0-6l-6 6m12 2h8m-4-4v8m-27-13h8m-4-4v8m-3-7l6 6m0-6l-6 6m12 10h8m-4-4v8m-3-7l6 6m0-6l-6 6m-24-23h8m-4-4v8m17 0h8m-4-4v8m-3-7l6 6m0-6l-6 6m-6-6h8m-4-4v8m-3-7l6 6m0-6l-6 6m-4 6l8 8m0-8l-8 8m-8-10h8m-4-4v8m-3-7l6 6m0-6l-6 6m12-6l8 8m0-8l-8 8m-148 37h8m-4-4v8m-3-7l6 6m0-6l-6 6m4 4h8m-4-4v8m-3-7l6 6m0-6l-6 6m-6-2h8m-4-4v8m-3-7l6 6m0-6l-6 6m8-10h8m-4-4v8m-3-7l6 6m0-6l-6 6m-6 3h8m-4-4v8m-3-7l6 6m0-6l-6 6m-10-12h8m-4-4v8m-3-7l6 6m0-6l-6 6m7 11h8m-4-4v8m-3-7l6 6m0-6l-6 6m-12-10a5 5 0 1 0 10 0a5 5 0 1 0-10 0m8-8h8m-4-4v8m-3-7l6 6m0-6l-6 6m-9 1h8m-4-4v8m-3-7l6 6m0-6l-6 6m11-6h8m-4-4v8m-3-7l6 6m0-6l-6 6m-1-2h8m-4-4v8m-3-7l6 6m0-6l-6 6m-7 8h8m-4-4v8m-3-7l6 6m0-6l-6 6m-1-9h8m-4-4v8m-3-7l6 6m0-6l-6 6m7-3h8m-4-4v8m-3-7l6 6m0-6l-6 6m-13-4h8m-4-4v8m-3-7l6 6m0-6l-6 6m7-9h8m-4-4v8m-3-7l6 6m0-6l-6 6m-3 12h8m-4-4v8m-3-7l6 6m0-6l-6 6m-5-13h8m-4-4v8m-3-7l6 6m0-6l-6 6m3 2a5 5 0 1 0 10 0a5 5 0 1 0-10 0m-4 2h8m-4-4v8m-3-7l6 6m0-6l-6 6m-2-10h8m-4-4v8m-3-7l6 6m0-6l-6 6m0-3a5 5 0 1 0 10 0a5 5 0 1 0-10 0m8 6h8m-4-4v8m-3-7l6 6m0-6l-6 6m-4-1h8m-4-4v8m-3-7l6 6m0-6l-6 6m-5-11h8m-4-4v8m-3-7l6 6m0-6l-6 6m-2-4h8m-4-4v8m-3-7l6 6m0-6l-6 6m2-12h8m-4-4v8m-3-7l6 6m0-6l-6 6m0 11a5 5 0 1 0 10 0a5 5 0 1 0-10 0m-8-2a5 5 0 1 0 10 0a5 5 0 1 0-10 0m10-4a5 5 0 1 0 10 0a5 5 0 1 0-10 0m4-1h8m-4-4v8m-3-7l6 6m0-6l-6 6m-2-5h8m-4-4v8m-3-7l6 6m0-6l-6 6m-8 3h8m-4-4v8m-3-7l6 6m0-6l-6 6m0-8h8m-4-4v8m-3-7l6 6m0-6l-6 6m-3-5h8m-4-4v8m-3-7l6 6m0-6l-6 6m-5 4h8m-4-4v8m-3-7l6 6m0-6l-6 6m6-9h8m-4-4v8m-3-7l6 6m0-6l-6 6m3-4h8m-4-4v8m-3-7l6 6m0-6l-6 6m5 5h8m-4-4v8m-3-7l6 6m0-6l-6 6m-15 0h8m-4-4v8m-3-7l6 6m0-6l-6 6m-3-3h8m-4-4v8m-3-7l6 6m0-6l-6 6m9-10h8m-4-4v8m-3-7l6 6m0-6l-6 6m368-90l8 8m0-8l-8 8m-36 0a5 5 0 1 0 10 0a5 5 0 1 0-10 0m-9 8a5 5 0 1 0 10 0a5 5 0 1 0-10 0m39-12h8m-4-4v8m-3-7l6 6m0-6l-6 6m-5 4a5 5 0 1 0 10 0a5 5 0 1 0-10 0m-31-2l8 8m0-8l-8 8m44-16h8m-4-4v8m-3-7l6 6m0-6l-6 6m-26 5h8m-4-4v8m-3-7l6 6m0-6l-6 6m-24-2l8 8m0-8l-8 8m14-11h8m-4-4v8m-3-7l6 6m0-6l-6 6m-4-1l8 8m0-8l-8 8m4-8a5 5 0 1 0 10 0a5 5 0 1 0-10 0m4-5h8m-4-4v8m-3-7l6 6m0-6l-6 6m25-3l8 8m0-8l-8 8m-40-2h8m-4-4v8m-3-7l6 6m0-6l-6 6m37-9l8 8m0-8l-8 8m-18-5h8m-4-4v8m-3-7l6 6m0-6l-6 6m-7-2h8m-4-4v8m-3-7l6 6m0-6l-6 6m-13-3a5 5 0 1 0 10 0a5 5 0 1 0-10 0m18 1a5 5 0 1 0 10 0a5 5 0 1 0-10 0m-15-4h8m-4-4v8m-3-7l6 6m0-6l-6 6m-6-4h8m-4-4v8m-3-7l6 6m0-6l-6 6m19 3l8 8m0-8l-8 8m-3-14h8m-4-4v8m-3-7l6 6m0-6l-6 6m3 5h8m-4-4v8m-3-7l6 6m0-6l-6 6m-26 1h8m-4-4v8m-3-7l6 6m0-6l-6 6m3-7h8m-4-4v8m-3-7l6 6m0-6l-6 6m27-7h8m-4-4v8m-3-7l6 6m0-6l-6 6m-9-3a5 5 0 1 0 10 0a5 5 0 1 0-10 0m-9 5a5 5 0 1 0 10 0a5 5 0 1 0-10 0m14-4h8m-4-4v8m-3-7l6 6m0-6l-6 6m-8-4h8m-4-4v8m-3-7l6 6m0-6l-6 6m-4 0h8m-4-4v8m-3-7l6 6m0-6l-6 6m23-5h8m-4-4v8m-3-7l6 6m0-6l-6 6m-2-5h8m-4-4v8m-3-7l6 6m0-6l-6 6m-42 3h8m-4-4v8m-3-7l6 6m0-6l-6 6m0-10a5 5 0 1 0 10 0a5 5 0 1 0-10 0m28 6h8m-4-4v8m-3-7l6 6m0-6l-6 6m-20-3h8m-4-4v8m-3-7l6 6m0-6l-6 6m23-4h8m-4-4v8m-3-7l6 6m0-6l-6 6m1-12l8 8m0-8l-8 8m-14-3a5 5 0 1 0 10 0a5 5 0 1 0-10 0m27 5a5 5 0 1 0 10 0a5 5 0 1 0-10 0m-29-3h8m-4-4v8m-3-7l6 6m0-6l-6 6m32-3a5 5 0 1 0 10 0a5 5 0 1 0-10 0m-51-1h8m-4-4v8m-3-7l6 6m0-6l-6 6m31-3h8m-4-4v8m-3-7l6 6m0-6l-6 6m-34 2h8m-4-4v8m-3-7l6 6m0-6l-6 6m39-2h8m-4-4v8m-3-7l6 6m0-6l-6 6m-40-15h8m-4-4v8m-3-7l6 6m0-6l-6 6m0 11h8m-4-4v8m-3-7l6 6m0-6l-6 6m24-12l8 8m0-8l-8 8m-10-6l8 8m0-8l-8 8m-25-9h8m-4-4v8m-3-7l6 6m0-6l-6 6m38-4a5 5 0 1 0 10 0a5 5 0 1 0-10 0m-27-4l8 8m0-8l-8 8m-4-6h8m-4-4v8m-3-7l6 6m0-6l-6 6m10-4a5 5 0 1 0 10 0a5 5 0 1 0-10 0m34 3h8m-4-4v8m-3-7l6 6m0-6l-6 6m-33 1l8 8m0-8l-8 8m2-7h8m-4-4v8m-3-7l6 6m0-6l-6 6m17-9h8m-4-4v8m-3-7l6 6m0-6l-6 6m-37-9l8 8m0-8l-8 8m13-10l8 8m0-8l-8 8m29-1h8m-4-4v8m-3-7l6 6m0-6l-6 6m-25 6h8m-4-4v8m-3-7l6 6m0-6l-6 6m14-11a5 5 0 1 0 10 0a5 5 0 1 0-10 0m10 3a5 5 0 1 0 10 0a5 5 0 1 0-10 0m-25-1h8m-4-4v8m-3-7l6 6m0-6l-6 6m28-2h8m-4-4v8m-3-7l6 6m0-6l-6 6m-34-10h8m-4-4v8m-3-7l6 6m0-6l-6 6m-10 4l8 8m0-8l-8 8m15-8h8m-4-4v8m-3-7l6 6m0-6l-6 6m-18-6h8m-4-4v8m-3-7l6 6m0-6l-6 6m32 1h8m-4-4v8m-3-7l6 6m0-6l-6 6m-37-5h8m-4-4v8m-3-7l6 6m0-6l-6 6m45-4h8m-4-4v8m-3-7l6 6m0-6l-6 6m-6-8h8m-4-4v8m-3-7l6 6m0-6l-6 6m-35 9h8m-4-4v8m-3-7l6 6m0-6l-6 6m3-3h8m-4-4v8m-3-7l6 6m0-6l-6 6m-9-4a5 5 0 1 0 10 0a5 5 0 1 0-10 0m11 3h8m-4-4v8m-3-7l6 6m0-6l-6 6m35-2a5 5 0 1 0 10 0a5 5 0 1 0-10 0m-27-1h8m-4-4v8m-3-7l6 6m0-6l-6 6m12-9h8m-4-4v8m-3-7l6 6m0-6l-6 6m-11-7l8 8m0-8l-8 8m-30-7h8m-4-4v8m-3-7l6 6m0-6l-6 6m5-9h8m-4-4v8m-3-7l6 6m0-6l-6 6m2-1l8 8m0-8l-8 8m48 311h8m-4-4v8m-3-7l6 6m0-6l-6 6m-5-7a5 5 0 1 0 10 0a5 5 0 1 0-10 0m-4-7a5 5 0 1 0 10 0a5 5 0 1 0-10 0m8 15a5 5 0 1 0 10 0a5 5 0 1 0-10 0m-6-1h8m-4-4v8m-3-7l6 6m0-6l-6 6m-7-22a5 5 0 1 0 10 0a5 5 0 1 0-10 0m9 3h8m-4-4v8m-3-7l6 6m0-6l-6 6m7 18h8m-4-4v8m-3-7l6 6m0-6l-6 6m-10 9a5 5 0 1 0 10 0a5 5 0 1 0-10 0m1-27h8m-4-4v8m-3-7l6 6m0-6l-6 6m2 18h8m-4-4v8m-3-7l6 6m0-6l-6 6m2-3a5 5 0 1 0 10 0a5 5 0 1 0-10 0m-18-34h8m-4-4v8m-3-7l6 6m0-6l-6 6m8-4h8m-4-4v8m-3-7l6 6m0-6l-6 6m6 12h8m-4-4v8m-3-7l6 6m0-6l-6 6m-8 12a5 5 0 1 0 10 0a5 5 0 1 0-10 0m3-26h8m-4-4v8m-3-7l6 6m0-6l-6 6m1 14h8m-4-4v8m-3-7l6 6m0-6l-6 6m0-3a5 5 0 1 0 10 0a5 5 0 1 0-10 0m5-5h8m-4-4v8m-3-7l6 6m0-6l-6 6m-12 3a5 5 0 1 0 10 0a5 5 0 1 0-10 0m-5-9a5 5 0 1 0 10 0a5 5 0 1 0-10 0m12 13h8m-4-4v8m-3-7l6 6m0-6l-6 6m-4 4a5 5 0 1 0 10 0a5 5 0 1 0-10 0m3-4a5 5 0 1 0 10 0a5 5 0 1 0-10 0m-6-17h8m-4-4v8m-3-7l6 6m0-6l-6 6m0 13a5 5 0 1 0 10 0a5 5 0 1 0-10 0m0-2h8m-4-4v8m-3-7l6 6m0-6l-6 6m5 1a5 5 0 1 0 10 0a5 5 0 1 0-10 0m-8-9h8m-4-4v8m-3-7l6 6m0-6l-6 6m45-8h8m-4-4v8m-3-7l6 6m0-6l-6 6m6 13h8m-4-4v8m-3-7l6 6m0-6l-6 6m-23-20h8m-4-4v8m-3-7l6 6m0-6l-6 6m19 3h8m-4-4v8m-3-7l6 6m0-6l-6 6m-17-9h8m-4-4v8m-3-7l6 6m0-6l-6 6m-19-26h8m-4-4v8m-3-7l6 6m0-6l-6 6m14 1l8 8m0-8l-8 8m11 16h8m-4-4v8m-3-7l6 6m0-6l-6 6m-9-25a5 5 0 1 0 10 0a5 5 0 1 0-10 0m22 30l8 8m0-8l-8 8m-25-29l8 8m0-8l-8 8m-8-14h8m-4-4v8m-3-7l6 6m0-6l-6 6m29 34h8m-4-4v8m-3-7l6 6m0-6l-6 6m-28-34a5 5 0 1 0 10 0a5 5 0 1 0-10 0m19 12l8 8m0-8l-8 8m5 1l8 8m0-8l-8 8m-39-53l8 8m0-8l-8 8m36 26a5 5 0 1 0 10 0a5 5 0 1 0-10 0m-4 10l8 8m0-8l-8 8m-26-37a5 5 0 1 0 10 0a5 5 0 1 0-10 0m16 4h8m-4-4v8m-3-7l6 6m0-6l-6 6m7 17h8m-4-4v8m-3-7l6 6m0-6l-6 6m5-6l8 8m0-8l-8 8m-9-9a5 5 0 1 0 10 0a5 5 0 1 0-10 0m-24-24h8m-4-4v8m-3-7l6 6m0-6l-6 6m23 16h8m-4-4v8m-3-7l6 6m0-6l-6 6m3 5l8 8m0-8l-8 8m-3-24h8m-4-4v8m-3-7l6 6m0-6l-6 6m19 25a5 5 0 1 0 10 0a5 5 0 1 0-10 0m-27-36l8 8m0-8l-8 8m25 20h8m-4-4v8m-3-7l6 6m0-6l-6 6m-33-33l8 8m0-8l-8 8m19 7h8m-4-4v8m-3-7l6 6m0-6l-6 6m-17-7a5 5 0 1 0 10 0a5 5 0 1 0-10 0m17 8a5 5 0 1 0 10 0a5 5 0 1 0-10 0m-8 3a5 5 0 1 0 10 0a5 5 0 1 0-10 0m-25-37a5 5 0 1 0 10 0a5 5 0 1 0-10 0m22 22h8m-4-4v8m-3-7l6 6m0-6l-6 6m10 26a5 5 0 1 0 10 0a5 5 0 1 0-10 0m8-10h8m-4-4v8m-3-7l6 6m0-6l-6 6m-3 3a5 5 0 1 0 10 0a5 5 0 1 0-10 0m-7-15h8m-4-4v8m-3-7l6 6m0-6l-6 6m-16-12h8m-4-4v8m-3-7l6 6m0-6l-6 6m-13-15h8m-4-4v8m-3-7l6 6m0-6l-6 6m15 9l8 8m0-8l-8 8m-5-4h8m-4-4v8m-3-7l6 6m0-6l-6 6m-6-24h8m-4-4v8m-3-7l6 6m0-6l-6 6m17 36h8m-4-4v8m-3-7l6 6m0-6l-6 6m2-13h8m-4-4v8m-3-7l6 6m0-6l-6 6m-16-19h8m-4-4v8m-3-7l6 6m0-6l-6 6m9 15a5 5 0 1 0 10 0a5 5 0 1 0-10 0m14 10l8 8m0-8l-8 8m-21-22h8m-4-4v8m-3-7l6 6m0-6l-6 6m12-6a5 5 0 1 0 10 0a5 5 0 1 0-10 0m-22-21a5 5 0 1 0 10 0a5 5 0 1 0-10 0m11 32h8m-4-4v8m-3-7l6 6m0-6l-6 6m11-8h8m-4-4v8m-3-7l6 6m0-6l-6 6m-5 3a5 5 0 1 0 10 0a5 5 0 1 0-10 0m3-1a5 5 0 1 0 10 0a5 5 0 1 0-10 0m-19-21h8m-4-4v8m-3-7l6 6m0-6l-6 6m118-21l8 8m0-8l-8 8m-13-13h8m-4-4v8m-3-7l6 6m0-6l-6 6m2-2l8 8m0-8l-8 8m-1 0h8m-4-4v8m-3-7l6 6m0-6l-6 6m8 5h8m-4-4v8m-3-7l6 6m0-6l-6 6m1-13l8 8m0-8l-8 8m-15-19h8m-4-4v8m-3-7l6 6m0-6l-6 6m1-1h8m-4-4v8m-3-7l6 6m0-6l-6 6m16 21h8m-4-4v8m-3-7l6 6m0-6l-6 6m-16-27h8m-4-4v8m-3-7l6 6m0-6l-6 6m8 6l8 8m0-8l-8 8m-10-16l8 8m0-8l-8 8m2-5h8m-4-4v8m-3-7l6 6m0-6l-6 6m-2-10l8 8m0-8l-8 8m14 6l8 8m0-8l-8 8m-11-18h8m-4-4v8m-3-7l6 6m0-6l-6 6m2 7l8 8m0-8l-8 8m5-14l8 8m0-8l-8 8m-14-18l8 8m0-8l-8 8m12 5l8 8m0-8l-8 8m-11-18l8 8m0-8l-8 8m-5-13l8 8m0-8l-8 8m12 7h8m-4-4v8m-3-7l6 6m0-6l-6 6m16-1l8 8m0-8l-8 8m-8 6h8m-4-4v8m-3-7l6 6m0-6l-6 6m-17-27h8m-4-4v8m-3-7l6 6m0-6l-6 6m14 9l8 8m0-8l-8 8m-1-9l8 8m0-8l-8 8m-7-10h8m-4-4v8m-3-7l6 6m0-6l-6 6m-4-7h8m-4-4v8m-3-7l6 6m0-6l-6 6m6 0l8 8m0-8l-8 8m-3-14l8 8m0-8l-8 8m-13-13l8 8m0-8l-8 8m11-3l8 8m0-8l-8 8m8 7h8m-4-4v8m-3-7l6 6m0-6l-6 6m-3-2h8m-4-4v8m-3-7l6 6m0-6l-6 6m-73-41a5 5 0 1 0 10 0a5 5 0 1 0-10 0m3 24a5 5 0 1 0 10 0a5 5 0 1 0-10 0m68-29a5 5 0 1 0 10 0a5 5 0 1 0-10 0m-165-294a5 5 0 1 0 10 0a5 5 0 1 0-10 0m-71 235a5 5 0 1 0 10 0a5 5 0 1 0-10 0m92 84a5 5 0 1 0 10 0a5 5 0 1 0-10 0m-22-251a5 5 0 1 0 10 0a5 5 0 1 0-10 0m27-12a5 5 0 1 0 10 0a5 5 0 1 0-10 0m-305 58l-7-4v8zm-21 4l-7-4v8zm-11 3h8m-4-4v8m-3-7l6 6m0-6l-6 6m20-13l8 8m0-8l-8 8m-28-7l8 8m0-8l-8 8m2-6l8 8m0-8l-8 8m17-9h8m-4-4v8m-3-7l6 6m0-6l-6 6m-4 0h8m-4-4v8m-3-7l6 6m0-6l-6 6m50 132l8 8m0-8l-8 8m85-223l8 8m0-8l-8 8m326 227l8 8m0-8l-8 8m-423-256l8 8m0-8l-8 8m-52-35l8 8m0-8l-8 8m429 281l8 8m0-8l-8 8m-242-203l-8-5v10zm-47-62l-8-5v10zm-108 88l-8-5v10zm392 168l-8-5v10zm-133-226l-8-5v10zm-83-58h8m-4-4v8m-3-7l6 6m0-6l-6 6m-1-3h8m-4-4v8m-3-7l6 6m0-6l-6 6m0-5h8m-4-4v8m-3-7l6 6m0-6l-6 6m-2 0h8m-4-4v8m-3-7l6 6m0-6l-6 6m-61 69a5 5 0 1 0 10 0a5 5 0 1 0-10 0m5 5l8 8m0-8l-8 8m-24-8a5 5 0 1 0 10 0a5 5 0 1 0-10 0m19 5l8 8m0-8l-8 8m-9-4a5 5 0 1 0 10 0a5 5 0 1 0-10 0m-9-19l8 8m0-8l-8 8m23-1l8 8m0-8l-8 8m-18-15l8 8m0-8l-8 8m19 9l-7-4v8zm-8-23l8 8m0-8l-8 8m14 15l8 8m0-8l-8 8m-11-14l8 8m0-8l-8 8m-4-18l-7-4v8zm7 17l-7-4v8zm-11-21l8 8m0-8l-8 8m16 13l-7-4v8zm433-102h8m-4-4v8m-3-7l6 6m0-6l-6 6m19-15l8 8m0-8l-8 8m-22-5h8m-4-4v8m-3-7l6 6m0-6l-6 6m-37 43h8m-4-4v8m-3-7l6 6m0-6l-6 6m6-7h8m-4-4v8m-4-10h8m-4-4v8m-3-7l6 6m0-6l-6 6m59-33l8 8m0-8l-8 8m-41-9a5 5 0 1 0 10 0a5 5 0 1 0-10 0m1 24l-7-4v8zm41-34h8m-4-4v8m-3-7l6 6m0-6l-6 6m-35-5h8m-4-4v8m-3-7l6 6m0-6l-6 6m-31 34l8 8m0-8l-8 8m5-3h8m-4-4v8m-3-7l6 6m0-6l-6 6m-10-3h8m-4-4v8m-5-5l8 8m0-8l-8 8m69-52l8 8m0-8l-8 8m-49 41l-7-4v8zm-8-15l8 8m0-8l-8 8m14-23l8 8m0-8l-8 8m8 8l8 8m0-8l-8 8m-13-18l8 8m0-8l-8 8m19-15a5 5 0 1 0 10 0a5 5 0 1 0-10 0m24-20l8 8m0-8l-8 8m-25 24h8m-4-4v8m-3-7l6 6m0-6l-6 6m34-15a5 5 0 1 0 10 0a5 5 0 1 0-10 0m-38 5h8m-4-4v8m-3-7l6 6m0-6l-6 6m28-12h8m-4-4v8m-3-7l6 6m0-6l-6 6m2 2h8m-4-4v8m-18-26h8m-4-4v8m-3-7l6 6m0-6l-6 6m-17 29h8m-4-4v8m-3-7l6 6m0-6l-6 6m38-13h8m-4-4v8m-3-7l6 6m0-6l-6 6m-36 0l-7-4v8zm23-18l8 8m0-8l-8 8m-13-9h8m-4-4v8m-14 12h8m-4-4v8m-3-7l6 6m0-6l-6 6m-12 10h8m-4-4v8m-3-7l6 6m0-6l-6 6m12-32l8 8m0-8l-8 8m5-2a5 5 0 1 0 10 0a5 5 0 1 0-10 0m6-13l8 8m0-8l-8 8m1 6h8m-4-4v8m13 8l-7-4v8zm-46 5h8m-4-4v8m-3-7l6 6m0-6l-6 6m27-19a5 5 0 1 0 10 0a5 5 0 1 0-10 0m-56 37a5 5 0 1 0 10 0a5 5 0 1 0-10 0m57-41l8 8m0-8l-8 8m-48 35l8 8m0-8l-8 8m11-36h8m-4-4v8m48-16h8m-4-4v8m-3-7l6 6m0-6l-6 6m6-8l-7-4v8zm-4-5h8m-4-4v8m-3-7l6 6m0-6l-6 6m-80 39a5 5 0 1 0 10 0a5 5 0 1 0-10 0m18-11h8m-4-4v8m-3-7l6 6m0-6l-6 6m12 10l8 8m0-8l-8 8m-29 6a5 5 0 1 0 10 0a5 5 0 1 0-10 0m25-23a5 5 0 1 0 10 0a5 5 0 1 0-10 0m-22 19h8m-4-4v8m-3-7l6 6m0-6l-6 6m53-37h8m-4-4v8m-11 1l-7-4v8zm31-17l8 8m0-8l-8 8m-61 18h8m-4-4v8m-3-7l6 6m0-6l-6 6m6-11h8m-4-4v8m-3-7l6 6m0-6l-6 6m-21 10h8m-4-4v8m41-31h8m-4-4v8m-26 22l8 8m0-8l-8 8m-8-6l8 8m0-8l-8 8m-5 5l8 8m0-8l-8 8m1-3l8 8m0-8l-8 8m4-29h8m-4-4v8m-3-7l6 6m0-6l-6 6m8-9h8m-4-4v8m-3-7l6 6m0-6l-6 6m-26 4h8m-4-4v8m-3-7l6 6m0-6l-6 6m66-36h8m-4-4v8m-3-7l6 6m0-6l-6 6m-53 31l8 8m0-8l-8 8m51-37h8m-4-4v8m-65 26l8 8m0-8l-8 8m1-5l8 8m0-8l-8 8m30-40l8 8m0-8l-8 8m-35 21h8m-4-4v8m-3-7l6 6m0-6l-6 6m27-26l8 8m0-8l-8 8m42-23h8m-4-4v8m-37 15h8m-4-4v8m-3-7l6 6m0-6l-6 6m2-16h8m-4-4v8m-3-7l6 6m0-6l-6 6m-3-1l8 8m0-8l-8 8m-2-2a5 5 0 1 0 10 0a5 5 0 1 0-10 0m-39 61h8m-4-4v8m-3-7l6 6m0-6l-6 6m5 4a5 5 0 1 0 10 0a5 5 0 1 0-10 0m26 2l-7-4v8zm-34-28l-7-4v8zm1 11l8 8m0-8l-8 8m22-2l8 8m0-8l-8 8m-2 12h8m-4-4v8m-3-7l6 6m0-6l-6 6m12 12a5 5 0 1 0 10 0a5 5 0 1 0-10 0m-22 1h8m-4-4v8m-3 0h8m-4-4v8m-3-7l6 6m0-6l-6 6m-11-54l8 8m0-8l-8 8m-8-12h8m-4-4v8m12 29h8m-4-4v8m-3-7l6 6m0-6l-6 6m-8-18l8 8m0-8l-8 8m8 17h8m-4-4v8m-3-7l6 6m0-6l-6 6m-6-26h8m-4-4v8m-3-7l6 6m0-6l-6 6m-7-21h8m-4-4v8m-3-7l6 6m0-6l-6 6m29 51l8 8m0-8l-8 8m-25-19l8 8m0-8l-8 8m7-23h8m-4-4v8m-3-7l6 6m0-6l-6 6m-10 14l8 8m0-8l-8 8m17-37l-7-4v8zm2 11h8m-4-4v8m-6 0h8m-4-4v8m-3-7l6 6m0-6l-6 6m-21-28h8m-4-4v8m-3-7l6 6m0-6l-6 6m20 30h8m-4-4v8m-3-7l6 6m0-6l-6 6m-4-31l8 8m0-8l-8 8m-1 25l-7-4v8zm-13-26a5 5 0 1 0 10 0a5 5 0 1 0-10 0m15-14h8m-4-4v8m-3-7l6 6m0-6l-6 6m-9 9h8m-4-4v8m-3-7l6 6m0-6l-6 6m-6-7h8m-4-4v8m-3-7l6 6m0-6l-6 6m17 5l8 8m0-8l-8 8m-16 3h8m-4-4v8m-3-7l6 6m0-6l-6 6m-7-36h8m-4-4v8m-3-7l6 6m0-6l-6 6m3 55a5 5 0 1 0 10 0a5 5 0 1 0-10 0m15-23a5 5 0 1 0 10 0a5 5 0 1 0-10 0m-1-6a5 5 0 1 0 10 0a5 5 0 1 0-10 0m-8 4l8 8m0-8l-8 8m-7-31h8m-4-4v8m5 0a5 5 0 1 0 10 0a5 5 0 1 0-10 0m-21-5h8m-4-4v8m-3-7l6 6m0-6l-6 6m14 18h8m-4-4v8m-3-7l6 6m0-6l-6 6m12-5l-7-4v8zm-3-17h8m-4-4v8m-3-7l6 6m0-6l-6 6m1-7h8m-4-4v8m-3-7l6 6m0-6l-6 6m-14-5h8m-4-4v8m-3-7l6 6m0-6l-6 6m-5 3h8m-4-4v8m-3-7l6 6m0-6l-6 6m12 24h8m-4-4v8m-3-7l6 6m0-6l-6 6m-18-27h8m-4-4v8m-3-7l6 6m0-6l-6 6m21 9l-7-4v8zm-10-4l8 8m0-8l-8 8m4 0a5 5 0 1 0 10 0a5 5 0 1 0-10 0m133-50a5 5 0 1 0 10 0a5 5 0 1 0-10 0m2 10l8 8m0-8l-8 8m13-7l8 8m0-8l-8 8m-32-50a5 5 0 1 0 10 0a5 5 0 1 0-10 0m10 2a5 5 0 1 0 10 0a5 5 0 1 0-10 0m-37-7h8m-4-4v8m-3-7l6 6m0-6l-6 6m38 30h8m-4-4v8m-3-7l6 6m0-6l-6 6m17-2a5 5 0 1 0 10 0a5 5 0 1 0-10 0m-21-29h8m-4-4v8m-3-7l6 6m0-6l-6 6m16 41h8m-4-4v8m2-22l8 8m0-8l-8 8m-15 0l-7-4v8zm19 7h8m-4-4v8m-35-39l8 8m0-8l-8 8m18 22l8 8m0-8l-8 8m-2-28l8 8m0-8l-8 8m12 8h8m-4-4v8m-3-7l6 6m0-6l-6 6m-34-50h8m-4-4v8m-3-7l6 6m0-6l-6 6m24 28h8m-4-4v8m-3-7l6 6m0-6l-6 6m1 19l8 8m0-8l-8 8m-37-54l8 8m0-8l-8 8m29 11h8m-4-4v8m-3-7l6 6m0-6l-6 6m3 26h8m-4-4v8m-3-7l6 6m0-6l-6 6m-39-40l8 8m0-8l-8 8m-6-6h8m-4-4v8m-3-7l6 6m0-6l-6 6m12-8h8m-4-4v8m-3-7l6 6m0-6l-6 6m-17-8l8 8m0-8l-8 8m-7 2h8m-4-4v8m-3-7l6 6m0-6l-6 6m37-1h8m-4-4v8m-3-7l6 6m0-6l-6 6m16 46l8 8m0-8l-8 8m-23-55l-7-4v8zm3 4l8 8m0-8l-8 8m-8-9h8m-4-4v8m3-2h8m-4-4v8m-3-7l6 6m0-6l-6 6m-12-14h8m-4-4v8m-3-7l6 6m0-6l-6 6m29 6h8m-4-4v8m-3-7l6 6m0-6l-6 6m-15-17h8m-4-4v8m-3-7l6 6m0-6l-6 6m23 57h8m-4-4v8m-3-7l6 6m0-6l-6 6m-1-29h8m-4-4v8m-14 13h8m-4-4v8m-3-7l6 6m0-6l-6 6m5 13h8m-4-4v8m-3-7l6 6m0-6l-6 6m-36-64h8m-4-4v8m-3-7l6 6m0-6l-6 6m-3-13h8m-4-4v8m-3-7l6 6m0-6l-6 6m36 51a5 5 0 1 0 10 0a5 5 0 1 0-10 0m1-3l8 8m0-8l-8 8m9 7a5 5 0 1 0 10 0a5 5 0 1 0-10 0m-18-37h8m-4-4v8m-3-7l6 6m0-6l-6 6m5 21l-7-4v8zm-24-45h8m-4-4v8m-3-7l6 6m0-6l-6 6m4 0l8 8m0-8l-8 8m-24-12l8 8m0-8l-8 8m41 29h8m-4-4v8m-3-7l6 6m0-6l-6 6m1-10h8m-4-4v8m-3-7l6 6m0-6l-6 6m-12-8h8m-4-4v8m-3-7l6 6m0-6l-6 6m11-3l-7-4v8zm-7-9l8 8m0-8l-8 8m7 11h8m-4-4v8m-3-7l6 6m0-6l-6 6m-36-44l-7-4v8zm-11 10l8 8m0-8l-8 8m37 15h8m-4-4v8m-3-7l6 6m0-6l-6 6m-10-37l8 8m0-8l-8 8m-29 2h8m-4-4v8m-3-7l6 6m0-6l-6 6m44 13l8 8m0-8l-8 8m-40-40l8 8m0-8l-8 8m34 52h8m-4-4v8m-3-7l6 6m0-6l-6 6m-3-34h8m-4-4v8m-3-7l6 6m0-6l-6 6m-23-19h8m-4-4v8m-3-7l6 6m0-6l-6 6m30 44h8m-4-4v8m-3-7l6 6m0-6l-6 6m6-16l8 8m0-8l-8 8m-124 14h8m-4-4v8m-3-7l6 6m0-6l-6 6m13 61h8m-4-4v8m-3-7l6 6m0-6l-6 6m6-10l8 8m0-8l-8 8m-7 55h8m-4-4v8m-3-7l6 6m0-6l-6 6m5-113l-7-4v8zm0 15h8m-4-4v8m-3-7l6 6m0-6l-6 6m8 79h8m-4-4v8m-3-7l6 6m0-6l-6 6m1-14h8m-4-4v8m-3-7l6 6m0-6l-6 6m-11 12l8 8m0-8l-8 8m-6-108l8 8m0-8l-8 8m-15-13h8m-4-4v8m-3-7l6 6m0-6l-6 6m17 100l8 8m0-8l-8 8m-3-1a5 5 0 1 0 10 0a5 5 0 1 0-10 0m17-27a5 5 0 1 0 10 0a5 5 0 1 0-10 0m-13 23h8m-4-4v8m-3-7l6 6m0-6l-6 6m1 33h8m-4-4v8m-3-7l6 6m0-6l-6 6m-2-112h8m-4-4v8m-18 53l8 8m0-8l-8 8m18 5h8m-4-4v8m-3-7l6 6m0-6l-6 6m-6-69h8m-4-4v8m-3-7l6 6m0-6l-6 6m0 2a5 5 0 1 0 10 0a5 5 0 1 0-10 0m3-1l8 8m0-8l-8 8m-17 13h8m-4-4v8m-3-7l6 6m0-6l-6 6m14 46h8m-4-4v8m-3-7l6 6m0-6l-6 6m2-6a5 5 0 1 0 10 0a5 5 0 1 0-10 0m-16-111l8 8m0-8l-8 8m7 5h8m-4-4v8m-3-7l6 6m0-6l-6 6m9 8h8m-4-4v8m-3-7l6 6m0-6l-6 6m-8 28h8m-4-4v8m-3-7l6 6m0-6l-6 6m5 28l8 8m0-8l-8 8m3-10l8 8m0-8l-8 8m-8-35l8 8m0-8l-8 8m3-37h8m-4-4v8m-3-7l6 6m0-6l-6 6m-7 45l8 8m0-8l-8 8m-4-78l8 8m0-8l-8 8m-4-4a5 5 0 1 0 10 0a5 5 0 1 0-10 0m13 0h8m-4-4v8m-3-7l6 6m0-6l-6 6m-4 13h8m-4-4v8m-3-7l6 6m0-6l-6 6m-16-23a5 5 0 1 0 10 0a5 5 0 1 0-10 0m14-1h8m-4-4v8m-3-7l6 6m0-6l-6 6m-5-10l8 8m0-8l-8 8m5 14l8 8m0-8l-8 8m12-9h8m-4-4v8m-3-7l6 6m0-6l-6 6m-5 78h8m-4-4v8m-3-7l6 6m0-6l-6 6m3-20h8m-4-4v8m-3-7l6 6m0-6l-6 6m-13 19l8 8m0-8l-8 8m-10-78h8m-4-4v8m-3-7l6 6m0-6l-6 6m-6 95h8m-4-4v8m-3-7l6 6m0-6l-6 6m18-48h8m-4-4v8m-3-7l6 6m0-6l-6 6m0-63h8m-4-4v8m-3-7l6 6m0-6l-6 6m-1 118h8m-4-4v8m-3-7l6 6m0-6l-6 6m-10-138h8m-4-4v8m-3-7l6 6m0-6l-6 6m9-13l-7-4v8zm9 65h8m-4-4v8m-3-7l6 6m0-6l-6 6m-27-78l8 8m0-8l-8 8m7 13a5 5 0 1 0 10 0a5 5 0 1 0-10 0m-4-11l8 8m0-8l-8 8m17 60h8m-4-4v8m-3-7l6 6m0-6l-6 6m-8 59a5 5 0 1 0 10 0a5 5 0 1 0-10 0m8-110h8m-4-4v8m-7 28l8 8m0-8l-8 8m-5 17l8 8m0-8l-8 8m4-42l8 8m0-8l-8 8m-8-28h8m-4-4v8m-3-7l6 6m0-6l-6 6m8 56h8m-4-4v8m-3-7l6 6m0-6l-6 6m-12-14h8m-4-4v8m-3-7l6 6m0-6l-6 6m4 8a5 5 0 1 0 10 0a5 5 0 1 0-10 0m-6-78h8m-4-4v8m-3-7l6 6m0-6l-6 6m-5 108a5 5 0 1 0 10 0a5 5 0 1 0-10 0m3-23h8m-4-4v8m-3-7l6 6m0-6l-6 6m8-63h8m-4-4v8m-3-7l6 6m0-6l-6 6m17 63l-7-4v8zm-25-42a5 5 0 1 0 10 0a5 5 0 1 0-10 0m6 68l8 8m0-8l-8 8m4-110a5 5 0 1 0 10 0a5 5 0 1 0-10 0m5-11a5 5 0 1 0 10 0a5 5 0 1 0-10 0m0 70l8 8m0-8l-8 8m-15-30h8m-4-4v8m-3-7l6 6m0-6l-6 6m1 49h8m-4-4v8m-3-7l6 6m0-6l-6 6m-5-48h8m-4-4v8m5 24h8m-4-4v8m-14-17h8m-4-4v8m-3-7l6 6m0-6l-6 6m-3-65l8 8m0-8l-8 8m6-10l8 8m0-8l-8 8m0 3h8m-4-4v8m20 42l-7-4v8zm-12 71l8 8m0-8l-8 8m-5-63h8m-4-4v8m-3-7l6 6m0-6l-6 6m-19 1a5 5 0 1 0 10 0a5 5 0 1 0-10 0m15 29a5 5 0 1 0 10 0a5 5 0 1 0-10 0m3-108h8m-4-4v8m-5 30h8m-4-4v8m-3-7l6 6m0-6l-6 6m2 27l8 8m0-8l-8 8m-1 23l8 8m0-8l-8 8m-6-103h8m-4-4v8m-3-7l6 6m0-6l-6 6m-5-12h8m-4-4v8m-3-7l6 6m0-6l-6 6m3 6a5 5 0 1 0 10 0a5 5 0 1 0-10 0m14 103h8m-4-4v8m-20-107l8 8m0-8l-8 8m1-15h8m-4-4v8m-3-7l6 6m0-6l-6 6m-5 88h8m-4-4v8m-3-7l6 6m0-6l-6 6m-2 25h8m-4-4v8m-3-7l6 6m0-6l-6 6m-1-53l8 8m0-8l-8 8m11-72h8m-4-4v8m-3-7l6 6m0-6l-6 6m-4 40l8 8m0-8l-8 8m13-47h8m-4-4v8m-3-7l6 6m0-6l-6 6m-15 65h8m-4-4v8m-3-7l6 6m0-6l-6 6m-4-44h8m-4-4v8m-1-22h8m-4-4v8m-3-7l6 6m0-6l-6 6m96 22l8 8m0-8l-8 8m-39-34h8m-4-4v8m-3-7l6 6m0-6l-6 6m0 15h8m-4-4v8m-3-7l6 6m0-6l-6 6m37 12l8 8m0-8l-8 8m17-25l-7-4v8zm-58-19h8m-4-4v8m-3-7l6 6m0-6l-6 6m37 2l8 8m0-8l-8 8m-10-2a5 5 0 1 0 10 0a5 5 0 1 0-10 0m-10-4h8m-4-4v8m-3-7l6 6m0-6l-6 6m25 9a5 5 0 1 0 10 0a5 5 0 1 0-10 0m-7-21h8m-4-4v8m-3-7l6 6m0-6l-6 6m27 18l8 8m0-8l-8 8m-59-14a5 5 0 1 0 10 0a5 5 0 1 0-10 0m2-2h8m-4-4v8m-3-7l6 6m0-6l-6 6m-3-1h8m-4-4v8m-3-7l6 6m0-6l-6 6m36-7h8m-4-4v8m-3-7l6 6m0-6l-6 6m-27-11h8m-4-4v8m-3-7l6 6m0-6l-6 6m20 9h8m-4-4v8m6-4a5 5 0 1 0 10 0a5 5 0 1 0-10 0m0 11h8m-4-4v8m-3-7l6 6m0-6l-6 6m-31-8h8m-4-4v8m-3-7l6 6m0-6l-6 6m37-1a5 5 0 1 0 10 0a5 5 0 1 0-10 0m-6-8a5 5 0 1 0 10 0a5 5 0 1 0-10 0m-49-11h8m-4-4v8m-3-7l6 6m0-6l-6 6m35 5h8m-4-4v8m-3-7l6 6m0-6l-6 6m-38-8h8m-4-4v8m-3-7l6 6m0-6l-6 6m30 5h8m-4-4v8m-3-7l6 6m0-6l-6 6m-17 12h8m-4-4v8m-3-7l6 6m0-6l-6 6m10 1h8m-4-4v8m-3-7l6 6m0-6l-6 6m-10-25h8m-4-4v8m-3-7l6 6m0-6l-6 6m-13-14a5 5 0 1 0 10 0a5 5 0 1 0-10 0m36 15l8 8m0-8l-8 8m-32-24h8m-4-4v8m-3-7l6 6m0-6l-6 6m-13 1h8m-4-4v8m26 9h8m-4-4v8m-22-25h8m-4-4v8m-3-7l6 6m0-6l-6 6m18 17h8m-4-4v8m-3-7l6 6m0-6l-6 6m8 5a5 5 0 1 0 10 0a5 5 0 1 0-10 0m-5-10l8 8m0-8l-8 8m-4-12l8 8m0-8l-8 8m-11-6h8m-4-4v8m-3-7l6 6m0-6l-6 6m-16 2a5 5 0 1 0 10 0a5 5 0 1 0-10 0m11 10h8m-4-4v8m34-4h8m-4-4v8m-25-24a5 5 0 1 0 10 0a5 5 0 1 0-10 0m26 16h8m-4-4v8m-3-7l6 6m0-6l-6 6m-10 1h8m-4-4v8m-3-7l6 6m0-6l-6 6m15-4l8 8m0-8l-8 8m-51-35h8m-4-4v8m-3-7l6 6m0-6l-6 6m21 19h8m-4-4v8m-3-7l6 6m0-6l-6 6m-38-3h8m-4-4v8m-3-7l6 6m0-6l-6 6m18-16l8 8m0-8l-8 8m29 2h8m-4-4v8m-3-7l6 6m0-6l-6 6m-49 4h8m-4-4v8m36-10h8m-4-4v8m7 10h8m-4-4v8m-3-7l6 6m0-6l-6 6m-23-25h8m-4-4v8m-3-7l6 6m0-6l-6 6m-8-2h8m-4-4v8m-3-7l6 6m0-6l-6 6m19 6l8 8m0-8l-8 8m15-11h8m-4-4v8m-3-7l6 6m0-6l-6 6m-19-3a5 5 0 1 0 10 0a5 5 0 1 0-10 0m-65 72a5 5 0 1 0 10 0a5 5 0 1 0-10 0m-5-7a5 5 0 1 0 10 0a5 5 0 1 0-10 0m0 0a5 5 0 1 0 10 0a5 5 0 1 0-10 0m10 0a5 5 0 1 0 10 0a5 5 0 1 0-10 0m8-2a5 5 0 1 0 10 0a5 5 0 1 0-10 0m-15-3a5 5 0 1 0 10 0a5 5 0 1 0-10 0m-2 7a5 5 0 1 0 10 0a5 5 0 1 0-10 0m10-1a5 5 0 1 0 10 0a5 5 0 1 0-10 0m0 4a5 5 0 1 0 10 0a5 5 0 1 0-10 0m0 3h8m-4-4v8m-3-7l6 6m0-6l-6 6m0-6h8m-4-4v8m-3-7l6 6m0-6l-6 6m6 3h8m-4-4v8m-3-7l6 6m0-6l-6 6m-14-18a5 5 0 1 0 10 0a5 5 0 1 0-10 0m-3 8h8m-4-4v8m-3-7l6 6m0-6l-6 6m9-9a5 5 0 1 0 10 0a5 5 0 1 0-10 0m15 0h8m-4-4v8m-3-7l6 6m0-6l-6 6m-19-2h8m-4-4v8m-3-7l6 6m0-6l-6 6m-14-6a5 5 0 1 0 10 0a5 5 0 1 0-10 0m24 3a5 5 0 1 0 10 0a5 5 0 1 0-10 0m-16-4h8m-4-4v8m-3-7l6 6m0-6l-6 6m6-3h8m-4-4v8m-3-7l6 6m0-6l-6 6m4 7h8m-4-4v8m-3-7l6 6m0-6l-6 6m-10-8a5 5 0 1 0 10 0a5 5 0 1 0-10 0m-2 3a5 5 0 1 0 10 0a5 5 0 1 0-10 0m-10-119l8 8m0-8l-8 8m3 5h8m-4-4v8m-3-7l6 6m0-6l-6 6m8-31l8 8m0-8l-8 8m-15 4l8 8m0-8l-8 8m15 12h8m-4-4v8m-12-13h8m-4-4v8m-3-7l6 6m0-6l-6 6m-5 5l8 8m0-8l-8 8m6-37h8m-4-4v8m-3-7l6 6m0-6l-6 6m2 18h8m-4-4v8m-3-7l6 6m0-6l-6 6m-9-5l8 8m0-8l-8 8m-5-15l8 8m0-8l-8 8m2 6h8m-4-4v8m-3-7l6 6m0-6l-6 6m-1-22a5 5 0 1 0 10 0a5 5 0 1 0-10 0m9-5h8m-4-4v8m-3-7l6 6m0-6l-6 6m-6 13l8 8m0-8l-8 8m0-32h8m-4-4v8m-3-7l6 6m0-6l-6 6m1 17h8m-4-4v8m-3-7l6 6m0-6l-6 6m-5-21h8m-4-4v8m-6-4h8m-4-4v8m-3-7l6 6m0-6l-6 6m-9 4h8m-4-4v8m15 3l8 8m0-8l-8 8m-5 5a5 5 0 1 0 10 0a5 5 0 1 0-10 0m-44-3a5 5 0 1 0 10 0a5 5 0 1 0-10 0m16-12l8 8m0-8l-8 8m-1-4l8 8m0-8l-8 8m-15-13l8 8m0-8l-8 8m2 13a5 5 0 1 0 10 0a5 5 0 1 0-10 0m-16-14h8m-4-4v8m-3-7l6 6m0-6l-6 6m27 11h8m-4-4v8m-3-7l6 6m0-6l-6 6m-22-13a5 5 0 1 0 10 0a5 5 0 1 0-10 0m12 14h8m-4-4v8m-3-7l6 6m0-6l-6 6m-19-4h8m-4-4v8m-3-7l6 6m0-6l-6 6m20-21l8 8m0-8l-8 8m-30 14a5 5 0 1 0 10 0a5 5 0 1 0-10 0m28-9l8 8m0-8l-8 8m-6-15l8 8m0-8l-8 8m3-15h8m-4-4v8m-11-10l8 8m0-8l-8 8m-17 20h8m-4-4v8m-3-7l6 6m0-6l-6 6m23-3a5 5 0 1 0 10 0a5 5 0 1 0-10 0m6-14h8m-4-4v8m-3-7l6 6m0-6l-6 6m182 96a5 5 0 1 0 10 0a5 5 0 1 0-10 0m49 2a5 5 0 1 0 10 0a5 5 0 1 0-10 0m-302-128a5 5 0 1 0 10 0a5 5 0 1 0-10 0m230 116a5 5 0 1 0 10 0a5 5 0 1 0-10 0m8-2a5 5 0 1 0 10 0a5 5 0 1 0-10 0m85 17l8 8m0-8l-8 8m-16 111l8 8m0-8l-8 8m-67-139l8 8m0-8l-8 8m-31-35l8 8m0-8l-8 8m-84 22h8m-4-4v8m-70-26l8 8m0-8l-8 8m331 23h8m-4-4v8m-3-7l6 6m0-6l-6 6m1-3h8m-4-4v8m-3-7l6 6m0-6l-6 6m-5-3h8m-4-4v8m-3-7l6 6m0-6l-6 6m5 0h8m-4-4v8m-3-7l6 6m0-6l-6 6m-1-6h8m-4-4v8m-3-7l6 6m0-6l-6 6m-1-3h8m-4-4v8m-3-7l6 6m0-6l-6 6m0-3h8m-4-4v8m-3-7l6 6m0-6l-6 6m-4-1h8m-4-4v8m-3-7l6 6m0-6l-6 6m-6-2h8m-4-4v8m-3-7l6 6m0-6l-6 6m3-7h8m-4-4v8m-3-7l6 6m0-6l-6 6m23-268h8m-4-4v8m-3-7l6 6m0-6l-6 6m-377 248h8m-4-4v8m-3-7l6 6m0-6l-6 6m376-253h8m-4-4v8m-3-7l6 6m0-6l-6 6m6-42l8 8m0-8l-8 8m17-27l8 8m0-8l-8 8m-2-10l8 8m0-8l-8 8m15-43l8 8m0-8l-8 8m-40 63l8 8m0-8l-8 8m16-26l8 8m0-8l-8 8m-246-143h8m-4-4v8m-3-7l6 6m0-6l-6 6m-4 0l8 8m0-8l-8 8m22 15l8 8m0-8l-8 8m-25-30h8m-4-4v8m-3-7l6 6m0-6l-6 6m16 12h8m-4-4v8m-3-7l6 6m0-6l-6 6m-6-19l8 8m0-8l-8 8m-6-19l8 8m0-8l-8 8m7 4h8m-4-4v8m-3-7l6 6m0-6l-6 6m8 27h8m-4-4v8m-3-7l6 6m0-6l-6 6m-12-26h8m-4-4v8m-3-7l6 6m0-6l-6 6m17 19h8m-4-4v8m-3-7l6 6m0-6l-6 6m-28-50h8m-4-4v8m-3-7l6 6m0-6l-6 6m13 23l8 8m0-8l-8 8m-3-17h8m-4-4v8m-3-7l6 6m0-6l-6 6m11 24h8m-4-4v8m-3-7l6 6m0-6l-6 6m-18-39h8m-4-4v8m-3-7l6 6m0-6l-6 6m0 5l8 8m0-8l-8 8m22 19l8 8m0-8l-8 8m-30-43h8m-4-4v8m-3-7l6 6m0-6l-6 6m3 3h8m-4-4v8m-3-7l6 6m0-6l-6 6m1-12l8 8m0-8l-8 8m13 25l8 8m0-8l-8 8m-5-17h8m-4-4v8m-3-7l6 6m0-6l-6 6m-12-23l8 8m0-8l-8 8m-2-3h8m-4-4v8m-3-7l6 6m0-6l-6 6m0-16h8m-4-4v8m-3-7l6 6m0-6l-6 6m5 13l8 8m0-8l-8 8m-2-12l8 8m0-8l-8 8m-9-22h8m-4-4v8m-3-7l6 6m0-6l-6 6m23 36h8m-4-4v8m-3-7l6 6m0-6l-6 6m-26-41h8m-4-4v8m-3-7l6 6m0-6l-6 6m7 20h8m-4-4v8m-3-7l6 6m0-6l-6 6m24 8h8m-4-4v8m-3-7l6 6m0-6l-6 6m-26-24h8m-4-4v8m-3-7l6 6m0-6l-6 6m3-7l8 8m0-8l-8 8m11 23l8 8m0-8l-8 8m-18-54l8 8m0-8l-8 8m14 27h8m-4-4v8m-3-7l6 6m0-6l-6 6m6 5h8m-4-4v8m-3-7l6 6m0-6l-6 6m-19-31l8 8m0-8l-8 8m10 19h8m-4-4v8m-3-7l6 6m0-6l-6 6m0-12l8 8m0-8l-8 8m12 1h8m-4-4v8m-3-7l6 6m0-6l-6 6m4 5l8 8m0-8l-8 8m-29-33l8 8m0-8l-8 8m-11 23h6m-3-3v6m-2-5l4 4m0-4l-4 4m-4-10h6m-3-3v6m-2-5l4 4m0-4l-4 4m3 0h6m-3-3v6m-2-5l4 4m0-4l-4 4m-1-1h6m-3-3v6m-2-5l4 4m0-4l-4 4m-8 0h6m-3-3v6m-2-5l4 4m0-4l-4 4m8-4h6m-3-3v6m-2-5l4 4m0-4l-4 4m-7 1h6m-3-3v6m-2-5l4 4m0-4l-4 4m1-3h6m-3-3v6m-2-5l4 4m0-4l-4 4m-3-8h6m-3-3v6m-2-5l4 4m0-4l-4 4m2 3h6m-3-3v6m-2-5l4 4m0-4l-4 4m-5-8h6m-3-3v6m-2-5l4 4m0-4l-4 4m2 3h6m-3-3v6m-2-5l4 4m0-4l-4 4m-5-3h6m-3-3v6m-2-5l4 4m0-4l-4 4m4 1h6m-3-3v6m-2-5l4 4m0-4l-4 4m-1 0h6m-3-3v6m-2-5l4 4m0-4l-4 4m1-2h6m-3-3v6m-2-5l4 4m0-4l-4 4m-4 0h6m-3-3v6m-2-5l4 4m0-4l-4 4m-7-6h6m-3-3v6m-2-5l4 4m0-4l-4 4m10 10l6 6m0-6l-6 6m25-18l6 6m0-6l-6 6m17 8a4 4 0 1 0 8 0a4 4 0 1 0-8 0"/><use href="#p5" x="2930" y="646"/><use href="#p1" x="2927" y="673"/><use href="#p4" x="2917" y="682"/><use href="#p0" x="2897" y="714"/><use href="#p6" x="2969" y="669"/><use href="#p5" x="2874" y="702"/><use href="#p4" x="2900" y="598"/><use href="#p0" x="2993" y="672"/><use href="#p1" x="2952" y="617"/><use href="#p3" x="2982" y="699"/><use href="#p0" x="2846" y="668"/><use href="#p6" x="2893" y="613"/><use href="#p2" x="2980" y="685"/><use href="#p3" x="2927" y="689"/><use href="#p0" x="2989" y="664"/><use href="#p5" x="2890" y="727"/><use href="#p0" x="2986" y="668"/><use href="#p3" x="2915" y="638"/><use href="#p2" x="2936" y="730"/><use href="#p1" x="2925" y="632"/><use href="#p3" x="2857" y="703"/><use href="#p3" x="2964" y="660"/><use href="#p7" x="2912" y="602"/><use href="#p7" x="2872" y="711"/><use href="#p7" x="2941" y="657"/><use href="#p2" x="2937" y="705"/><use href="#p7" x="2902" y="690"/><use href="#p0" x="2931" y="673"/><use href="#p0" x="2931" y="718"/><use href="#p4" x="2972" y="680"/><use href="#p5" x="2845" y="644"/><use href="#p7" x="2892" y="704"/><use href="#p7" x="2886" y="625"/><use href="#p3" x="2842" y="647"/><use href="#p1" x="2973" y="639"/><use href="#p4" x="2933" y="645"/><use href="#p1" x="2917" y="678"/><use href="#p1" x="2920" y="606"/><use href="#p0" x="2854" y="671"/><use href="#p5" x="2983" y="682"/><use href="#p1" x="2946" y="650"/><use href="#p1" x="2966" y="721"/><use href="#p6" x="2917" y="695"/><use href="#p3" x="2936" y="604"/><use href="#p1" x="2864" y="675"/><use href="#p0" x="2964" y="659"/><use href="#p6" x="2917" y="669"/><use href="#p0" x="2855" y="634"/><use href="#p7" x="2899" y="652"/><use href="#p0" x="2967" y="688"/><use href="#p4" x="2907" y="598"/><use href="#p5" x="2852" y="713"/><use href="#p5" x="2861" y="625"/><use href="#p1" x="2964" y="703"/><use href="#p1" x="2926" y="662"/><use href="#p3" x="2845" y="637"/><use href="#p0" x="2968" y="653"/><use href="#p4" x="2956" y="688"/><use href="#p3" x="2851" y="643"/><use href="#p3" x="2944" y="623"/><use href="#p1" x="2977" y="609"/><use href="#p1" x="2866" y="726"/><use href="#p3" x="2876" y="650"/><use href="#p5" x="2968" y="601"/><use href="#p4" x="2986" y="618"/><use href="#p0" x="2987" y="706"/><use href="#p6" x="2959" y="692"/><use href="#p0" x="2905" y="656"/><use href="#p3" x="2951" y="631"/><use href="#p0" x="2950" y="659"/><use href="#p5" x="2938" y="656"/><use href="#p0" x="2955" y="670"/><use href="#p4" x="2914" y="599"/><use href="#p3" x="2920" y="689"/><use href="#p5" x="2949" y="665"/><use href="#p0" x="2967" y="637"/><use href="#p0" x="2864" y="700"/><use href="#p1" x="2927" y="682"/><use href="#p4" x="2860" y="664"/><use href="#p1" x="2983" y="677"/><use href="#p7" x="2886" y="720"/><use href="#p5" x="2959" y="635"/><use href="#p0" x="2958" y="684"/><use href="#p6" x="2935" y="596"/><use href="#p3" x="2975" y="695"/><use href="#p2" x="2976" y="637"/><use href="#p3" x="2971" y="617"/><use href="#p0" x="2993" y="699"/><use href="#p5" x="2962" y="646"/><use href="#p0" x="2907" y="693"/><use href="#p6" x="2912" y="686"/><use href="#p7" x="2955" y="729"/><use href="#p6" x="2848" y="652"/><use href="#p2" x="2868" y="614"/><use href="#p2" x="2846" y="664"/><use href="#p6" x="2921" y="615"/><use href="#p5" x="2923" y="610"/><use href="#p0" x="2907" y="687"/><use href="#p5" x="2988" y="678"/><use href="#p6" x="2879" y="614"/><use href="#p1" x="2926" y="621"/><use href="#p5" x="2875" y="714"/><use href="#p5" x="2845" y="683"/><use href="#p0" x="2970" y="649"/><use href="#p1" x="2852" y="693"/><use href="#p4" x="2990" y="636"/><use href="#p0" x="2904" y="714"/><use href="#p4" x="2905" y="710"/><use href="#p0" x="2890" y="600"/><use href="#p2" x="2880" y="656"/><use href="#p0" x="2922" y="610"/><use href="#p1" x="2907" y="593"/><use href="#p3" x="2983" y="657"/><use href="#p0" x="2865" y="633"/><use href="#p5" x="2862" y="704"/><use href="#p6" x="2947" y="677"/><use href="#p5" x="2922" y="692"/><use href="#p0" x="2877" y="633"/><use href="#p2" x="2958" y="666"/><use href="#p6" x="2861" y="627"/><use href="#p1" x="2933" y="735"/><use href="#p0" x="2970" y="649"/><use href="#p5" x="2912" y="602"/><use href="#p3" x="2940" y="618"/><use href="#p6" x="2945" y="595"/><use href="#p2" x="2952" y="700"/><use href="#p7" x="2951" y="651"/><use href="#p2" x="2921" y="736"/><use href="#p6" x="2968" y="691"/><use href="#p7" x="2877" y="723"/><use href="#p4" x="2862" y="673"/><use href="#p6" x="2861" y="684"/><use href="#p6" x="2848" y="696"/><use href="#p3" x="2990" y="697"/><use href="#p5" x="2897" y="663"/><use href="#p5" x="2986" y="646"/><use href="#p0" x="2970" y="672"/><use href="#p3" x="2897" y="604"/><use href="#p2" x="2980" y="622"/><use href="#p1" x="2883" y="646"/><use href="#p0" x="2847" y="663"/><use href="#p2" x="2966" y="712"/><use href="#p4" x="2917" y="689"/><use href="#p1" x="2898" y="614"/><use href="#p0" x="2941" y="623"/><use href="#p2" x="2957" y="627"/><use href="#p3" x="2920" y="671"/><use href="#p4" x="2947" y="714"/><use href="#p2" x="2926" y="664"/><use href="#p7" x="2977" y="632"/><use href="#p0" x="2872" y="638"/><use href="#p7" x="2917" y="660"/><use href="#p4" x="2893" y="629"/><use href="#p4" x="2960" y="606"/><use href="#p4" x="2946" y="599"/><use href="#p2" x="2903" y="663"/><use href="#p5" x="2947" y="703"/><use href="#p5" x="2920" y="686"/><use href="#p6" x="2929" y="596"/><use href="#p1" x="2953" y="691"/><use href="#p3" x="2921" y="664"/><use href="#p3" x="2925" y="603"/><use href="#p6" x="2933" y="667"/><use href="#p7" x="2978" y="679"/><use href="#p6" x="2935" y="663"/><use href="#p6" x="2872" y="623"/><use href="#p1" x="2901" y="685"/><use href="#p4" x="2967" y="665"/><use href="#p7" x="2925" y="673"/><use href="#p3" x="2994" y="629"/><use href="#p6" x="2971" y="634"/><use href="#p5" x="2909" y="608"/><use href="#p7" x="2930" y="646"/><use href="#p4" x="2861" y="652"/><use href="#p7" x="2929" y="595"/><use href="#p6" x="2879" y="724"/><use href="#p3" x="2883" y="707"/><use href="#p0" x="2917" y="666"/><use href="#p7" x="2991" y="679"/><use href="#p7" x="2973" y="709"/><use href="#p1" x="2935" y="729"/><use href="#p7" x="2872" y="606"/><use href="#p2" x="2854" y="671"/><use href="#p2" x="2969" y="651"/><use href="#p0" x="2960" y="603"/><use href="#p0" x="2962" y="676"/><use href="#p1" x="2971" y="707"/><use href="#p2" x="2906" y="597"/><use href="#p3" x="2876" y="642"/><use href="#p3" x="2943" y="638"/><use href="#p3" x="2929" y="637"/><use href="#p6" x="2876" y="643"/><use href="#p2" x="2951" y="649"/><use href="#p1" x="2856" y="647"/><use href="#p5" x="2981" y="685"/><use href="#p5" x="2885" y="598"/><use href="#p2" x="2953" y="613"/><use href="#p0" x="2972" y="638"/><use href="#p5" x="2933" y="634"/><use href="#p3" x="2991" y="694"/><use href="#p1" x="2856" y="664"/><use href="#p2" x="2907" y="644"/><use href="#p1" x="2892" y="602"/><use href="#p5" x="2973" y="690"/><use href="#p4" x="2957" y="707"/><use href="#p0" x="2931" y="667"/><use href="#p1" x="2875" y="720"/><use href="#p2" x="2947" y="617"/><use href="#p1" x="2997" y="658"/><use href="#p3" x="2902" y="690"/><use href="#p7" x="2962" y="620"/><use href="#p4" x="2922" y="677"/><use href="#p3" x="2982" y="703"/><use href="#p0" x="2928" y="720"/><use href="#p4" x="2940" y="644"/><use href="#p7" x="2976" y="693"/><use href="#p4" x="2932" y="635"/><use href="#p4" x="2956" y="705"/><use href="#p6" x="2974" y="649"/><use href="#p6" x="2973" y="650"/><use href="#p5" x="2924" y="664"/><use href="#p3" x="2923" y="687"/><use href="#p1" x="2950" y="698"/><use href="#p4" x="2974" y="634"/><use href="#p3" x="2914" y="666"/><use href="#p7" x="2926" y="672"/><use href="#p5" x="2933" y="646"/><use href="#p7" x="2922" y="656"/><use href="#p4" x="2926" y="698"/><use href="#p3" x="2933" y="685"/><use href="#p1" x="2922" y="631"/><use href="#p5" x="2938" y="693"/><use href="#p3" x="2972" y="663"/><use href="#p3" x="2905" y="668"/><use href="#p7" x="2924" y="656"/><use href="#p4" x="2938" y="686"/><use href="#p1" x="2967" y="636"/><use href="#p0" x="2969" y="638"/><use href="#p7" x="2984" y="687"/><use href="#p5" x="2941" y="689"/><use href="#p6" x="2965" y="631"/><use href="#p1" x="2936" y="648"/><use href="#p5" x="2947" y="633"/><use href="#p0" x="2924" y="640"/><use href="#p0" x="2925" y="627"/><use href="#p3" x="2942" y="661"/><use href="#p6" x="2938" y="680"/><use href="#p5" x="2963" y="618"/><use href="#p4" x="2907" y="653"/><use href="#p0" x="2977" y="681"/><use href="#p0" x="2956" y="634"/><use href="#p7" x="2910" y="682"/><use href="#p1" x="2914" y="651"/><use href="#p6" x="2985" y="664"/><use href="#p7" x="2979" y="634"/><use href="#p4" x="2976" y="647"/><use href="#p0" x="2924" y="690"/><use href="#p0" x="2974" y="655"/><use href="#p1" x="2919" y="690"/><use href="#p3" x="2949" y="664"/></g></g><path d="M964.9 52.8H1171L1383 132M964.9 52.8V250H1152M1164 248L1390 190.5" stroke-dashoffset="5.6" stroke="#8a8aff" stroke-width="3.4" fill="none" stroke-dasharray="13.6 12.8"/><path d="M1266 481.5L1197.5 543.5V680H1429V542L1287 468" stroke="#8a8aff" stroke-width="3.4" fill="none" stroke-dasharray="13.6 12.8"/><circle cx="1396" cy="162.6" r="25" fill="none" stroke="#0000ff" stroke-width="3.8"/><circle cx="1275.8" cy="472.6" r="11.6" fill="none" stroke="#0000ff" stroke-width="3.4"/><text x="1399.7" y="130" font-size="25" text-anchor="middle" fill="#0000ff">PT</text><text x="1281" y="512.5" font-size="25" text-anchor="middle" fill="#0000ff">PT</text><text x="1489.7" y="63" font-size="25" text-anchor="middle" fill="#00d000">IT</text><text x="1642.3" y="59.5" font-size="25" text-anchor="middle" fill="#a52a2a">EMX</text><text x="1519.7" y="355.7" font-size="25" text-anchor="middle" fill="#0000ff">PT</text><text x="1509.8" y="460" font-size="25" text-anchor="middle" fill="#00d000">IT</text><text x="1554.3" y="629.7" font-size="25" text-anchor="middle" fill="#a52a2a">EMX</text><path d="M994.5 599.3L994.5 515.2" stroke="#000" stroke-width="4.2" fill="none"/><path d="M994.5 504L1002 520.5L994.5 515.2L987 520.5Z" fill="#000"/><path d="M992.4 597.2L1075.8 597.2" stroke="#000" stroke-width="4.2" fill="none"/><path d="M1087 597.2L1070.5 604.7L1075.8 597.2L1070.5 589.7Z" fill="#000"/><text x="973" y="553.2" font-size="25" textLength="87.8" text-anchor="middle" transform="rotate(-90 973 553.2)">UMAP2</text><text x="1040.5" y="633.5" font-size="25" textLength="84.7" text-anchor="middle">UMAP1</text><g transform="translate(1007.8 61)"><g clip-path="url(#bc67_5)"><g filter="url(#infn)"><rect x="-32.1" y="0" width="64.1" height="67.5" fill="rgb(51,51,51)"/><ellipse cx="0" cy="4.7" rx="16.2" ry="8.8" fill="#000" fill-opacity="0.9"/><ellipse cx="0" cy="39.1" rx="32.1" ry="38.5" fill="url(#hb)" opacity=".5"/><ellipse cx="6.1" cy="22.3" rx="5.8" ry="9" fill="url(#hb)" opacity=".8"/><ellipse cx="-6.1" cy="22.3" rx="5.8" ry="9" fill="url(#hb)" opacity=".8"/><ellipse cx="7.4" cy="44.6" rx="9.6" ry="12.8" fill="url(#hb)"/><ellipse cx="-7.4" cy="44.6" rx="9.6" ry="12.8" fill="url(#hb)"/><ellipse cx="8.1" cy="33.8" rx="9" ry="20.5" fill="url(#hb)" opacity=".4"/><ellipse cx="-8.1" cy="33.8" rx="9" ry="20.5" fill="url(#hb)" opacity=".4"/></g><use href="#ba67_5x" stroke="#fff" stroke-opacity="0.75" stroke-width="0.6"/></g><use href="#bo67_5" stroke="#0000ff" stroke-width="1.5"/></g><g transform="translate(1171.7 62)"><g clip-path="url(#bc67_5)"><g filter="url(#infn)"><rect x="-32.1" y="0" width="64.1" height="67.5" fill="rgb(51,51,51)"/><ellipse cx="0" cy="4.7" rx="16.2" ry="8.8" fill="#000" fill-opacity="0.9"/><ellipse cx="0" cy="39.1" rx="32.1" ry="38.5" fill="url(#hb)" opacity=".5"/><ellipse cx="6.1" cy="22.3" rx="5.8" ry="9" fill="url(#hb)" opacity=".8"/><ellipse cx="-6.1" cy="22.3" rx="5.8" ry="9" fill="url(#hb)" opacity=".8"/><ellipse cx="7.4" cy="44.6" rx="9.6" ry="12.8" fill="url(#hb)"/><ellipse cx="-7.4" cy="44.6" rx="9.6" ry="12.8" fill="url(#hb)"/><ellipse cx="8.1" cy="33.8" rx="9" ry="20.5" fill="url(#hb)" opacity=".4"/><ellipse cx="-8.1" cy="33.8" rx="9" ry="20.5" fill="url(#hb)" opacity=".4"/></g><use href="#ba67_5x" stroke="#fff" stroke-opacity="0.75" stroke-width="0.6"/></g><use href="#bo67_5" stroke="#0000ff" stroke-width="1.5"/></g><g transform="translate(1081.5 170.3)"><g clip-path="url(#bc67_5)"><g filter="url(#infn)"><rect x="-32.1" y="0" width="64.1" height="67.5" fill="rgb(51,51,51)"/><ellipse cx="0" cy="4.7" rx="16.2" ry="8.8" fill="#000" fill-opacity="0.9"/><ellipse cx="0" cy="39.1" rx="32.1" ry="38.5" fill="url(#hb)" opacity=".5"/><ellipse cx="6.1" cy="22.3" rx="5.8" ry="9" fill="url(#hb)" opacity=".8"/><ellipse cx="-6.1" cy="22.3" rx="5.8" ry="9" fill="url(#hb)" opacity=".8"/><ellipse cx="7.4" cy="44.6" rx="9.6" ry="12.8" fill="url(#hb)"/><ellipse cx="-7.4" cy="44.6" rx="9.6" ry="12.8" fill="url(#hb)"/><ellipse cx="8.1" cy="33.8" rx="9" ry="20.5" fill="url(#hb)" opacity=".4"/><ellipse cx="-8.1" cy="33.8" rx="9" ry="20.5" fill="url(#hb)" opacity=".4"/></g><use href="#ba67_5x" stroke="#fff" stroke-opacity="0.75" stroke-width="0.6"/></g><use href="#bo67_5" stroke="#0000ff" stroke-width="1.5"/></g><g transform="translate(1202.5 152)"><g clip-path="url(#bc67_5)"><g filter="url(#infn)"><rect x="-32.1" y="0" width="64.1" height="67.5" fill="rgb(51,51,51)"/><ellipse cx="0" cy="4.7" rx="16.2" ry="8.8" fill="#000" fill-opacity="0.9"/><ellipse cx="0" cy="39.1" rx="32.1" ry="38.5" fill="url(#hb)" opacity=".5"/><ellipse cx="6.1" cy="22.3" rx="5.8" ry="9" fill="url(#hb)" opacity=".8"/><ellipse cx="-6.1" cy="22.3" rx="5.8" ry="9" fill="url(#hb)" opacity=".8"/><ellipse cx="7.4" cy="44.6" rx="9.6" ry="12.8" fill="url(#hb)"/><ellipse cx="-7.4" cy="44.6" rx="9.6" ry="12.8" fill="url(#hb)"/><ellipse cx="8.1" cy="33.8" rx="9" ry="20.5" fill="url(#hb)" opacity=".4"/><ellipse cx="-8.1" cy="33.8" rx="9" ry="20.5" fill="url(#hb)" opacity=".4"/></g><use href="#ba67_5x" stroke="#fff" stroke-opacity="0.75" stroke-width="0.6"/></g><use href="#bo67_5" stroke="#0000ff" stroke-width="1.5"/></g><g transform="translate(1467.4 68)"><g clip-path="url(#bc67_5)"><g filter="url(#infn)"><rect x="-32.1" y="0" width="64.1" height="67.5" fill="rgb(64,64,64)"/><ellipse cx="0" cy="4.7" rx="16.2" ry="8.8" fill="#000" fill-opacity="0.75"/><ellipse cx="13.5" cy="33.8" rx="25.6" ry="28.2" fill="url(#hb)" opacity=".4"/><ellipse cx="-13.5" cy="33.8" rx="25.6" ry="28.2" fill="url(#hb)" opacity=".4"/><ellipse cx="14.8" cy="37.1" rx="14.1" ry="11.5" fill="url(#hb)"/><ellipse cx="-14.8" cy="37.1" rx="14.1" ry="11.5" fill="url(#hb)"/></g><use href="#ba67_5x" stroke="#fff" stroke-opacity="0.75" stroke-width="0.6"/></g><use href="#bo67_5" stroke="#00c800" stroke-width="1.8"/></g><g transform="translate(1538.2 51.5)"><g clip-path="url(#bc67_5)"><g filter="url(#infn)"><rect x="-32.1" y="0" width="64.1" height="67.5" fill="rgb(64,64,64)"/><ellipse cx="0" cy="4.7" rx="16.2" ry="8.8" fill="#000" fill-opacity="0.75"/><ellipse cx="13.5" cy="30.4" rx="25.6" ry="25.6" fill="url(#hb)" opacity=".4"/><ellipse cx="-13.5" cy="30.4" rx="25.6" ry="25.6" fill="url(#hb)" opacity=".4"/><ellipse cx="17.6" cy="31.7" rx="15.4" ry="11.5" fill="url(#hb)"/><ellipse cx="-17.6" cy="31.7" rx="15.4" ry="11.5" fill="url(#hb)"/><ellipse cx="0" cy="52.6" rx="9" ry="15.4" fill="url(#db)" opacity=".8"/></g><use href="#ba67_5x" stroke="#fff" stroke-opacity="0.75" stroke-width="0.6"/></g><use href="#bo67_5" stroke="#00c800" stroke-width="1.8"/></g><g transform="translate(1462 145)"><g clip-path="url(#bc67_5)"><g filter="url(#infn)"><rect x="-32.1" y="0" width="64.1" height="67.5" fill="rgb(64,64,64)"/><ellipse cx="0" cy="4.7" rx="16.2" ry="8.8" fill="#000" fill-opacity="0.75"/><ellipse cx="13.5" cy="33.8" rx="25.6" ry="28.2" fill="url(#hb)" opacity=".4"/><ellipse cx="-13.5" cy="33.8" rx="25.6" ry="28.2" fill="url(#hb)" opacity=".4"/><ellipse cx="17.6" cy="37.1" rx="14.1" ry="14.1" fill="url(#hb)"/><ellipse cx="-17.6" cy="37.1" rx="14.1" ry="14.1" fill="url(#hb)"/></g><use href="#ba67_5x" stroke="#fff" stroke-opacity="0.75" stroke-width="0.6"/></g><use href="#bo67_5" stroke="#00c800" stroke-width="1.8"/></g><g transform="translate(1465.8 221.5)"><g clip-path="url(#bc67_5)"><g filter="url(#infn)"><rect x="-32.1" y="0" width="64.1" height="67.5" fill="rgb(64,64,64)"/><ellipse cx="0" cy="4.7" rx="16.2" ry="8.8" fill="#000" fill-opacity="0.75"/><ellipse cx="13.5" cy="35.1" rx="25.6" ry="28.2" fill="url(#hb)" opacity=".4"/><ellipse cx="-13.5" cy="35.1" rx="25.6" ry="28.2" fill="url(#hb)" opacity=".4"/><ellipse cx="14.8" cy="39.1" rx="14.1" ry="11.5" fill="url(#hb)"/><ellipse cx="-14.8" cy="39.1" rx="14.1" ry="11.5" fill="url(#hb)"/></g><use href="#ba67_5x" stroke="#fff" stroke-opacity="0.75" stroke-width="0.6"/></g><use href="#bo67_5" stroke="#00c800" stroke-width="1.8"/></g><g transform="translate(1627.2 63.5)"><g clip-path="url(#bc67_5)"><g filter="url(#infn)"><rect x="-32.1" y="0" width="64.1" height="67.5" fill="rgb(71,71,71)"/><ellipse cx="0" cy="4.7" rx="16.2" ry="8.8" fill="#000" fill-opacity="0.7"/><ellipse cx="0" cy="41.9" rx="38.5" ry="38.5" fill="url(#hb)" opacity=".4"/><ellipse cx="14.8" cy="37.1" rx="12.8" ry="12.8" fill="url(#hb)"/><ellipse cx="-14.8" cy="37.1" rx="12.8" ry="12.8" fill="url(#hb)"/><ellipse cx="13.5" cy="62.1" rx="18" ry="11.5" fill="url(#hb)" opacity=".95"/><ellipse cx="-13.5" cy="62.1" rx="18" ry="11.5" fill="url(#hb)" opacity=".95"/><ellipse cx="0" cy="55.3" rx="10.3" ry="18" fill="url(#hb)" opacity=".75"/></g><use href="#ba67_5x" stroke="#fff" stroke-opacity="0.75" stroke-width="0.6"/></g><use href="#bo67_5" stroke="#a52a2a" stroke-width="1.5"/></g><g transform="translate(1657.2 137)"><g clip-path="url(#bc67_5)"><g filter="url(#infn)"><rect x="-32.1" y="0" width="64.1" height="67.5" fill="rgb(71,71,71)"/><ellipse cx="0" cy="4.7" rx="16.2" ry="8.8" fill="#000" fill-opacity="0.7"/><ellipse cx="0" cy="41.9" rx="38.5" ry="38.5" fill="url(#hb)" opacity=".4"/><ellipse cx="14.8" cy="37.1" rx="12.8" ry="12.8" fill="url(#hb)"/><ellipse cx="-14.8" cy="37.1" rx="12.8" ry="12.8" fill="url(#hb)"/><ellipse cx="13.5" cy="62.1" rx="18" ry="11.5" fill="url(#hb)" opacity=".95"/><ellipse cx="-13.5" cy="62.1" rx="18" ry="11.5" fill="url(#hb)" opacity=".95"/><ellipse cx="0" cy="55.3" rx="10.3" ry="18" fill="url(#hb)" opacity=".75"/></g><use href="#ba67_5x" stroke="#fff" stroke-opacity="0.75" stroke-width="0.6"/></g><use href="#bo67_5" stroke="#a52a2a" stroke-width="1.5"/></g><g transform="translate(1651.8 216.8)"><g clip-path="url(#bc67_5)"><g filter="url(#infn)"><rect x="-32.1" y="0" width="64.1" height="67.5" fill="rgb(71,71,71)"/><ellipse cx="0" cy="4.7" rx="16.2" ry="8.8" fill="#000" fill-opacity="0.7"/><ellipse cx="0" cy="41.9" rx="38.5" ry="38.5" fill="url(#hb)" opacity=".4"/><ellipse cx="14.8" cy="37.1" rx="12.8" ry="12.8" fill="url(#hb)"/><ellipse cx="-14.8" cy="37.1" rx="12.8" ry="12.8" fill="url(#hb)"/><ellipse cx="13.5" cy="62.1" rx="18" ry="11.5" fill="url(#hb)" opacity=".95"/><ellipse cx="-13.5" cy="62.1" rx="18" ry="11.5" fill="url(#hb)" opacity=".95"/><ellipse cx="0" cy="55.3" rx="10.3" ry="18" fill="url(#hb)" opacity=".75"/></g><use href="#ba67_5x" stroke="#fff" stroke-opacity="0.75" stroke-width="0.6"/></g><use href="#bo67_5" stroke="#a52a2a" stroke-width="1.5"/></g><g transform="translate(1583 240.7)"><g clip-path="url(#bc67_5)"><g filter="url(#infn)"><rect x="-32.1" y="0" width="64.1" height="67.5" fill="rgb(71,71,71)"/><ellipse cx="0" cy="4.7" rx="16.2" ry="8.8" fill="#000" fill-opacity="0.7"/><ellipse cx="0" cy="41.9" rx="38.5" ry="38.5" fill="url(#hb)" opacity=".4"/><ellipse cx="14.8" cy="37.1" rx="12.8" ry="12.8" fill="url(#hb)"/><ellipse cx="-14.8" cy="37.1" rx="12.8" ry="12.8" fill="url(#hb)"/><ellipse cx="13.5" cy="62.1" rx="18" ry="11.5" fill="url(#hb)" opacity=".95"/><ellipse cx="-13.5" cy="62.1" rx="18" ry="11.5" fill="url(#hb)" opacity=".95"/><ellipse cx="0" cy="55.3" rx="10.3" ry="18" fill="url(#hb)" opacity=".75"/></g><use href="#ba67_5x" stroke="#fff" stroke-opacity="0.75" stroke-width="0.6"/></g><use href="#bo67_5" stroke="#a52a2a" stroke-width="1.5"/></g><g transform="translate(1239 535.8)"><g clip-path="url(#bc67_5)"><g filter="url(#infn)"><rect x="-32.1" y="0" width="64.1" height="67.5" fill="rgb(51,51,51)"/><ellipse cx="0" cy="4.7" rx="16.2" ry="8.8" fill="#000" fill-opacity="0.8"/><ellipse cx="-14.8" cy="58" rx="19.2" ry="16.7" fill="url(#hb)"/><ellipse cx="-12.2" cy="37.8" rx="9.6" ry="25.6" fill="url(#hb)" opacity=".75"/><ellipse cx="-6.8" cy="27" rx="7.7" ry="12.8" fill="url(#hb)" opacity=".5"/><ellipse cx="-20.2" cy="47.2" rx="12.8" ry="19.2" fill="url(#hb)" opacity=".45"/><ellipse cx="16.9" cy="40.5" rx="32.1" ry="51.3" fill="url(#db)" opacity=".4"/></g><use href="#ba67_5x" stroke="#fff" stroke-opacity="0.75" stroke-width="0.6"/></g><use href="#bo67_5" stroke="#0000ff" stroke-width="1.5"/></g><g transform="translate(1368.5 526.6)"><g clip-path="url(#bc67_5)"><g filter="url(#infn)"><rect x="-32.1" y="0" width="64.1" height="67.5" fill="rgb(51,51,51)"/><ellipse cx="0" cy="4.7" rx="16.2" ry="8.8" fill="#000" fill-opacity="0.8"/><ellipse cx="-14.8" cy="58" rx="19.2" ry="16.7" fill="url(#hb)"/><ellipse cx="-12.2" cy="37.8" rx="9.6" ry="25.6" fill="url(#hb)" opacity=".75"/><ellipse cx="-6.8" cy="27" rx="7.7" ry="12.8" fill="url(#hb)" opacity=".5"/><ellipse cx="-20.2" cy="47.2" rx="12.8" ry="19.2" fill="url(#hb)" opacity=".45"/><ellipse cx="16.9" cy="40.5" rx="32.1" ry="51.3" fill="url(#db)" opacity=".4"/></g><use href="#ba67_5x" stroke="#fff" stroke-opacity="0.75" stroke-width="0.6"/></g><use href="#bo67_5" stroke="#0000ff" stroke-width="1.5"/></g><g transform="translate(1270.4 605.5)"><g clip-path="url(#bc67_5)"><g filter="url(#infn)"><rect x="-32.1" y="0" width="64.1" height="67.5" fill="rgb(51,51,51)"/><ellipse cx="0" cy="4.7" rx="16.2" ry="8.8" fill="#000" fill-opacity="0.8"/><ellipse cx="-14.8" cy="58" rx="19.2" ry="16.7" fill="url(#hb)"/><ellipse cx="-12.2" cy="37.8" rx="9.6" ry="25.6" fill="url(#hb)" opacity=".75"/><ellipse cx="-6.8" cy="27" rx="7.7" ry="12.8" fill="url(#hb)" opacity=".5"/><ellipse cx="-20.2" cy="47.2" rx="12.8" ry="19.2" fill="url(#hb)" opacity=".45"/><ellipse cx="16.9" cy="40.5" rx="32.1" ry="51.3" fill="url(#db)" opacity=".4"/></g><use href="#ba67_5x" stroke="#fff" stroke-opacity="0.75" stroke-width="0.6"/></g><use href="#bo67_5" stroke="#0000ff" stroke-width="1.5"/></g><g transform="translate(1390.7 604)"><g clip-path="url(#bc67_5)"><g filter="url(#infn)"><rect x="-32.1" y="0" width="64.1" height="67.5" fill="rgb(51,51,51)"/><ellipse cx="0" cy="4.7" rx="16.2" ry="8.8" fill="#000" fill-opacity="0.8"/><ellipse cx="-14.8" cy="58" rx="19.2" ry="16.7" fill="url(#hb)"/><ellipse cx="-12.2" cy="37.8" rx="9.6" ry="25.6" fill="url(#hb)" opacity=".75"/><ellipse cx="-6.8" cy="27" rx="7.7" ry="12.8" fill="url(#hb)" opacity=".5"/><ellipse cx="-20.2" cy="47.2" rx="12.8" ry="19.2" fill="url(#hb)" opacity=".45"/><ellipse cx="16.9" cy="40.5" rx="32.1" ry="51.3" fill="url(#db)" opacity=".4"/></g><use href="#ba67_5x" stroke="#fff" stroke-opacity="0.75" stroke-width="0.6"/></g><use href="#bo67_5" stroke="#0000ff" stroke-width="1.5"/></g><path d="M1030.8 92.2L1059 76.6M1107.4 92.2L1141.5 105M1030.8 195.8L1053.5 201.5M1144.3 203L1171.3 200M1265.8 564.2L1275 559.5M1285.7 613.2L1302.6 594.8M1337.8 577.9L1327.1 585.6M1348.6 616.2L1370 627" stroke="#0000ff" stroke-width="1.7" fill="none"/><path d="M1493.3 129.3L1511.3 167.7M1536.9 111.4L1535.2 177.2M1493.3 190.9L1519.6 192.3M1488.5 243L1507.7 231" stroke="#00d000" stroke-width="1.7" fill="none"/><path d="M1605.9 129.3L1585.5 165.3M1626.2 169.6L1601 169.6M1634.6 221.6L1594 182M1583 242L1579.5 189.2" stroke="#a52a2a" stroke-width="1.5" fill="none"/><g transform="scale(.5)" fill="none" stroke-width="2.9" stroke-linejoin="round"><path d="M2106 139a14 14 0 1 0 28 0a14 14 0 1 0-28 0m16 4a14 14 0 1 0 28 0a14 14 0 1 0-28 0m0 9a14 14 0 1 0 28 0a14 14 0 1 0-28 0m-4-14a14 14 0 1 0 28 0a14 14 0 1 0-28 0m-8 13a14 14 0 1 0 28 0a14 14 0 1 0-28 0m4-16a14 14 0 1 0 28 0a14 14 0 1 0-28 0m11 1a14 14 0 1 0 28 0a14 14 0 1 0-28 0m-15 3a14 14 0 1 0 28 0a14 14 0 1 0-28 0m81 24l22 22m0-22l-22 22m-15-49l22 22m0-22l-22 22m15 4l22 22m0-22l-22 22m11 2l22 22m0-22l-22 22m-14-44l22 22m0-22l-22 22m10 2l22 22m0-22l-22 22m-11-49l22 22m0-22l-22 22m12-11l22 22m0-22l-22 22m0-23l22 22m0-22l-22 22m-18-40l22 22m0-22l-22 22m16 0l22 22m0-22l-22 22m-24-58l22 22m0-22l-22 22m6-14l22 22m0-22l-22 22m16 11l22 22m0-22l-22 22m-19-4h24m-12-12v24m-9-21l18 18m0-18l-18 18m14 64h24m-12-12v24m-9-21l18 18m0-18l-18 18m5-19h24m-12-12v24m-9-21l18 18m0-18l-18 18m-21-75h24m-12-12v24m-9-21l18 18m0-18l-18 18m17 44h24m-12-12v24m-9-21l18 18m0-18l-18 18m-14-63h24m-12-12v24m-9-21l18 18m0-18l-18 18m0 91h24m-12-12v24m-9-21l18 18m0-18l-18 18m-4-86h24m-12-12v24m-9-21l18 18m0-18l-18 18m-18-19h24m-12-12v24m-9-21l18 18m0-18l-18 18m-3-16h24m-12-12v24m-9-21l18 18m0-18l-18 18m1-8h24m-12-12v24m-9-21l18 18m0-18l-18 18m9 44h24m-12-12v24m-9-21l18 18m0-18l-18 18m-17-69h24m-12-12v24m-9-21l18 18m0-18l-18 18m4 21h24m-12-12v24m-9-21l18 18m0-18l-18 18m-6-24h24m-12-12v24m-9-21l18 18m0-18l-18 18m7 11h24m-12-12v24m-9-21l18 18m0-18l-18 18m-119 5h26m-13-13v26m48-36h26m-13-13v26m-19 7h26m-13-13v26m-46-6h26m-13-13v26m16-32h26m-13-13v26m-76 18h26m-13-13v26m27-34h26m-13-13v26m-18-11h26m-13-13v26m29-23h26m-13-13v26m-23-7h26m-13-13v26m1 22h26m-13-13v26m-68-19h26m-13-13v26m17 9h26m-13-13v26m-23-16h26m-13-13v26m-11-19h26m-13-13v26m24-11h26m-13-13v26m-39-13h26m-13-13v26m-33-12h26m-13-13v26m-15-32h26m-13-13v26m100-2l18 18m0-18l-18 18m-11 34h24m-12-12v24m-9-21l18 18m0-18l-18 18m12 11h24m-12-12v24m-9-21l18 18m0-18l-18 18m21 9h24m-12-12v24m-9-21l18 18m0-18l-18 18m-11 11h24m-12-12v24m-9-21l18 18m0-18l-18 18m25 5h24m-12-12v24m-9-21l18 18m0-18l-18 18m-8 14h24m-12-12v24m-9-21l18 18m0-18l-18 18m19-6h24m-12-12v24m-9-21l18 18m0-18l-18 18m-34-23h24m-12-12v24m-9-21l18 18m0-18l-18 18m18 10h24m-12-12v24m-9-21l18 18m0-18l-18 18m-18-6h24m-12-12v24m-9-21l18 18m0-18l-18 18m3-48a9 9 0 1 0 18 0a9 9 0 1 0-18 0m14 2a9 9 0 1 0 18 0a9 9 0 1 0-18 0m-241-20l-24-14v28zm1 13l-24-14v28zm17 4l-24-14v28zm-10-10l-24-14v28zm17 17l-24-14v28zm-10-2l-24-14v28zm-4-4l-24-14v28zm-15-11l-24-14v28zm30 21l-24-14v28zm-11-13l-24-14v28zm3 5l-24-14v28zm-11-3l-24-14v28zm11 11l-24-14v28zm-16-21l-24-14v28zm23-3l-24-14v28zm0 20l-24-14v28zm0 1l-24-14v28zm17 3l-24-14v28zm-18-8l-24-14v28zm-3-6l-24-14v28zm10 18l-24-14v28zm-24-31l-24-14v28zm31 100l18 18m0-18l-18 18m241-22a13 13 0 1 0 26 0a13 13 0 1 0-26 0m216 629l20 20m0-20l-20 20m6-8l20 20m0-20l-20 20m28-35l20 20m0-20l-20 20m13 3l20 20m0-20l-20 20m17 6l20 20m0-20l-20 20m22-32l20 20m0-20l-20 20m3 22l20 20m0-20l-20 20m12-26l20 20m0-20l-20 20m-79-68a12 12 0 1 0 24 0a12 12 0 1 0-24 0m77 31l-22-13v26zm-8 35l-24-14v28zm32 23h22m-11-11v22m-26-20h22m-11-11v22m-11-8h22m-11-11v22m-9-21h22m-11-11v22m-33-8h22m-11-11v22m50 18h22m-11-11v22m-14 1h22m-11-11v22m-32-37h22m-11-11v22m9 0h22m-11-11v22m-3 8h22m-11-11v22m-32-39h22m-11-11v22m7 16h22m-11-11v22m-12-19h22m-11-11v22m-56-36h22m-11-11v22m29 8h22m-11-11v22m-10-1h22m-11-11v22m-37-50l20 20m0-20l-20 20m3-26l20 20m0-20l-20 20m-15-18l20 20m0-20l-20 20m19-10l20 20m0-20l-20 20m-4-32l20 20m0-20l-20 20m-13-26l20 20m0-20l-20 20m7-8l20 20m0-20l-20 20m1-49h22m-11-11v22" stroke="#0000ff"/></g><filter id="rg" x="0" y="0" width="1" height="1"><feTurbulence type="fractalNoise" baseFrequency=".3" numOctaves="2" seed="3"/><feDisplacementMap in="SourceGraphic" scale="7" xChannelSelector="R" yChannelSelector="G"/></filter><g filter="url(#rg)"><clipPath id="g1"><path d="M223.9 1456.4C225.4 1456.4 229.4 1456.9 230.1 1459.5C230.7 1462.1 228.5 1472.3 229 1475.8C229.6 1479.4 232.2 1484 234.1 1486C236.1 1488.1 242.8 1488.4 243.3 1491.1C243.9 1493.9 240.1 1503.3 238.2 1506.5C236.3 1509.6 231.4 1513 229 1514.6C226.7 1516.3 222.6 1519.5 220.9 1518.7C219.1 1517.9 217.4 1511.5 215.8 1508.5C214.1 1505.5 209.7 1499.8 208.6 1496.3C207.5 1492.7 207 1485.5 207.6 1481.9C208.1 1478.4 211.2 1472.7 212.7 1469.7C214.2 1466.7 217.3 1461.2 218.8 1459.5C220.3 1457.7 222.4 1456.4 223.9 1456.4Z"/></clipPath><path d="M223.9 1456.4C225.4 1456.4 229.4 1456.9 230.1 1459.5C230.7 1462.1 228.5 1472.3 229 1475.8C229.6 1479.4 232.2 1484 234.1 1486C236.1 1488.1 242.8 1488.4 243.3 1491.1C243.9 1493.9 240.1 1503.3 238.2 1506.5C236.3 1509.6 231.4 1513 229 1514.6C226.7 1516.3 222.6 1519.5 220.9 1518.7C219.1 1517.9 217.4 1511.5 215.8 1508.5C214.1 1505.5 209.7 1499.8 208.6 1496.3C207.5 1492.7 207 1485.5 207.6 1481.9C208.1 1478.4 211.2 1472.7 212.7 1469.7C214.2 1466.7 217.3 1461.2 218.8 1459.5C220.3 1457.7 222.4 1456.4 223.9 1456.4Z" fill="#a52a2a"/><g clip-path="url(#g1)"><path d="M223.9 1455.4C225.6 1455.5 230.5 1457.3 231.1 1459.5C231.6 1461.7 229.7 1469.3 228 1471.7C226.4 1474.2 221.4 1476.8 218.8 1477.9C216.2 1479 209.4 1481.1 208.6 1479.9C207.8 1478.7 211.3 1471.5 212.7 1468.7C214.1 1465.8 217.3 1460.2 218.8 1458.5C220.3 1456.7 222.3 1455.2 223.9 1455.4Z" fill="#00e000"/><ellipse cx="215.8" cy="1490.1" rx="7.8" ry="13.3" fill="#0000ff"/><ellipse cx="223.9" cy="1486" rx="4.5" ry="8.2" fill="#a52a2a"/><ellipse cx="231.5" cy="1511" rx="4.1" ry="3.3" fill="#00e000"/><g transform="scale(.5)" fill="none" stroke-width="1.6"><g stroke="#a52a2a"><use href="#b0" x="434" y="2998"/><use href="#b4" x="464" y="3019"/><use href="#b2" x="428" y="2942"/><use href="#b1" x="426" y="2941"/><use href="#b4" x="453" y="2939"/><use href="#b7" x="436" y="2967"/><use href="#b6" x="475" y="2989"/></g><g stroke="#00e000"><use href="#g2" x="434" y="3019"/><use href="#g7" x="450" y="3007"/><use href="#g7" x="456" y="2966"/><use href="#g2" x="441" y="2966"/><use href="#g4" x="438" y="2927"/><use href="#g3" x="474" y="3012"/><use href="#g2" x="455" y="3006"/></g><g stroke="#0000ff"><use href="#p0" x="453" y="2944"/><use href="#p3" x="448" y="2988"/><use href="#p2" x="443" y="2929"/><use href="#p7" x="450" y="2942"/><use href="#p7" x="432" y="2937"/><use href="#p4" x="441" y="2922"/><use href="#p2" x="443" y="3002"/></g></g></g><clipPath id="g2"><path d="M345.5 1408.4C346.5 1408.3 349.1 1408 348.6 1410.4C348 1412.9 341.8 1423 341.4 1426.8C341 1430.6 343.3 1436 345.5 1439C347.7 1442 354.2 1447.6 357.8 1449.3C361.3 1450.9 370 1450.2 372.1 1451.3C374.1 1452.4 374.7 1455.2 373.1 1457.4C371.5 1459.6 362.4 1465.3 359.8 1467.6C357.2 1470 356.1 1474.5 353.7 1474.8C351.2 1475.1 345 1470.4 341.4 1469.7C337.9 1469 330.4 1471.6 327.1 1469.7C323.8 1467.8 318.7 1459.1 316.9 1455.4C315.1 1451.7 312.7 1444.6 313.8 1442.1C314.9 1439.7 322.5 1439.6 325.1 1437C327.7 1434.4 331.1 1426.1 333.2 1422.7C335.4 1419.3 339.8 1413.4 341.4 1411.5C343.1 1409.5 344.6 1408.5 345.5 1408.4Z"/></clipPath><path d="M345.5 1408.4C346.5 1408.3 349.1 1408 348.6 1410.4C348 1412.9 341.8 1423 341.4 1426.8C341 1430.6 343.3 1436 345.5 1439C347.7 1442 354.2 1447.6 357.8 1449.3C361.3 1450.9 370 1450.2 372.1 1451.3C374.1 1452.4 374.7 1455.2 373.1 1457.4C371.5 1459.6 362.4 1465.3 359.8 1467.6C357.2 1470 356.1 1474.5 353.7 1474.8C351.2 1475.1 345 1470.4 341.4 1469.7C337.9 1469 330.4 1471.6 327.1 1469.7C323.8 1467.8 318.7 1459.1 316.9 1455.4C315.1 1451.7 312.7 1444.6 313.8 1442.1C314.9 1439.7 322.5 1439.6 325.1 1437C327.7 1434.4 331.1 1426.1 333.2 1422.7C335.4 1419.3 339.8 1413.4 341.4 1411.5C343.1 1409.5 344.6 1408.5 345.5 1408.4Z" fill="#a52a2a"/><g clip-path="url(#g2)"><path d="M312.8 1441.1C314 1438.4 322.8 1437.5 325.1 1436C327.4 1434.5 329.9 1428.9 330.2 1429.8C330.5 1430.8 328.5 1439.4 327.5 1443.1C326.6 1446.8 322.4 1453.9 323 1457.4C323.7 1460.9 331.8 1467.5 332.2 1469.3C332.6 1471.1 328.3 1472.4 326.1 1470.7C323.9 1469 317.7 1460.4 315.9 1456.4C314.1 1452.5 311.6 1443.8 312.8 1441.1Z" fill="#00e000"/><path d="M326.1 1470.7C325.3 1469.8 332.8 1464.2 335.3 1464C337.7 1463.8 343.7 1468.4 344.5 1469.3C345.3 1470.2 343.9 1470.7 341.4 1470.9C339 1471.1 326.9 1471.6 326.1 1470.7Z" fill="#00e000"/><path d="M327.1 1443.1C328.6 1443.1 333.1 1447.3 335.3 1449.3C337.5 1451.2 342.9 1455.7 343.5 1457.4C344 1459.1 341.6 1462.1 339.4 1461.9C337.2 1461.7 329.2 1457.5 327.1 1455.8C325.1 1454.1 324.1 1450.9 324.1 1449.3C324.1 1447.6 325.6 1443.1 327.1 1443.1Z" fill="#0000ff"/><ellipse cx="352" cy="1471.7" rx="2.7" ry="2.5" fill="#0000ff"/><path d="M342.4 1411.5L336.3 1422.7" stroke="#00e000" stroke-width="2.5" fill="none" stroke-linecap="round"/><g transform="scale(.5)" fill="none" stroke-width="1.6"><g stroke="#a52a2a"><use href="#b0" x="715" y="2915"/><use href="#b7" x="657" y="2918"/><use href="#b5" x="669" y="2910"/><use href="#b1" x="706" y="2937"/><use href="#b0" x="686" y="2931"/><use href="#b2" x="632" y="2894"/><use href="#b4" x="651" y="2921"/><use href="#b1" x="693" y="2936"/><use href="#b6" x="698" y="2924"/></g><g stroke="#00e000"><use href="#g6" x="663" y="2852"/><use href="#g5" x="683" y="2865"/><use href="#g0" x="667" y="2883"/><use href="#g4" x="684" y="2906"/><use href="#g6" x="687" y="2938"/><use href="#g2" x="709" y="2930"/><use href="#g2" x="658" y="2895"/><use href="#g0" x="670" y="2849"/><use href="#g1" x="650" y="2881"/></g><g stroke="#0000ff"><use href="#p7" x="664" y="2897"/><use href="#p3" x="662" y="2863"/><use href="#p6" x="639" y="2882"/><use href="#p0" x="697" y="2894"/><use href="#p0" x="679" y="2863"/><use href="#p1" x="733" y="2915"/><use href="#p2" x="736" y="2907"/><use href="#p5" x="656" y="2927"/><use href="#p6" x="656" y="2921"/></g></g></g><clipPath id="g3"><path d="M314.9 1518.7C315.9 1519.3 318.7 1522.4 321 1524.9C323.3 1527.3 331.4 1533.3 332.2 1537.1C333 1540.9 328.2 1548.3 327.1 1553.5C326 1558.6 325.4 1571.9 324.1 1575.9C322.7 1580 318.4 1583.6 316.9 1584.1C315.4 1584.7 313.5 1582.8 312.8 1580C312.1 1577.3 312.5 1567.2 311.8 1563.7C311.1 1560.1 307.8 1557.6 307.7 1553.5C307.6 1549.4 310.1 1537.4 310.8 1533C311.5 1528.7 312.3 1522.7 312.8 1520.8C313.4 1518.9 313.8 1518.2 314.9 1518.7Z"/></clipPath><path d="M314.9 1518.7C315.9 1519.3 318.7 1522.4 321 1524.9C323.3 1527.3 331.4 1533.3 332.2 1537.1C333 1540.9 328.2 1548.3 327.1 1553.5C326 1558.6 325.4 1571.9 324.1 1575.9C322.7 1580 318.4 1583.6 316.9 1584.1C315.4 1584.7 313.5 1582.8 312.8 1580C312.1 1577.3 312.5 1567.2 311.8 1563.7C311.1 1560.1 307.8 1557.6 307.7 1553.5C307.6 1549.4 310.1 1537.4 310.8 1533C311.5 1528.7 312.3 1522.7 312.8 1520.8C313.4 1518.9 313.8 1518.2 314.9 1518.7Z" fill="#a52a2a"/><g clip-path="url(#g3)"><path d="M311.8 1518.7C313.3 1517.8 319.2 1521.9 321 1523.8C322.8 1525.7 326.6 1531.1 325.5 1533C324.4 1534.9 314.9 1538.4 312.8 1538.1C310.7 1537.9 310.1 1533.6 310 1531C309.8 1528.4 310.3 1519.7 311.8 1518.7Z" fill="#0000ff"/><path d="M325.5 1533C327 1531.9 332.4 1534.8 332.8 1537.1C333.3 1539.4 330.3 1549.3 328.8 1550.4C327.2 1551.5 321.8 1548 321.4 1545.7C321 1543.4 324 1534.2 325.5 1533Z" fill="#00e000"/><ellipse cx="315.3" cy="1577" rx="2.9" ry="3.3" fill="#0000ff"/><ellipse cx="310" cy="1549.4" rx="2.5" ry="3.3" fill="#00e000"/><ellipse cx="321" cy="1553.5" rx="2" ry="2.9" fill="#0000ff"/><g transform="scale(.5)" fill="none" stroke-width="1.6"><g stroke="#a52a2a"><use href="#b3" x="630" y="3163"/><use href="#b5" x="630" y="3049"/><use href="#b6" x="636" y="3119"/><use href="#b2" x="630" y="3137"/><use href="#b7" x="621" y="3078"/><use href="#b6" x="629" y="3140"/><use href="#b4" x="632" y="3160"/></g><g stroke="#00e000"><use href="#g3" x="623" y="3113"/><use href="#g7" x="640" y="3054"/><use href="#g0" x="643" y="3132"/><use href="#g1" x="617" y="3107"/><use href="#g3" x="630" y="3118"/><use href="#g5" x="647" y="3133"/><use href="#g0" x="636" y="3136"/></g><g stroke="#0000ff"><use href="#p2" x="643" y="3154"/><use href="#p0" x="645" y="3106"/><use href="#p7" x="634" y="3057"/><use href="#p5" x="638" y="3084"/><use href="#p6" x="622" y="3083"/><use href="#p7" x="627" y="3075"/><use href="#p6" x="621" y="3109"/></g></g></g><clipPath id="g4"><path d="M390.5 1531C391.3 1529.4 395.9 1527.9 398.6 1528.9C401.4 1530 408.7 1535.9 410.9 1539.2C413.1 1542.4 414.7 1549.4 415 1553.5C415.3 1557.6 413.5 1566.5 412.9 1569.8C412.4 1573.1 411.7 1576.6 410.9 1578C410.1 1579.3 408.3 1580.2 406.8 1580C405.3 1579.9 400.1 1576.1 399.7 1577C399.2 1577.8 401.8 1582.8 403.7 1586.2C405.7 1589.6 413.3 1600.1 414 1602.5C414.6 1605 411.2 1605.6 408.9 1604.5C406.5 1603.5 398.5 1594.3 396.6 1594.3C394.7 1594.3 396.5 1602.1 394.5 1604.5C392.6 1607 385.3 1610.5 382.3 1612.7C379.3 1614.9 374.5 1621.7 372.1 1620.9C369.6 1620.1 365.1 1610.1 363.9 1606.6C362.7 1603 362.1 1598.7 362.9 1594.3C363.7 1590 368.5 1578.8 370 1573.9C371.5 1569 371.7 1560.8 374.1 1557.6C376.6 1554.3 386 1551.6 388.4 1549.4C390.9 1547.2 392.2 1543.7 392.5 1541.2C392.8 1538.8 389.6 1532.6 390.5 1531Z"/></clipPath><path d="M390.5 1531C391.3 1529.4 395.9 1527.9 398.6 1528.9C401.4 1530 408.7 1535.9 410.9 1539.2C413.1 1542.4 414.7 1549.4 415 1553.5C415.3 1557.6 413.5 1566.5 412.9 1569.8C412.4 1573.1 411.7 1576.6 410.9 1578C410.1 1579.3 408.3 1580.2 406.8 1580C405.3 1579.9 400.1 1576.1 399.7 1577C399.2 1577.8 401.8 1582.8 403.7 1586.2C405.7 1589.6 413.3 1600.1 414 1602.5C414.6 1605 411.2 1605.6 408.9 1604.5C406.5 1603.5 398.5 1594.3 396.6 1594.3C394.7 1594.3 396.5 1602.1 394.5 1604.5C392.6 1607 385.3 1610.5 382.3 1612.7C379.3 1614.9 374.5 1621.7 372.1 1620.9C369.6 1620.1 365.1 1610.1 363.9 1606.6C362.7 1603 362.1 1598.7 362.9 1594.3C363.7 1590 368.5 1578.8 370 1573.9C371.5 1569 371.7 1560.8 374.1 1557.6C376.6 1554.3 386 1551.6 388.4 1549.4C390.9 1547.2 392.2 1543.7 392.5 1541.2C392.8 1538.8 389.6 1532.6 390.5 1531Z" fill="#a52a2a"/><g clip-path="url(#g4)"><path d="M389.4 1530C390.3 1528.2 395.6 1526.7 398.6 1527.9C401.6 1529.1 409.6 1535.8 411.9 1539.2C414.2 1542.6 415.7 1549.2 416 1553.5C416.3 1557.7 415.5 1568 414 1570.8C412.5 1573.7 407.6 1575.1 404.8 1574.9C401.9 1574.8 395.8 1569.8 392.5 1569.8C389.2 1569.8 383.2 1574.2 380.2 1574.9C377.2 1575.6 370.9 1577.3 370 1574.9C369.2 1572.6 371.3 1560.6 373.7 1557.1C376.1 1553.7 385.6 1551.1 388 1549C390.5 1546.8 391.9 1543.7 392.1 1541.2C392.3 1538.7 388.6 1531.7 389.4 1530Z" fill="#0000ff"/><path d="M392.5 1572.9L411.9 1603.5" stroke="#00e000" stroke-width="5.3" fill="none" stroke-linecap="round"/><ellipse cx="376.2" cy="1588.2" rx="3.3" ry="2.9" fill="#00e000"/><ellipse cx="366.4" cy="1600.9" rx="2.9" ry="3.7" fill="#00e000"/><ellipse cx="376.6" cy="1594.9" rx="3.7" ry="4.5" fill="#0000ff"/><ellipse cx="376.2" cy="1607.8" rx="2" ry="2" fill="#0000ff"/><ellipse cx="384.3" cy="1569.8" rx="6.1" ry="2" fill="#00e000"/><ellipse cx="408.9" cy="1577" rx="2.5" ry="2.9" fill="#a52a2a"/><g transform="scale(.5)" fill="none" stroke-width="1.6"><g stroke="#a52a2a"><use href="#b1" x="733" y="3216"/><use href="#b6" x="781" y="3109"/><use href="#b4" x="786" y="3199"/><use href="#b6" x="823" y="3113"/><use href="#b4" x="800" y="3130"/><use href="#b3" x="781" y="3137"/><use href="#b4" x="804" y="3179"/><use href="#b4" x="791" y="3116"/><use href="#b6" x="744" y="3199"/><use href="#b4" x="776" y="3152"/><use href="#b4" x="731" y="3209"/><use href="#b3" x="807" y="3196"/></g><g stroke="#00e000"><use href="#g3" x="736" y="3178"/><use href="#g2" x="742" y="3216"/><use href="#g6" x="826" y="3105"/><use href="#g0" x="810" y="3098"/><use href="#g6" x="799" y="3164"/><use href="#g6" x="770" y="3188"/><use href="#g5" x="750" y="3119"/><use href="#g6" x="736" y="3205"/><use href="#g6" x="811" y="3140"/><use href="#g4" x="764" y="3196"/><use href="#g1" x="804" y="3078"/><use href="#g3" x="806" y="3148"/></g><g stroke="#0000ff"><use href="#p3" x="768" y="3211"/><use href="#p6" x="788" y="3161"/><use href="#p3" x="807" y="3139"/><use href="#p0" x="782" y="3196"/><use href="#p0" x="801" y="3195"/><use href="#p0" x="784" y="3093"/><use href="#p7" x="751" y="3138"/><use href="#p6" x="803" y="3142"/><use href="#p6" x="814" y="3087"/><use href="#p2" x="806" y="3137"/><use href="#p7" x="785" y="3068"/><use href="#p1" x="768" y="3206"/></g></g></g><clipPath id="g5"><path d="M229 1593.3C229.3 1591.1 238 1582.6 239.3 1580C240.5 1577.4 237.1 1575 238.2 1573.9C239.3 1572.8 244 1573.1 247.4 1571.9C250.8 1570.6 260.2 1565 263.8 1564.7C267.3 1564.4 271.8 1567.2 274 1569.8C276.2 1572.4 279.9 1580 280.1 1584.1C280.4 1588.2 277.9 1596.6 276 1600.5C274.1 1604.3 268 1610.4 265.8 1612.7C263.6 1615 262.1 1618.6 259.7 1617.8C257.2 1617 250.4 1609.5 247.4 1606.6C244.4 1603.7 239.7 1598.1 237.2 1596.4C234.8 1594.6 228.8 1595.5 229 1593.3Z"/></clipPath><path d="M229 1593.3C229.3 1591.1 238 1582.6 239.3 1580C240.5 1577.4 237.1 1575 238.2 1573.9C239.3 1572.8 244 1573.1 247.4 1571.9C250.8 1570.6 260.2 1565 263.8 1564.7C267.3 1564.4 271.8 1567.2 274 1569.8C276.2 1572.4 279.9 1580 280.1 1584.1C280.4 1588.2 277.9 1596.6 276 1600.5C274.1 1604.3 268 1610.4 265.8 1612.7C263.6 1615 262.1 1618.6 259.7 1617.8C257.2 1617 250.4 1609.5 247.4 1606.6C244.4 1603.7 239.7 1598.1 237.2 1596.4C234.8 1594.6 228.8 1595.5 229 1593.3Z" fill="#a52a2a"/><g clip-path="url(#g5)"><path d="M250.5 1569.4C251.8 1567.2 260.5 1563.7 263.8 1563.7C267 1563.7 272.7 1566.7 275 1569.4C277.3 1572.1 281 1579.9 281.1 1584.1C281.3 1588.3 278.2 1597.8 276.4 1600.9C274.7 1603.9 270.2 1608.4 268.3 1607C266.4 1605.6 264 1594.2 262.1 1590.7C260.2 1587.1 255.5 1583.3 254 1580.4C252.4 1577.6 249.2 1571.6 250.5 1569.4Z" fill="#00e000"/><path d="M237.2 1573.5C238.3 1572.3 245.2 1570.5 247.4 1571.4C249.7 1572.4 253.7 1578.4 254 1580.4C254.2 1582.5 251.4 1586.6 249.5 1586.6C247.5 1586.6 240.9 1582.2 239.3 1580.4C237.6 1578.7 236.1 1574.7 237.2 1573.5Z" fill="#0000ff"/><ellipse cx="261.7" cy="1591.3" rx="2.9" ry="4.1" fill="#0000ff"/><g transform="scale(.5)" fill="none" stroke-width="1.6"><g stroke="#a52a2a"><use href="#b6" x="508" y="3181"/><use href="#b0" x="522" y="3138"/><use href="#b3" x="513" y="3203"/><use href="#b4" x="508" y="3148"/><use href="#b7" x="532" y="3132"/><use href="#b2" x="530" y="3189"/><use href="#b2" x="479" y="3180"/></g><g stroke="#00e000"><use href="#g7" x="507" y="3150"/><use href="#g2" x="531" y="3137"/><use href="#g2" x="538" y="3136"/><use href="#g3" x="519" y="3171"/><use href="#g1" x="529" y="3150"/><use href="#g6" x="497" y="3151"/><use href="#g2" x="540" y="3164"/></g><g stroke="#0000ff"><use href="#p2" x="499" y="3173"/><use href="#p7" x="538" y="3160"/><use href="#p7" x="536" y="3178"/><use href="#p0" x="531" y="3215"/><use href="#p7" x="515" y="3194"/><use href="#p0" x="550" y="3200"/><use href="#p5" x="536" y="3211"/></g></g></g><clipPath id="g6"><path d="M283.2 1653.6C283.2 1651.4 290.5 1645.6 294.4 1643.4C298.4 1641.2 307.9 1636.7 312.8 1637.2C317.7 1637.8 326.4 1644.9 331.2 1647.5C336 1650 348 1653.8 348.6 1656.7C349.1 1659.5 340.1 1667.7 335.3 1668.9C330.5 1670.1 318.3 1667.1 312.8 1665.8C307.4 1664.6 298.4 1661.4 294.4 1659.7C290.5 1658.1 283.2 1655.8 283.2 1653.6Z"/></clipPath><path d="M283.2 1653.6C283.2 1651.4 290.5 1645.6 294.4 1643.4C298.4 1641.2 307.9 1636.7 312.8 1637.2C317.7 1637.8 326.4 1644.9 331.2 1647.5C336 1650 348 1653.8 348.6 1656.7C349.1 1659.5 340.1 1667.7 335.3 1668.9C330.5 1670.1 318.3 1667.1 312.8 1665.8C307.4 1664.6 298.4 1661.4 294.4 1659.7C290.5 1658.1 283.2 1655.8 283.2 1653.6Z" fill="#a52a2a"/><g clip-path="url(#g6)"><path d="M293.4 1643C295.3 1640.9 307.6 1635.7 312.8 1636.2C318 1636.8 329.1 1644.4 332.2 1647C335.4 1649.7 338.9 1655.7 336.3 1656C333.7 1656.4 317.9 1650.5 312.8 1649.9C307.8 1649.4 301.1 1652.9 298.5 1652C295.9 1651 291.5 1645.1 293.4 1643Z" fill="#00e000"/><ellipse cx="335.3" cy="1658.1" rx="4.5" ry="3.3" fill="#0000ff"/><ellipse cx="314.9" cy="1658.1" rx="3.3" ry="2.5" fill="#0000ff"/><ellipse cx="298.5" cy="1649.5" rx="2.5" ry="2" fill="#0000ff"/><ellipse cx="343.5" cy="1656.9" rx="4.5" ry="2" fill="#00e000"/><g transform="scale(.5)" fill="none" stroke-width="1.6"><g stroke="#a52a2a"><use href="#b4" x="577" y="3300"/><use href="#b0" x="611" y="3282"/><use href="#b1" x="587" y="3299"/><use href="#b4" x="605" y="3306"/><use href="#b7" x="664" y="3317"/><use href="#b3" x="673" y="3306"/><use href="#b7" x="580" y="3308"/></g><g stroke="#00e000"><use href="#g6" x="634" y="3304"/><use href="#g0" x="606" y="3315"/><use href="#g5" x="645" y="3318"/><use href="#g2" x="609" y="3294"/><use href="#g2" x="628" y="3316"/><use href="#g5" x="605" y="3324"/><use href="#g6" x="622" y="3318"/></g><g stroke="#0000ff"><use href="#p5" x="634" y="3288"/><use href="#p1" x="675" y="3328"/><use href="#p1" x="605" y="3310"/><use href="#p5" x="575" y="3301"/><use href="#p6" x="651" y="3329"/><use href="#p7" x="610" y="3285"/><use href="#p6" x="619" y="3286"/></g></g></g><clipPath id="g7"><path d="M377.2 1653.6C378 1652 386.8 1649 390.5 1649.5C394.1 1650 402.6 1655.5 404.8 1657.7C406.9 1659.9 407.4 1663.7 406.8 1665.8C406.3 1668 401 1671.8 400.7 1674C400.4 1676.2 402.4 1681.6 404.8 1682.2C407.1 1682.7 416 1678.1 418 1678.1C420.1 1678.1 421.9 1680.3 420.1 1682.2C418.3 1684.1 408.7 1689.7 404.8 1692.4C400.8 1695.1 394 1702.6 390.5 1702.6C386.9 1702.6 380.1 1695.1 378.2 1692.4C376.3 1689.7 375.9 1685.2 376.2 1682.2C376.4 1679.2 379.2 1672.7 380.2 1669.9C381.3 1667.2 384.7 1663.9 384.3 1661.8C383.9 1659.6 376.4 1655.2 377.2 1653.6Z"/></clipPath><path d="M377.2 1653.6C378 1652 386.8 1649 390.5 1649.5C394.1 1650 402.6 1655.5 404.8 1657.7C406.9 1659.9 407.4 1663.7 406.8 1665.8C406.3 1668 401 1671.8 400.7 1674C400.4 1676.2 402.4 1681.6 404.8 1682.2C407.1 1682.7 416 1678.1 418 1678.1C420.1 1678.1 421.9 1680.3 420.1 1682.2C418.3 1684.1 408.7 1689.7 404.8 1692.4C400.8 1695.1 394 1702.6 390.5 1702.6C386.9 1702.6 380.1 1695.1 378.2 1692.4C376.3 1689.7 375.9 1685.2 376.2 1682.2C376.4 1679.2 379.2 1672.7 380.2 1669.9C381.3 1667.2 384.7 1663.9 384.3 1661.8C383.9 1659.6 376.4 1655.2 377.2 1653.6Z" fill="#00e000"/><g clip-path="url(#g7)"><ellipse cx="396.6" cy="1661.8" rx="10.2" ry="5.1" fill="#a52a2a"/><ellipse cx="384.3" cy="1676.1" rx="5.1" ry="5.1" fill="#a52a2a"/><ellipse cx="400.7" cy="1686.7" rx="4.1" ry="4.1" fill="#a52a2a"/><ellipse cx="388.8" cy="1701" rx="3.3" ry="2.9" fill="#a52a2a"/><path d="M375.1 1682.2C376.1 1681.1 382 1682.8 384.3 1684.2C386.6 1685.7 392.5 1691.1 392.5 1692.8C392.5 1694.5 386.4 1696.9 384.3 1696.9C382.3 1696.9 378.4 1694.8 377.2 1692.8C376 1690.9 374.2 1683.3 375.1 1682.2Z" fill="#0000ff"/><ellipse cx="394.5" cy="1680.2" rx="2.7" ry="2.7" fill="#fff"/><g transform="scale(.5)" fill="none" stroke-width="1.6"><g stroke="#a52a2a"><use href="#b6" x="786" y="3307"/><use href="#b6" x="802" y="3353"/><use href="#b7" x="775" y="3382"/><use href="#b3" x="785" y="3357"/><use href="#b6" x="758" y="3369"/><use href="#b1" x="782" y="3343"/><use href="#b4" x="786" y="3316"/><use href="#b7" x="806" y="3321"/></g><g stroke="#00e000"><use href="#g2" x="796" y="3328"/><use href="#g5" x="768" y="3371"/><use href="#g7" x="794" y="3318"/><use href="#g3" x="786" y="3344"/><use href="#g4" x="763" y="3361"/><use href="#g7" x="758" y="3366"/><use href="#g6" x="780" y="3321"/><use href="#g5" x="778" y="3367"/></g><g stroke="#0000ff"><use href="#p7" x="781" y="3366"/><use href="#p3" x="800" y="3386"/><use href="#p0" x="806" y="3321"/><use href="#p0" x="830" y="3359"/><use href="#p1" x="777" y="3398"/><use href="#p2" x="779" y="3365"/><use href="#p0" x="817" y="3370"/><use href="#p2" x="791" y="3313"/></g></g></g><clipPath id="g8"><path d="M482.4 1606.6C485.1 1604.7 492.2 1602.9 494.7 1604.5C497.1 1606.2 500.3 1614.8 500.8 1618.9C501.3 1622.9 499 1631.4 498.8 1635.2C498.5 1639 500.4 1643.6 498.8 1647.5C497.1 1651.3 490.3 1660 486.5 1663.8C482.7 1667.6 473.8 1673.7 470.2 1676.1C466.5 1678.4 460.5 1681.4 458.9 1681.2C457.3 1680.9 456.9 1677.4 457.9 1674C458.8 1670.6 464.2 1660.8 466.1 1655.6C468 1650.5 471.1 1640.1 472.2 1635.2C473.3 1630.3 472.9 1622.7 474.2 1618.9C475.6 1615 479.7 1608.5 482.4 1606.6Z"/></clipPath><path d="M482.4 1606.6C485.1 1604.7 492.2 1602.9 494.7 1604.5C497.1 1606.2 500.3 1614.8 500.8 1618.9C501.3 1622.9 499 1631.4 498.8 1635.2C498.5 1639 500.4 1643.6 498.8 1647.5C497.1 1651.3 490.3 1660 486.5 1663.8C482.7 1667.6 473.8 1673.7 470.2 1676.1C466.5 1678.4 460.5 1681.4 458.9 1681.2C457.3 1680.9 456.9 1677.4 457.9 1674C458.8 1670.6 464.2 1660.8 466.1 1655.6C468 1650.5 471.1 1640.1 472.2 1635.2C473.3 1630.3 472.9 1622.7 474.2 1618.9C475.6 1615 479.7 1608.5 482.4 1606.6Z" fill="#a52a2a"/><g clip-path="url(#g8)"><path d="M481.4 1605.6C484.3 1603.5 493 1601.8 495.7 1603.5C498.4 1605.3 501.3 1615.1 501.8 1618.9C502.4 1622.6 501.8 1629.6 499.8 1631.5C497.7 1633.5 490.3 1633.3 486.5 1633.6C482.7 1633.8 472.9 1635.5 471.2 1633.6C469.5 1631.6 472.5 1622.6 473.8 1618.9C475.2 1615.1 478.5 1607.6 481.4 1605.6Z" fill="#00e000"/><path d="M471.2 1633.6C475.3 1631.4 496 1629.9 499.8 1631.5C503.6 1633.2 502.1 1644.2 499.8 1645.8C497.5 1647.5 486.5 1643.5 482.4 1643.8C478.3 1644.1 470.6 1649.2 469.1 1647.9C467.6 1646.5 467.1 1635.7 471.2 1633.6Z" fill="#0000ff"/><ellipse cx="463" cy="1676.5" rx="2.5" ry="2.5" fill="#00e000"/><g transform="scale(.5)" fill="none" stroke-width="1.6"><g stroke="#a52a2a"><use href="#b1" x="979" y="3298"/><use href="#b6" x="954" y="3315"/><use href="#b2" x="957" y="3329"/><use href="#b0" x="992" y="3289"/><use href="#b2" x="973" y="3261"/><use href="#b3" x="997" y="3252"/><use href="#b7" x="970" y="3304"/><use href="#b7" x="964" y="3259"/></g><g stroke="#00e000"><use href="#g2" x="974" y="3216"/><use href="#g5" x="956" y="3281"/><use href="#g1" x="945" y="3282"/><use href="#g7" x="966" y="3328"/><use href="#g5" x="927" y="3346"/><use href="#g5" x="962" y="3235"/><use href="#g0" x="952" y="3338"/><use href="#g3" x="968" y="3216"/></g><g stroke="#0000ff"><use href="#p3" x="952" y="3255"/><use href="#p7" x="951" y="3244"/><use href="#p4" x="988" y="3226"/><use href="#p4" x="957" y="3236"/><use href="#p3" x="927" y="3343"/><use href="#p7" x="977" y="3242"/><use href="#p0" x="980" y="3288"/><use href="#p6" x="951" y="3314"/></g></g></g><clipPath id="g9"><path d="M162.9 1681.5C164.1 1681.9 164.7 1685.5 166 1688.6C167.2 1691.7 171 1701.1 172.1 1705C173.2 1708.8 175.6 1714.8 174.1 1717.2C172.6 1719.7 164 1721.7 160.9 1723.3C157.7 1725 152.7 1727.6 150.6 1729.5C148.6 1731.4 147.3 1737.1 145.5 1737.6C143.8 1738.2 139.3 1736 137.4 1733.6C135.5 1731.1 131.1 1723.1 131.2 1719.3C131.4 1715.4 136.3 1708.8 138.4 1705C140.4 1701.1 144.1 1693.2 146.6 1690.6C149 1688.1 154.6 1686.8 156.8 1685.5C159 1684.3 161.7 1681 162.9 1681.5Z"/></clipPath><path d="M162.9 1681.5C164.1 1681.9 164.7 1685.5 166 1688.6C167.2 1691.7 171 1701.1 172.1 1705C173.2 1708.8 175.6 1714.8 174.1 1717.2C172.6 1719.7 164 1721.7 160.9 1723.3C157.7 1725 152.7 1727.6 150.6 1729.5C148.6 1731.4 147.3 1737.1 145.5 1737.6C143.8 1738.2 139.3 1736 137.4 1733.6C135.5 1731.1 131.1 1723.1 131.2 1719.3C131.4 1715.4 136.3 1708.8 138.4 1705C140.4 1701.1 144.1 1693.2 146.6 1690.6C149 1688.1 154.6 1686.8 156.8 1685.5C159 1684.3 161.7 1681 162.9 1681.5Z" fill="#a52a2a"/><g clip-path="url(#g9)"><path d="M130.2 1718.8C130.4 1716.2 135.9 1713.6 138.4 1714.8C140.9 1715.9 148 1724.3 149 1727.4C150 1730.6 147.6 1737.5 146 1738.5C144.3 1739.4 138.9 1737 136.8 1734.4C134.7 1731.8 130 1721.5 130.2 1718.8Z" fill="#00e000"/><path d="M146.2 1689.8C148.8 1687.1 156 1684.1 157.2 1684.5C158.4 1684.9 157.1 1689.6 155.1 1692.7C153.2 1695.7 145.2 1705.7 142.9 1707.4C140.5 1709.1 137.1 1707.7 137.6 1705.4C138 1703 143.5 1692.6 146.2 1689.8Z" fill="#00e000"/><ellipse cx="143.5" cy="1713.1" rx="6.1" ry="6.1" fill="#0000ff"/><ellipse cx="163.9" cy="1698.8" rx="2.5" ry="2.9" fill="#0000ff"/><g transform="scale(.5)" fill="none" stroke-width="1.6"><g stroke="#a52a2a"><use href="#b1" x="293" y="3399"/><use href="#b7" x="301" y="3389"/><use href="#b0" x="334" y="3400"/><use href="#b1" x="322" y="3389"/><use href="#b1" x="295" y="3401"/><use href="#b7" x="292" y="3462"/><use href="#b1" x="336" y="3407"/></g><g stroke="#00e000"><use href="#g5" x="345" y="3414"/><use href="#g4" x="302" y="3411"/><use href="#g7" x="310" y="3387"/><use href="#g1" x="315" y="3383"/><use href="#g5" x="312" y="3441"/><use href="#g1" x="278" y="3419"/><use href="#g5" x="311" y="3419"/></g><g stroke="#0000ff"><use href="#p2" x="284" y="3439"/><use href="#p5" x="275" y="3439"/><use href="#p1" x="281" y="3425"/><use href="#p7" x="298" y="3424"/><use href="#p1" x="288" y="3471"/><use href="#p7" x="294" y="3417"/><use href="#p1" x="318" y="3419"/></g></g></g><clipPath id="g10"><path d="M193.6 1725.4C195.5 1723.3 200.8 1720.3 203.8 1720.3C206.8 1720.3 213 1722.8 216 1725.4C219 1728 224.3 1736.7 226.3 1739.7C228.2 1742.7 230.6 1745.4 230.3 1747.9C230.1 1750.3 226.9 1755.9 224.2 1758.1C221.5 1760.3 214 1763.1 209.9 1764.2C205.8 1765.3 197.4 1766.3 193.6 1766.3C189.7 1766.3 182.4 1766.4 181.3 1764.2C180.2 1762 184.3 1753.7 185.4 1749.9C186.5 1746.1 188.4 1738.9 189.5 1735.6C190.6 1732.3 191.7 1727.4 193.6 1725.4Z"/></clipPath><path d="M193.6 1725.4C195.5 1723.3 200.8 1720.3 203.8 1720.3C206.8 1720.3 213 1722.8 216 1725.4C219 1728 224.3 1736.7 226.3 1739.7C228.2 1742.7 230.6 1745.4 230.3 1747.9C230.1 1750.3 226.9 1755.9 224.2 1758.1C221.5 1760.3 214 1763.1 209.9 1764.2C205.8 1765.3 197.4 1766.3 193.6 1766.3C189.7 1766.3 182.4 1766.4 181.3 1764.2C180.2 1762 184.3 1753.7 185.4 1749.9C186.5 1746.1 188.4 1738.9 189.5 1735.6C190.6 1732.3 191.7 1727.4 193.6 1725.4Z" fill="#a52a2a"/><g clip-path="url(#g10)"><path d="M192.5 1724.6C194.6 1722.4 200.5 1719.2 203.8 1719.3C207 1719.3 214.6 1723.1 216.9 1725C219.1 1726.9 221.7 1731.3 220.5 1733.6C219.3 1735.8 211.2 1739.6 207.9 1741.7C204.5 1743.9 198.7 1748.2 195.6 1749.9C192.5 1751.6 185.5 1756.3 184.6 1754.4C183.6 1752.5 187.6 1739.6 188.7 1735.6C189.7 1731.6 190.5 1726.7 192.5 1724.6Z" fill="#00e000"/><ellipse cx="218.5" cy="1749.9" rx="6.9" ry="6.9" fill="#0000ff"/><ellipse cx="206.8" cy="1731.5" rx="2" ry="2" fill="#0000ff"/><ellipse cx="209.9" cy="1747.9" rx="4.1" ry="3.7" fill="#a52a2a"/><g transform="scale(.5)" fill="none" stroke-width="1.6"><g stroke="#a52a2a"><use href="#b5" x="398" y="3445"/><use href="#b3" x="408" y="3494"/><use href="#b0" x="389" y="3494"/><use href="#b5" x="410" y="3485"/><use href="#b3" x="432" y="3462"/><use href="#b2" x="390" y="3508"/><use href="#b3" x="390" y="3454"/></g><g stroke="#00e000"><use href="#g2" x="431" y="3451"/><use href="#g7" x="390" y="3525"/><use href="#g1" x="457" y="3491"/><use href="#g7" x="445" y="3495"/><use href="#g3" x="392" y="3479"/><use href="#g3" x="421" y="3475"/><use href="#g6" x="395" y="3465"/></g><g stroke="#0000ff"><use href="#p2" x="444" y="3515"/><use href="#p2" x="390" y="3489"/><use href="#p4" x="379" y="3503"/><use href="#p4" x="378" y="3492"/><use href="#p1" x="395" y="3485"/><use href="#p1" x="456" y="3489"/><use href="#p2" x="385" y="3464"/></g></g></g><clipPath id="g11"><path d="M271.2 1717.2C272.3 1714.4 277.6 1705.3 281.4 1703.9C285.2 1702.6 295.5 1706 299.8 1707C304.2 1707.9 310.8 1708.9 314.1 1711.1C317.4 1713.3 322.3 1720.6 324.3 1723.3C326.4 1726.1 329.7 1729.9 329.4 1731.5C329.2 1733.2 325.7 1735.9 322.3 1735.6C318.9 1735.3 309.1 1731.1 303.9 1729.5C298.7 1727.8 287.6 1723.9 283.5 1723.3C279.4 1722.8 274.9 1726.2 273.2 1725.4C271.6 1724.6 270.1 1720.1 271.2 1717.2Z"/></clipPath><path d="M271.2 1717.2C272.3 1714.4 277.6 1705.3 281.4 1703.9C285.2 1702.6 295.5 1706 299.8 1707C304.2 1707.9 310.8 1708.9 314.1 1711.1C317.4 1713.3 322.3 1720.6 324.3 1723.3C326.4 1726.1 329.7 1729.9 329.4 1731.5C329.2 1733.2 325.7 1735.9 322.3 1735.6C318.9 1735.3 309.1 1731.1 303.9 1729.5C298.7 1727.8 287.6 1723.9 283.5 1723.3C279.4 1722.8 274.9 1726.2 273.2 1725.4C271.6 1724.6 270.1 1720.1 271.2 1717.2Z" fill="#a52a2a"/><g clip-path="url(#g11)"><path d="M289.6 1708.6C291.8 1708 300.3 1712.8 303.9 1714.8C307.5 1716.7 315.2 1721.3 316.6 1723.3C318 1725.4 316.8 1729.6 314.5 1729.9C312.3 1730.2 303.4 1727.2 299.8 1725.8C296.2 1724.4 288.9 1722 287.6 1719.7C286.2 1717.4 287.4 1709.3 289.6 1708.6Z" fill="#00e000"/><ellipse cx="283.5" cy="1709.4" rx="4.1" ry="3.7" fill="#0000ff"/><ellipse cx="312.1" cy="1730.9" rx="8.2" ry="2.9" fill="#0000ff"/><ellipse cx="303.9" cy="1711.1" rx="4.5" ry="2.9" fill="#a52a2a"/><g transform="scale(.5)" fill="none" stroke-width="1.6"><g stroke="#a52a2a"><use href="#b4" x="601" y="3447"/><use href="#b5" x="577" y="3425"/><use href="#b6" x="603" y="3454"/><use href="#b5" x="602" y="3418"/><use href="#b6" x="585" y="3414"/><use href="#b1" x="607" y="3434"/></g><g stroke="#00e000"><use href="#g6" x="596" y="3449"/><use href="#g5" x="622" y="3462"/><use href="#g1" x="574" y="3418"/><use href="#g2" x="567" y="3433"/><use href="#g1" x="609" y="3450"/><use href="#g5" x="588" y="3447"/></g><g stroke="#0000ff"><use href="#p0" x="622" y="3435"/><use href="#p7" x="589" y="3445"/><use href="#p1" x="569" y="3435"/><use href="#p1" x="547" y="3440"/><use href="#p1" x="564" y="3432"/><use href="#p0" x="598" y="3429"/></g></g></g><clipPath id="g12"><path d="M261 1740.7C261.9 1741.3 263.2 1747.6 265.1 1749.9C267 1752.2 272.8 1757.3 275.3 1758.1C277.7 1758.9 281.8 1754.4 283.5 1756C285.1 1757.7 286.9 1766.5 287.6 1770.3C288.2 1774.2 289.9 1781.8 288.6 1784.6C287.2 1787.5 280.2 1791.5 277.3 1791.8C274.5 1792.1 269.4 1789 267.1 1786.7C264.8 1784.4 261.2 1778.5 260 1774.4C258.7 1770.3 258.2 1759.9 257.9 1756C257.7 1752.2 257.5 1747.9 257.9 1745.8C258.3 1743.8 260 1740.2 261 1740.7Z"/></clipPath><path d="M261 1740.7C261.9 1741.3 263.2 1747.6 265.1 1749.9C267 1752.2 272.8 1757.3 275.3 1758.1C277.7 1758.9 281.8 1754.4 283.5 1756C285.1 1757.7 286.9 1766.5 287.6 1770.3C288.2 1774.2 289.9 1781.8 288.6 1784.6C287.2 1787.5 280.2 1791.5 277.3 1791.8C274.5 1792.1 269.4 1789 267.1 1786.7C264.8 1784.4 261.2 1778.5 260 1774.4C258.7 1770.3 258.2 1759.9 257.9 1756C257.7 1752.2 257.5 1747.9 257.9 1745.8C258.3 1743.8 260 1740.2 261 1740.7Z" fill="#a52a2a"/><g clip-path="url(#g12)"><ellipse cx="271.6" cy="1770.7" rx="8.6" ry="9.8" fill="#0000ff"/><ellipse cx="277.7" cy="1789.1" rx="4.5" ry="3.3" fill="#00e000"/><ellipse cx="263" cy="1762.2" rx="2.9" ry="4.1" fill="#00e000"/><ellipse cx="271.2" cy="1774.4" rx="3.3" ry="2.9" fill="#a52a2a"/><g transform="scale(.5)" fill="none" stroke-width="1.6"><g stroke="#a52a2a"><use href="#b5" x="569" y="3570"/><use href="#b0" x="576" y="3558"/><use href="#b4" x="564" y="3569"/><use href="#b3" x="540" y="3542"/><use href="#b5" x="544" y="3534"/><use href="#b5" x="547" y="3524"/></g><g stroke="#00e000"><use href="#g2" x="566" y="3551"/><use href="#g3" x="527" y="3524"/><use href="#g4" x="517" y="3516"/><use href="#g1" x="525" y="3517"/><use href="#g7" x="517" y="3497"/><use href="#g0" x="559" y="3523"/></g><g stroke="#0000ff"><use href="#p1" x="524" y="3543"/><use href="#p5" x="546" y="3540"/><use href="#p6" x="543" y="3547"/><use href="#p6" x="522" y="3505"/><use href="#p6" x="522" y="3507"/><use href="#p3" x="556" y="3564"/></g></g></g><clipPath id="g13"><path d="M348.9 1753C349.9 1751.7 358.5 1748.2 363.2 1748.9C367.8 1749.6 379.8 1755.8 383.6 1758.1C387.4 1760.4 390.9 1763.8 391.8 1766.3C392.6 1768.7 390.8 1774.3 389.7 1776.5C388.6 1778.6 385 1779.6 383.6 1782.6C382.2 1785.6 381.7 1796.5 379.5 1798.9C377.3 1801.4 370.2 1802.6 367.2 1801C364.2 1799.4 358.5 1789.1 357 1786.7C355.5 1784.2 355.2 1785.3 356 1782.6C356.8 1779.9 363.3 1769.5 363.2 1766.3C363 1763 356.9 1759.9 355 1758.1C353.1 1756.3 347.8 1754.2 348.9 1753Z"/></clipPath><path d="M348.9 1753C349.9 1751.7 358.5 1748.2 363.2 1748.9C367.8 1749.6 379.8 1755.8 383.6 1758.1C387.4 1760.4 390.9 1763.8 391.8 1766.3C392.6 1768.7 390.8 1774.3 389.7 1776.5C388.6 1778.6 385 1779.6 383.6 1782.6C382.2 1785.6 381.7 1796.5 379.5 1798.9C377.3 1801.4 370.2 1802.6 367.2 1801C364.2 1799.4 358.5 1789.1 357 1786.7C355.5 1784.2 355.2 1785.3 356 1782.6C356.8 1779.9 363.3 1769.5 363.2 1766.3C363 1763 356.9 1759.9 355 1758.1C353.1 1756.3 347.8 1754.2 348.9 1753Z" fill="#a52a2a"/><g clip-path="url(#g13)"><path d="M347.8 1752.4C348.9 1751.5 360.8 1751 363.2 1752.4C365.5 1753.7 366.7 1761.8 365.6 1762.6C364.5 1763.4 357.4 1759.9 355 1758.5C352.6 1757.1 346.7 1753.2 347.8 1752.4Z" fill="#00e000"/><ellipse cx="371.7" cy="1770.7" rx="9.8" ry="11.9" fill="#0000ff"/><ellipse cx="388.1" cy="1770.3" rx="4.9" ry="5.3" fill="#00e000"/><ellipse cx="371.7" cy="1795.3" rx="5.3" ry="4.9" fill="#00e000"/><ellipse cx="360.1" cy="1782.6" rx="3.7" ry="4.5" fill="#00e000"/><ellipse cx="373.8" cy="1781" rx="1.8" ry="1.8" fill="#fff"/><ellipse cx="377.9" cy="1766.3" rx="3.3" ry="2.9" fill="#a52a2a"/><g transform="scale(.5)" fill="none" stroke-width="1.6"><g stroke="#a52a2a"><use href="#b3" x="714" y="3569"/><use href="#b4" x="762" y="3555"/><use href="#b6" x="774" y="3546"/><use href="#b3" x="746" y="3597"/><use href="#b0" x="739" y="3583"/><use href="#b5" x="749" y="3584"/><use href="#b6" x="751" y="3512"/></g><g stroke="#00e000"><use href="#g5" x="771" y="3527"/><use href="#g1" x="765" y="3541"/><use href="#g2" x="770" y="3559"/><use href="#g2" x="737" y="3536"/><use href="#g0" x="721" y="3526"/><use href="#g4" x="757" y="3570"/><use href="#g1" x="744" y="3575"/></g><g stroke="#0000ff"><use href="#p0" x="707" y="3513"/><use href="#p5" x="722" y="3528"/><use href="#p6" x="760" y="3527"/><use href="#p5" x="738" y="3536"/><use href="#p5" x="749" y="3580"/><use href="#p4" x="759" y="3525"/><use href="#p6" x="768" y="3517"/></g></g></g><clipPath id="g14"><path d="M129.2 1824.5C129.5 1822.3 140.3 1819 144.5 1817.3C148.7 1815.7 156.2 1812.2 160.9 1812.2C165.5 1812.2 175.2 1815.3 179.3 1817.3C183.3 1819.4 191.2 1825.1 191.5 1827.6C191.8 1830 185.4 1835 181.3 1835.7C177.2 1836.4 166 1832.9 160.9 1832.7C155.7 1832.4 146.7 1834.8 142.5 1833.7C138.3 1832.6 128.9 1826.7 129.2 1824.5Z"/></clipPath><path d="M129.2 1824.5C129.5 1822.3 140.3 1819 144.5 1817.3C148.7 1815.7 156.2 1812.2 160.9 1812.2C165.5 1812.2 175.2 1815.3 179.3 1817.3C183.3 1819.4 191.2 1825.1 191.5 1827.6C191.8 1830 185.4 1835 181.3 1835.7C177.2 1836.4 166 1832.9 160.9 1832.7C155.7 1832.4 146.7 1834.8 142.5 1833.7C138.3 1832.6 128.9 1826.7 129.2 1824.5Z" fill="#a52a2a"/><g clip-path="url(#g14)"><path d="M160.5 1812.4C163.5 1812.2 178.5 1816.9 179.7 1818.2C180.8 1819.4 172.1 1821.6 169 1821.8C166 1822 157.9 1821 156.8 1819.8C155.6 1818.5 157.4 1812.6 160.5 1812.4Z" fill="#0000ff"/><ellipse cx="142.9" cy="1830.8" rx="3.3" ry="2.5" fill="#00e000"/><ellipse cx="181.3" cy="1828" rx="8.2" ry="3.7" fill="#00e000"/><ellipse cx="142.5" cy="1823.9" rx="4.9" ry="2.2" fill="#0000ff"/><ellipse cx="165" cy="1826.5" rx="3.7" ry="2.5" fill="#00e000"/><g transform="scale(.5)" fill="none" stroke-width="1.6"><g stroke="#a52a2a"><use href="#b5" x="342" y="3644"/><use href="#b5" x="298" y="3639"/><use href="#b3" x="318" y="3663"/><use href="#b6" x="318" y="3650"/><use href="#b6" x="321" y="3661"/><use href="#b2" x="281" y="3650"/></g><g stroke="#00e000"><use href="#g1" x="271" y="3651"/><use href="#g5" x="314" y="3650"/><use href="#g3" x="338" y="3660"/><use href="#g4" x="363" y="3670"/><use href="#g4" x="314" y="3650"/><use href="#g4" x="279" y="3649"/></g><g stroke="#0000ff"><use href="#p6" x="296" y="3652"/><use href="#p6" x="365" y="3643"/><use href="#p2" x="331" y="3633"/><use href="#p5" x="376" y="3651"/><use href="#p7" x="314" y="3665"/><use href="#p3" x="292" y="3649"/></g></g></g><clipPath id="g15"><path d="M245.7 1844.9C247.3 1842.2 258.5 1835.3 263 1833.7C267.5 1832 275 1831.7 279.4 1832.7C283.7 1833.6 295.2 1838.8 295.7 1840.8C296.3 1842.9 286.2 1845.7 283.5 1848C280.7 1850.3 277.5 1855.2 275.3 1858.2C273.1 1861.2 269 1868.8 267.1 1870.5C265.2 1872.1 263.7 1871.6 261 1870.5C258.3 1869.4 248 1864.5 246.7 1862.3C245.3 1860.1 250.9 1856.4 250.8 1854.1C250.6 1851.8 244 1847.6 245.7 1844.9Z"/></clipPath><path d="M245.7 1844.9C247.3 1842.2 258.5 1835.3 263 1833.7C267.5 1832 275 1831.7 279.4 1832.7C283.7 1833.6 295.2 1838.8 295.7 1840.8C296.3 1842.9 286.2 1845.7 283.5 1848C280.7 1850.3 277.5 1855.2 275.3 1858.2C273.1 1861.2 269 1868.8 267.1 1870.5C265.2 1872.1 263.7 1871.6 261 1870.5C258.3 1869.4 248 1864.5 246.7 1862.3C245.3 1860.1 250.9 1856.4 250.8 1854.1C250.6 1851.8 244 1847.6 245.7 1844.9Z" fill="#a52a2a"/><g clip-path="url(#g15)"><ellipse cx="267.5" cy="1842.3" rx="9.8" ry="6.9" fill="#0000ff"/><path d="M279 1832.9C281.6 1832.4 295.9 1838.5 296.5 1840.6C297.1 1842.8 286.1 1848.4 283.5 1848.8C280.9 1849.2 277.5 1846 276.9 1843.9C276.3 1841.8 276.4 1833.3 279 1832.9Z" fill="#00e000"/><ellipse cx="263" cy="1856.6" rx="8.2" ry="3.7" fill="#00e000"/><ellipse cx="250.8" cy="1847" rx="3.7" ry="3.3" fill="#a52a2a"/><g transform="scale(.5)" fill="none" stroke-width="1.6"><g stroke="#a52a2a"><use href="#b1" x="503" y="3710"/><use href="#b4" x="540" y="3677"/><use href="#b0" x="506" y="3715"/><use href="#b6" x="575" y="3686"/><use href="#b3" x="530" y="3740"/><use href="#b4" x="513" y="3722"/></g><g stroke="#00e000"><use href="#g3" x="507" y="3712"/><use href="#g0" x="534" y="3725"/><use href="#g2" x="503" y="3727"/><use href="#g3" x="541" y="3680"/><use href="#g3" x="565" y="3682"/><use href="#g2" x="559" y="3681"/></g><g stroke="#0000ff"><use href="#p1" x="557" y="3696"/><use href="#p1" x="545" y="3679"/><use href="#p2" x="520" y="3690"/><use href="#p5" x="508" y="3707"/><use href="#p1" x="536" y="3671"/><use href="#p6" x="510" y="3693"/></g></g></g><clipPath id="g16"><path d="M305.9 1832.7C305.9 1830.2 312.6 1826.3 316.2 1825.5C319.7 1824.7 329 1825.7 332.5 1826.5C336 1827.3 339.7 1831.2 342.7 1831.6C345.7 1832 351.6 1830.1 355 1829.6C358.4 1829.1 366.2 1826.5 368.3 1827.6C370.3 1828.6 371.3 1835.6 370.3 1837.8C369.4 1839.9 362.9 1842.3 361.1 1843.9C359.3 1845.5 360 1849.5 357 1850C354 1850.6 342.4 1847.8 338.6 1848C334.8 1848.1 331.4 1851.6 328.4 1851.1C325.4 1850.5 319.2 1846.4 316.2 1843.9C313.2 1841.4 305.9 1835.1 305.9 1832.7Z"/></clipPath><path d="M305.9 1832.7C305.9 1830.2 312.6 1826.3 316.2 1825.5C319.7 1824.7 329 1825.7 332.5 1826.5C336 1827.3 339.7 1831.2 342.7 1831.6C345.7 1832 351.6 1830.1 355 1829.6C358.4 1829.1 366.2 1826.5 368.3 1827.6C370.3 1828.6 371.3 1835.6 370.3 1837.8C369.4 1839.9 362.9 1842.3 361.1 1843.9C359.3 1845.5 360 1849.5 357 1850C354 1850.6 342.4 1847.8 338.6 1848C334.8 1848.1 331.4 1851.6 328.4 1851.1C325.4 1850.5 319.2 1846.4 316.2 1843.9C313.2 1841.4 305.9 1835.1 305.9 1832.7Z" fill="#a52a2a"/><g clip-path="url(#g16)"><path d="M304.9 1832.7C305 1830.7 313.6 1828.9 316.2 1829.6C318.7 1830.3 321.6 1835.9 324.3 1837.8C327.1 1839.7 336.5 1842 337 1843.9C337.5 1845.8 331.3 1852 328.4 1852.1C325.6 1852.1 318.9 1846.9 315.7 1844.3C312.6 1841.7 304.9 1834.6 304.9 1832.7Z" fill="#00e000"/><ellipse cx="316.6" cy="1836.1" rx="4.9" ry="4.1" fill="#0000ff"/><ellipse cx="324.7" cy="1845.1" rx="6.1" ry="2.2" fill="#0000ff"/><ellipse cx="324.3" cy="1828.6" rx="6.1" ry="2.9" fill="#a52a2a"/><g transform="scale(.5)" fill="none" stroke-width="1.6"><g stroke="#a52a2a"><use href="#b5" x="678" y="3669"/><use href="#b4" x="726" y="3664"/><use href="#b2" x="620" y="3663"/><use href="#b7" x="712" y="3676"/><use href="#b6" x="629" y="3654"/><use href="#b6" x="718" y="3662"/><use href="#b5" x="671" y="3669"/></g><g stroke="#00e000"><use href="#g7" x="714" y="3668"/><use href="#g6" x="640" y="3660"/><use href="#g0" x="632" y="3655"/><use href="#g5" x="682" y="3668"/><use href="#g7" x="708" y="3670"/><use href="#g6" x="721" y="3663"/><use href="#g2" x="661" y="3690"/></g><g stroke="#0000ff"><use href="#p1" x="700" y="3679"/><use href="#p5" x="729" y="3668"/><use href="#p7" x="718" y="3689"/><use href="#p2" x="702" y="3699"/><use href="#p4" x="679" y="3696"/><use href="#p4" x="715" y="3661"/><use href="#p2" x="726" y="3659"/></g></g></g><clipPath id="g17"><path d="M161.9 1912.3C162.3 1908.8 163.9 1900 167 1897C170.1 1894 180.2 1890.6 185.4 1889.9C190.6 1889.2 200.9 1890.1 205.8 1891.9C210.7 1893.7 218.4 1899.2 222.2 1903.2C226 1907.1 231.7 1917.2 234.4 1921.5C237.2 1925.9 242.3 1932.9 242.6 1935.8C242.9 1938.8 239.5 1942 236.5 1944C233.5 1946.1 223.7 1950.9 220.1 1951.2C216.6 1951.4 214 1947.6 209.9 1946.1C205.8 1944.6 194.4 1941.8 189.5 1939.9C184.6 1938 176.5 1933.9 173.1 1931.8C169.7 1929.6 165.4 1926.2 163.9 1923.6C162.4 1921 161.5 1915.9 161.9 1912.3Z"/></clipPath><path d="M161.9 1912.3C162.3 1908.8 163.9 1900 167 1897C170.1 1894 180.2 1890.6 185.4 1889.9C190.6 1889.2 200.9 1890.1 205.8 1891.9C210.7 1893.7 218.4 1899.2 222.2 1903.2C226 1907.1 231.7 1917.2 234.4 1921.5C237.2 1925.9 242.3 1932.9 242.6 1935.8C242.9 1938.8 239.5 1942 236.5 1944C233.5 1946.1 223.7 1950.9 220.1 1951.2C216.6 1951.4 214 1947.6 209.9 1946.1C205.8 1944.6 194.4 1941.8 189.5 1939.9C184.6 1938 176.5 1933.9 173.1 1931.8C169.7 1929.6 165.4 1926.2 163.9 1923.6C162.4 1921 161.5 1915.9 161.9 1912.3Z" fill="#a52a2a"/><g clip-path="url(#g17)"><path d="M160.9 1912.3C161.3 1908.6 163.3 1899.1 166.6 1896C169.9 1892.9 180.6 1889.6 185.4 1888.9C190.1 1888.1 200.7 1888.3 202.1 1890.5C203.6 1892.7 196 1901.6 196 1905.2C196 1908.8 200.5 1913.9 202.1 1917.5C203.8 1921 207.2 1927.8 208.3 1931.8C209.4 1935.7 212.8 1945.7 210.3 1946.9C207.8 1948.1 194.5 1942.7 189.5 1940.8C184.5 1938.8 176.2 1934.8 172.7 1932.6C169.2 1930.3 164.9 1926.7 163.3 1924C161.7 1921.3 160.4 1916.1 160.9 1912.3Z" fill="#0000ff"/><path d="M207.9 1905.2C209.7 1903.6 219.2 1910.6 222.2 1913.4C225.2 1916.1 230.3 1921.3 230.3 1925.6C230.3 1930 224.6 1943.6 222.2 1946.1C219.8 1948.6 214.2 1947.2 212.4 1944.4C210.5 1941.7 208.9 1930.9 208.3 1925.6C207.7 1920.4 206 1906.8 207.9 1905.2Z" fill="#00e000"/><ellipse cx="200.1" cy="1909.7" rx="4.9" ry="5.3" fill="#a52a2a"/><ellipse cx="218.1" cy="1931.8" rx="3.3" ry="6.1" fill="#a52a2a"/><ellipse cx="183.3" cy="1904.2" rx="1.6" ry="1.6" fill="#fff"/><ellipse cx="203.8" cy="1932.2" rx="1.8" ry="1.8" fill="#fff"/><ellipse cx="230.3" cy="1929.7" rx="2" ry="2" fill="#0000ff"/><g transform="scale(.5)" fill="none" stroke-width="1.6"><g stroke="#a52a2a"><use href="#b4" x="388" y="3843"/><use href="#b3" x="348" y="3799"/><use href="#b4" x="435" y="3830"/><use href="#b4" x="338" y="3812"/><use href="#b7" x="460" y="3864"/><use href="#b7" x="480" y="3867"/><use href="#b4" x="431" y="3894"/><use href="#b0" x="350" y="3855"/><use href="#b3" x="375" y="3844"/><use href="#b4" x="343" y="3842"/></g><g stroke="#00e000"><use href="#g6" x="346" y="3846"/><use href="#g0" x="471" y="3849"/><use href="#g1" x="401" y="3853"/><use href="#g7" x="329" y="3822"/><use href="#g3" x="394" y="3884"/><use href="#g7" x="426" y="3845"/><use href="#g2" x="412" y="3851"/><use href="#g7" x="403" y="3861"/><use href="#g2" x="470" y="3848"/><use href="#g2" x="425" y="3850"/></g><g stroke="#0000ff"><use href="#p7" x="407" y="3808"/><use href="#p5" x="335" y="3840"/><use href="#p0" x="389" y="3793"/><use href="#p0" x="458" y="3849"/><use href="#p7" x="421" y="3799"/><use href="#p6" x="380" y="3871"/><use href="#p7" x="423" y="3828"/><use href="#p7" x="401" y="3806"/><use href="#p4" x="432" y="3858"/><use href="#p2" x="438" y="3813"/></g></g></g><clipPath id="g18"><path d="M316.2 1886.8C317.1 1885.2 322.2 1890.5 324.3 1892.9C326.5 1895.4 330.1 1903 332.5 1905.2C335 1907.4 340.3 1910.4 342.7 1909.3C345.2 1908.2 348.2 1898.5 350.9 1897C353.6 1895.5 361 1897 363.2 1898C365.3 1899.1 367.5 1901.8 367.2 1905.2C367 1908.6 363.6 1919.5 361.1 1923.6C358.7 1927.7 352.1 1933.3 348.9 1935.8C345.6 1938.4 339.6 1942.7 336.6 1943C333.6 1943.3 328.6 1940.5 326.4 1937.9C324.2 1935.3 321.5 1927.9 320.2 1923.6C319 1919.2 317.7 1910.1 317.2 1905.2C316.6 1900.3 315.2 1888.4 316.2 1886.8Z"/></clipPath><path d="M316.2 1886.8C317.1 1885.2 322.2 1890.5 324.3 1892.9C326.5 1895.4 330.1 1903 332.5 1905.2C335 1907.4 340.3 1910.4 342.7 1909.3C345.2 1908.2 348.2 1898.5 350.9 1897C353.6 1895.5 361 1897 363.2 1898C365.3 1899.1 367.5 1901.8 367.2 1905.2C367 1908.6 363.6 1919.5 361.1 1923.6C358.7 1927.7 352.1 1933.3 348.9 1935.8C345.6 1938.4 339.6 1942.7 336.6 1943C333.6 1943.3 328.6 1940.5 326.4 1937.9C324.2 1935.3 321.5 1927.9 320.2 1923.6C319 1919.2 317.7 1910.1 317.2 1905.2C316.6 1900.3 315.2 1888.4 316.2 1886.8Z" fill="#a52a2a"/><g clip-path="url(#g18)"><path d="M350.5 1896.2C353 1894.8 361.2 1895.8 363.6 1897C365.9 1898.2 368.9 1903.5 368.1 1905.2C367.2 1906.9 360.1 1909.4 357 1909.7C353.9 1910 345.6 1909.4 344.8 1907.7C343.9 1905.9 348 1897.6 350.5 1896.2Z" fill="#00e000"/><ellipse cx="353.3" cy="1913.8" rx="6.9" ry="7.8" fill="#0000ff"/><ellipse cx="332.9" cy="1924" rx="5.7" ry="5.7" fill="#0000ff"/><ellipse cx="337" cy="1936.3" rx="7.8" ry="4.5" fill="#00e000"/><ellipse cx="322.7" cy="1901.5" rx="2.9" ry="7.8" fill="#00e000"/><ellipse cx="344.8" cy="1923.6" rx="3.7" ry="4.5" fill="#a52a2a"/><g transform="scale(.5)" fill="none" stroke-width="1.6"><g stroke="#a52a2a"><use href="#b2" x="703" y="3866"/><use href="#b3" x="662" y="3811"/><use href="#b7" x="648" y="3864"/><use href="#b0" x="636" y="3810"/><use href="#b5" x="704" y="3845"/><use href="#b3" x="669" y="3844"/><use href="#b3" x="649" y="3867"/><use href="#b1" x="636" y="3810"/></g><g stroke="#00e000"><use href="#g5" x="688" y="3845"/><use href="#g3" x="690" y="3875"/><use href="#g1" x="641" y="3842"/><use href="#g2" x="642" y="3831"/><use href="#g2" x="715" y="3846"/><use href="#g2" x="650" y="3865"/><use href="#g2" x="668" y="3818"/><use href="#g4" x="696" y="3826"/></g><g stroke="#0000ff"><use href="#p0" x="666" y="3832"/><use href="#p0" x="646" y="3835"/><use href="#p3" x="659" y="3813"/><use href="#p0" x="686" y="3854"/><use href="#p0" x="677" y="3883"/><use href="#p6" x="665" y="3868"/><use href="#p6" x="684" y="3834"/><use href="#p7" x="652" y="3829"/></g></g></g><clipPath id="g19"><path d="M439.1 1738C440 1736.1 448 1733.6 450.2 1732.1C452.5 1730.7 453.6 1727.4 456.1 1726.9C458.6 1726.3 465.4 1727.6 469 1728C472.5 1728.5 480 1729.3 483 1730.4C486 1731.5 489 1735 491.2 1736.2C493.4 1737.5 499.2 1738.8 499.4 1739.7C499.5 1740.7 494.5 1742.4 492.4 1743.3C490.2 1744.1 485.5 1744.9 483 1746.2C480.5 1747.5 475.8 1751.2 473.6 1753.2C471.4 1755.2 468.8 1759.4 466.6 1761.4C464.4 1763.3 459.3 1767.4 457.2 1767.8C455.2 1768.3 452.8 1766.5 451.4 1764.9C450 1763.3 447.7 1758 446.7 1755.5C445.7 1753 444.8 1748.5 443.8 1746.2C442.8 1743.8 438.2 1739.9 439.1 1738Z"/></clipPath><path d="M439.1 1738C440 1736.1 448 1733.6 450.2 1732.1C452.5 1730.7 453.6 1727.4 456.1 1726.9C458.6 1726.3 465.4 1727.6 469 1728C472.5 1728.5 480 1729.3 483 1730.4C486 1731.5 489 1735 491.2 1736.2C493.4 1737.5 499.2 1738.8 499.4 1739.7C499.5 1740.7 494.5 1742.4 492.4 1743.3C490.2 1744.1 485.5 1744.9 483 1746.2C480.5 1747.5 475.8 1751.2 473.6 1753.2C471.4 1755.2 468.8 1759.4 466.6 1761.4C464.4 1763.3 459.3 1767.4 457.2 1767.8C455.2 1768.3 452.8 1766.5 451.4 1764.9C450 1763.3 447.7 1758 446.7 1755.5C445.7 1753 444.8 1748.5 443.8 1746.2C442.8 1743.8 438.2 1739.9 439.1 1738Z" fill="#a52a2a"/><g clip-path="url(#g19)"><path d="M438.3 1737.8C439.2 1735.7 448.3 1731.4 450.2 1731.5C452.2 1731.7 453.2 1737.3 452.8 1739.2C452.4 1741 448.2 1744.2 446.9 1745.2C445.7 1746.2 444.6 1747.6 443.4 1746.6C442.3 1745.6 437.4 1739.8 438.3 1737.8Z" fill="#00e000"/><path d="M476 1729.8C476.4 1728.8 480.9 1729 483 1729.8C485.1 1730.6 489.1 1734.6 491.4 1735.9C493.7 1737.2 500 1738.7 500.1 1739.7C500.2 1740.8 494.3 1743.7 492.4 1743.6C490.4 1743.6 487.1 1740.3 485.3 1739.4C483.6 1738.5 480.7 1738.3 479.5 1737.1C478.2 1735.8 475.5 1730.8 476 1729.8Z" fill="#00e000"/><path d="M450.2 1736.8C451.2 1735.6 456.5 1733.6 459.6 1733.3C462.7 1733 471 1733.7 473.6 1734.5C476.3 1735.3 479.5 1737.6 479.5 1739.2C479.5 1740.7 475.3 1744 473.6 1746.2C471.9 1748.4 468.2 1754 466.6 1755.5C465 1757.1 463.3 1758.8 461.9 1757.9C460.5 1756.9 457.3 1750.5 456.1 1748.5C454.8 1746.5 453.3 1744.2 452.6 1742.7C451.8 1741.1 449.3 1738.1 450.2 1736.8Z" fill="#0000ff"/><ellipse cx="471.5" cy="1748.8" rx="3.5" ry="3.3" fill="#00e000"/><path d="M450.8 1762.6C451 1763.8 455.7 1768.4 457.2 1768.4C458.8 1768.4 462.3 1763.8 462.2 1762.6C462 1761.3 457.6 1759.1 456.1 1759.1C454.6 1759.1 450.7 1761.3 450.8 1762.6Z" fill="#00e000"/><ellipse cx="485.3" cy="1743.3" rx="3.5" ry="2.1" fill="#a52a2a"/><g transform="scale(.5)" fill="none" stroke-width="1.6"><g stroke="#a52a2a"><use href="#b6" x="945" y="3465"/><use href="#b3" x="927" y="3525"/><use href="#b2" x="912" y="3489"/><use href="#b7" x="913" y="3523"/><use href="#b1" x="941" y="3480"/><use href="#b4" x="927" y="3482"/><use href="#b7" x="949" y="3487"/></g><g stroke="#00e000"><use href="#g3" x="907" y="3491"/><use href="#g0" x="957" y="3498"/><use href="#g2" x="934" y="3481"/><use href="#g6" x="898" y="3484"/><use href="#g5" x="907" y="3529"/><use href="#g7" x="939" y="3491"/><use href="#g7" x="951" y="3501"/></g><g stroke="#0000ff"><use href="#p0" x="976" y="3486"/><use href="#p1" x="944" y="3498"/><use href="#p3" x="913" y="3511"/><use href="#p4" x="942" y="3481"/><use href="#p7" x="893" y="3498"/><use href="#p5" x="911" y="3495"/><use href="#p0" x="969" y="3485"/></g></g></g><clipPath id="g20"><path d="M490 1804.7C491 1803 499.5 1797.1 501.7 1794.2C503.9 1791.2 504.8 1784.5 506.4 1782.5C508 1780.4 511.6 1779.4 513.4 1779C515.3 1778.5 518.4 1779.7 520.4 1779C522.5 1778.2 527.1 1773.3 528.6 1773.1C530.2 1772.9 531.4 1776.4 532.2 1777.8C532.9 1779.2 534.5 1781.8 534.5 1783.6C534.5 1785.5 533.6 1789.8 532.2 1791.8C530.7 1793.9 526.3 1797.1 524 1798.8C521.6 1800.6 517.3 1803.7 514.6 1804.7C511.9 1805.7 506.7 1806.1 504.1 1806.5C501.4 1806.8 496.6 1807.3 494.7 1807C492.8 1806.8 489.1 1806.4 490 1804.7Z"/></clipPath><path d="M490 1804.7C491 1803 499.5 1797.1 501.7 1794.2C503.9 1791.2 504.8 1784.5 506.4 1782.5C508 1780.4 511.6 1779.4 513.4 1779C515.3 1778.5 518.4 1779.7 520.4 1779C522.5 1778.2 527.1 1773.3 528.6 1773.1C530.2 1772.9 531.4 1776.4 532.2 1777.8C532.9 1779.2 534.5 1781.8 534.5 1783.6C534.5 1785.5 533.6 1789.8 532.2 1791.8C530.7 1793.9 526.3 1797.1 524 1798.8C521.6 1800.6 517.3 1803.7 514.6 1804.7C511.9 1805.7 506.7 1806.1 504.1 1806.5C501.4 1806.8 496.6 1807.3 494.7 1807C492.8 1806.8 489.1 1806.4 490 1804.7Z" fill="#a52a2a"/><g clip-path="url(#g20)"><path d="M501.3 1789.5C501.2 1788.3 504.5 1783.5 506.2 1782C507.8 1780.5 511.6 1778.6 513.4 1778.4C515.2 1778.1 519.4 1778.7 519.5 1779.9C519.7 1781.1 516.3 1785.9 514.6 1787.4C512.8 1788.8 508.2 1790.6 506.4 1790.9C504.6 1791.2 501.3 1790.7 501.3 1789.5Z" fill="#0000ff"/><ellipse cx="512.5" cy="1793.2" rx="4.7" ry="3.3" fill="#0000ff"/><path d="M515.8 1786C516.8 1784.4 524.6 1779.2 526.3 1778.7C528 1778.2 529.9 1780.8 528.9 1782.5C527.8 1784.1 520.1 1790.4 518.3 1790.9C516.6 1791.4 514.7 1787.6 515.8 1786Z" fill="#00e000"/><ellipse cx="513.7" cy="1801.4" rx="5.9" ry="2.1" fill="#00e000"/><g transform="scale(.5)" fill="none" stroke-width="1.6"><g stroke="#a52a2a"><use href="#b2" x="989" y="3609"/><use href="#b1" x="1016" y="3578"/><use href="#b1" x="1037" y="3561"/><use href="#b2" x="1041" y="3558"/><use href="#b2" x="1020" y="3610"/><use href="#b2" x="1061" y="3583"/></g><g stroke="#00e000"><use href="#g1" x="1004" y="3590"/><use href="#g6" x="1006" y="3600"/><use href="#g0" x="1060" y="3558"/><use href="#g2" x="1055" y="3587"/><use href="#g1" x="997" y="3595"/><use href="#g0" x="1041" y="3588"/></g><g stroke="#0000ff"><use href="#p7" x="1008" y="3610"/><use href="#p6" x="1022" y="3574"/><use href="#p1" x="1029" y="3559"/><use href="#p6" x="1014" y="3590"/><use href="#p1" x="1033" y="3595"/><use href="#p3" x="1056" y="3579"/></g></g></g><clipPath id="g21"><path d="M396.4 1838.1C395.6 1836.4 398 1834.5 399.9 1834.5C401.8 1834.6 407.6 1838.5 410.4 1838.6C413.2 1838.8 418.3 1835.4 421 1835.7C423.6 1836 428.1 1839.8 430.3 1841C432.5 1842.2 436.6 1842.8 437.4 1844.5C438.1 1846.2 435.1 1852 436.2 1853.9C437.3 1855.7 443.8 1856 445.5 1858.5C447.3 1861 448.1 1868.8 449.1 1872.6C450 1876.3 451.7 1883.5 452.6 1886.6C453.4 1889.8 455.5 1894.4 455.5 1896C455.5 1897.6 453.9 1899 452.6 1898.3C451.2 1897.7 447.4 1893.3 445.5 1891.3C443.7 1889.3 440.5 1885 438.5 1883.1C436.5 1881.2 431.9 1879.6 430.3 1877.3C428.8 1874.9 428.8 1868.1 426.8 1865.6C424.8 1863.1 417.9 1861 415.1 1858.5C412.3 1856 408.2 1849.6 405.7 1846.8C403.3 1844.1 397.2 1839.7 396.4 1838.1Z"/></clipPath><path d="M396.4 1838.1C395.6 1836.4 398 1834.5 399.9 1834.5C401.8 1834.6 407.6 1838.5 410.4 1838.6C413.2 1838.8 418.3 1835.4 421 1835.7C423.6 1836 428.1 1839.8 430.3 1841C432.5 1842.2 436.6 1842.8 437.4 1844.5C438.1 1846.2 435.1 1852 436.2 1853.9C437.3 1855.7 443.8 1856 445.5 1858.5C447.3 1861 448.1 1868.8 449.1 1872.6C450 1876.3 451.7 1883.5 452.6 1886.6C453.4 1889.8 455.5 1894.4 455.5 1896C455.5 1897.6 453.9 1899 452.6 1898.3C451.2 1897.7 447.4 1893.3 445.5 1891.3C443.7 1889.3 440.5 1885 438.5 1883.1C436.5 1881.2 431.9 1879.6 430.3 1877.3C428.8 1874.9 428.8 1868.1 426.8 1865.6C424.8 1863.1 417.9 1861 415.1 1858.5C412.3 1856 408.2 1849.6 405.7 1846.8C403.3 1844.1 397.2 1839.7 396.4 1838.1Z" fill="#a52a2a"/><g clip-path="url(#g21)"><path d="M399.3 1835.7C399.9 1835.1 407.5 1838.1 410.4 1838.1C413.3 1838 418.3 1834.8 421 1835.1C423.6 1835.5 428.7 1839.2 430.6 1840.7C432.5 1842.3 434.9 1845.1 435.2 1846.8C435.6 1848.6 434.3 1853.3 432.9 1854.1C431.5 1854.9 426.8 1854 424.5 1852.9C422.1 1851.8 417.6 1847.3 415.1 1845.9C412.6 1844.5 407.9 1843.7 405.7 1842.4C403.6 1841 398.7 1836.3 399.3 1835.7Z" fill="#00e000"/><ellipse cx="423.5" cy="1859.9" rx="6.8" ry="3.7" fill="#0000ff"/><ellipse cx="434.1" cy="1854.1" rx="2.3" ry="2.3" fill="#0000ff"/><ellipse cx="449.1" cy="1887.8" rx="3" ry="7" fill="#0000ff"/><ellipse cx="432.9" cy="1869.3" rx="2.8" ry="2.8" fill="#00e000"/><g transform="scale(.5)" fill="none" stroke-width="1.6"><g stroke="#a52a2a"><use href="#b6" x="837" y="3676"/><use href="#b4" x="851" y="3705"/><use href="#b1" x="898" y="3772"/><use href="#b2" x="889" y="3731"/><use href="#b4" x="847" y="3705"/><use href="#b5" x="829" y="3698"/><use href="#b2" x="841" y="3691"/><use href="#b3" x="885" y="3767"/><use href="#b5" x="857" y="3691"/></g><g stroke="#00e000"><use href="#g3" x="858" y="3740"/><use href="#g5" x="845" y="3690"/><use href="#g1" x="862" y="3751"/><use href="#g4" x="888" y="3716"/><use href="#g6" x="871" y="3756"/><use href="#g7" x="824" y="3693"/><use href="#g1" x="828" y="3702"/><use href="#g7" x="870" y="3738"/><use href="#g5" x="841" y="3687"/></g><g stroke="#0000ff"><use href="#p2" x="886" y="3737"/><use href="#p1" x="892" y="3754"/><use href="#p4" x="836" y="3709"/><use href="#p6" x="894" y="3747"/><use href="#p3" x="870" y="3746"/><use href="#p1" x="906" y="3787"/><use href="#p0" x="858" y="3709"/><use href="#p6" x="893" y="3743"/><use href="#p6" x="876" y="3723"/></g></g></g><clipPath id="g22"><path d="M141.4 1567.7C142.7 1563.2 145.7 1554.9 147.8 1553.4C149.9 1551.9 154.8 1554.6 157.3 1556.5C159.9 1558.5 164.5 1564.1 166.9 1567.7C169.2 1571.3 172 1580.4 174.8 1583.6C177.6 1586.7 186 1588.5 187.5 1591.5C189 1594.5 187.2 1602.2 185.9 1605.8C184.6 1609.4 180.7 1616.4 178 1618.5C175.2 1620.6 168.9 1622.1 165.3 1621.7C161.7 1621.3 153.9 1617.9 151 1615.3C148 1612.8 144.7 1606.4 143 1602.6C141.3 1598.8 138.5 1591.4 138.2 1586.7C138 1582.1 140.2 1572.1 141.4 1567.7Z"/></clipPath><path d="M141.4 1567.7C142.7 1563.2 145.7 1554.9 147.8 1553.4C149.9 1551.9 154.8 1554.6 157.3 1556.5C159.9 1558.5 164.5 1564.1 166.9 1567.7C169.2 1571.3 172 1580.4 174.8 1583.6C177.6 1586.7 186 1588.5 187.5 1591.5C189 1594.5 187.2 1602.2 185.9 1605.8C184.6 1609.4 180.7 1616.4 178 1618.5C175.2 1620.6 168.9 1622.1 165.3 1621.7C161.7 1621.3 153.9 1617.9 151 1615.3C148 1612.8 144.7 1606.4 143 1602.6C141.3 1598.8 138.5 1591.4 138.2 1586.7C138 1582.1 140.2 1572.1 141.4 1567.7Z" fill="#a52a2a"/><g clip-path="url(#g22)"><path d="M149.4 1605.8L143 1628.1" stroke="#00e000" stroke-width="4.8" fill="none" stroke-linecap="round"/></g><clipPath id="g23"><path d="M63.6 1621.7C65.3 1618.3 71.7 1615.3 74.7 1615.3C77.7 1615.3 83.1 1621.3 85.8 1621.7C88.6 1622.1 92 1618.5 95.3 1618.5C98.7 1618.5 108.7 1620 111.2 1621.7C113.8 1623.4 114.4 1627.8 114.4 1631.2C114.4 1634.6 111.2 1643.3 111.2 1647.1C111.2 1650.9 114.8 1656.4 114.4 1659.8C114 1663.2 110.2 1670 108.1 1672.6C105.9 1675.1 100 1675.9 98.5 1678.9C97 1681.9 97.6 1690.6 96.9 1694.8C96.3 1699 94.2 1706.5 93.8 1710.7C93.3 1714.9 94.8 1723.8 93.8 1726.6C92.7 1729.3 88.4 1731.6 85.8 1731.3C83.3 1731.1 76.8 1728.2 74.7 1725C72.6 1721.8 70.8 1712.6 69.9 1707.5C69.1 1702.4 68.8 1692.8 68.3 1686.9C67.9 1680.9 67.6 1669.2 66.7 1663C65.9 1656.9 62.4 1646.3 62 1640.8C61.5 1635.3 61.9 1625.1 63.6 1621.7Z"/></clipPath><path d="M63.6 1621.7C65.3 1618.3 71.7 1615.3 74.7 1615.3C77.7 1615.3 83.1 1621.3 85.8 1621.7C88.6 1622.1 92 1618.5 95.3 1618.5C98.7 1618.5 108.7 1620 111.2 1621.7C113.8 1623.4 114.4 1627.8 114.4 1631.2C114.4 1634.6 111.2 1643.3 111.2 1647.1C111.2 1650.9 114.8 1656.4 114.4 1659.8C114 1663.2 110.2 1670 108.1 1672.6C105.9 1675.1 100 1675.9 98.5 1678.9C97 1681.9 97.6 1690.6 96.9 1694.8C96.3 1699 94.2 1706.5 93.8 1710.7C93.3 1714.9 94.8 1723.8 93.8 1726.6C92.7 1729.3 88.4 1731.6 85.8 1731.3C83.3 1731.1 76.8 1728.2 74.7 1725C72.6 1721.8 70.8 1712.6 69.9 1707.5C69.1 1702.4 68.8 1692.8 68.3 1686.9C67.9 1680.9 67.6 1669.2 66.7 1663C65.9 1656.9 62.4 1646.3 62 1640.8C61.5 1635.3 61.9 1625.1 63.6 1621.7Z" fill="#0000ff"/><g clip-path="url(#g23)"><ellipse cx="98.5" cy="1631.2" rx="4.8" ry="6.4" fill="#fff"/><ellipse cx="82.6" cy="1656.7" rx="3.5" ry="4.8" fill="#fff"/><ellipse cx="89" cy="1699.6" rx="2.9" ry="6.4" fill="#fff"/><ellipse cx="74.7" cy="1678.9" rx="1.9" ry="3.2" fill="#fff"/><ellipse cx="101.7" cy="1663" rx="2.2" ry="3.2" fill="#fff"/><path d="M85.8 1669.4L93.8 1682.1" stroke="#00e000" stroke-width="4.8" fill="none" stroke-linecap="round"/><ellipse cx="104.1" cy="1683.7" rx="4.4" ry="3.8" fill="#00e000"/><ellipse cx="76.3" cy="1631.2" rx="2.2" ry="7.9" fill="#00e000"/><ellipse cx="71.5" cy="1663" rx="3.2" ry="6.4" fill="#00e000"/><ellipse cx="90.6" cy="1658.2" rx="4.8" ry="3.2" fill="#a52a2a"/><ellipse cx="93.8" cy="1643.9" rx="2.5" ry="3.2" fill="#fff"/></g><g fill="none" stroke-linecap="round"><path d="M445.6 1579C447 1577.9 450.4 1573.7 453.8 1572.3C457.2 1570.8 462.3 1568.9 466.1 1570.2C469.8 1571.5 473.2 1576 476.3 1580C479.3 1584 482.1 1590.2 484.5 1594.3C486.8 1598.4 489.6 1602.8 490.6 1604.5" stroke="#00e000" stroke-width="8.5"/><path d="M466.1 1569.8C468.8 1570.1 477.6 1569.7 482.4 1571.4C487.2 1573.2 491.3 1576.6 494.7 1580.4C498 1584.3 500.9 1590.7 502.4 1594.3C503.9 1597.9 503.5 1600.8 503.7 1602.1" stroke="#a52a2a" stroke-width="7.5"/><path d="M459.5 1564.1C461 1563.4 464.6 1559.7 468.1 1560C471.6 1560.3 477.3 1564 480.4 1565.7C483.4 1567.5 485.5 1569.8 486.5 1570.6" stroke="#0000ff" stroke-width="7.5"/></g><path d="M215.1 1637.7L226 1661.4" stroke="#00e000" stroke-width="3.6" fill="none" stroke-linecap="round"/><path d="M214.5 1638.4L225.6 1659.8" stroke="#00e000" stroke-width="3.6" fill="none" stroke-linecap="round"/><path d="M355 1856.2L358 1864.3" stroke="#00e000" stroke-width="6" fill="none" stroke-linecap="round"/></g><g transform="scale(.5)" fill="none" stroke-width="1.6" stroke-linejoin="round"><g stroke="#a52a2a"><path d="M204 3188l5 8h-10zm-6-13l5 8h-10zm52-17a5 5 0 1 0 10 0a5 5 0 1 0-10 0m5-11l5 8h-10zm-21 9l5 8h-10zm-30 10l5 8h-10zm23 3l5 8h-10zm-14 6l5 8h-10zm-8-2l5 8h-10zm51-19a5 5 0 1 0 10 0a5 5 0 1 0-10 0m-17 12a5 5 0 1 0 10 0a5 5 0 1 0-10 0m-20 0a5 5 0 1 0 10 0a5 5 0 1 0-10 0m-6 19a5 5 0 1 0 10 0a5 5 0 1 0-10 0m-22-2a5 5 0 1 0 10 0a5 5 0 1 0-10 0m76 28h10m-5-5v10m-4-9l8 8m0-8l-8 8m-28-21l5 8h-10zm-31 14l5 8h-10zm55 3h10m-5-5v10m-4-9l8 8m0-8l-8 8m-38-18h10m-5-5v10m-4-9l8 8m0-8l-8 8m19-15l5 8h-10zm5 5l5 8h-10zm-35-7l5 8h-10zm40 19h10m-5-5v10m-4-9l8 8m0-8l-8 8m-3 8h10m-5-5v10m-4-9l8 8m0-8l-8 8m-21-39l5 8h-10zm16 3l5 8h-10zm-39 24l5 8h-10zm21-17l5 8h-10zm18 0l5 8h-10zm-28 3l5 8h-10zm-12 5l5 8h-10zm31-6l5 8h-10zm-24 15l5 8h-10zm-11-9l5 8h-10zm61 12l5 8h-10zm4-5h10m-5-5v10m-4-9l8 8m0-8l-8 8m-67-23l5 8h-10zm53 10h10m-5-5v10m-4-9l8 8m0-8l-8 8m16 6l5 8h-10zm-72 5h10m-5-5v10m-4-9l8 8m0-8l-8 8m25-30l5 8h-10zm-1 7h10m-5-5v10m-4-9l8 8m0-8l-8 8m-7 16h10m-5-5v10m-4-9l8 8m0-8l-8 8m12-20l5 8h-10zm20 64l10 10m0-10l-10 10m-5-23l10 10m0-10l-10 10m11 1l5 8h-10zm-7-17l10 10m0-10l-10 10m10 16h10m-5-5v10m-4-9l8 8m0-8l-8 8m-14 5l10 10m0-10l-10 10m9-36l5 8h-10zm-12 29h10m-5-5v10m-4-9l8 8m0-8l-8 8m4-20h10m-5-5v10m-4-9l8 8m0-8l-8 8m-2 8h10m-5-5v10m-4-9l8 8m0-8l-8 8m-3-26h10m-5-5v10m-4-9l8 8m0-8l-8 8m1 21h10m-5-5v10m-4-9l8 8m0-8l-8 8m6-32h10m-5-5v10m-4-9l8 8m0-8l-8 8m-4-2h10m-5-5v10m-4-9l8 8m0-8l-8 8m9-13l5 8h-10zm-8 22h10m-5-5v10m-4-9l8 8m0-8l-8 8m35-11h10m-5-5v10m-4-9l8 8m0-8l-8 8m-3 5h10m-5-5v10m-8-24h10m-5-5v10m-6 4h10m-5-5v10m-2-12h10m-5-5v10m-4-9l8 8m0-8l-8 8m-1 16h10m-5-5v10m-4-9l8 8m0-8l-8 8m-2-30h10m-5-5v10m-5 19h10m-5-5v10m-7-22h10m-5-5v10m1 4h10m-5-5v10m-4-9l8 8m0-8l-8 8m-6-11h10m-5-5v10m-4-9l8 8m0-8l-8 8m1-3h10m-5-5v10m-7-14h10m-5-5v10m-4-9l8 8m0-8l-8 8m1 1h10m-5-5v10m-150 366l6 10h-12zm201-186l6 10h-12zm17 8l6 10h-12zm-4 3l6 10h-12zm273 324l6 10h-12zm-19-660l6 10h-12zm15 50l6 10h-12z"/></g><g stroke="#00e000"><path d="M164 3156l3 4l-3 4l-3-4zm5 2l4 7h-8zm0-10h8v8h-8zm-2-1l3 4l-3 4l-3-4zm3 11l3 4l-3 4l-3-4zm-4-1h8v8h-8zm-1-9h8v8h-8zm4 6l3 4l-3 4l-3-4zm2-7l4 7h-8zm-8 1h8v8h-8zm5 5l3 4l-3 4l-3-4zm-2 5l3 4l-3 4l-3-4zm2-4h8v8h-8zm1-5h8v8h-8zm1 8l3 4l-3 4l-3-4zm-1-3l3 4l-3 4l-3-4zm-6-6h8v8h-8zm9 2l3 4l-3 4l-3-4zm-41 25h8v8h-8zm8 7l3 4l-3 4l-3-4zm3-13l3 4l-3 4l-3-4zm-7-1l3 4l-3 4l-3-4zm11 11l3 4l-3 4l-3-4zm-19-6h8v8h-8zm-2 5l3 4l-3 4l-3-4zm5 0l3 4l-3 4l-3-4zm5-8l3 4l-3 4l-3-4zm3-3l3 4l-3 4l-3-4zm2 9l4 7h-8zm-11 2l3 4l-3 4l-3-4zm6-2l3 4l-3 4l-3-4zm-12 4h8v8h-8zm2-5l3 4l-3 4l-3-4zm9 3h8v8h-8zm-8-10l3 4l-3 4l-3-4zm12 15l4 7h-8zm-4-23h8v8h-8zm-5 8l3 4l-3 4l-3-4zm4-5h8v8h-8zm3 14l4 7h-8zm7 7l4 7h-8zm-12-1l3 4l-3 4l-3-4zm7-9l3 4l-3 4l-3-4zm7 1h8v8h-8zm-20-1l4 7h-8zm17-7l3 4l-3 4l-3-4zm0 4l4 7h-8zm-18 1h8v8h-8zm24 1l4 7h-8zm0-7l3 4l-3 4l-3-4zm-21 1l4 7h-8zm10 4h8v8h-8zm-1-5l4 7h-8zm-4 5l3 4l-3 4l-3-4zm2 1l3 4l-3 4l-3-4zm15 1l3 4l-3 4l-3-4zm-24 1l3 4l-3 4l-3-4zm-4-1h8v8h-8zm13-10l3 4l-3 4l-3-4zm-6 15h8v8h-8zm1-6l4 7h-8zm10 0l4 7h-8zm-3 7h8v8h-8zm5-8l3 4l-3 4l-3-4zm-13 7l4 7h-8zm8-1l4 7h-8zm0 7h8v8h-8zm-8-2h8v8h-8zm14 0l4 7h-8zm-10-19h8v8h-8zm-4 20h8v8h-8zm19-11l3 4l-3 4l-3-4zm-19 1l3 4l-3 4l-3-4zm8 7h8v8h-8zm-4-7h8v8h-8zm32 13l4 7h-8zm6-11l3 4l-3 4l-3-4zm-5 1l3 4l-3 4l-3-4zm0 3h8v8h-8zm-2 0l3 4l-3 4l-3-4zm5 6h8v8h-8zm2-10l3 4l-3 4l-3-4zm-3 1h8v8h-8zm1-2l3 4l-3 4l-3-4zm3 11l4 7h-8zm-10-5h8v8h-8zm12 0l3 4l-3 4l-3-4zm-16 3h8v8h-8zm11-5h8v8h-8zm0-2l3 4l-3 4l-3-4zm-4 1h8v8h-8zm8 0l3 4l-3 4l-3-4zm-17 6h8v8h-8zm3 3h8v8h-8zm10-12l3 4l-3 4l-3-4zm-6 12h8v8h-8zm5-10l3 4l-3 4l-3-4zm-4-2h8v8h-8zm43 3l3 4l-3 4l-3-4zm4 0l3 4l-3 4l-3-4zm-3 2h8v8h-8zm4-4l3 4l-3 4l-3-4zm-3 6l4 7h-8zm3 1l4 7h-8zm-1-5l3 4l-3 4l-3-4zm-9 3h8v8h-8zm6-3l3 4l-3 4l-3-4zm8 0l4 7h-8zm-10 5l4 7h-8zm-2-4h8v8h-8zm8 4l3 4l-3 4l-3-4zm0-2h8v8h-8zm2-1h8v8h-8zm-6-1h8v8h-8zm2 7h8v8h-8zm-6-5l4 7h-8zm11-7l3 4l-3 4l-3-4zm-9 6l3 4l-3 4l-3-4zm-6-3h8v8h-8zm8 5h8v8h-8zm9 1l3 4l-3 4l-3-4zm-88 129h8v8h-8zm7 4l3 4l-3 4l-3-4zm-3-6l3 4l-3 4l-3-4zm8 5l3 4l-3 4l-3-4zm-13 5h8v8h-8zm5-10l3 4l-3 4l-3-4zm1-2h8v8h-8zm6 7l4 7h-8zm-9 3h8v8h-8zm-6-2h8v8h-8zm16-5l4 7h-8zm-12 6l3 4l-3 4l-3-4zm11-5l3 4l-3 4l-3-4zm-8 1h8v8h-8zm-2 7h8v8h-8zm-3-10h8v8h-8zm1 2l3 4l-3 4l-3-4zm4 8h8v8h-8zm-10-6h8v8h-8zm-4 1h8v8h-8zm0 1l3 4l-3 4l-3-4zm7-2l3 4l-3 4l-3-4zm-5-2l3 4l-3 4l-3-4zm-3 4l3 4l-3 4l-3-4zm6-5l3 4l-3 4l-3-4zm3 6l4 7h-8zm-6-1h8v8h-8zm-1 4h8v8h-8zm1 0l3 4l-3 4l-3-4zm1-9l3 4l-3 4l-3-4zm-7 10h8v8h-8zm3-7l4 7h-8zm-2 71h8v8h-8zm5-8l3 4l-3 4l-3-4zm1-4l3 4l-3 4l-3-4zm-2 2h8v8h-8zm5 3l3 4l-3 4l-3-4zm-9 4l3 4l-3 4l-3-4zm1-7l3 4l-3 4l-3-4zm-7 2h8v8h-8zm10 6h8v8h-8zm4-4l3 4l-3 4l-3-4zm-3-2h8v8h-8zm0 5h8v8h-8zm2-9l4 7h-8zm1 11l4 7h-8zm-6-5l4 7h-8zm-5 0l4 7h-8zm11-1l4 7h-8zm-8 5h8v8h-8zm-50-14h8v8h-8zm3-2h8v8h-8zm1 4l3 4l-3 4l-3-4zm3-6l3 4l-3 4l-3-4zm-2 2l4 7h-8zm-2 0l3 4l-3 4l-3-4zm3 5l4 7h-8zm-5-6h8v8h-8zm2 5l3 4l-3 4l-3-4zm-6-3h8v8h-8zm8 4l3 4l-3 4l-3-4zm-5 40h8v8h-8zm5 1l3 4l-3 4l-3-4zm-3-6l4 7h-8zm-3 0l4 7h-8zm4 4l4 7h-8zm-7 1l3 4l-3 4l-3-4zm3-4l4 7h-8zm0 5l4 7h-8zm3-2l4 7h-8zm0-5l3 4l-3 4l-3-4zm2 3l4 7h-8zm77-285l3 4l-3 4l-3-4zm-7 1l3 4l-3 4l-3-4zm-4-8h8v8h-8zm9 6l3 4l-3 4l-3-4zm-5-1l4 7h-8zm0-1l4 7h-8zm3-1l3 4l-3 4l-3-4zm-10 3h8v8h-8zm6-1h8v8h-8zm3 1l3 4l-3 4l-3-4zm3 0l3 4l-3 4l-3-4zm-4-2l3 4l-3 4l-3-4zm-2 5l3 4l-3 4l-3-4zm3 0h8v8h-8zm164 161l3 4l-3 4l-3-4zm1 1l4 7h-8zm-7 3h8v8h-8zm4 7h8v8h-8zm7-9l3 4l-3 4l-3-4zm-2 9l3 4l-3 4l-3-4zm1-9l3 4l-3 4l-3-4zm-4 6l3 4l-3 4l-3-4zm1 2l4 7h-8zm-2-5l3 4l-3 4l-3-4zm-6 0l3 4l-3 4l-3-4zm-1-3h8v8h-8zm8 2l4 7h-8zm-9 4h8v8h-8zm9-2l3 4l-3 4l-3-4zm-9-4h8v8h-8zm7 6l3 4l-3 4l-3-4zm4 1l3 4l-3 4l-3-4zm-137-85l3 4l-3 4l-3-4zm9-10h8v8h-8zm0 11h8v8h-8zm0-9l3 4l-3 4l-3-4zm-26 3l3 4l-3 4l-3-4zm30 2h8v8h-8zm-18 2l3 4l-3 4l-3-4zm17-3l3 4l-3 4l-3-4zm-12 13l4 7h-8zm-12-11l4 7h-8zm7-2h8v8h-8zm24-8l4 7h-8zm-14 10l3 4l-3 4l-3-4zm11-1l3 4l-3 4l-3-4zm-36-1l3 4l-3 4l-3-4zm16 4l4 7h-8zm-6 0h8v8h-8zm8 4l3 4l-3 4l-3-4zm2-9l3 4l-3 4l-3-4zm-15-2l3 4l-3 4l-3-4zm6-6l3 4l-3 4l-3-4zm17 14l3 4l-3 4l-3-4zm-1-1h8v8h-8zm3 0l3 4l-3 4l-3-4zm-9-1l4 7h-8zm5-9l3 4l-3 4l-3-4zm14 6l3 4l-3 4l-3-4zm-5-3l3 4l-3 4l-3-4zm-27 3l3 4l-3 4l-3-4zm27-1h8v8h-8zm-30 14h8v8h-8zm15-20l3 4l-3 4l-3-4zm1 7l3 4l-3 4l-3-4zm-7 5l4 7h-8zm13-10l4 7h-8zm-2 12l3 4l-3 4l-3-4zm18-13l3 4l-3 4l-3-4zm-12 7l3 4l-3 4l-3-4zm-16-2l4 7h-8zm27 9l4 7h-8zm-82 173l3 4l-3 4l-3-4zm0 14l3 4l-3 4l-3-4zm13 4h8v8h-8zm7-10l3 4l-3 4l-3-4zm-9 27h8v8h-8zm-4-37l3 4l-3 4l-3-4zm-4-11l3 4l-3 4l-3-4zm2 52l3 4l-3 4l-3-4zm9-36l3 4l-3 4l-3-4zm-4 11l4 7h-8zm-11-25l3 4l-3 4l-3-4zm11 40l3 4l-3 4l-3-4zm10-18l3 4l-3 4l-3-4zm-3-8l4 7h-8zm-8 27l3 4l-3 4l-3-4zm-3-19l3 4l-3 4l-3-4zm10-18h8v8h-8zm-4 16l3 4l-3 4l-3-4zm-4 7h8v8h-8zm5-8l4 7h-8zm2-4l3 4l-3 4l-3-4zm-19-11l3 4l-3 4l-3-4zm21 24l3 4l-3 4l-3-4zm7-13l3 4l-3 4l-3-4zm-3 15l3 4l-3 4l-3-4zm-15-11l3 4l-3 4l-3-4zm1 8h8v8h-8zm6-7l4 7h-8zm-1 11l4 7h-8zm-11-23l4 7h-8zm12 9h8v8h-8zm10-10l3 4l-3 4l-3-4zm-4 0l3 4l-3 4l-3-4zm-7 17l3 4l-3 4l-3-4zm1-19l3 4l-3 4l-3-4zm7 8h8v8h-8zm3 20l4 7h-8zm-14-6l3 4l-3 4l-3-4zm1-30l3 4l-3 4l-3-4zm14 0l3 4l-3 4l-3-4zm-17 27l4 7h-8zm0-14l3 4l-3 4l-3-4zm6 8h8v8h-8zm11 12l3 4l-3 4l-3-4zm2-2l3 4l-3 4l-3-4zm-1-2l3 4l-3 4l-3-4zm-33-23h8v8h-8zm18 36l3 4l-3 4l-3-4zm-12-36h8v8h-8zm8 16l3 4l-3 4l-3-4zm-4-8l4 7h-8zm2 10l4 7h-8zm17-5l3 4l-3 4l-3-4zm-8 25l3 4l-3 4l-3-4zm4-4l4 7h-8zm-6-49l3 4l-3 4l-3-4zm19 30l3 4l-3 4l-3-4zm-18 16l3 4l-3 4l-3-4zm1-23l3 4l-3 4l-3-4zm-1-1l4 7h-8zm-10 52h8v8h-8zm-25-2h8v8h-8zm-3-5h8v8h-8zm-21-5h8v8h-8zm-10 9h8v8h-8zm49 7l3 4l-3 4l-3-4zm-6-2h8v8h-8zm-50-19h8v8h-8zm2 8l3 4l-3 4l-3-4zm33-3h8v8h-8zm14 11l3 4l-3 4l-3-4zm-26-16h8v8h-8zm35 20h8v8h-8zm-26-10h8v8h-8zm-31 0l3 4l-3 4l-3-4zm35-2l3 4l-3 4l-3-4zm-42-28h8v8h-8zm-1 10h8v8h-8zm46 24h8v8h-8zm-16-2h8v8h-8zm21 6h8v8h-8zm12 4h8v8h-8zm-68-28h8v8h-8zm12 14h8v8h-8zm32-8h8v8h-8zm-19 10h8v8h-8zm-17-13h8v8h-8zm-1 0h8v8h-8zm8 10h8v8h-8zm49 15l3 4l-3 4l-3-4zm-53-18h8v8h-8zm27 7l3 4l-3 4l-3-4zm-37-15h8v8h-8zm48 19h8v8h-8zm-44-28h8v8h-8zm38 24h8v8h-8zm-16-3h8v8h-8zm-20-7h8v8h-8zm61 23h8v8h-8zm-6-11h8v8h-8zm-5-8h8v8h-8zm13 22h8v8h-8zm-32-14l3 4l-3 4l-3-4zm-28-12h8v8h-8zm57 17h8v8h-8zm-29-4h8v8h-8zm13-6h8v8h-8zm1 3h8v8h-8zm-4-10h8v8h-8zm26 22l3 4l-3 4l-3-4zm-14-18h8v8h-8zm-22 6h8v8h-8zm11-2h8v8h-8zm9 2l3 4l-3 4l-3-4zm7 5h8v8h-8zm-59-10h8v8h-8zm10 6l3 4l-3 4l-3-4zm14-8h8v8h-8zm20 9h8v8h-8zm-39-21h8v8h-8zm89-312l6 10h-12zm-22 187l6 10h-12zm-92 173l5 6l-5 6l-5-6zm92 5l5 6l-5 6l-5-6zm26 26l5 6l-5 6l-5-6zm89-99l5 6l-5 6l-5-6zm35-102l5 6l-5 6l-5-6zm136 13l5 6l-5 6l-5-6zm-39-151l5 6l-5 6l-5-6zm-158-116l5 6l-5 6l-5-6zm88-71l5 6l-5 6l-5-6zm-94 71h12v12h-12zm-175 425l5 6l-5 6l-5-6zm88 6h12v12h-12zm31 23l6 10h-12zm88 19l5 6l-5 6l-5-6zm-110 56l5 6l-5 6l-5-6zm48-3h12v12h-12zm-41 105l5 6l-5 6l-5-6zm67 4l5 6l-5 6l-5-6zm198-368h12v12h-12zm-276 182l5 6l-5 6l-5-6zm454 6l4 5l-4 5l-4-5zm1 11l4 5l-4 5l-4-5zm-1-10l4 5l-4 5l-4-5zm-2 7l4 5l-4 5l-4-5zm0-4h10v10h-10zm3-3l4 5l-4 5l-4-5zm2-9l4 5l-4 5l-4-5zm-10 10h10v10h-10zm155 224l4 5l-4 5l-4-5zm19-74l4 5l-4 5l-4-5zm2-18h10v10h-10zm-23 84h10v10h-10zm20-28l4 5l-4 5l-4-5zm14-64l4 5l-4 5l-4-5zm-11 10h10v10h-10zm8-22l4 5l-4 5l-4-5zm-15 42l4 5l-4 5l-4-5zm-3-8l4 5l-4 5l-4-5zm-7 68l4 5l-4 5l-4-5zm0-34h10v10h-10zm-5 36h10v10h-10zm16-96h10v10h-10zm7 0h10v10h-10zm-25 84h10v10h-10zm19-23l4 5l-4 5l-4-5zm0-29l4 5l-4 5l-4-5zm7-16l4 5l-4 5l-4-5zm-21 72l4 5l-4 5l-4-5zm7-13l4 5l-4 5l-4-5zm-9 32l4 5l-4 5l-4-5zm3-26h10v10h-10zm6-25h10v10h-10zm3 17l4 5l-4 5l-4-5zm-3-41h10v10h-10zm-163-197l5 8h-10zm19-3l4 5l-4 5l-4-5zm-19 1l5 8h-10zm14-1l4 5l-4 5l-4-5zm3 5l5 8h-10zm385-286l5 8h-10zm20 39l4 5l-4 5l-4-5zm-4 7l5 8h-10zm-16-46l4 5l-4 5l-4-5zm8 9l4 5l-4 5l-4-5zm7 5l5 8h-10zm-21-1l4 5l-4 5l-4-5zm29 14l5 8h-10zm-23-30l5 8h-10zm23 33l4 5l-4 5l-4-5zm1 8l4 5l-4 5l-4-5zm-15-25l5 8h-10zm-1 3l5 8h-10zm9 20l5 8h-10zm7 1l5 8h-10zm-6-28l4 5l-4 5l-4-5zm11 24l5 8h-10zm-32-31l4 5l-4 5l-4-5zm-184 166l4 5l-4 5l-4-5zm24 23l4 5l-4 5l-4-5zm-22-31l4 5l-4 5l-4-5zm11-1l4 5l-4 5l-4-5zm2 18l4 5l-4 5l-4-5zm-17-40l4 5l-4 5l-4-5zm8 21l4 5l-4 5l-4-5zm3 7l4 5l-4 5l-4-5zm-8-31l4 5l-4 5l-4-5zm2 23l4 5l-4 5l-4-5zm6 3l4 5l-4 5l-4-5zm-7-8l4 5l-4 5l-4-5zm-5-8l4 5l-4 5l-4-5zm5-4l4 5l-4 5l-4-5z"/></g><g stroke="#0000ff"><path d="M211 3225h8m-4-4v8m-3-7l6 6m0-6l-6 6m-25 6l8 8m0-8l-8 8m31-12h8m-4-4v8m-3-7l6 6m0-6l-6 6m-13-1l8 8m0-8l-8 8m-29-6l8 8m0-8l-8 8m49-32l8 8m0-8l-8 8m-43 26a4 4 0 1 0 8 0a4 4 0 1 0-8 0m-11-14h8m-4-4v8m-3-7l6 6m0-6l-6 6m33 1h8m-4-4v8m-3-7l6 6m0-6l-6 6m17-15l8 8m0-8l-8 8m30-21l8 8m0-8l-8 8m14-17h8m-4-4v8m-3-7l6 6m0-6l-6 6m-52 26h8m-4-4v8m-3-7l6 6m0-6l-6 6m-24 4a4 4 0 1 0 8 0a4 4 0 1 0-8 0m-24 3l8 8m0-8l-8 8m29-26l8 8m0-8l-8 8m39-9h8m-4-4v8m-3-7l6 6m0-6l-6 6m-13-2h8m-4-4v8m-3-7l6 6m0-6l-6 6m33-8l8 8m0-8l-8 8m-13-20h8m-4-4v8m-3-7l6 6m0-6l-6 6m-20 11l8 8m0-8l-8 8m-17 3h8m-4-4v8m-3-7l6 6m0-6l-6 6m-19-8h8m-4-4v8m-3-7l6 6m0-6l-6 6m28-1h8m-4-4v8m-3-7l6 6m0-6l-6 6m43-23l8 8m0-8l-8 8m-55 5h8m-4-4v8m-3-7l6 6m0-6l-6 6m23-5h8m-4-4v8m-3-7l6 6m0-6l-6 6m-38 11l8 8m0-8l-8 8m-11-4l8 8m0-8l-8 8m35-6h8m-4-4v8m-3-7l6 6m0-6l-6 6m-9-23h8m-4-4v8m-3-7l6 6m0-6l-6 6m16 0l8 8m0-8l-8 8m-58-1l8 8m0-8l-8 8m74-20h8m-4-4v8m-3-7l6 6m0-6l-6 6m-16 10l8 8m0-8l-8 8m20-19l8 8m0-8l-8 8m-26-11l8 8m0-8l-8 8m15-8h8m-4-4v8m-3-7l6 6m0-6l-6 6m-56 10h8m-4-4v8m-3-7l6 6m0-6l-6 6m77-24l8 8m0-8l-8 8m-20 0h8m-4-4v8m-3-7l6 6m0-6l-6 6m-34-5l8 8m0-8l-8 8m30-14l8 8m0-8l-8 8m-30 20h8m-4-4v8m-3-7l6 6m0-6l-6 6m23-25l8 8m0-8l-8 8m-23-2h8m-4-4v8m-3-7l6 6m0-6l-6 6m4 2h8m-4-4v8m-3-7l6 6m0-6l-6 6m-12-8l8 8m0-8l-8 8m9-5h8m-4-4v8m-3-7l6 6m0-6l-6 6m-11 10h8m-4-4v8m-3-7l6 6m0-6l-6 6m22 74l8 8m0-8l-8 8m-32-20l8 8m0-8l-8 8m13-12h8m-4-4v8m-3-7l6 6m0-6l-6 6m8 2h8m-4-4v8m-3-7l6 6m0-6l-6 6m-23-21h8m-4-4v8m-3-7l6 6m0-6l-6 6m0 5h8m-4-4v8m-3-7l6 6m0-6l-6 6m5-1h8m-4-4v8m-3-7l6 6m0-6l-6 6m15-3h8m-4-4v8m-3-7l6 6m0-6l-6 6m1 8l8 8m0-8l-8 8m12-5l8 8m0-8l-8 8m-42-33l8 8m0-8l-8 8m-7 6l8 8m0-8l-8 8m12-27l8 8m0-8l-8 8m27 18h8m-4-4v8m-3-7l6 6m0-6l-6 6m-2 8h8m-4-4v8m-3-7l6 6m0-6l-6 6m-15-17h8m-4-4v8m-3-7l6 6m0-6l-6 6m11-2l8 8m0-8l-8 8m-2 7h8m-4-4v8m-3-7l6 6m0-6l-6 6m-3-39l8 8m0-8l-8 8m-20-8l8 8m0-8l-8 8m23 20h8m-4-4v8m-3-7l6 6m0-6l-6 6m4-2h8m-4-4v8m-3-7l6 6m0-6l-6 6m-19-20h8m-4-4v8m-3-7l6 6m0-6l-6 6m-7-15l8 8m0-8l-8 8m-12-6l8 8m0-8l-8 8m17 12h8m-4-4v8m-3-7l6 6m0-6l-6 6m-10-11l8 8m0-8l-8 8m24 5l8 8m0-8l-8 8m14-4h8m-4-4v8m-3-7l6 6m0-6l-6 6m-22-8l8 8m0-8l-8 8m-7-18h8m-4-4v8m-3-7l6 6m0-6l-6 6m22 10h8m-4-4v8m-3-7l6 6m0-6l-6 6m-40-27h8m-4-4v8m-3-7l6 6m0-6l-6 6m5 9l8 8m0-8l-8 8m26 9l8 8m0-8l-8 8m-32-36l8 8m0-8l-8 8m20 6l8 8m0-8l-8 8m-1-14h8m-4-4v8m-3-7l6 6m0-6l-6 6m-10-9h8m-4-4v8m-3-7l6 6m0-6l-6 6m19 21l8 8m0-8l-8 8m29-35h8m-4-4v8m-3-7l6 6m0-6l-6 6m1 1h8m-4-4v8m-3-7l6 6m0-6l-6 6m1 0h8m-4-4v8m-3-7l6 6m0-6l-6 6m-1-2h8m-4-4v8m-3-7l6 6m0-6l-6 6m-4-4h8m-4-4v8m-3-7l6 6m0-6l-6 6m-1-8h8m-4-4v8m-3-7l6 6m0-6l-6 6m6-4h8m-4-4v8m-3-7l6 6m0-6l-6 6m-6 0h8m-4-4v8m-3-7l6 6m0-6l-6 6m1-1h8m-4-4v8m-3-7l6 6m0-6l-6 6m3-4h8m-4-4v8m-3-7l6 6m0-6l-6 6m-6-13h8m-4-4v8m-3-7l6 6m0-6l-6 6m-5 5h8m-4-4v8m-3-7l6 6m0-6l-6 6m-199-14l8 8m0-8l-8 8m45 125a6 6 0 1 0 12 0a6 6 0 1 0-12 0m269 11l6 10h-12zm-163 57l6 10h-12zm32 75l6 10h-12zm4 6l6 10h-12zm-8 6l6 10h-12z"/></g></g><g transform="scale(.5)" fill="none" stroke-width="2.3" stroke-linejoin="round"><path d="M1138 3311h18v18h-18zm103-49l7 9l-7 9l-7-9zm-60 14h18v18h-18zm15 10h18v18h-18zm-9 4h18v18h-18zm-85 30h18v18h-18zm89-30h18v18h-18zm-32 17l7 9l-7 9l-7-9zm55-41l7 9l-7 9l-7-9zm-118 51h18v18h-18zm83-41h18v18h-18zm63 11h18v18h-18zm52-27h18v18h-18zm-149 35l7 9l-7 9l-7-9zm153-28l7 9l-7 9l-7-9zm-17-5h18v18h-18zm-80 26l7 9l-7 9l-7-9zm65-28h18v18h-18zm-123 35h18v18h-18zm9 2h18v18h-18zm23-18l7 9l-7 9l-7-9zm78-2l7 9l-7 9l-7-9zm18-8h18v18h-18zm28-13l7 9l-7 9l-7-9zm-35 6h18v18h-18zm-67 26l7 9l-7 9l-7-9zm99-2h18v18h-18zm-83-28h18v18h-18zm5 2l7 9l-7 9l-7-9zm60-11l7 9l-7 9l-7-9zm-46 35l7 9l-7 9l-7-9zm48 0l7 9l-7 9l-7-9zm-24-13l7 9l-7 9l-7-9zm-73-8h18v18h-18zm0 26l7 9l-7 9l-7-9zm72-20h18v18h-18zm-71 13l7 9l-7 9l-7-9zm-23-4l7 9l-7 9l-7-9zm130-13h18v18h-18zm-142 38h18v18h-18zm55-32l7 9l-7 9l-7-9zm73-15l7 9l-7 9l-7-9zm-137 21l7 9l-7 9l-7-9zm102 10l7 9l-7 9l-7-9zm2-35l7 9l-7 9l-7-9zm-102 45h18v18h-18zm48-17l7 9l-7 9l-7-9zm-54 29l7 9l-7 9l-7-9zm127-48l7 9l-7 9l-7-9zm-38 1l7 9l-7 9l-7-9zm-8 11l7 9l-7 9l-7-9zm-84 28h18v18h-18zm87-27h18v18h-18zm-11 1l7 9l-7 9l-7-9zm-110 50l7 9l-7 9l-7-9zm55-57h18v18h-18zm34 23l7 9l-7 9l-7-9zm-41-3h18v18h-18zm110-39h18v18h-18zm-117 49l7 9l-7 9l-7-9zm109-17h18v18h-18zm-21-17h18v18h-18zm-58 37h18v18h-18zm-60-2h18v18h-18zm152-38h18v18h-18zm-132 58l7 9l-7 9l-7-9zm112-46l7 9l-7 9l-7-9zm0 9h18v18h-18zm-35-15h18v18h-18zm-29 21l7 9l-7 9l-7-9zm33-15l7 9l-7 9l-7-9zm56-3l7 9l-7 9l-7-9zm-97 7h18v18h-18zm57-8h18v18h-18zm22 1l7 9l-7 9l-7-9zm-108 42h18v18h-18zm30-35h18v18h-18zm-15 10h18v18h-18zm-11 5h18v18h-18zm43 10h18v18h-18zm-22-3l7 9l-7 9l-7-9zm-62-6h18v18h-18zm109-32h18v18h-18zm-39 28l7 9l-7 9l-7-9zm-46 37l7 9l-7 9l-7-9zm126-76l7 9l-7 9l-7-9zm-8 17h18v18h-18zm-86-2h18v18h-18zm44 9l7 9l-7 9l-7-9zm-22-1l7 9l-7 9l-7-9zm36-25h18v18h-18zm-67 57l7 9l-7 9l-7-9zm17-38h18v18h-18zm0 38l7 9l-7 9l-7-9zm51-33l7 9l-7 9l-7-9zm67 2h18v18h-18zm-107 17l7 9l-7 9l-7-9zm-56 7h18v18h-18zm3 19l7 9l-7 9l-7-9zm177-52l7 9l-7 9l-7-9zm-128 21h18v18h-18zm24 11l7 9l-7 9l-7-9zm9-13h18v18h-18zm75-15h18v18h-18zm-119 30l7 9l-7 9l-7-9zm49-36h18v18h-18zm-21 12l7 9l-7 9l-7-9zm-60 40l7 9l-7 9l-7-9zm57-49h18v18h-18zm-46 34l7 9l-7 9l-7-9zm124-33l7 9l-7 9l-7-9zm-56 10l7 9l-7 9l-7-9zm65-19h18v18h-18zm-23 10h18v18h-18zm-38-10l7 9l-7 9l-7-9zm-32 27h18v18h-18zm41-24h18v18h-18zm-72 29h18v18h-18zm124-29l7 9l-7 9l-7-9zm6 4h18v18h-18zm-82 25l7 9l-7 9l-7-9zm-30 11l7 9l-7 9l-7-9zm78-31h18v18h-18zm29-17h18v18h-18zm-161 55h18v18h-18zm56 3l7 9l-7 9l-7-9zm88-39h18v18h-18zm-146 43h18v18h-18zm27-22h18v18h-18zm-45 25h18v18h-18zm101-46h18v18h-18zm-80 31l7 9l-7 9l-7-9zm10-20h18v18h-18zm45 7l7 9l-7 9l-7-9zm56-21h18v18h-18zm32-5h18v18h-18zm-72 26l7 9l-7 9l-7-9zm-35 4l7 9l-7 9l-7-9zm40-13l7 9l-7 9l-7-9zm41-35l7 9l-7 9l-7-9zm-36 26l7 9l-7 9l-7-9zm88-14l7 9l-7 9l-7-9zm-183 63l7 9l-7 9l-7-9zm38-13l7 9l-7 9l-7-9zm-20-17h18v18h-18zm61-3l7 9l-7 9l-7-9zm33-38l7 9l-7 9l-7-9zm-14 43l7 9l-7 9l-7-9zm-51 4h18v18h-18zm-31 11l7 9l-7 9l-7-9zm59-12l7 9l-7 9l-7-9zm58-32h18v18h-18zm-101 25h18v18h-18zm80-14h18v18h-18zm-67 11l7 9l-7 9l-7-9zm67-10l7 9l-7 9l-7-9zm47-4l7 9l-7 9l-7-9zm-58 18l7 9l-7 9l-7-9zm-41-7l7 9l-7 9l-7-9zm57-3l7 9l-7 9l-7-9zm58-6h18v18h-18zm-129 24l7 9l-7 9l-7-9zm75-18h18v18h-18zm28-21h18v18h-18zm9-18l7 9l-7 9l-7-9zm-90 43h18v18h-18zm96-26l7 9l-7 9l-7-9zm10 16h18v18h-18zm-42-9h18v18h-18zm-54 19l7 9l-7 9l-7-9zm140 74l9 15h-18zm-8-24l9 15h-18zm-5-17l9 15h-18zm-45-19l7 9l-7 9l-7-9zm6 16l9 15h-18zm60 30l9 15h-18zm-18 2l15-9v18zm-24-38l9 15h-18zm41 44l9 15h-18zm-43-46l7 9l-7 9l-7-9zm23 36l7 9l-7 9l-7-9zm-45-35l15-9v18zm24 16l9 15h-18zm32 17l9 15h-18zm-6 13l9 15h-18zm14-28l9 15h-18zm-83-20l9 15h-18zm5 4l9 15h-18zm56 19l9 15h-18zm-51-25l9 15h-18zm-5-8l9 15h-18zm10 19l15-9v18zm-16-28l9 15h-18zm26 28l9 15h-18zm74 44l7 9l-7 9l-7-9zm-98-49l9 15h-18zm3 5l15-9v18zm45-2l7 9l-7 9l-7-9zm12 17l7 9l-7 9l-7-9zm-9-1l9 15h-18zm-8 9l15-9v18zm-6-19l9 15h-18zm4 6l9 15h-18zm-24-26l9 15h-18zm44 55l7 9l-7 9l-7-9zm-54-25l9 15h-18zm66 45l15-9v18zm-11-34l15-9v18zm-38-36l9 15h-18zm34 56l15-9v18zm20-19l9 15h-18zm-33-16l7 9l-7 9l-7-9zm-29-20l7 9l-7 9l-7-9zm48 41l7 9l-7 9l-7-9zm13-17l9 15h-18zm-35-13l9 15h-18zm47 28l9 15h-18zm-25-6l9 15h-18zm5 10l9 15h-18zm-49-36l7 9l-7 9l-7-9zm55 42l7 9l-7 9l-7-9zm21-10l9 15h-18zm-38-21l9 15h-18zm-38-9l9 15h-18zm34 11l9 15h-18zm-49-16l15-9v18zm64 51l9 15h-18zm-65-38l9 15h-18zm41-23l7 9l-7 9l-7-9zm10 8l9 15h-18zm137-5l7 9l-7 9l-7-9zm143 44h18v18h-18zm-34-6h18v18h-18zm-2-19h18v18h-18zm78 30l7 9l-7 9l-7-9zm-88-19h18v18h-18zm-87-15l7 9l-7 9l-7-9zm18 19h18v18h-18zm39-10l9 15h-18zm54 11l7 9l-7 9l-7-9zm-101-9h18v18h-18zm-23-8h18v18h-18zm-21-21l7 9l-7 9l-7-9zm152 48l7 9l-7 9l-7-9zm29-9h18v18h-18zm12 0h18v18h-18zm-100-15l7 9l-7 9l-7-9zm-24-3l9 15h-18zm-23 3h18v18h-18zm91-9h18v18h-18zm36 14l7 9l-7 9l-7-9zm-130 6h18v18h-18zm142 4l9 15h-18zm4-3l7 9l-7 9l-7-9zm-184-31h18v18h-18zm165 40l7 9l-7 9l-7-9zm-91-30h18v18h-18zm-95-3h18v18h-18zm48 12l7 9l-7 9l-7-9zm160 37h18v18h-18zm-60-42l7 9l-7 9l-7-9zm-19 23h18v18h-18zm-90-13l9 15h-18zm136-17h18v18h-18zm-26-2h18v18h-18zm-112-1l7 9l-7 9l-7-9zm158 29h18v18h-18zm-163-30h18v18h-18zm30 10l7 9l-7 9l-7-9zm-48-1h18v18h-18zm23 116l9 15h-18zm-6-5l9 15h-18zm4 19l9 15h-18zm-27-62l7 9l-7 9l-7-9zm10 4l9 15h-18zm31 46l9 15h-18zm-30-39l7 9l-7 9l-7-9zm-7 3l7 9l-7 9l-7-9zm11-5l9 15h-18zm0 24l9 15h-18zm14 22l9 15h-18zm-6-36l7 9l-7 9l-7-9zm17 53l9 15h-18zm-14-26l9 15h-18zm-13-41l9 15h-18zm7 47l9 15h-18zm-6-24l7 9l-7 9l-7-9zm11 33l9 15h-18zm-26-61l9 15h-18zm28 50l9 15h-18zm-11-18l7 9l-7 9l-7-9zm20 22l9 15h-18zm-6 2l9 15h-18zm-28-65l7 9l-7 9l-7-9zm37 67l7 9l-7 9l-7-9zm-1 2l9 15h-18zm44 34h20v20h-20zm0 23l8 10l-8 10l-8-10zm29 7l8 10l-8 10l-8-10zm-6 29l8 10l-8 10l-8-10zm49 1l8 10l-8 10l-8-10zm-49 39l8 10l-8 10l-8-10zm10 19l8 10l-8 10l-8-10zm82 3h20v20h-20zm16-26l8 10l-8 10l-8-10zm0-23h20v20h-20zm39-33h20v20h-20zm-16-72l8 10l-8 10l-8-10zm20 26l10 17h-20zm-7-59l10 17h-20zm-59-46l10 17h-20zm-335-141l8 10l-8 10l-8-10zm-72 112l8 10l-8 10l-8-10zm10-2l10 17h-20zm448 297l7 9l-7 9l-7-9zm-6-5h18v18h-18zm-10 8h18v18h-18zm14-12h18v18h-18zm-5 7h18v18h-18zm0 1l7 9l-7 9l-7-9zm7-4h18v18h-18zm-8 6h18v18h-18zm-509-222l8 10l-8 10l-8-10zm-5-18l8 10l-8 10l-8-10zm1-2l8 10l-8 10l-8-10zm4 26l8 10l-8 10l-8-10zm1-6l8 10l-8 10l-8-10zm-1-16l8 10l-8 10l-8-10zm8 22l8 10l-8 10l-8-10z" stroke="#00e000"/><path d="M1410 3201l8 14h-16zm-31-15h16m-8-8v16m-6-14l12 12m0-12l-12 12m36 32l16 16m0-16l-16 16m31 16h16m-8-8v16m-6-14l12 12m0-12l-12 12m-38-37h16m-8-8v16m-6-14l12 12m0-12l-12 12m-23-47l16 16m0-16l-16 16m39 35l16 16m0-16l-16 16m0-31l16 16m0-16l-16 16m-24-11h16m-8-8v16m-6-14l12 12m0-12l-12 12m26 14l16 16m0-16l-16 16m9-32h16m-8-8v16m-6-14l12 12m0-12l-12 12m-22-19l8 14h-16zm-5 2l16 16m0-16l-16 16m30-2l16 16m0-16l-16 16m-66-56h16m-8-8v16m-6-14l12 12m0-12l-12 12m15 16l16 16m0-16l-16 16m-16-39h16m-8-8v16m-6-14l12 12m0-12l-12 12m28 31h16m-8-8v16m-6-14l12 12m0-12l-12 12m-2-35l8 14h-16zm3 6l16 16m0-16l-16 16m28 23h16m-8-8v16m-6-14l12 12m0-12l-12 12m-32-41l16 16m0-16l-16 16m-42-38h16m-8-8v16m-6-14l12 12m0-12l-12 12m41 36h16m-8-8v16m-6-14l12 12m0-12l-12 12m-25-56l16 16m0-16l-16 16m39 23l16 16m0-16l-16 16m8-4l16 16m0-16l-16 16m14-7l16 16m0-16l-16 16m-64-60l16 16m0-16l-16 16m16-14l16 16m0-16l-16 16m32 29l16 16m0-16l-16 16m-1-42l8 14h-16zm-27-9l8 14h-16zm13-1l16 16m0-16l-16 16m28-4l8 14h-16zm-84-28h16m-8-8v16m-6-14l12 12m0-12l-12 12m29 11l8 14h-16zm47 25h16m-8-8v16m-6-14l12 12m0-12l-12 12m-52-58l8 14h-16zm18 52h16m-8-8v16m-6-14l12 12m0-12l-12 12m135 98l10 17h-20zm-243-1a10 10 0 1 0 20 0a10 10 0 1 0-20 0m171-49h20m-10-10v20m79 20a10 10 0 1 0 20 0a10 10 0 1 0-20 0m-263 2l10 17h-20zm225 7l20 20m0-20l-20 20m-216-19a10 10 0 1 0 20 0a10 10 0 1 0-20 0m61-70l10 17h-20zm197 106l10 17h-20zm-100-82l10 17h-20zm33 6l20 20m0-20l-20 20m-21 11h20m-10-10v20m-33-16a10 10 0 1 0 20 0a10 10 0 1 0-20 0m-167 23l10 17h-20zm40-43a10 10 0 1 0 20 0a10 10 0 1 0-20 0m240 53l10 17h-20zm-123-62h20m-10-10v20m-42-46a10 10 0 1 0 20 0a10 10 0 1 0-20 0m139 99h20m-10-10v20m-7-17l14 14m0-14l-14 14m-44-69h20m-10-10v20m8 34a10 10 0 1 0 20 0a10 10 0 1 0-20 0m-154-38h20m-10-10v20m84 15h20m-10-10v20m-7-17l14 14m0-14l-14 14m-101-19h20m-10-10v20m-112 9l20 20m0-20l-20 20m238-68l20 20m0-20l-20 20m53 29l20 20m0-20l-20 20m-20-21l10 17h-20zm-161-49l10 17h-20zm88-13l10 17h-20zm-197 62a10 10 0 1 0 20 0a10 10 0 1 0-20 0m103-28a10 10 0 1 0 20 0a10 10 0 1 0-20 0m185 46a10 10 0 1 0 20 0a10 10 0 1 0-20 0m-233-19a10 10 0 1 0 20 0a10 10 0 1 0-20 0m209 3l10 17h-20zm-165-30l20 20m0-20l-20 20m187 43h20m-10-10v20m-264-27h20m-10-10v20m11-56l20 20m0-20l-20 20m199 6h20m-10-10v20m-7-17l14 14m0-14l-14 14m-172-29l10 17h-20zm130 16h20m-10-10v20m90 43l10 17h-20zm-58-95l20 20m0-20l-20 20m-271 20l20 20m0-20l-20 20m277-5h20m-10-10v20m-218-61a10 10 0 1 0 20 0a10 10 0 1 0-20 0m186 46l10 17h-20zm-85-52a10 10 0 1 0 20 0a10 10 0 1 0-20 0m-13-2a10 10 0 1 0 20 0a10 10 0 1 0-20 0m-29 7h20m-10-10v20m172 37a10 10 0 1 0 20 0a10 10 0 1 0-20 0m23 43a10 10 0 1 0 20 0a10 10 0 1 0-20 0m16 26l10 17h-20zm-276-65l20 20m0-20l-20 20m277 17h20m-10-10v20m-78-72l10 17h-20zm-86-30l20 20m0-20l-20 20m-44-22l10 17h-20zm74 6l10 17h-20zm-72-12l10 17h-20zm59 10h20m-10-10v20m45 38l20 20m0-20l-20 20m-184-42h20m-10-10v20m-7-17l14 14m0-14l-14 14m-20 15l20 20m0-20l-20 20m-37 1a10 10 0 1 0 20 0a10 10 0 1 0-20 0m39-38l20 20m0-20l-20 20m168-14h20m-10-10v20m-185-16l10 17h-20zm138-10h20m-10-10v20m-39-42h20m-10-10v20m21 4h20m-10-10v20m-7-17l14 14m0-14l-14 14m-130 9a10 10 0 1 0 20 0a10 10 0 1 0-20 0m135-19l20 20m0-20l-20 20m-20-7l10 17h-20zm-156 42a10 10 0 1 0 20 0a10 10 0 1 0-20 0m124-52a10 10 0 1 0 20 0a10 10 0 1 0-20 0m-101 34h20m-10-10v20m-7-17l14 14m0-14l-14 14m286 51a10 10 0 1 0 20 0a10 10 0 1 0-20 0m-257-46h20m-10-10v20m-15-56a10 10 0 1 0 20 0a10 10 0 1 0-20 0m-12 20l20 20m0-20l-20 20m83-71l10 17h-20zm-108 47l10 17h-20zm208-2a10 10 0 1 0 20 0a10 10 0 1 0-20 0m-103-22a10 10 0 1 0 20 0a10 10 0 1 0-20 0m153 38l10 17h-20zm-74 27a10 10 0 1 0 20 0a10 10 0 1 0-20 0m-5-50a10 10 0 1 0 20 0a10 10 0 1 0-20 0m102 82h20m-10-10v20m-79-54h20m-10-10v20m-7-17l14 14m0-14l-14 14m29 29h20m-10-10v20m-253-29h20m-10-10v20m182-52l10 17h-20zm72 38l20 20m0-20l-20 20m-270-15h20m-10-10v20m-7-17l14 14m0-14l-14 14m74-25h20m-10-10v20m-30-51h20m-10-10v20m-74 37a10 10 0 1 0 20 0a10 10 0 1 0-20 0m287 43h20m-10-10v20m-7-17l14 14m0-14l-14 14m-136-123l20 20m0-20l-20 20m-44-15l10 17h-20zm77 28a10 10 0 1 0 20 0a10 10 0 1 0-20 0m-138-38l20 20m0-20l-20 20m144-26l10 17h-20zm-112 29l10 17h-20zm68-17l20 20m0-20l-20 20m-45 14h20m-10-10v20m56 1h20m-10-10v20m23-33l10 17h-20zm-179 44h20m-10-10v20m-47-4l10 17h-20zm79-53l10 17h-20zm235 85l20 20m0-20l-20 20m-27-28l20 20m0-20l-20 20m20 6h20m-10-10v20m-93-47h20m-10-10v20m17-75l10 17h-20zm-258 87a10 10 0 1 0 20 0a10 10 0 1 0-20 0m270-14l20 20m0-20l-20 20m37 9l20 20m0-20l-20 20m19-22h20m-10-10v20m-98-98l10 17h-20zm0 39h20m-10-10v20m-115-60a10 10 0 1 0 20 0a10 10 0 1 0-20 0m91 64h20m-10-10v20m-7-17l14 14m0-14l-14 14m-229 8a10 10 0 1 0 20 0a10 10 0 1 0-20 0m48-81l20 20m0-20l-20 20m234 55h20m-10-10v20m-14-18a10 10 0 1 0 20 0a10 10 0 1 0-20 0m-140-73l20 20m0-20l-20 20m15-15a10 10 0 1 0 20 0a10 10 0 1 0-20 0m-85 14l10 17h-20zm226 57l10 17h-20zm-95-67h20m-10-10v20m-13-3l20 20m0-20l-20 20m-189 51h20m-10-10v20m59-63a10 10 0 1 0 20 0a10 10 0 1 0-20 0m195 42h20m-10-10v20m-272-8a10 10 0 1 0 20 0a10 10 0 1 0-20 0m197-61h20m-10-10v20m28 29h20m-10-10v20m-7-17l14 14m0-14l-14 14m-196 17l20 20m0-20l-20 20m285 2l10 17h-20zm-124-71l20 20m0-20l-20 20m-66-59h20m-10-10v20m-7-17l14 14m0-14l-14 14m140 50l10 17h-20zm-109-22h20m-10-10v20m88-7l20 20m0-20l-20 20m-230-34l10 17h-20zm97-43l10 17h-20zm-41 39l10 17h-20zm70-5l20 20m0-20l-20 20m144 57l20 20m0-20l-20 20m-194-122l10 17h-20zm-127 118h20m-10-10v20m336-29l10 17h-20zm-7 12l20 20m0-20l-20 20m-242-111h20m-10-10v20m127 12l20 20m0-20l-20 20m-62-69l10 17h-20zm-36 42h20m-10-10v20m92-3h20m-10-10v20m75 65l10 17h-20zm-127-87a10 10 0 1 0 20 0a10 10 0 1 0-20 0m109 50l10 17h-20zm13 22h20m-10-10v20m-7-17l14 14m0-14l-14 14m-95-28h20m-10-10v20m-178-39l20 20m0-20l-20 20m65-31h20m-10-10v20m-7-17l14 14m0-14l-14 14m130 27l10 17h-20zm-83-50a10 10 0 1 0 20 0a10 10 0 1 0-20 0m122 36l10 17h-20zm-276 27l10 17h-20zm158-60l10 17h-20zm56-1l20 20m0-20l-20 20m-220 46h20m-10-10v20m286-45l10 17h-20zm-25-12h20m-10-10v20m-70 0a10 10 0 1 0 20 0a10 10 0 1 0-20 0m90 33h20m-10-10v20m-7-17l14 14m0-14l-14 14m-288 10l20 20m0-20l-20 20m161-87h20m-10-10v20m-7-17l14 14m0-14l-14 14m125 73h20m-10-10v20m-7-17l14 14m0-14l-14 14m-316-45l20 20m0-20l-20 20m249-25a10 10 0 1 0 20 0a10 10 0 1 0-20 0m-201-39l20 20m0-20l-20 20m235 11l10 17h-20zm-104-36a10 10 0 1 0 20 0a10 10 0 1 0-20 0m28-2l10 17h-20zm116 132h20m-10-10v20m-99-111l10 17h-20zm-162 3l10 17h-20zm135-55l10 17h-20zm-122 21h20m-10-10v20m218 21l10 17h-20zm-235-18l20 20m0-20l-20 20m94-87l10 17h-20zm148 130h20m-10-10v20m-7-17l14 14m0-14l-14 14m-286-73l10 17h-20zm-30 26h20m-10-10v20m-7-17l14 14m0-14l-14 14m141-47h20m-10-10v20m-7-17l14 14m0-14l-14 14m-135 61l20 20m0-20l-20 20m311 5h20m-10-10v20m-293-53a10 10 0 1 0 20 0a10 10 0 1 0-20 0m20-51a10 10 0 1 0 20 0a10 10 0 1 0-20 0m57-7l20 20m0-20l-20 20m23-16a10 10 0 1 0 20 0a10 10 0 1 0-20 0m79 49l20 20m0-20l-20 20m-7-38h20m-10-10v20m-7-17l14 14m0-14l-14 14m-143-29h20m-10-10v20m-40-1a10 10 0 1 0 20 0a10 10 0 1 0-20 0m102-12h20m-10-10v20m-130 57a10 10 0 1 0 20 0a10 10 0 1 0-20 0m24-11l10 17h-20zm60-72h20m-10-10v20m-109 53l20 20m0-20l-20 20m-14 18a10 10 0 1 0 20 0a10 10 0 1 0-20 0m28-19h20m-10-10v20m92-87l20 20m0-20l-20 20m215 59l20 20m0-20l-20 20m-113-62l10 17h-20zm-209 38a10 10 0 1 0 20 0a10 10 0 1 0-20 0m204-45h20m-10-10v20m-131-27l10 17h-20zm31-37h20m-10-10v20m-7-17l14 14m0-14l-14 14m174 127a10 10 0 1 0 20 0a10 10 0 1 0-20 0m-82-98l20 20m0-20l-20 20m-212-5l20 20m0-20l-20 20m206-19a10 10 0 1 0 20 0a10 10 0 1 0-20 0m-73-44l10 17h-20zm173 85h20m-10-10v20m-125-52h20m-10-10v20m43-23l10 17h-20zm-116-18l10 17h-20zm-146 72l10 17h-20zm335 1l10 17h-20zm-310-28a10 10 0 1 0 20 0a10 10 0 1 0-20 0m-42 13h20m-10-10v20m209-44h20m-10-10v20m74 96a10 10 0 1 0 20 0a10 10 0 1 0-20 0m-226-104l10 17h-20zm260 40h20m-10-10v20m-116-37h20m-10-10v20m-74-22l20 20m0-20l-20 20m30-33l20 20m0-20l-20 20m76 55l20 20m0-20l-20 20m-188-50h20m-10-10v20m153-33l20 20m0-20l-20 20m-51-38a10 10 0 1 0 20 0a10 10 0 1 0-20 0m32 29l10 17h-20zm-21-1l20 20m0-20l-20 20m84 10l20 20m0-20l-20 20m-258-18h20m-10-10v20m203-43l10 17h-20zm-212 1a10 10 0 1 0 20 0a10 10 0 1 0-20 0m199-29l20 20m0-20l-20 20m-26 3l10 17h-20zm61-15l20 20m0-20l-20 20m69 86a10 10 0 1 0 20 0a10 10 0 1 0-20 0m-306-101h20m-10-10v20m116-25a10 10 0 1 0 20 0a10 10 0 1 0-20 0m-109 31h20m-10-10v20m102-40h20m-10-10v20m124 66h20m-10-10v20m-7-17l14 14m0-14l-14 14m-225-54l20 20m0-20l-20 20m116-70h20m-10-10v20m-7-17l14 14m0-14l-14 14m-130 48h20m-10-10v20m-32 34a10 10 0 1 0 20 0a10 10 0 1 0-20 0m77-81l10 17h-20zm-71 27a10 10 0 1 0 20 0a10 10 0 1 0-20 0m-27 55h20m-10-10v20m200-68l10 17h-20zm-127 27a10 10 0 1 0 20 0a10 10 0 1 0-20 0m183 12l20 20m0-20l-20 20m60 17l10 17h-20zm-123-92a10 10 0 1 0 20 0a10 10 0 1 0-20 0m-88-5h20m-10-10v20m-16-21l20 20m0-20l-20 20m146 28l10 17h-20zm-109-41a10 10 0 1 0 20 0a10 10 0 1 0-20 0m33 28h20m-10-10v20m-127-18l10 17h-20zm154 31l20 20m0-20l-20 20m109 36h20m-10-10v20m-7-17l14 14m0-14l-14 14m-143-131l20 20m0-20l-20 20m127 84h20m-10-10v20m5 15h20m-10-10v20m-198-109l10 17h-20zm-19-21a10 10 0 1 0 20 0a10 10 0 1 0-20 0m155 69l10 17h-20zm18 33l10 17h-20zm-224-97a10 10 0 1 0 20 0a10 10 0 1 0-20 0m4 28l10 17h-20zm-26-23a10 10 0 1 0 20 0a10 10 0 1 0-20 0m159 19h20m-10-10v20m1 22l20 20m0-20l-20 20m-40-36h20m-10-10v20m-7-17l14 14m0-14l-14 14m-31-65l10 17h-20zm142 76h20m-10-10v20m68 172h16m-8-8v16m-6-14l12 12m0-12l-12 12m0-70h16m-8-8v16m-6-14l12 12m0-12l-12 12m27 112a8 8 0 1 0 16 0a8 8 0 1 0-16 0m-1 22l16 16m0-16l-16 16m-74-218a8 8 0 1 0 16 0a8 8 0 1 0-16 0m26 10a8 8 0 1 0 16 0a8 8 0 1 0-16 0m44 138a8 8 0 1 0 16 0a8 8 0 1 0-16 0m0 78h16m-8-8v16m-6-14l12 12m0-12l-12 12m-10-94h16m-8-8v16m-6-14l12 12m0-12l-12 12m8 76a8 8 0 1 0 16 0a8 8 0 1 0-16 0m-69-217h16m-8-8v16m-6-14l12 12m0-12l-12 12m33 62a8 8 0 1 0 16 0a8 8 0 1 0-16 0m36 154a8 8 0 1 0 16 0a8 8 0 1 0-16 0m-31-139l16 16m0-16l-16 16m-26-85h16m-8-8v16m-6-14l12 12m0-12l-12 12m27 88h16m-8-8v16m-6-14l12 12m0-12l-12 12m-10-45a8 8 0 1 0 16 0a8 8 0 1 0-16 0m-24-51l16 16m0-16l-16 16m-2-22a8 8 0 1 0 16 0a8 8 0 1 0-16 0m46 101l16 16m0-16l-16 16m-5 18a8 8 0 1 0 16 0a8 8 0 1 0-16 0m13 19a8 8 0 1 0 16 0a8 8 0 1 0-16 0m-51-126a8 8 0 1 0 16 0a8 8 0 1 0-16 0m58 171a8 8 0 1 0 16 0a8 8 0 1 0-16 0m-9-74a8 8 0 1 0 16 0a8 8 0 1 0-16 0m-2 55a8 8 0 1 0 16 0a8 8 0 1 0-16 0m-3-55h16m-8-8v16m-6-14l12 12m0-12l-12 12m7 73h16m-8-8v16m-6-14l12 12m0-12l-12 12m-1-64h16m-8-8v16m-6-14l12 12m0-12l-12 12m-26-95a8 8 0 1 0 16 0a8 8 0 1 0-16 0m27 117a8 8 0 1 0 16 0a8 8 0 1 0-16 0m-36-130h16m-8-8v16m-6-14l12 12m0-12l-12 12m38 160h16m-8-8v16m-6-14l12 12m0-12l-12 12m-37-172h16m-8-8v16m-6-14l12 12m0-12l-12 12m14 46l16 16m0-16l-16 16m-51-108a8 8 0 1 0 16 0a8 8 0 1 0-16 0m8 7a8 8 0 1 0 16 0a8 8 0 1 0-16 0m59 161a8 8 0 1 0 16 0a8 8 0 1 0-16 0m2 12l16 16m0-16l-16 16m-50-170h16m-8-8v16m-6-14l12 12m0-12l-12 12m-6-48h16m-8-8v16m-6-14l12 12m0-12l-12 12m40 144a8 8 0 1 0 16 0a8 8 0 1 0-16 0m-39-118h16m-8-8v16m-6-14l12 12m0-12l-12 12m-12-31l16 16m0-16l-16 16m-12-26a8 8 0 1 0 16 0a8 8 0 1 0-16 0m31 57a8 8 0 1 0 16 0a8 8 0 1 0-16 0m40 127a8 8 0 1 0 16 0a8 8 0 1 0-16 0m-11-30l16 16m0-16l-16 16m-20-87l16 16m0-16l-16 16m6 6h16m-8-8v16m-6-14l12 12m0-12l-12 12m16 33l16 16m0-16l-16 16m-35-99a8 8 0 1 0 16 0a8 8 0 1 0-16 0m4 27h16m-8-8v16m-6-14l12 12m0-12l-12 12m-4-19h16m-8-8v16m-6-14l12 12m0-12l-12 12m15 21a8 8 0 1 0 16 0a8 8 0 1 0-16 0m-4 18l16 16m0-16l-16 16m20 34a8 8 0 1 0 16 0a8 8 0 1 0-16 0m-31-113l16 16m0-16l-16 16m5-2l16 16m0-16l-16 16m20 35h16m-8-8v16m-6-14l12 12m0-12l-12 12m-11-17a8 8 0 1 0 16 0a8 8 0 1 0-16 0m-31-109l16 16m0-16l-16 16m48 202a8 8 0 1 0 16 0a8 8 0 1 0-16 0m-55-224l16 16m0-16l-16 16m10 24h16m-8-8v16m-6-14l12 12m0-12l-12 12m40 126h16m-8-8v16m-6-14l12 12m0-12l-12 12m-37-117a8 8 0 1 0 16 0a8 8 0 1 0-16 0m40 157h16m-8-8v16m-6-14l12 12m0-12l-12 12m-14-69h16m-8-8v16m-6-14l12 12m0-12l-12 12m-51-147a8 8 0 1 0 16 0a8 8 0 1 0-16 0m18 43l16 16m0-16l-16 16m19 60h16m-8-8v16m-6-14l12 12m0-12l-12 12m-28-89h16m-8-8v16m-6-14l12 12m0-12l-12 12m31 52a8 8 0 1 0 16 0a8 8 0 1 0-16 0m-2-15a8 8 0 1 0 16 0a8 8 0 1 0-16 0m-9 2a8 8 0 1 0 16 0a8 8 0 1 0-16 0m-1-32a8 8 0 1 0 16 0a8 8 0 1 0-16 0m1 41a8 8 0 1 0 16 0a8 8 0 1 0-16 0m8 9a8 8 0 1 0 16 0a8 8 0 1 0-16 0m4 20h16m-8-8v16m-6-14l12 12m0-12l-12 12m3 15a8 8 0 1 0 16 0a8 8 0 1 0-16 0m-51-142a8 8 0 1 0 16 0a8 8 0 1 0-16 0m25 26l16 16m0-16l-16 16m22 64a8 8 0 1 0 16 0a8 8 0 1 0-16 0m-19-74l16 16m0-16l-16 16m18 107a8 8 0 1 0 16 0a8 8 0 1 0-16 0m-28-122l16 16m0-16l-16 16m33 101a8 8 0 1 0 16 0a8 8 0 1 0-16 0m3-8a8 8 0 1 0 16 0a8 8 0 1 0-16 0m-20-96h16m-8-8v16m-6-14l12 12m0-12l-12 12m16 110h16m-8-8v16m-6-14l12 12m0-12l-12 12m-46-171a8 8 0 1 0 16 0a8 8 0 1 0-16 0m35 113l16 16m0-16l-16 16m20 44a8 8 0 1 0 16 0a8 8 0 1 0-16 0m-15-36l16 16m0-16l-16 16m-41-123l16 16m0-16l-16 16m40 79a8 8 0 1 0 16 0a8 8 0 1 0-16 0m15 70h16m-8-8v16m-6-14l12 12m0-12l-12 12m-37-141a8 8 0 1 0 16 0a8 8 0 1 0-16 0m14 29a8 8 0 1 0 16 0a8 8 0 1 0-16 0m-2 26a8 8 0 1 0 16 0a8 8 0 1 0-16 0m-10-37h16m-8-8v16m-6-14l12 12m0-12l-12 12m-20-42h16m-8-8v16m-6-14l12 12m0-12l-12 12m-22-53a8 8 0 1 0 16 0a8 8 0 1 0-16 0m54 138h16m-8-8v16m-6-14l12 12m0-12l-12 12m-7-8l16 16m0-16l-16 16m-39-141h16m-8-8v16m-6-14l12 12m0-12l-12 12m57 199a8 8 0 1 0 16 0a8 8 0 1 0-16 0m1-12l16 16m0-16l-16 16m-1-33h16m-8-8v16m-6-14l12 12m0-12l-12 12m-17-73a8 8 0 1 0 16 0a8 8 0 1 0-16 0m-7-27l16 16m0-16l-16 16m-24-74h16m-8-8v16m-6-14l12 12m0-12l-12 12m38 131l16 16m0-16l-16 16m6-9h16m-8-8v16m-6-14l12 12m0-12l-12 12m-43-141l16 16m0-16l-16 16m22 70h16m-8-8v16m-6-14l12 12m0-12l-12 12m21 68l16 16m0-16l-16 16m-50-193a8 8 0 1 0 16 0a8 8 0 1 0-16 0m17 55a8 8 0 1 0 16 0a8 8 0 1 0-16 0m9 37a8 8 0 1 0 16 0a8 8 0 1 0-16 0m-41-114h16m-8-8v16m-6-14l12 12m0-12l-12 12m8 10h16m-8-8v16m-6-14l12 12m0-12l-12 12m49 192a8 8 0 1 0 16 0a8 8 0 1 0-16 0m-20-104a8 8 0 1 0 16 0a8 8 0 1 0-16 0m6 20a8 8 0 1 0 16 0a8 8 0 1 0-16 0m2 2a8 8 0 1 0 16 0a8 8 0 1 0-16 0m-48-128h16m-8-8v16m-6-14l12 12m0-12l-12 12m4-7a8 8 0 1 0 16 0a8 8 0 1 0-16 0m18 50a8 8 0 1 0 16 0a8 8 0 1 0-16 0m-328-225h16m-8-8v16m-6-14l12 12m0-12l-12 12m18-8h16m-8-8v16m-6-14l12 12m0-12l-12 12m37 16h16m-8-8v16m-6-14l12 12m0-12l-12 12m8-26h16m-8-8v16m-6-14l12 12m0-12l-12 12m-58 17h16m-8-8v16m-6-14l12 12m0-12l-12 12" stroke="#a52a2a"/><path d="M1342 3152h16m-8-8v16m-6-14l12 12m0-12l-12 12m126 73h16m-8-8v16m-6-14l12 12m0-12l-12 12m-122-88h16m-8-8v16m-6-14l12 12m0-12l-12 12m145 101h16m-8-8v16m-181-101l16 16m0-16l-16 16m19-36h16m-8-8v16m-6-14l12 12m0-12l-12 12m-7-25l16 16m0-16l-16 16m-15-1l16 16m0-16l-16 16m-80 16l16 16m0-16l-16 16m213 35h16m-8-8v16m-145-96h16m-8-8v16m-6-14l12 12m0-12l-12 12m116 72h16m-8-8v16m-88-77h16m-8-8v16m-30-30l16 16m0-16l-16 16m78 49h16m-8-8v16m-6-14l12 12m0-12l-12 12m-140-19h16m-8-8v16m-6-14l12 12m0-12l-12 12m166 53l16 16m0-16l-16 16m-56-91h16m-8-8v16m-6-14l12 12m0-12l-12 12m81 50h16m-8-8v16m-6-14l12 12m0-12l-12 12m-83-56l16 16m0-16l-16 16m-72-7h16m-8-8v16m-6-14l12 12m0-12l-12 12m27-20l16 16m0-16l-16 16m123 62h16m-8-8v16m-6-14l12 12m0-12l-12 12m-210-52h16m-8-8v16m149-29h16m-8-8v16m-6-14l12 12m0-12l-12 12m19 36l16 16m0-16l-16 16m-72-63h16m-8-8v16m-6-14l12 12m0-12l-12 12m-105-2h16m-8-8v16m-6-14l12 12m0-12l-12 12m23-16h16m-8-8v16m-6-14l12 12m0-12l-12 12m37-25h16m-8-8v16m-6-14l12 12m0-12l-12 12m94 22l16 16m0-16l-16 16m-119-45l16 16m0-16l-16 16m-63 28h16m-8-8v16m-6-14l12 12m0-12l-12 12m104-35h16m-8-8v16m-6-14l12 12m0-12l-12 12m8-22l16 16m0-16l-16 16m105 96h16m-8-8v16m-6-14l12 12m0-12l-12 12m-140-115l16 16m0-16l-16 16m150 69h16m-8-8v16m-6-14l12 12m0-12l-12 12m-95-71h16m-8-8v16m-6-14l12 12m0-12l-12 12m-56-17h16m-8-8v16m-6-14l12 12m0-12l-12 12m-46 9h16m-8-8v16m-6-14l12 12m0-12l-12 12m-4-23h16m-8-8v16m-6-14l12 12m0-12l-12 12m114 28h16m-8-8v16m-6-14l12 12m0-12l-12 12m-42-67l16 16m0-16l-16 16m12 28h16m-8-8v16m-99-26l16 16m0-16l-16 16m144 27l16 16m0-16l-16 16m34 16l16 16m0-16l-16 16m-135-108l16 16m0-16l-16 16m-33 16h16m-8-8v16m-6-14l12 12m0-12l-12 12m83-16h16m-8-8v16m-6-14l12 12m0-12l-12 12m-55 0h16m-8-8v16m-6-14l12 12m0-12l-12 12m79-3l16 16m0-16l-16 16m50 60h16m-8-8v16m-6-14l12 12m0-12l-12 12m-209-49h16m-8-8v16m-6-14l12 12m0-12l-12 12m174 4l16 16m0-16l-16 16m15-1h16m-8-8v16m-6-14l12 12m0-12l-12 12m-95-58h16m-8-8v16m-6-14l12 12m0-12l-12 12m-37-41h16m-8-8v16m-6-14l12 12m0-12l-12 12m95 23l16 16m0-16l-16 16m-85-10h16m-8-8v16m-6-14l12 12m0-12l-12 12m-1-36h16m-8-8v16m-6-14l12 12m0-12l-12 12m37 7h16m-8-8v16m-6-14l12 12m0-12l-12 12m-15-10h16m-8-8v16m-6-14l12 12m0-12l-12 12m124 63l16 16m0-16l-16 16m-27-16h16m-8-8v16m-6-14l12 12m0-12l-12 12m54 28h16m-8-8v16m-6-14l12 12m0-12l-12 12m-180-110l16 16m0-16l-16 16m-24-6h16m-8-8v16m-6-14l12 12m0-12l-12 12m35-5h16m-8-8v16m-6-14l12 12m0-12l-12 12m-10-16l16 16m0-16l-16 16m5-16h16m-8-8v16m-6-14l12 12m0-12l-12 12m-49 4l16 16m0-16l-16 16m31-8h16m-8-8v16m-6-14l12 12m0-12l-12 12m97 13h16m-8-8v16m-52-41l16 16m0-16l-16 16m80 72l16 16m0-16l-16 16m-64-92l16 16m0-16l-16 16m-46-36h16m-8-8v16m-6-14l12 12m0-12l-12 12m98 84h16m-8-8v16m-6-14l12 12m0-12l-12 12m36 26h16m-8-8v16m-6-14l12 12m0-12l-12 12m-168-126l16 16m0-16l-16 16m158 68h16m-8-8v16m-6-14l12 12m0-12l-12 12m12 21h16m-8-8v16m-105-90h16m-8-8v16m-6-14l12 12m0-12l-12 12m-29-19h16m-8-8v16m-6-14l12 12m0-12l-12 12m93 64l16 16m0-16l-16 16m-16-51l16 16m0-16l-16 16m49 17l16 16m0-16l-16 16m-199-85h16m-8-8v16m-6-14l12 12m0-12l-12 12m93-5h16m-8-8v16m-6-14l12 12m0-12l-12 12m-68-7h16m-8-8v16m-6-14l12 12m0-12l-12 12m15-16h16m-8-8v16m-6-14l12 12m0-12l-12 12m-38-13h16m-8-8v16m-6-14l12 12m0-12l-12 12m116 39h16m-8-8v16m-6-14l12 12m0-12l-12 12m-131-36h16m-8-8v16m-6-14l12 12m0-12l-12 12m-26 8h16m-8-8v16m109-38h16m-8-8v16m-6-14l12 12m0-12l-12 12m26 36h16m-8-8v16m53 34h16m-8-8v16m-6-14l12 12m0-12l-12 12m-30-4h16m-8-8v16m-6-14l12 12m0-12l-12 12m-58-74l16 16m0-16l-16 16m-10-8h16m-8-8v16m-6-14l12 12m0-12l-12 12m-95-18h16m-8-8v16m-6-14l12 12m0-12l-12 12m-34 19h16m-8-8v16m-6-14l12 12m0-12l-12 12m166 5l16 16m0-16l-16 16m48 10h16m-8-8v16m-28-25l16 16m0-16l-16 16m-72-53h16m-8-8v16m61 9l16 16m0-16l-16 16m-65-39h16m-8-8v16m-6-14l12 12m0-12l-12 12m19 21l16 16m0-16l-16 16m97 44l16 16m0-16l-16 16m-203-89h16m-8-8v16m-6-14l12 12m0-12l-12 12m105 9h16m-8-8v16m-6-14l12 12m0-12l-12 12m69 34h16m-8-8v16m-6-14l12 12m0-12l-12 12m0 13h16m-8-8v16m-6-14l12 12m0-12l-12 12m19-7h16m-8-8v16m-6-14l12 12m0-12l-12 12m-210-103h16m-8-8v16m-6-14l12 12m0-12l-12 12m-8 27h16m-8-8v16m-6-14l12 12m0-12l-12 12m-9-41l16 16m0-16l-16 16m212 76h16m-8-8v16m-6-14l12 12m0-12l-12 12m-32-1l16 16m0-16l-16 16m-114-92h16m-8-8v16m-6-14l12 12m0-12l-12 12m-18-3h16m-8-8v16m-47-28l16 16m0-16l-16 16m-29 42h16m-8-8v16m-6-14l12 12m0-12l-12 12m63-66h16m-8-8v16m-6-14l12 12m0-12l-12 12m148 60h16m-8-8v16m-6-14l12 12m0-12l-12 12m-181-66l16 16m0-16l-16 16m14-42l16 16m0-16l-16 16m148 70h16m-8-8v16m-6-14l12 12m0-12l-12 12m8-13l16 16m0-16l-16 16m-127-99l16 16m0-16l-16 16m-35 18l16 16m0-16l-16 16m156 19h16m-8-8v16m-6-14l12 12m0-12l-12 12m-126-44h16m-8-8v16m34 13h16m-8-8v16m-6-14l12 12m0-12l-12 12m83 21l16 16m0-16l-16 16m-32-33h16m-8-8v16m-6-14l12 12m0-12l-12 12m-72-19l16 16m0-16l-16 16m67-3h16m-8-8v16m-186-4h16m-8-8v16m-6-14l12 12m0-12l-12 12m198-5h16m-8-8v16m-6-14l12 12m0-12l-12 12m-112-63l16 16m0-16l-16 16m-47 7h16m-8-8v16m-38-8l16 16m0-16l-16 16m149 11h16m-8-8v16m-6-14l12 12m0-12l-12 12m-125-11h16m-8-8v16m-6-14l12 12m0-12l-12 12m12-20h16m-8-8v16m-6-14l12 12m0-12l-12 12m124 9h16m-8-8v16m-6-14l12 12m0-12l-12 12m-191-2l16 16m0-16l-16 16m91-38h16m-8-8v16m-6-14l12 12m0-12l-12 12m-51-7h16m-8-8v16m-6-14l12 12m0-12l-12 12m104-14h16m-8-8v16m-6-14l12 12m0-12l-12 12m-148 14l16 16m0-16l-16 16m196 1h16m-8-8v16m-6-14l12 12m0-12l-12 12m24 48h16m-8-8v16m-6-14l12 12m0-12l-12 12m-62-69h16m-8-8v16m-6-14l12 12m0-12l-12 12m-22-8h16m-8-8v16m-6-14l12 12m0-12l-12 12m43 20h16m-8-8v16m-6-14l12 12m0-12l-12 12m3 25h16m-8-8v16m-6-14l12 12m0-12l-12 12m-13-75h16m-8-8v16m-6-14l12 12m0-12l-12 12m-173 14h16m-8-8v16m95-36h16m-8-8v16m-6-14l12 12m0-12l-12 12m-85 2h16m-8-8v16m-6-14l12 12m0-12l-12 12m83-33h16m-8-8v16m-6-14l12 12m0-12l-12 12m71 75h16m-8-8v16m-6-14l12 12m0-12l-12 12m-17-36h16m-8-8v16m-6-14l12 12m0-12l-12 12m-29-45l16 16m0-16l-16 16m100 80h16m-8-8v16m-6-14l12 12m0-12l-12 12m-155-108h16m-8-8v16m-6-14l12 12m0-12l-12 12m57 24h16m-8-8v16m-6-14l12 12m0-12l-12 12m57 34h16m-8-8v16m-6-14l12 12m0-12l-12 12m-66-36h16m-8-8v16m-6-14l12 12m0-12l-12 12m-93-46h16m-8-8v16m-6-14l12 12m0-12l-12 12m-66 40l16 16m0-16l-16 16m37-31h16m-8-8v16m-6-14l12 12m0-12l-12 12m157-2h16m-8-8v16m-6-14l12 12m0-12l-12 12m-38-6l16 16m0-16l-16 16m-99-58h16m-8-8v16m61 14h16m-8-8v16m-6-14l12 12m0-12l-12 12m-110 16h16m-8-8v16m-6-14l12 12m0-12l-12 12m103-39h16m-8-8v16m-6-14l12 12m0-12l-12 12m21 17l16 16m0-16l-16 16m-23-34h16m-8-8v16m-6-14l12 12m0-12l-12 12m-96 16h16m-8-8v16m130-18h16m-8-8v16m-84-31h16m-8-8v16m-6-14l12 12m0-12l-12 12m-90 32l16 16m0-16l-16 16m198 38h16m-8-8v16m-6-14l12 12m0-12l-12 12m39-16l16 16m0-16l-16 16m-64-59l16 16m0-16l-16 16m-177-14h16m-8-8v16m80-32h16m-8-8v16m-6-14l12 12m0-12l-12 12m-60 15h16m-8-8v16m-6-14l12 12m0-12l-12 12m198 57h16m-8-8v16m-118-107h16m-8-8v16m-6-14l12 12m0-12l-12 12m84 57h16m-8-8v16m-6-14l12 12m0-12l-12 12m-23-30h16m-8-8v16m-6-14l12 12m0-12l-12 12" stroke="#0000ff"/></g><path d="M440.5 1555H508.5V1605H440.5Z" stroke="#999" stroke-width="2.9" fill="none" stroke-dasharray="8.2 5.1"/><path d="M508.5 1555L612 1424.3H903.2V1883H610.5L508.5 1605" stroke="#999" stroke-width="2.9" fill="none" stroke-dasharray="8.2 5.1"/><text x="712.5" y="1411.3" font-size="26" textLength="181.5" text-anchor="middle">Parietal region</text><text x="223.3" y="1447.2" font-size="25" text-anchor="middle" fill="#00dd00">IT</text><text x="398.2" y="1521.8" font-size="25" text-anchor="middle" fill="#0000ff">PT</text><text x="488.5" y="1877" font-size="25" text-anchor="middle" fill="#ff0000">EMX</text><path d="M41.1 1928.4L41.1 1843.2" stroke="#000" stroke-width="4.2" fill="none"/><path d="M41.1 1832L48.6 1848.5L41.1 1843.2L33.6 1848.5Z" fill="#000"/><path d="M39 1926.3L123.4 1926.3" stroke="#000" stroke-width="4.2" fill="none"/><path d="M134.6 1926.3L118.1 1933.8L123.4 1926.3L118.1 1918.8Z" fill="#000"/><text x="20" y="1883" font-size="25" textLength="87.8" text-anchor="middle" transform="rotate(-90 20 1883)">UMAP2</text><text x="87" y="1964" font-size="25" textLength="84.7" text-anchor="middle">UMAP1</text><g transform="translate(693 1444.8)"><g clip-path="url(#bc95_5)"><g filter="url(#inf)"><rect x="-45.4" y="0" width="90.7" height="95.5" fill="rgb(0,0,0)"/><ellipse cx="14.8" cy="63.5" rx="6.4" ry="6.4" fill="url(#hb)"/></g><use href="#ba95_5x" stroke="#fff" stroke-opacity="0.95" stroke-width="1"/><path d="M0 2.9V84.5" stroke="#fff" stroke-width="1.8"/></g><use href="#bo95_5" stroke="#0000ff" stroke-width="1.3"/></g><g transform="translate(848.5 1533.6)"><g clip-path="url(#bc95_5)"><g filter="url(#inf)"><rect x="-45.4" y="0" width="90.7" height="95.5" fill="rgb(0,0,0)"/><ellipse cx="21.5" cy="68.8" rx="10.9" ry="8.2" fill="url(#hb)" transform="rotate(25 21.5 68.8)"/></g><use href="#ba95_5x" stroke="#fff" stroke-opacity="0.95" stroke-width="1"/><path d="M0 2.9V84.5" stroke="#fff" stroke-width="1.8"/></g><use href="#bo95_5" stroke="#a52a2a" stroke-width="1.3"/></g><g transform="translate(644 1719)"><g clip-path="url(#bc95_5)"><g filter="url(#inf)"><rect x="-45.4" y="0" width="90.7" height="95.5" fill="rgb(0,0,0)"/><ellipse cx="25.8" cy="74" rx="6.4" ry="6.4" fill="url(#hb)"/></g><use href="#ba95_5x" stroke="#fff" stroke-opacity="0.95" stroke-width="1"/><path d="M0 2.9V84.5" stroke="#fff" stroke-width="1.8"/></g><use href="#bo95_5" stroke="#00d000" stroke-width="1.3"/></g><text x="657.4" y="1457.9" font-size="25" text-anchor="middle" fill="#0000ff">I</text><text x="791.6" y="1544.9" font-size="25" text-anchor="middle">III</text><text x="604.8" y="1716.3" font-size="25" text-anchor="middle" fill="#00d000">II</text><path d="M682.6 1540L679.2 1574M803.5 1610.5L751 1632M617 1741.9L572 1690" stroke="#000" stroke-width="2.3" fill="none"/><path d="M673 1575.5H685.5L679 1587ZM741.5 1636L753.5 1627.5L752.5 1640ZM568.8 1680.5L575.5 1687.2L568.8 1694L562 1687.2Z" stroke="#000" stroke-width="2.1" fill="#fff"/><path d="M499.2 1352.3C498.9 1352 498.2 1350.8 497.1 1350.2C496 1349.7 494.3 1349.3 492.5 1349.1C490.7 1348.9 488.5 1348.9 486.3 1349C484.1 1349.1 481.2 1349.2 479.3 1349.8C477.4 1350.3 475.9 1351.1 474.7 1352.3C473.5 1353.6 472.7 1355.5 472.1 1357.4C471.5 1359.2 471.2 1361.6 471.1 1363.5C471 1365.5 471.1 1367.3 471.3 1369C471.6 1370.6 472.5 1372.8 472.7 1373.6C471.9 1374.1 469.8 1374.7 467.7 1376.7C465.6 1378.7 463.2 1382.5 460.4 1385.8C457.5 1389.2 453.3 1393.3 450.7 1396.8C448.1 1400.3 446.6 1403.3 444.9 1406.9C443.2 1410.4 441.7 1414.7 440.6 1418.1C439.6 1421.4 439.1 1424 438.7 1427C438.3 1430 438.1 1433.4 438.2 1436.3C438.2 1439.1 438.7 1441.2 439.1 1444C439.4 1446.9 439.5 1450.3 440.2 1453.3C441 1456.3 442.1 1458.9 443.7 1461.8C445.3 1464.7 447.6 1468.5 449.9 1470.7C452.2 1472.9 454.9 1473.6 457.7 1475C460.4 1476.3 463.3 1477.8 466.2 1478.8C469 1479.8 472.1 1480.9 474.7 1481C477.3 1481.1 479.1 1480.2 481.6 1479.5C484.2 1478.7 487.8 1477.9 490.1 1476.5C492.5 1475.1 494.1 1472.9 495.6 1471.1C497.1 1469.3 498.6 1466.6 499.2 1465.7C499.8 1466.6 501.3 1469.3 502.8 1471.1C504.3 1472.9 505.9 1475.1 508.3 1476.5C510.6 1477.9 514.2 1478.7 516.8 1479.5C519.3 1480.2 521.1 1481.1 523.7 1481C526.3 1480.9 529.4 1479.8 532.2 1478.8C535.1 1477.8 538 1476.3 540.7 1475C543.5 1473.6 546.2 1472.9 548.5 1470.7C550.8 1468.5 553.1 1464.7 554.7 1461.8C556.3 1458.9 557.4 1456.3 558.2 1453.3C558.9 1450.3 559 1446.9 559.3 1444C559.7 1441.2 560.2 1439.1 560.2 1436.3C560.3 1433.4 560.1 1430 559.7 1427C559.3 1424 558.8 1421.4 557.8 1418.1C556.7 1414.7 555.2 1410.4 553.5 1406.9C551.8 1403.3 550.3 1400.3 547.7 1396.8C545.1 1393.3 540.9 1389.2 538 1385.8C535.2 1382.5 532.8 1378.7 530.7 1376.7C528.6 1374.7 526.5 1374.1 525.7 1373.6C525.9 1372.8 526.8 1370.6 527.1 1369C527.3 1367.3 527.4 1365.5 527.3 1363.5C527.2 1361.6 526.9 1359.2 526.3 1357.4C525.7 1355.5 524.9 1353.6 523.7 1352.3C522.5 1351.1 521 1350.3 519.1 1349.8C517.2 1349.2 514.3 1349.1 512.1 1349C509.9 1348.9 507.7 1348.9 505.9 1349.1C504.1 1349.3 502.4 1349.7 501.3 1350.2C500.2 1350.8 499.5 1352 499.2 1352.3Z" fill="#fff" stroke="none"/><path d="M472.7 1373.6L477.8 1373.2L485.5 1372.7L493.2 1373L496.7 1374.2L499.2 1376.9M525.7 1373.6L520.6 1373.2L512.9 1372.7L505.2 1373L501.7 1374.2L499.2 1376.9M460.4 1386L478.2 1403.8M538 1386L520.2 1403.8M478.2 1403.8L481.6 1399.3L487.1 1395.9L493.2 1393.9L496 1392.9L496.3 1389.9L496.7 1386.4L499.2 1385.6M520.2 1403.8L516.8 1399.3L511.3 1395.9L505.2 1393.9L502.4 1392.9L502.1 1389.9L501.7 1386.4L499.2 1385.6M478.2 1403.8L481.6 1407.6L485.5 1413.1L488.6 1420.8L489.8 1428.5L490.1 1430.7M520.2 1403.8L516.8 1407.6L512.9 1413.1L509.8 1420.8L508.6 1428.5L508.3 1430.7M450.7 1397L456.9 1404.7L463.8 1410.9L474.7 1421.7L483.2 1430.5M547.7 1397L541.5 1404.7L534.6 1410.9L523.7 1421.7L515.2 1430.5M483.2 1430.5L490.1 1430.7L499.2 1430.9M515.2 1430.5L508.3 1430.7L499.2 1430.9M440.6 1418.3L446.8 1415.9L453.4 1416.3M557.8 1418.3L551.6 1415.9L545 1416.3M456.9 1405.3L456.5 1408.4L455.3 1413.5L453.4 1416.5L452.2 1420L453 1423.9L456.9 1427L460 1432.4L462.3 1438.2M541.5 1405.3L541.9 1408.4L543.1 1413.5L545 1416.5L546.2 1420L545.4 1423.9L541.5 1427L538.4 1432.4L536.1 1438.2M462.3 1438.2L474.7 1434.7L484 1431M536.1 1438.2L523.7 1434.7L514.4 1431M462.3 1438.2L461.1 1440.1L460.7 1445.6L454.6 1451.8L448 1455.6M536.1 1438.2L537.3 1440.1L537.7 1445.6L543.8 1451.8L550.4 1455.6M439.1 1442.9L442.9 1449.4L444.9 1454.8L448 1455.6M559.3 1442.9L555.5 1449.4L553.5 1454.8L550.4 1455.6M448 1455.6L451.6 1461.2L450.3 1470.7M550.4 1455.6L546.8 1461.2L548.1 1470.7M451.6 1461.2L456.9 1456.5L462.3 1453.5L466.3 1454.3M546.8 1461.2L541.5 1456.5L536.1 1453.5L532.1 1454.3M466.3 1454.3L473.1 1450.4L480.2 1446.5M532.1 1454.3L525.3 1450.4L518.2 1446.5M484.6 1431L482.3 1438.2L480.7 1446.5L479.5 1455.6L479.5 1467.2L481.2 1479.5M513.8 1431L516.1 1438.2L517.7 1446.5L518.9 1455.6L518.9 1467.2L517.2 1479.5M466.3 1454.3L474.7 1467.2L480.9 1479.8M532.1 1454.3L523.7 1467.2L517.5 1479.8M499.2 1352.3L499.2 1465.7" stroke="#000" stroke-width="1" fill="none" stroke-linejoin="round"/><path d="M516.5 1431.6C516.8 1430.6 525.3 1434.3 527.3 1435.5C529.3 1436.7 534.7 1441.8 536.6 1443.2C538.4 1444.7 544.3 1449 545.9 1450.2C547.4 1451.4 551.7 1454.7 552 1455.6C552.4 1456.5 550.2 1459.7 549 1459.5C547.7 1459.3 541.3 1454.1 539.7 1453.3C538 1452.5 534.3 1452.4 532.7 1451.8C531.2 1451.1 525.8 1448.3 524.2 1446.3C522.6 1444.3 516.1 1432.7 516.5 1431.6Z" fill="#ccc" stroke="#000" stroke-width="2.2" stroke-linejoin="round"/><path d="M499.2 1352.3C498.9 1352 498.2 1350.8 497.1 1350.2C496 1349.7 494.3 1349.3 492.5 1349.1C490.7 1348.9 488.5 1348.9 486.3 1349C484.1 1349.1 481.2 1349.2 479.3 1349.8C477.4 1350.3 475.9 1351.1 474.7 1352.3C473.5 1353.6 472.7 1355.5 472.1 1357.4C471.5 1359.2 471.2 1361.6 471.1 1363.5C471 1365.5 471.1 1367.3 471.3 1369C471.6 1370.6 472.5 1372.8 472.7 1373.6C471.9 1374.1 469.8 1374.7 467.7 1376.7C465.6 1378.7 463.2 1382.5 460.4 1385.8C457.5 1389.2 453.3 1393.3 450.7 1396.8C448.1 1400.3 446.6 1403.3 444.9 1406.9C443.2 1410.4 441.7 1414.7 440.6 1418.1C439.6 1421.4 439.1 1424 438.7 1427C438.3 1430 438.1 1433.4 438.2 1436.3C438.2 1439.1 438.7 1441.2 439.1 1444C439.4 1446.9 439.5 1450.3 440.2 1453.3C441 1456.3 442.1 1458.9 443.7 1461.8C445.3 1464.7 447.6 1468.5 449.9 1470.7C452.2 1472.9 454.9 1473.6 457.7 1475C460.4 1476.3 463.3 1477.8 466.2 1478.8C469 1479.8 472.1 1480.9 474.7 1481C477.3 1481.1 479.1 1480.2 481.6 1479.5C484.2 1478.7 487.8 1477.9 490.1 1476.5C492.5 1475.1 494.1 1472.9 495.6 1471.1C497.1 1469.3 498.6 1466.6 499.2 1465.7C499.8 1466.6 501.3 1469.3 502.8 1471.1C504.3 1472.9 505.9 1475.1 508.3 1476.5C510.6 1477.9 514.2 1478.7 516.8 1479.5C519.3 1480.2 521.1 1481.1 523.7 1481C526.3 1480.9 529.4 1479.8 532.2 1478.8C535.1 1477.8 538 1476.3 540.7 1475C543.5 1473.6 546.2 1472.9 548.5 1470.7C550.8 1468.5 553.1 1464.7 554.7 1461.8C556.3 1458.9 557.4 1456.3 558.2 1453.3C558.9 1450.3 559 1446.9 559.3 1444C559.7 1441.2 560.2 1439.1 560.2 1436.3C560.3 1433.4 560.1 1430 559.7 1427C559.3 1424 558.8 1421.4 557.8 1418.1C556.7 1414.7 555.2 1410.4 553.5 1406.9C551.8 1403.3 550.3 1400.3 547.7 1396.8C545.1 1393.3 540.9 1389.2 538 1385.8C535.2 1382.5 532.8 1378.7 530.7 1376.7C528.6 1374.7 526.5 1374.1 525.7 1373.6C525.9 1372.8 526.8 1370.6 527.1 1369C527.3 1367.3 527.4 1365.5 527.3 1363.5C527.2 1361.6 526.9 1359.2 526.3 1357.4C525.7 1355.5 524.9 1353.6 523.7 1352.3C522.5 1351.1 521 1350.3 519.1 1349.8C517.2 1349.2 514.3 1349.1 512.1 1349C509.9 1348.9 507.7 1348.9 505.9 1349.1C504.1 1349.3 502.4 1349.7 501.3 1350.2C500.2 1350.8 499.5 1352 499.2 1352.3Z" fill="none" stroke="#000" stroke-width="2.6" stroke-linejoin="round"/><defs><path id="il" d="M0 8.7C0.8 8.7 5.4 9.7 6.5 8.7C7.6 7.7 9.4 1 9.8 0M6.5 8.7C8.8 9.4 21.7 13.7 26 15.2C30.3 16.7 40.1 20.6 43.4 21.7C46.6 22.7 52.1 23.6 54.2 24.3C56.3 25 60.5 27.3 61.4 27.8M6.5 8.7C7 10.4 9.8 20.3 10.8 23.8C11.9 27.4 14.3 35.2 15.2 39C16.1 42.8 18 52.1 18.4 56.4C18.8 60.7 18.6 71.2 18.4 75.9C18.3 80.6 17.5 94.1 17.3 96.5M11.9 28.2C14.3 28.7 26.7 31.1 32.5 32.5C38.3 33.9 58.4 39.2 61.8 40.1M16.3 43.4C18.2 44.6 28.5 51.8 32.5 54.2C36.6 56.6 47.9 62.9 50.9 64C54 65 57.7 63 58.5 62.9M0 32.5C0.5 35 3.7 49.1 4.3 54.2C5 59.3 5.5 70.9 5.4 75.9C5.3 80.8 3.5 94.1 3.3 96.5M52 0C51.4 2 46.4 14.5 46.6 17.3C46.9 20.2 53.3 23.5 54.2 24.3M73.7 0C72.4 1.5 64.3 9.8 62.9 13C61.4 16.2 61.4 24.6 61.4 27.8C61.4 30.9 62.8 37 62.9 40.1C62.9 43.2 62.3 51.5 61.8 54.2C61.3 56.9 58.9 61.9 58.5 62.9M58.5 62.9C56.8 64.6 45.9 74.1 43.4 78C40.8 82 37.6 94.3 36.9 96.5M58.5 62.9C60.3 63.9 70.4 68.8 73.7 71.5C77 74.3 84.7 83.8 86.7 86.7C88.7 89.6 90.5 95.3 91.1 96.5M18.4 75.9C20.1 75.1 28.7 70.8 32.5 69.4C36.3 68 48.8 64.6 50.9 64M62.9 40.1C65.1 41.8 78.5 51 82.4 54.2C86.3 57.4 94.8 65.7 96.5 67.2M86.7 86.7C87.9 85.2 95.3 75.2 96.5 73.7M91.1 96.5C91.7 95.8 95.8 91.7 96.5 91.1" stroke="#fff" stroke-width="1.1" fill="none"/></defs><clipPath id="ic0"><rect x="1401" y="1863.5" width="96.6" height="96.6"/></clipPath><g clip-path="url(#ic0)"><g filter="url(#inf)"><rect x="1401" y="1863.5" width="96.6" height="96.6" fill="#000"/><ellipse cx="1421.6" cy="1886.3" rx="19.5" ry="17.9" fill="url(#hb)" opacity="1"/><ellipse cx="1433.5" cy="1876.5" rx="14.6" ry="13" fill="url(#hb)" opacity=".3"/></g><use href="#il" x="1401" y="1863.5"/></g><clipPath id="ic1"><rect x="1533.2" y="1863.5" width="96.6" height="96.6"/></clipPath><g clip-path="url(#ic1)"><g filter="url(#inf)"><rect x="1533.2" y="1863.5" width="96.6" height="96.6" fill="#000"/><ellipse cx="1593.9" cy="1917.7" rx="17.9" ry="16.3" fill="url(#hb)" opacity="1" transform="rotate(35 1593.9 1917.7)"/><ellipse cx="1602.6" cy="1926.4" rx="14.6" ry="11.4" fill="url(#hb)" opacity=".8" transform="rotate(35 1602.6 1926.4)"/></g><use href="#il" x="1533.2" y="1863.5"/></g><clipPath id="ic2"><rect x="1665.2" y="1863.5" width="96.6" height="96.6"/></clipPath><g clip-path="url(#ic2)"><g filter="url(#inf)"><rect x="1665.2" y="1863.5" width="96.6" height="96.6" fill="#000"/><ellipse cx="1704.2" cy="1896" rx="22.8" ry="16.3" fill="url(#hb)" opacity="1" transform="rotate(30 1704.2 1896)"/><ellipse cx="1716.1" cy="1910.1" rx="17.9" ry="16.3" fill="url(#hb)" opacity="1" transform="rotate(30 1716.1 1910.1)"/><ellipse cx="1691.2" cy="1885.2" rx="26" ry="19.5" fill="url(#hb)" opacity=".55" transform="rotate(30 1691.2 1885.2)"/><ellipse cx="1715.1" cy="1919.9" rx="22.8" ry="19.5" fill="url(#hb)" opacity=".5" transform="rotate(30 1715.1 1919.9)"/></g><use href="#il" x="1665.2" y="1863.5"/></g></svg></body></html>
